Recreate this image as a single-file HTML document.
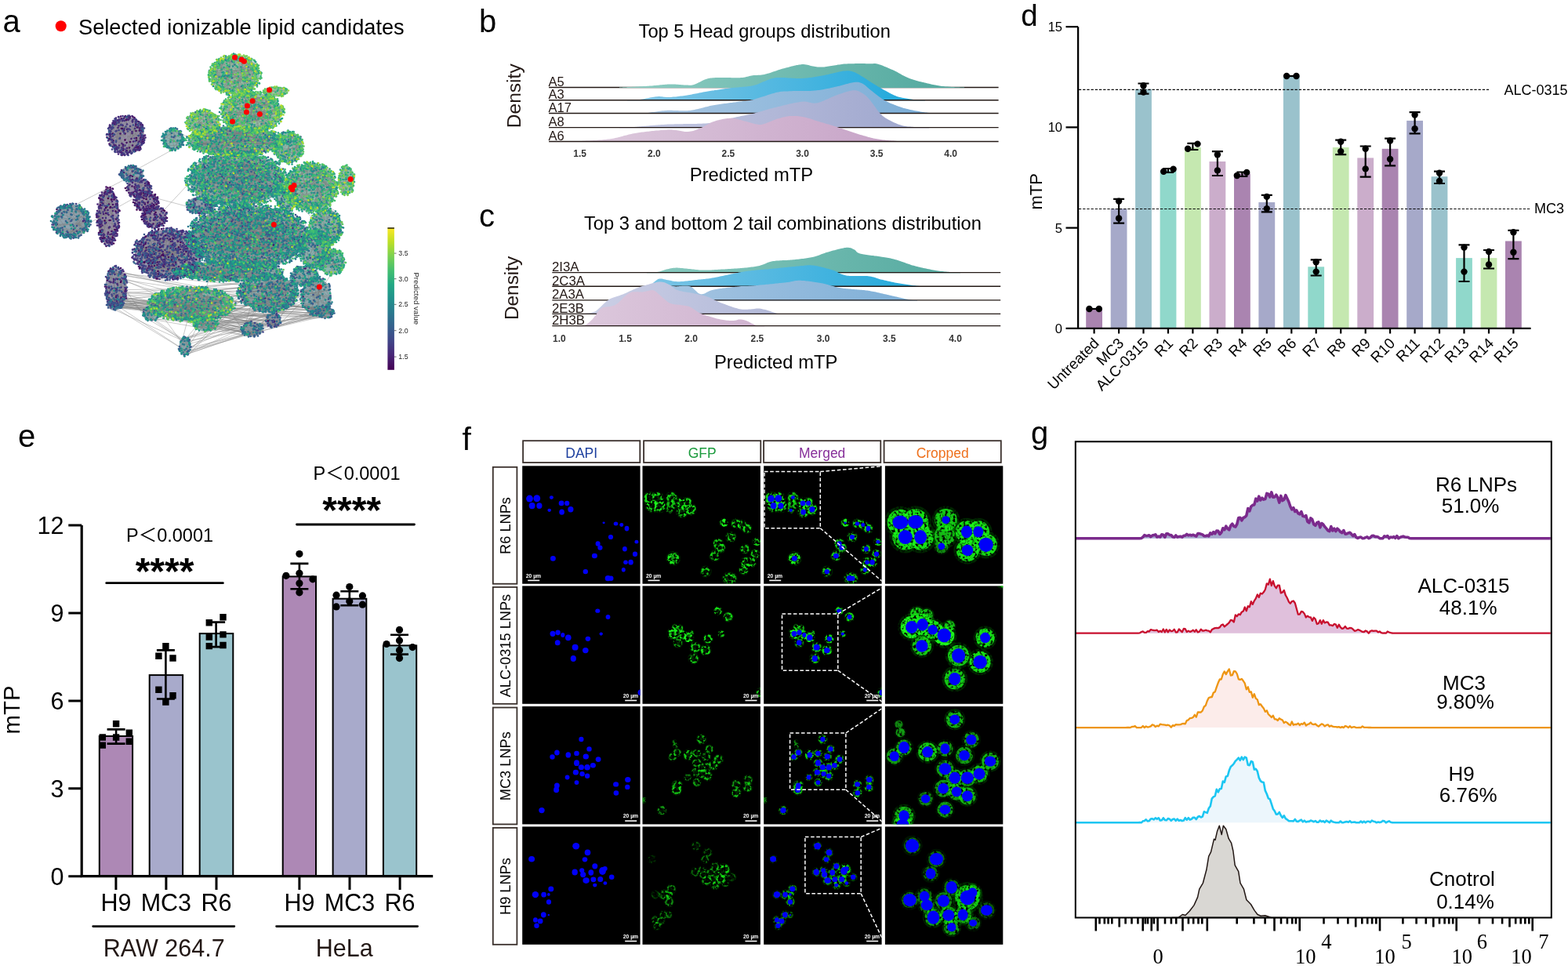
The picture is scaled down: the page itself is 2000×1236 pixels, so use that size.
<!DOCTYPE html>
<html><head><meta charset="utf-8"><title>Figure</title>
<style>html,body{margin:0;padding:0;background:#fff;width:2000px;height:1236px;overflow:hidden}svg{display:block}</style>
</head><body><svg width="2000" height="1236" viewBox="0 0 2000 1236"><defs><linearGradient id="vir" x1="0" y1="1" x2="0" y2="0"><stop offset="0" stop-color="rgb(68,1,84)"/><stop offset="0.1" stop-color="rgb(72,36,117)"/><stop offset="0.2" stop-color="rgb(65,68,135)"/><stop offset="0.3" stop-color="rgb(53,95,141)"/><stop offset="0.4" stop-color="rgb(42,120,142)"/><stop offset="0.5" stop-color="rgb(33,145,140)"/><stop offset="0.6" stop-color="rgb(34,168,132)"/><stop offset="0.7" stop-color="rgb(68,191,112)"/><stop offset="0.8" stop-color="rgb(122,209,81)"/><stop offset="0.9" stop-color="rgb(189,223,38)"/><stop offset="1" stop-color="rgb(253,231,37)"/></linearGradient></defs><defs><linearGradient id="gb0" gradientUnits="userSpaceOnUse" x1="760" y1="0" x2="1200" y2="0"><stop offset="0" stop-color="#93d0c5"/><stop offset="1" stop-color="#55aaa0"/></linearGradient><linearGradient id="gb1" gradientUnits="userSpaceOnUse" x1="760" y1="0" x2="1200" y2="0"><stop offset="0" stop-color="#93cbe8"/><stop offset="1" stop-color="#16a6da"/></linearGradient><linearGradient id="gb2" gradientUnits="userSpaceOnUse" x1="760" y1="0" x2="1200" y2="0"><stop offset="0" stop-color="#b2cbe4"/><stop offset="1" stop-color="#78acd6"/></linearGradient><linearGradient id="gb3" gradientUnits="userSpaceOnUse" x1="760" y1="0" x2="1200" y2="0"><stop offset="0" stop-color="#c8cce4"/><stop offset="1" stop-color="#9ca4cc"/></linearGradient><linearGradient id="gb4" gradientUnits="userSpaceOnUse" x1="760" y1="0" x2="1200" y2="0"><stop offset="0" stop-color="#dcc8dc"/><stop offset="1" stop-color="#c49ec4"/></linearGradient><linearGradient id="gc0" gradientUnits="userSpaceOnUse" x1="740" y1="0" x2="1220" y2="0"><stop offset="0" stop-color="#93d0c5"/><stop offset="1" stop-color="#55aaa0"/></linearGradient><linearGradient id="gc1" gradientUnits="userSpaceOnUse" x1="740" y1="0" x2="1220" y2="0"><stop offset="0" stop-color="#93cbe8"/><stop offset="1" stop-color="#16a6da"/></linearGradient><linearGradient id="gc2" gradientUnits="userSpaceOnUse" x1="740" y1="0" x2="1220" y2="0"><stop offset="0" stop-color="#b2cbe4"/><stop offset="1" stop-color="#78acd6"/></linearGradient><linearGradient id="gc3" gradientUnits="userSpaceOnUse" x1="740" y1="0" x2="1220" y2="0"><stop offset="0" stop-color="#ccd0e6"/><stop offset="1" stop-color="#9ca4cc"/></linearGradient><linearGradient id="gc4" gradientUnits="userSpaceOnUse" x1="740" y1="0" x2="1220" y2="0"><stop offset="0" stop-color="#dcc8dc"/><stop offset="1" stop-color="#c49ec4"/></linearGradient></defs><defs><filter id="spk" x="-10" y="-10" width="170" height="170" filterUnits="userSpaceOnUse"><feTurbulence type="fractalNoise" baseFrequency="0.32" numOctaves="2" seed="4" result="n"/><feColorMatrix in="n" type="matrix" values="0 0 0 0 0 0 0 0 0 0 0 0 0 0 0 0 0 0 5 -1.9" result="m"/><feComposite in="SourceGraphic" in2="m" operator="in"/></filter><filter id="spk2" x="-10" y="-10" width="170" height="170" filterUnits="userSpaceOnUse"><feTurbulence type="fractalNoise" baseFrequency="0.62" numOctaves="2" seed="9" result="n"/><feColorMatrix in="n" type="matrix" values="0 0 0 0 0 0 0 0 0 0 0 0 0 0 0 0 0 0 4 -1.1" result="m"/><feComposite in="SourceGraphic" in2="m" operator="in"/></filter><clipPath id="pc"><rect x="0" y="0" width="150.4" height="150.4"/></clipPath><g id="g0"><g filter="url(#spk)"><circle cx="9.3" cy="41.8" r="7.5" fill="#22ff22" fill-opacity="0.9"/><circle cx="9.3" cy="41.8" r="9.4" fill="#00c800" fill-opacity="0.2"/><circle cx="18.6" cy="41.5" r="7.5" fill="#22ff22" fill-opacity="0.9"/><circle cx="18.6" cy="41.5" r="9.4" fill="#00c800" fill-opacity="0.2"/><circle cx="12.4" cy="50.8" r="7.5" fill="#22ff22" fill-opacity="0.9"/><circle cx="12.4" cy="50.8" r="9.4" fill="#00c800" fill-opacity="0.2"/><circle cx="21.7" cy="50.8" r="7.5" fill="#22ff22" fill-opacity="0.9"/><circle cx="21.7" cy="50.8" r="9.4" fill="#00c800" fill-opacity="0.2"/><circle cx="37.2" cy="40.3" r="6.5" fill="#22ff22" fill-opacity="0.8"/><circle cx="37.2" cy="40.3" r="8.1" fill="#00c800" fill-opacity="0.2"/><circle cx="36.5" cy="50" r="6" fill="#22ff22" fill-opacity="0.7"/><circle cx="36.5" cy="50" r="7.5" fill="#00c800" fill-opacity="0.2"/><circle cx="34.5" cy="56.5" r="4" fill="#22ff22" fill-opacity="0.5"/><circle cx="34.5" cy="56.5" r="5" fill="#00c800" fill-opacity="0.1"/><circle cx="49.9" cy="47.6" r="6.5" fill="#22ff22" fill-opacity="0.9"/><circle cx="49.9" cy="47.6" r="8.1" fill="#00c800" fill-opacity="0.2"/><circle cx="57" cy="47.6" r="6.5" fill="#22ff22" fill-opacity="0.9"/><circle cx="57" cy="47.6" r="8.1" fill="#00c800" fill-opacity="0.2"/><circle cx="61.7" cy="55.5" r="6.5" fill="#22ff22" fill-opacity="0.9"/><circle cx="61.7" cy="55.5" r="8.1" fill="#00c800" fill-opacity="0.2"/><circle cx="50.4" cy="58.9" r="6.5" fill="#22ff22" fill-opacity="0.9"/><circle cx="50.4" cy="58.9" r="8.1" fill="#00c800" fill-opacity="0.2"/><circle cx="103.9" cy="72.5" r="5" fill="#22ff22" fill-opacity="1"/><circle cx="103.9" cy="72.5" r="6.2" fill="#00c800" fill-opacity="0.2"/><circle cx="119.3" cy="73.6" r="5.5" fill="#22ff22" fill-opacity="0.8"/><circle cx="119.3" cy="73.6" r="6.9" fill="#00c800" fill-opacity="0.2"/><circle cx="126.6" cy="75.2" r="5.5" fill="#22ff22" fill-opacity="0.8"/><circle cx="126.6" cy="75.2" r="6.9" fill="#00c800" fill-opacity="0.2"/><circle cx="133.3" cy="79.8" r="5.5" fill="#22ff22" fill-opacity="0.8"/><circle cx="133.3" cy="79.8" r="6.9" fill="#00c800" fill-opacity="0.2"/><circle cx="112.8" cy="90.7" r="6" fill="#22ff22" fill-opacity="0.8"/><circle cx="112.8" cy="90.7" r="7.5" fill="#00c800" fill-opacity="0.2"/><circle cx="145.7" cy="96.9" r="5" fill="#22ff22" fill-opacity="0.8"/><circle cx="145.7" cy="96.9" r="6.2" fill="#00c800" fill-opacity="0.2"/><circle cx="96.4" cy="99.2" r="6" fill="#22ff22" fill-opacity="0.8"/><circle cx="96.4" cy="99.2" r="7.5" fill="#00c800" fill-opacity="0.2"/><circle cx="99.2" cy="104.3" r="6" fill="#22ff22" fill-opacity="0.8"/><circle cx="99.2" cy="104.3" r="7.5" fill="#00c800" fill-opacity="0.2"/><circle cx="130.7" cy="105.9" r="5.5" fill="#22ff22" fill-opacity="0.8"/><circle cx="130.7" cy="105.9" r="6.9" fill="#00c800" fill-opacity="0.2"/><circle cx="143.8" cy="112.4" r="5.5" fill="#22ff22" fill-opacity="0.8"/><circle cx="143.8" cy="112.4" r="6.9" fill="#00c800" fill-opacity="0.2"/><circle cx="92.2" cy="114.7" r="6" fill="#22ff22" fill-opacity="0.8"/><circle cx="92.2" cy="114.7" r="7.5" fill="#00c800" fill-opacity="0.2"/><circle cx="39.2" cy="118.1" r="7.5" fill="#22ff22" fill-opacity="1"/><circle cx="39.2" cy="118.1" r="9.4" fill="#00c800" fill-opacity="0.2"/><circle cx="131.8" cy="122.9" r="6" fill="#22ff22" fill-opacity="0.8"/><circle cx="131.8" cy="122.9" r="7.5" fill="#00c800" fill-opacity="0.2"/><circle cx="138.4" cy="122.9" r="6" fill="#22ff22" fill-opacity="0.8"/><circle cx="138.4" cy="122.9" r="7.5" fill="#00c800" fill-opacity="0.2"/><circle cx="129.1" cy="132.5" r="5.5" fill="#22ff22" fill-opacity="0.8"/><circle cx="129.1" cy="132.5" r="6.9" fill="#00c800" fill-opacity="0.2"/><circle cx="80.6" cy="134.8" r="6" fill="#22ff22" fill-opacity="0.8"/><circle cx="80.6" cy="134.8" r="7.5" fill="#00c800" fill-opacity="0.2"/><circle cx="109.3" cy="143.4" r="6.5" fill="#22ff22" fill-opacity="0.7"/><circle cx="109.3" cy="143.4" r="8.1" fill="#00c800" fill-opacity="0.2"/><circle cx="113.1" cy="143.4" r="6.5" fill="#22ff22" fill-opacity="0.7"/><circle cx="113.1" cy="143.4" r="8.1" fill="#00c800" fill-opacity="0.2"/></g></g><g id="b0"><ellipse cx="9.3" cy="41.8" rx="4.4" ry="4.5" fill="#0000f8"/><ellipse cx="18.6" cy="41.5" rx="4.4" ry="4.5" fill="#0000f8"/><ellipse cx="12.4" cy="50.8" rx="4" ry="4.2" fill="#0000f8"/><ellipse cx="21.7" cy="50.8" rx="3.6" ry="3.9" fill="#0000f8"/><ellipse cx="37.2" cy="40.3" rx="2.5" ry="2.4" fill="#0000f8"/><ellipse cx="34.5" cy="56.5" rx="2.3" ry="2.1" fill="#0000f8"/><ellipse cx="49.9" cy="47.6" rx="3.4" ry="3.3" fill="#0000f8"/><ellipse cx="57" cy="47.6" rx="3.1" ry="3.1" fill="#0000f8"/><ellipse cx="61.7" cy="55.5" rx="3.6" ry="3.7" fill="#0000f8"/><ellipse cx="50.4" cy="58.9" rx="3.3" ry="3.6" fill="#0000f8"/><ellipse cx="103.9" cy="72.5" rx="1.6" ry="1.4" fill="#0000f8"/><ellipse cx="119.3" cy="73.6" rx="2.8" ry="2.5" fill="#0000f8"/><ellipse cx="126.6" cy="75.2" rx="2.5" ry="2.4" fill="#0000f8"/><ellipse cx="133.3" cy="79.8" rx="2.9" ry="3.4" fill="#0000f8"/><ellipse cx="112.8" cy="90.7" rx="3.1" ry="3.1" fill="#0000f8"/><ellipse cx="145.7" cy="96.9" rx="2.5" ry="2.4" fill="#0000f8"/><ellipse cx="96.4" cy="99.2" rx="3" ry="3.3" fill="#0000f8"/><ellipse cx="99.2" cy="104.3" rx="3.1" ry="3.2" fill="#0000f8"/><ellipse cx="130.7" cy="105.9" rx="2.9" ry="3.2" fill="#0000f8"/><ellipse cx="143.8" cy="112.4" rx="3.1" ry="3.2" fill="#0000f8"/><ellipse cx="92.2" cy="114.7" rx="3.5" ry="3.2" fill="#0000f8"/><ellipse cx="39.2" cy="118.1" rx="3.4" ry="3.3" fill="#0000f8"/><ellipse cx="131.8" cy="122.9" rx="2.8" ry="2.8" fill="#0000f8"/><ellipse cx="138.4" cy="122.9" rx="3.2" ry="3.4" fill="#0000f8"/><ellipse cx="129.1" cy="132.5" rx="2.5" ry="2.8" fill="#0000f8"/><ellipse cx="80.6" cy="134.8" rx="3.2" ry="3.2" fill="#0000f8"/><ellipse cx="109.3" cy="143.4" rx="3.8" ry="3.6" fill="#0000f8"/><ellipse cx="113.1" cy="143.4" rx="3.2" ry="3.3" fill="#0000f8"/></g><g id="h0"><ellipse cx="9.3" cy="41.8" rx="3.7" ry="3.8" fill="#000" fill-opacity="0.8"/><ellipse cx="18.6" cy="41.5" rx="3.7" ry="3.8" fill="#000" fill-opacity="0.8"/><ellipse cx="12.4" cy="50.8" rx="3.4" ry="3.5" fill="#000" fill-opacity="0.8"/><ellipse cx="21.7" cy="50.8" rx="3.1" ry="3.3" fill="#000" fill-opacity="0.8"/><ellipse cx="37.2" cy="40.3" rx="2.1" ry="2" fill="#000" fill-opacity="0.8"/><ellipse cx="34.5" cy="56.5" rx="2" ry="1.8" fill="#000" fill-opacity="0.8"/><ellipse cx="49.9" cy="47.6" rx="2.9" ry="2.8" fill="#000" fill-opacity="0.8"/><ellipse cx="57" cy="47.6" rx="2.7" ry="2.7" fill="#000" fill-opacity="0.8"/><ellipse cx="61.7" cy="55.5" rx="3.1" ry="3.2" fill="#000" fill-opacity="0.8"/><ellipse cx="50.4" cy="58.9" rx="2.8" ry="3.1" fill="#000" fill-opacity="0.8"/><ellipse cx="103.9" cy="72.5" rx="1.3" ry="1.2" fill="#000" fill-opacity="0.35"/><ellipse cx="119.3" cy="73.6" rx="2.4" ry="2.2" fill="#000" fill-opacity="0.8"/><ellipse cx="126.6" cy="75.2" rx="2.2" ry="2" fill="#000" fill-opacity="0.8"/><ellipse cx="133.3" cy="79.8" rx="2.5" ry="2.9" fill="#000" fill-opacity="0.8"/><ellipse cx="112.8" cy="90.7" rx="2.7" ry="2.7" fill="#000" fill-opacity="0.8"/><ellipse cx="145.7" cy="96.9" rx="2.1" ry="2.1" fill="#000" fill-opacity="0.8"/><ellipse cx="96.4" cy="99.2" rx="2.5" ry="2.8" fill="#000" fill-opacity="0.8"/><ellipse cx="99.2" cy="104.3" rx="2.7" ry="2.7" fill="#000" fill-opacity="0.8"/><ellipse cx="130.7" cy="105.9" rx="2.4" ry="2.7" fill="#000" fill-opacity="0.8"/><ellipse cx="143.8" cy="112.4" rx="2.6" ry="2.7" fill="#000" fill-opacity="0.8"/><ellipse cx="92.2" cy="114.7" rx="3" ry="2.7" fill="#000" fill-opacity="0.8"/><ellipse cx="39.2" cy="118.1" rx="2.9" ry="2.8" fill="#000" fill-opacity="0.35"/><ellipse cx="131.8" cy="122.9" rx="2.4" ry="2.4" fill="#000" fill-opacity="0.8"/><ellipse cx="138.4" cy="122.9" rx="2.7" ry="2.9" fill="#000" fill-opacity="0.8"/><ellipse cx="129.1" cy="132.5" rx="2.1" ry="2.4" fill="#000" fill-opacity="0.8"/><ellipse cx="80.6" cy="134.8" rx="2.7" ry="2.7" fill="#000" fill-opacity="0.8"/><ellipse cx="109.3" cy="143.4" rx="3.2" ry="3.1" fill="#000" fill-opacity="0.8"/><ellipse cx="113.1" cy="143.4" rx="2.7" ry="2.8" fill="#000" fill-opacity="0.8"/></g><g id="cg0"><g filter="url(#spk2)"><circle cx="9.3" cy="41.8" r="7.9" fill="#22ff22" fill-opacity="0.9"/><circle cx="9.3" cy="41.8" r="9.8" fill="#00c800" fill-opacity="0.2"/><circle cx="18.6" cy="41.5" r="7.9" fill="#22ff22" fill-opacity="0.9"/><circle cx="18.6" cy="41.5" r="9.8" fill="#00c800" fill-opacity="0.2"/><circle cx="12.4" cy="50.8" r="7.9" fill="#22ff22" fill-opacity="0.9"/><circle cx="12.4" cy="50.8" r="9.8" fill="#00c800" fill-opacity="0.2"/><circle cx="21.7" cy="50.8" r="7.9" fill="#22ff22" fill-opacity="0.9"/><circle cx="21.7" cy="50.8" r="9.8" fill="#00c800" fill-opacity="0.2"/><circle cx="37.2" cy="40.3" r="6.8" fill="#22ff22" fill-opacity="0.8"/><circle cx="37.2" cy="40.3" r="8.5" fill="#00c800" fill-opacity="0.2"/><circle cx="36.5" cy="50" r="6.3" fill="#22ff22" fill-opacity="0.7"/><circle cx="36.5" cy="50" r="7.9" fill="#00c800" fill-opacity="0.2"/><circle cx="34.5" cy="56.5" r="4.2" fill="#22ff22" fill-opacity="0.5"/><circle cx="34.5" cy="56.5" r="5.2" fill="#00c800" fill-opacity="0.1"/><circle cx="49.9" cy="47.6" r="6.8" fill="#22ff22" fill-opacity="0.9"/><circle cx="49.9" cy="47.6" r="8.5" fill="#00c800" fill-opacity="0.2"/><circle cx="57" cy="47.6" r="6.8" fill="#22ff22" fill-opacity="0.9"/><circle cx="57" cy="47.6" r="8.5" fill="#00c800" fill-opacity="0.2"/><circle cx="61.7" cy="55.5" r="6.8" fill="#22ff22" fill-opacity="0.9"/><circle cx="61.7" cy="55.5" r="8.5" fill="#00c800" fill-opacity="0.2"/><circle cx="50.4" cy="58.9" r="6.8" fill="#22ff22" fill-opacity="0.9"/><circle cx="50.4" cy="58.9" r="8.5" fill="#00c800" fill-opacity="0.2"/><circle cx="103.9" cy="72.5" r="5.2" fill="#22ff22" fill-opacity="1"/><circle cx="103.9" cy="72.5" r="6.6" fill="#00c800" fill-opacity="0.2"/><circle cx="119.3" cy="73.6" r="5.8" fill="#22ff22" fill-opacity="0.8"/><circle cx="119.3" cy="73.6" r="7.2" fill="#00c800" fill-opacity="0.2"/><circle cx="126.6" cy="75.2" r="5.8" fill="#22ff22" fill-opacity="0.8"/><circle cx="126.6" cy="75.2" r="7.2" fill="#00c800" fill-opacity="0.2"/><circle cx="133.3" cy="79.8" r="5.8" fill="#22ff22" fill-opacity="0.8"/><circle cx="133.3" cy="79.8" r="7.2" fill="#00c800" fill-opacity="0.2"/><circle cx="112.8" cy="90.7" r="6.3" fill="#22ff22" fill-opacity="0.8"/><circle cx="112.8" cy="90.7" r="7.9" fill="#00c800" fill-opacity="0.2"/><circle cx="145.7" cy="96.9" r="5.2" fill="#22ff22" fill-opacity="0.8"/><circle cx="145.7" cy="96.9" r="6.6" fill="#00c800" fill-opacity="0.2"/><circle cx="96.4" cy="99.2" r="6.3" fill="#22ff22" fill-opacity="0.8"/><circle cx="96.4" cy="99.2" r="7.9" fill="#00c800" fill-opacity="0.2"/><circle cx="99.2" cy="104.3" r="6.3" fill="#22ff22" fill-opacity="0.8"/><circle cx="99.2" cy="104.3" r="7.9" fill="#00c800" fill-opacity="0.2"/><circle cx="130.7" cy="105.9" r="5.8" fill="#22ff22" fill-opacity="0.8"/><circle cx="130.7" cy="105.9" r="7.2" fill="#00c800" fill-opacity="0.2"/><circle cx="143.8" cy="112.4" r="5.8" fill="#22ff22" fill-opacity="0.8"/><circle cx="143.8" cy="112.4" r="7.2" fill="#00c800" fill-opacity="0.2"/><circle cx="92.2" cy="114.7" r="6.3" fill="#22ff22" fill-opacity="0.8"/><circle cx="92.2" cy="114.7" r="7.9" fill="#00c800" fill-opacity="0.2"/><circle cx="39.2" cy="118.1" r="7.9" fill="#22ff22" fill-opacity="1"/><circle cx="39.2" cy="118.1" r="9.8" fill="#00c800" fill-opacity="0.2"/><circle cx="131.8" cy="122.9" r="6.3" fill="#22ff22" fill-opacity="0.8"/><circle cx="131.8" cy="122.9" r="7.9" fill="#00c800" fill-opacity="0.2"/><circle cx="138.4" cy="122.9" r="6.3" fill="#22ff22" fill-opacity="0.8"/><circle cx="138.4" cy="122.9" r="7.9" fill="#00c800" fill-opacity="0.2"/><circle cx="129.1" cy="132.5" r="5.8" fill="#22ff22" fill-opacity="0.8"/><circle cx="129.1" cy="132.5" r="7.2" fill="#00c800" fill-opacity="0.2"/><circle cx="80.6" cy="134.8" r="6.3" fill="#22ff22" fill-opacity="0.8"/><circle cx="80.6" cy="134.8" r="7.9" fill="#00c800" fill-opacity="0.2"/><circle cx="109.3" cy="143.4" r="6.8" fill="#22ff22" fill-opacity="0.7"/><circle cx="109.3" cy="143.4" r="8.5" fill="#00c800" fill-opacity="0.2"/><circle cx="113.1" cy="143.4" r="6.8" fill="#22ff22" fill-opacity="0.7"/><circle cx="113.1" cy="143.4" r="8.5" fill="#00c800" fill-opacity="0.2"/></g></g><g id="cb0"><ellipse cx="9.3" cy="41.8" rx="4.7" ry="4.2" fill="#0000f8"/><ellipse cx="18.6" cy="41.5" rx="4.7" ry="4.1" fill="#0000f8"/><ellipse cx="12.4" cy="50.8" rx="4.3" ry="4.3" fill="#0000f8"/><ellipse cx="21.7" cy="50.8" rx="3.8" ry="4.3" fill="#0000f8"/><ellipse cx="37.2" cy="40.3" rx="2.4" ry="2.4" fill="#0000f8"/><ellipse cx="34.5" cy="56.5" rx="2.1" ry="2.1" fill="#0000f8"/><ellipse cx="49.9" cy="47.6" rx="3.4" ry="3.8" fill="#0000f8"/><ellipse cx="57" cy="47.6" rx="3.1" ry="3.4" fill="#0000f8"/><ellipse cx="61.7" cy="55.5" rx="4.4" ry="4.4" fill="#0000f8"/><ellipse cx="50.4" cy="58.9" rx="3.5" ry="3.5" fill="#0000f8"/><ellipse cx="103.9" cy="72.5" rx="1.6" ry="1.6" fill="#0000f8"/><ellipse cx="119.3" cy="73.6" rx="2.7" ry="2.9" fill="#0000f8"/><ellipse cx="126.6" cy="75.2" rx="2.7" ry="2.8" fill="#0000f8"/><ellipse cx="133.3" cy="79.8" rx="3.1" ry="3.6" fill="#0000f8"/><ellipse cx="112.8" cy="90.7" rx="3.2" ry="3.4" fill="#0000f8"/><ellipse cx="145.7" cy="96.9" rx="2.5" ry="2.6" fill="#0000f8"/><ellipse cx="96.4" cy="99.2" rx="3.2" ry="3.5" fill="#0000f8"/><ellipse cx="99.2" cy="104.3" rx="3.3" ry="3.2" fill="#0000f8"/><ellipse cx="130.7" cy="105.9" rx="3.1" ry="3" fill="#0000f8"/><ellipse cx="143.8" cy="112.4" rx="2.9" ry="3" fill="#0000f8"/><ellipse cx="92.2" cy="114.7" rx="3.6" ry="3.7" fill="#0000f8"/><ellipse cx="39.2" cy="118.1" rx="3.5" ry="3.4" fill="#0000f8"/><ellipse cx="131.8" cy="122.9" rx="3.4" ry="3.2" fill="#0000f8"/><ellipse cx="138.4" cy="122.9" rx="3.4" ry="3.3" fill="#0000f8"/><ellipse cx="129.1" cy="132.5" rx="2.9" ry="3" fill="#0000f8"/><ellipse cx="80.6" cy="134.8" rx="3.4" ry="3.4" fill="#0000f8"/><ellipse cx="109.3" cy="143.4" rx="3.5" ry="4" fill="#0000f8"/><ellipse cx="113.1" cy="143.4" rx="3.2" ry="3.5" fill="#0000f8"/></g><g id="g1"><g filter="url(#spk)"><circle cx="96.1" cy="31.8" r="5" fill="#22ff22" fill-opacity="0.9"/><circle cx="96.1" cy="31.8" r="6.2" fill="#00c800" fill-opacity="0.2"/><circle cx="109.3" cy="39.5" r="5.6" fill="#22ff22" fill-opacity="0.9"/><circle cx="109.3" cy="39.5" r="7" fill="#00c800" fill-opacity="0.2"/><circle cx="38.8" cy="60.9" r="6.5" fill="#22ff22" fill-opacity="1"/><circle cx="38.8" cy="60.9" r="8.1" fill="#00c800" fill-opacity="0.2"/><circle cx="45.4" cy="59.4" r="6" fill="#22ff22" fill-opacity="1"/><circle cx="45.4" cy="59.4" r="7.5" fill="#00c800" fill-opacity="0.2"/><circle cx="51.6" cy="62.5" r="5.5" fill="#22ff22" fill-opacity="0.9"/><circle cx="51.6" cy="62.5" r="6.9" fill="#00c800" fill-opacity="0.2"/><circle cx="58.6" cy="65.9" r="6" fill="#22ff22" fill-opacity="1"/><circle cx="58.6" cy="65.9" r="7.5" fill="#00c800" fill-opacity="0.2"/><circle cx="100.5" cy="61.2" r="4" fill="#22ff22" fill-opacity="0.8"/><circle cx="100.5" cy="61.2" r="5" fill="#00c800" fill-opacity="0.2"/><circle cx="83.7" cy="67.4" r="5.5" fill="#22ff22" fill-opacity="0.9"/><circle cx="83.7" cy="67.4" r="6.9" fill="#00c800" fill-opacity="0.2"/><circle cx="45" cy="72.4" r="5.5" fill="#22ff22" fill-opacity="0.8"/><circle cx="45" cy="72.4" r="6.9" fill="#00c800" fill-opacity="0.2"/><circle cx="67.4" cy="78.3" r="6.2" fill="#22ff22" fill-opacity="0.8"/><circle cx="67.4" cy="78.3" r="7.8" fill="#00c800" fill-opacity="0.2"/><circle cx="80.6" cy="82.2" r="6.2" fill="#22ff22" fill-opacity="0.9"/><circle cx="80.6" cy="82.2" r="7.8" fill="#00c800" fill-opacity="0.2"/><circle cx="65.1" cy="92.6" r="6" fill="#22ff22" fill-opacity="0.8"/><circle cx="65.1" cy="92.6" r="7.5" fill="#00c800" fill-opacity="0.2"/><circle cx="151.5" cy="136" r="6" fill="#22ff22" fill-opacity="0.8"/><circle cx="151.5" cy="136" r="7.5" fill="#00c800" fill-opacity="0.2"/><circle cx="42" cy="53" r="4" fill="#22ff22" fill-opacity="0.8"/><circle cx="42" cy="53" r="5" fill="#00c800" fill-opacity="0.2"/><circle cx="48" cy="53.5" r="3.5" fill="#22ff22" fill-opacity="0.7"/><circle cx="48" cy="53.5" r="4.4" fill="#00c800" fill-opacity="0.2"/><circle cx="62" cy="60" r="3" fill="#22ff22" fill-opacity="0.7"/><circle cx="62" cy="60" r="3.8" fill="#00c800" fill-opacity="0.2"/></g></g><g id="b1"><ellipse cx="96.1" cy="31.8" rx="3" ry="2.6" fill="#0000f8"/><ellipse cx="109.3" cy="39.5" rx="2.9" ry="3" fill="#0000f8"/><ellipse cx="38.8" cy="60.9" rx="3.5" ry="3.6" fill="#0000f8"/><ellipse cx="45.4" cy="59.4" rx="3.2" ry="3.4" fill="#0000f8"/><ellipse cx="51.6" cy="62.5" rx="2.6" ry="3" fill="#0000f8"/><ellipse cx="58.6" cy="65.9" rx="3.8" ry="3.9" fill="#0000f8"/><ellipse cx="100.5" cy="61.2" rx="2.2" ry="2.1" fill="#0000f8"/><ellipse cx="83.7" cy="67.4" rx="3.3" ry="3.1" fill="#0000f8"/><ellipse cx="45" cy="72.4" rx="3.4" ry="3.5" fill="#0000f8"/><ellipse cx="67.4" cy="78.3" rx="4" ry="3.9" fill="#0000f8"/><ellipse cx="80.6" cy="82.2" rx="3.8" ry="3.7" fill="#0000f8"/><ellipse cx="65.1" cy="92.6" rx="3.6" ry="4" fill="#0000f8"/><ellipse cx="151.5" cy="136" rx="4.2" ry="4" fill="#0000f8"/></g><g id="h1"><ellipse cx="96.1" cy="31.8" rx="2.5" ry="2.2" fill="#000" fill-opacity="0.8"/><ellipse cx="109.3" cy="39.5" rx="2.5" ry="2.6" fill="#000" fill-opacity="0.8"/><ellipse cx="38.8" cy="60.9" rx="3" ry="3" fill="#000" fill-opacity="0.35"/><ellipse cx="45.4" cy="59.4" rx="2.7" ry="2.9" fill="#000" fill-opacity="0.35"/><ellipse cx="51.6" cy="62.5" rx="2.2" ry="2.5" fill="#000" fill-opacity="0.8"/><ellipse cx="58.6" cy="65.9" rx="3.2" ry="3.3" fill="#000" fill-opacity="0.35"/><ellipse cx="100.5" cy="61.2" rx="1.8" ry="1.8" fill="#000" fill-opacity="0.8"/><ellipse cx="83.7" cy="67.4" rx="2.8" ry="2.6" fill="#000" fill-opacity="0.8"/><ellipse cx="45" cy="72.4" rx="2.9" ry="3" fill="#000" fill-opacity="0.8"/><ellipse cx="67.4" cy="78.3" rx="3.4" ry="3.3" fill="#000" fill-opacity="0.8"/><ellipse cx="80.6" cy="82.2" rx="3.3" ry="3.1" fill="#000" fill-opacity="0.8"/><ellipse cx="65.1" cy="92.6" rx="3.1" ry="3.4" fill="#000" fill-opacity="0.8"/><ellipse cx="151.5" cy="136" rx="3.6" ry="3.4" fill="#000" fill-opacity="0.8"/></g><g id="cg1"><g filter="url(#spk2)"><circle cx="96.1" cy="31.8" r="5.2" fill="#22ff22" fill-opacity="0.9"/><circle cx="96.1" cy="31.8" r="6.6" fill="#00c800" fill-opacity="0.2"/><circle cx="109.3" cy="39.5" r="5.9" fill="#22ff22" fill-opacity="0.9"/><circle cx="109.3" cy="39.5" r="7.3" fill="#00c800" fill-opacity="0.2"/><circle cx="38.8" cy="60.9" r="6.8" fill="#22ff22" fill-opacity="1"/><circle cx="38.8" cy="60.9" r="8.5" fill="#00c800" fill-opacity="0.2"/><circle cx="45.4" cy="59.4" r="6.3" fill="#22ff22" fill-opacity="1"/><circle cx="45.4" cy="59.4" r="7.9" fill="#00c800" fill-opacity="0.2"/><circle cx="51.6" cy="62.5" r="5.8" fill="#22ff22" fill-opacity="0.9"/><circle cx="51.6" cy="62.5" r="7.2" fill="#00c800" fill-opacity="0.2"/><circle cx="58.6" cy="65.9" r="6.3" fill="#22ff22" fill-opacity="1"/><circle cx="58.6" cy="65.9" r="7.9" fill="#00c800" fill-opacity="0.2"/><circle cx="100.5" cy="61.2" r="4.2" fill="#22ff22" fill-opacity="0.8"/><circle cx="100.5" cy="61.2" r="5.2" fill="#00c800" fill-opacity="0.2"/><circle cx="83.7" cy="67.4" r="5.8" fill="#22ff22" fill-opacity="0.9"/><circle cx="83.7" cy="67.4" r="7.2" fill="#00c800" fill-opacity="0.2"/><circle cx="45" cy="72.4" r="5.8" fill="#22ff22" fill-opacity="0.8"/><circle cx="45" cy="72.4" r="7.2" fill="#00c800" fill-opacity="0.2"/><circle cx="67.4" cy="78.3" r="6.5" fill="#22ff22" fill-opacity="0.8"/><circle cx="67.4" cy="78.3" r="8.1" fill="#00c800" fill-opacity="0.2"/><circle cx="80.6" cy="82.2" r="6.5" fill="#22ff22" fill-opacity="0.9"/><circle cx="80.6" cy="82.2" r="8.1" fill="#00c800" fill-opacity="0.2"/><circle cx="65.1" cy="92.6" r="6.3" fill="#22ff22" fill-opacity="0.8"/><circle cx="65.1" cy="92.6" r="7.9" fill="#00c800" fill-opacity="0.2"/><circle cx="151.5" cy="136" r="6.3" fill="#22ff22" fill-opacity="0.8"/><circle cx="151.5" cy="136" r="7.9" fill="#00c800" fill-opacity="0.2"/><circle cx="42" cy="53" r="4.2" fill="#22ff22" fill-opacity="0.8"/><circle cx="42" cy="53" r="5.2" fill="#00c800" fill-opacity="0.2"/><circle cx="48" cy="53.5" r="3.7" fill="#22ff22" fill-opacity="0.7"/><circle cx="48" cy="53.5" r="4.6" fill="#00c800" fill-opacity="0.2"/><circle cx="62" cy="60" r="3.2" fill="#22ff22" fill-opacity="0.7"/><circle cx="62" cy="60" r="3.9" fill="#00c800" fill-opacity="0.2"/></g></g><g id="cb1"><ellipse cx="96.1" cy="31.8" rx="2.9" ry="2.9" fill="#0000f8"/><ellipse cx="109.3" cy="39.5" rx="2.7" ry="2.8" fill="#0000f8"/><ellipse cx="38.8" cy="60.9" rx="3.7" ry="3.8" fill="#0000f8"/><ellipse cx="45.4" cy="59.4" rx="3.5" ry="3.7" fill="#0000f8"/><ellipse cx="51.6" cy="62.5" rx="3.1" ry="3" fill="#0000f8"/><ellipse cx="58.6" cy="65.9" rx="4.2" ry="4.3" fill="#0000f8"/><ellipse cx="100.5" cy="61.2" rx="2.1" ry="2.2" fill="#0000f8"/><ellipse cx="83.7" cy="67.4" rx="3.1" ry="3.2" fill="#0000f8"/><ellipse cx="45" cy="72.4" rx="3.7" ry="3.7" fill="#0000f8"/><ellipse cx="67.4" cy="78.3" rx="4.1" ry="4.5" fill="#0000f8"/><ellipse cx="80.6" cy="82.2" rx="4.2" ry="4.1" fill="#0000f8"/><ellipse cx="65.1" cy="92.6" rx="3.6" ry="3.9" fill="#0000f8"/><ellipse cx="151.5" cy="136" rx="3.9" ry="4.2" fill="#0000f8"/></g><g id="g2"><g filter="url(#spk)"><circle cx="75.2" cy="42" r="5.5" fill="#22ff22" fill-opacity="0.7"/><circle cx="75.2" cy="42" r="6.9" fill="#00c800" fill-opacity="0.2"/><circle cx="85.3" cy="54.4" r="5" fill="#22ff22" fill-opacity="0.6"/><circle cx="85.3" cy="54.4" r="6.2" fill="#00c800" fill-opacity="0.1"/><circle cx="44.2" cy="59.1" r="5" fill="#22ff22" fill-opacity="0.6"/><circle cx="44.2" cy="59.1" r="6.2" fill="#00c800" fill-opacity="0.1"/><circle cx="38.3" cy="64.5" r="5" fill="#22ff22" fill-opacity="0.6"/><circle cx="38.3" cy="64.5" r="6.2" fill="#00c800" fill-opacity="0.1"/><circle cx="58.6" cy="61.9" r="6" fill="#22ff22" fill-opacity="0.8"/><circle cx="58.6" cy="61.9" r="7.5" fill="#00c800" fill-opacity="0.2"/><circle cx="69.3" cy="59.9" r="5" fill="#22ff22" fill-opacity="0.6"/><circle cx="69.3" cy="59.9" r="6.2" fill="#00c800" fill-opacity="0.1"/><circle cx="81.1" cy="64" r="5.5" fill="#22ff22" fill-opacity="0.6"/><circle cx="81.1" cy="64" r="6.9" fill="#00c800" fill-opacity="0.1"/><circle cx="96.9" cy="67.6" r="5.5" fill="#22ff22" fill-opacity="0.7"/><circle cx="96.9" cy="67.6" r="6.9" fill="#00c800" fill-opacity="0.2"/><circle cx="69.3" cy="72.2" r="5.5" fill="#22ff22" fill-opacity="0.6"/><circle cx="69.3" cy="72.2" r="6.9" fill="#00c800" fill-opacity="0.1"/><circle cx="75.2" cy="77.7" r="5.5" fill="#22ff22" fill-opacity="0.6"/><circle cx="75.2" cy="77.7" r="6.9" fill="#00c800" fill-opacity="0.1"/><circle cx="82.9" cy="77.7" r="5.5" fill="#22ff22" fill-opacity="0.6"/><circle cx="82.9" cy="77.7" r="6.9" fill="#00c800" fill-opacity="0.1"/><circle cx="90.2" cy="75.3" r="5.5" fill="#22ff22" fill-opacity="0.7"/><circle cx="90.2" cy="75.3" r="6.9" fill="#00c800" fill-opacity="0.2"/><circle cx="68.2" cy="84.2" r="5.5" fill="#22ff22" fill-opacity="0.6"/><circle cx="68.2" cy="84.2" r="6.9" fill="#00c800" fill-opacity="0.1"/><circle cx="76.4" cy="86.2" r="5.5" fill="#22ff22" fill-opacity="0.6"/><circle cx="76.4" cy="86.2" r="6.9" fill="#00c800" fill-opacity="0.1"/><circle cx="82.9" cy="88.8" r="5.5" fill="#22ff22" fill-opacity="0.7"/><circle cx="82.9" cy="88.8" r="6.9" fill="#00c800" fill-opacity="0.2"/><circle cx="57.4" cy="90.5" r="4.5" fill="#22ff22" fill-opacity="0.5"/><circle cx="57.4" cy="90.5" r="5.6" fill="#00c800" fill-opacity="0.1"/><circle cx="69.3" cy="97.1" r="5" fill="#22ff22" fill-opacity="0.6"/><circle cx="69.3" cy="97.1" r="6.2" fill="#00c800" fill-opacity="0.1"/><circle cx="44.2" cy="100.9" r="6" fill="#22ff22" fill-opacity="0.7"/><circle cx="44.2" cy="100.9" r="7.5" fill="#00c800" fill-opacity="0.2"/><circle cx="43.4" cy="106.4" r="6" fill="#22ff22" fill-opacity="0.7"/><circle cx="43.4" cy="106.4" r="7.5" fill="#00c800" fill-opacity="0.2"/><circle cx="119.4" cy="99.4" r="5.5" fill="#22ff22" fill-opacity="0.6"/><circle cx="119.4" cy="99.4" r="6.9" fill="#00c800" fill-opacity="0.1"/><circle cx="134.6" cy="93.5" r="5.5" fill="#22ff22" fill-opacity="0.6"/><circle cx="134.6" cy="93.5" r="6.9" fill="#00c800" fill-opacity="0.1"/><circle cx="134.1" cy="102.9" r="5.5" fill="#22ff22" fill-opacity="0.7"/><circle cx="134.1" cy="102.9" r="6.9" fill="#00c800" fill-opacity="0.2"/><circle cx="119.7" cy="110.5" r="5.5" fill="#22ff22" fill-opacity="0.7"/><circle cx="119.7" cy="110.5" r="6.9" fill="#00c800" fill-opacity="0.2"/><circle cx="24.8" cy="132.6" r="5.5" fill="#22ff22" fill-opacity="0.6"/><circle cx="24.8" cy="132.6" r="6.9" fill="#00c800" fill-opacity="0.1"/><circle cx="0.8" cy="119.6" r="4" fill="#22ff22" fill-opacity="0.5"/><circle cx="0.8" cy="119.6" r="5" fill="#00c800" fill-opacity="0.1"/><circle cx="42" cy="50" r="3" fill="#22ff22" fill-opacity="0.6"/><circle cx="42" cy="50" r="3.8" fill="#00c800" fill-opacity="0.1"/><circle cx="41" cy="45" r="2.5" fill="#22ff22" fill-opacity="0.5"/><circle cx="41" cy="45" r="3.1" fill="#00c800" fill-opacity="0.1"/></g></g><g id="b2"><ellipse cx="75.2" cy="42" rx="3.1" ry="3.3" fill="#0000f8"/><ellipse cx="85.3" cy="54.4" rx="3.2" ry="3.2" fill="#0000f8"/><ellipse cx="44.2" cy="59.1" rx="3.3" ry="3.5" fill="#0000f8"/><ellipse cx="38.3" cy="64.5" rx="3.2" ry="3.3" fill="#0000f8"/><ellipse cx="58.6" cy="61.9" rx="3.3" ry="3.6" fill="#0000f8"/><ellipse cx="69.3" cy="59.9" rx="3.3" ry="3.2" fill="#0000f8"/><ellipse cx="81.1" cy="64" rx="3.7" ry="3.6" fill="#0000f8"/><ellipse cx="96.9" cy="67.6" rx="3.4" ry="3.4" fill="#0000f8"/><ellipse cx="69.3" cy="72.2" rx="3.5" ry="3.9" fill="#0000f8"/><ellipse cx="75.2" cy="77.7" rx="3.6" ry="3.4" fill="#0000f8"/><ellipse cx="82.9" cy="77.7" rx="3.8" ry="3.8" fill="#0000f8"/><ellipse cx="90.2" cy="75.3" rx="3.5" ry="3.2" fill="#0000f8"/><ellipse cx="68.2" cy="84.2" rx="3.6" ry="3.4" fill="#0000f8"/><ellipse cx="76.4" cy="86.2" rx="3.2" ry="3.1" fill="#0000f8"/><ellipse cx="82.9" cy="88.8" rx="3.2" ry="3.2" fill="#0000f8"/><ellipse cx="57.4" cy="90.5" rx="2.9" ry="2.9" fill="#0000f8"/><ellipse cx="69.3" cy="97.1" rx="2.9" ry="2.9" fill="#0000f8"/><ellipse cx="44.2" cy="100.9" rx="3.4" ry="3.5" fill="#0000f8"/><ellipse cx="43.4" cy="106.4" rx="3.5" ry="3.8" fill="#0000f8"/><ellipse cx="119.4" cy="99.4" rx="3.5" ry="3.2" fill="#0000f8"/><ellipse cx="134.6" cy="93.5" rx="3.7" ry="3.5" fill="#0000f8"/><ellipse cx="134.1" cy="102.9" rx="3.2" ry="3.2" fill="#0000f8"/><ellipse cx="119.7" cy="110.5" rx="3.3" ry="3.2" fill="#0000f8"/><ellipse cx="24.8" cy="132.6" rx="3.7" ry="3.6" fill="#0000f8"/></g><g id="h2"><ellipse cx="75.2" cy="42" rx="2.6" ry="2.8" fill="#000" fill-opacity="0.8"/><ellipse cx="85.3" cy="54.4" rx="2.7" ry="2.8" fill="#000" fill-opacity="0.8"/><ellipse cx="44.2" cy="59.1" rx="2.8" ry="3" fill="#000" fill-opacity="0.8"/><ellipse cx="38.3" cy="64.5" rx="2.7" ry="2.8" fill="#000" fill-opacity="0.8"/><ellipse cx="58.6" cy="61.9" rx="2.8" ry="3" fill="#000" fill-opacity="0.8"/><ellipse cx="69.3" cy="59.9" rx="2.8" ry="2.7" fill="#000" fill-opacity="0.8"/><ellipse cx="81.1" cy="64" rx="3.1" ry="3.1" fill="#000" fill-opacity="0.8"/><ellipse cx="96.9" cy="67.6" rx="2.9" ry="2.9" fill="#000" fill-opacity="0.8"/><ellipse cx="69.3" cy="72.2" rx="3" ry="3.3" fill="#000" fill-opacity="0.8"/><ellipse cx="75.2" cy="77.7" rx="3.1" ry="2.9" fill="#000" fill-opacity="0.8"/><ellipse cx="82.9" cy="77.7" rx="3.2" ry="3.3" fill="#000" fill-opacity="0.8"/><ellipse cx="90.2" cy="75.3" rx="3" ry="2.7" fill="#000" fill-opacity="0.8"/><ellipse cx="68.2" cy="84.2" rx="3" ry="2.9" fill="#000" fill-opacity="0.8"/><ellipse cx="76.4" cy="86.2" rx="2.7" ry="2.6" fill="#000" fill-opacity="0.8"/><ellipse cx="82.9" cy="88.8" rx="2.7" ry="2.8" fill="#000" fill-opacity="0.8"/><ellipse cx="57.4" cy="90.5" rx="2.4" ry="2.5" fill="#000" fill-opacity="0.8"/><ellipse cx="69.3" cy="97.1" rx="2.4" ry="2.5" fill="#000" fill-opacity="0.8"/><ellipse cx="44.2" cy="100.9" rx="2.9" ry="3" fill="#000" fill-opacity="0.8"/><ellipse cx="43.4" cy="106.4" rx="3" ry="3.2" fill="#000" fill-opacity="0.8"/><ellipse cx="119.4" cy="99.4" rx="3" ry="2.7" fill="#000" fill-opacity="0.8"/><ellipse cx="134.6" cy="93.5" rx="3.1" ry="3" fill="#000" fill-opacity="0.8"/><ellipse cx="134.1" cy="102.9" rx="2.7" ry="2.7" fill="#000" fill-opacity="0.8"/><ellipse cx="119.7" cy="110.5" rx="2.8" ry="2.7" fill="#000" fill-opacity="0.8"/><ellipse cx="24.8" cy="132.6" rx="3.2" ry="3.1" fill="#000" fill-opacity="0.8"/></g><g id="cg2"><g filter="url(#spk2)"><circle cx="75.2" cy="42" r="5.2" fill="#22ff22" fill-opacity="0.7"/><circle cx="75.2" cy="42" r="6.5" fill="#00c800" fill-opacity="0.2"/><circle cx="85.3" cy="54.4" r="4.8" fill="#22ff22" fill-opacity="0.6"/><circle cx="85.3" cy="54.4" r="5.9" fill="#00c800" fill-opacity="0.1"/><circle cx="44.2" cy="59.1" r="4.8" fill="#22ff22" fill-opacity="0.6"/><circle cx="44.2" cy="59.1" r="5.9" fill="#00c800" fill-opacity="0.1"/><circle cx="38.3" cy="64.5" r="4.8" fill="#22ff22" fill-opacity="0.6"/><circle cx="38.3" cy="64.5" r="5.9" fill="#00c800" fill-opacity="0.1"/><circle cx="58.6" cy="61.9" r="5.7" fill="#22ff22" fill-opacity="0.8"/><circle cx="58.6" cy="61.9" r="7.1" fill="#00c800" fill-opacity="0.2"/><circle cx="69.3" cy="59.9" r="4.8" fill="#22ff22" fill-opacity="0.6"/><circle cx="69.3" cy="59.9" r="5.9" fill="#00c800" fill-opacity="0.1"/><circle cx="81.1" cy="64" r="5.2" fill="#22ff22" fill-opacity="0.6"/><circle cx="81.1" cy="64" r="6.5" fill="#00c800" fill-opacity="0.1"/><circle cx="96.9" cy="67.6" r="5.2" fill="#22ff22" fill-opacity="0.7"/><circle cx="96.9" cy="67.6" r="6.5" fill="#00c800" fill-opacity="0.2"/><circle cx="69.3" cy="72.2" r="5.2" fill="#22ff22" fill-opacity="0.6"/><circle cx="69.3" cy="72.2" r="6.5" fill="#00c800" fill-opacity="0.1"/><circle cx="75.2" cy="77.7" r="5.2" fill="#22ff22" fill-opacity="0.6"/><circle cx="75.2" cy="77.7" r="6.5" fill="#00c800" fill-opacity="0.1"/><circle cx="82.9" cy="77.7" r="5.2" fill="#22ff22" fill-opacity="0.6"/><circle cx="82.9" cy="77.7" r="6.5" fill="#00c800" fill-opacity="0.1"/><circle cx="90.2" cy="75.3" r="5.2" fill="#22ff22" fill-opacity="0.7"/><circle cx="90.2" cy="75.3" r="6.5" fill="#00c800" fill-opacity="0.2"/><circle cx="68.2" cy="84.2" r="5.2" fill="#22ff22" fill-opacity="0.6"/><circle cx="68.2" cy="84.2" r="6.5" fill="#00c800" fill-opacity="0.1"/><circle cx="76.4" cy="86.2" r="5.2" fill="#22ff22" fill-opacity="0.6"/><circle cx="76.4" cy="86.2" r="6.5" fill="#00c800" fill-opacity="0.1"/><circle cx="82.9" cy="88.8" r="5.2" fill="#22ff22" fill-opacity="0.7"/><circle cx="82.9" cy="88.8" r="6.5" fill="#00c800" fill-opacity="0.2"/><circle cx="57.4" cy="90.5" r="4.3" fill="#22ff22" fill-opacity="0.5"/><circle cx="57.4" cy="90.5" r="5.3" fill="#00c800" fill-opacity="0.1"/><circle cx="69.3" cy="97.1" r="4.8" fill="#22ff22" fill-opacity="0.6"/><circle cx="69.3" cy="97.1" r="5.9" fill="#00c800" fill-opacity="0.1"/><circle cx="44.2" cy="100.9" r="5.7" fill="#22ff22" fill-opacity="0.7"/><circle cx="44.2" cy="100.9" r="7.1" fill="#00c800" fill-opacity="0.2"/><circle cx="43.4" cy="106.4" r="5.7" fill="#22ff22" fill-opacity="0.7"/><circle cx="43.4" cy="106.4" r="7.1" fill="#00c800" fill-opacity="0.2"/><circle cx="119.4" cy="99.4" r="5.2" fill="#22ff22" fill-opacity="0.6"/><circle cx="119.4" cy="99.4" r="6.5" fill="#00c800" fill-opacity="0.1"/><circle cx="134.6" cy="93.5" r="5.2" fill="#22ff22" fill-opacity="0.6"/><circle cx="134.6" cy="93.5" r="6.5" fill="#00c800" fill-opacity="0.1"/><circle cx="134.1" cy="102.9" r="5.2" fill="#22ff22" fill-opacity="0.7"/><circle cx="134.1" cy="102.9" r="6.5" fill="#00c800" fill-opacity="0.2"/><circle cx="119.7" cy="110.5" r="5.2" fill="#22ff22" fill-opacity="0.7"/><circle cx="119.7" cy="110.5" r="6.5" fill="#00c800" fill-opacity="0.2"/><circle cx="24.8" cy="132.6" r="5.2" fill="#22ff22" fill-opacity="0.6"/><circle cx="24.8" cy="132.6" r="6.5" fill="#00c800" fill-opacity="0.1"/><circle cx="0.8" cy="119.6" r="3.8" fill="#22ff22" fill-opacity="0.5"/><circle cx="0.8" cy="119.6" r="4.8" fill="#00c800" fill-opacity="0.1"/><circle cx="42" cy="50" r="2.8" fill="#22ff22" fill-opacity="0.6"/><circle cx="42" cy="50" r="3.6" fill="#00c800" fill-opacity="0.1"/><circle cx="41" cy="45" r="2.4" fill="#22ff22" fill-opacity="0.5"/><circle cx="41" cy="45" r="3" fill="#00c800" fill-opacity="0.1"/></g></g><g id="cb2"><ellipse cx="75.2" cy="42" rx="3.1" ry="3" fill="#0000f8"/><ellipse cx="85.3" cy="54.4" rx="3.2" ry="3.1" fill="#0000f8"/><ellipse cx="44.2" cy="59.1" rx="3.3" ry="3.6" fill="#0000f8"/><ellipse cx="38.3" cy="64.5" rx="2.9" ry="3.1" fill="#0000f8"/><ellipse cx="58.6" cy="61.9" rx="3.3" ry="3.4" fill="#0000f8"/><ellipse cx="69.3" cy="59.9" rx="2.9" ry="3.3" fill="#0000f8"/><ellipse cx="81.1" cy="64" rx="3.3" ry="3.1" fill="#0000f8"/><ellipse cx="96.9" cy="67.6" rx="3.5" ry="3.2" fill="#0000f8"/><ellipse cx="69.3" cy="72.2" rx="3.7" ry="3.6" fill="#0000f8"/><ellipse cx="75.2" cy="77.7" rx="3.4" ry="3.6" fill="#0000f8"/><ellipse cx="82.9" cy="77.7" rx="3.9" ry="3.7" fill="#0000f8"/><ellipse cx="90.2" cy="75.3" rx="3.6" ry="3.5" fill="#0000f8"/><ellipse cx="68.2" cy="84.2" rx="3.3" ry="3.2" fill="#0000f8"/><ellipse cx="76.4" cy="86.2" rx="3.1" ry="3.1" fill="#0000f8"/><ellipse cx="82.9" cy="88.8" rx="3.3" ry="3.3" fill="#0000f8"/><ellipse cx="57.4" cy="90.5" rx="2.8" ry="2.7" fill="#0000f8"/><ellipse cx="69.3" cy="97.1" rx="3.3" ry="2.9" fill="#0000f8"/><ellipse cx="44.2" cy="100.9" rx="3.2" ry="3.4" fill="#0000f8"/><ellipse cx="43.4" cy="106.4" rx="3.8" ry="3.5" fill="#0000f8"/><ellipse cx="119.4" cy="99.4" rx="3.5" ry="3.6" fill="#0000f8"/><ellipse cx="134.6" cy="93.5" rx="3.6" ry="3.7" fill="#0000f8"/><ellipse cx="134.1" cy="102.9" rx="3.3" ry="3.3" fill="#0000f8"/><ellipse cx="119.7" cy="110.5" rx="3.7" ry="3.3" fill="#0000f8"/><ellipse cx="24.8" cy="132.6" rx="4.2" ry="4.2" fill="#0000f8"/></g><g id="g3"><g filter="url(#spk)"><circle cx="11.9" cy="41.4" r="4.8" fill="#22ff22" fill-opacity="0.2"/><circle cx="11.9" cy="41.4" r="6" fill="#00c800" fill-opacity="0.1"/><circle cx="68.5" cy="24.8" r="5.3" fill="#22ff22" fill-opacity="0.4"/><circle cx="68.5" cy="24.8" r="6.6" fill="#00c800" fill-opacity="0.1"/><circle cx="83.3" cy="33" r="5.2" fill="#22ff22" fill-opacity="0.4"/><circle cx="83.3" cy="33" r="6.5" fill="#00c800" fill-opacity="0.1"/><circle cx="79.8" cy="41.9" r="4.8" fill="#22ff22" fill-opacity="0.4"/><circle cx="79.8" cy="41.9" r="6" fill="#00c800" fill-opacity="0.1"/><circle cx="92.6" cy="50.4" r="5" fill="#22ff22" fill-opacity="0.4"/><circle cx="92.6" cy="50.4" r="6.2" fill="#00c800" fill-opacity="0.1"/><circle cx="67" cy="58.1" r="5.2" fill="#22ff22" fill-opacity="0.4"/><circle cx="67" cy="58.1" r="6.5" fill="#00c800" fill-opacity="0.1"/><circle cx="76" cy="55.8" r="5" fill="#22ff22" fill-opacity="0.4"/><circle cx="76" cy="55.8" r="6.2" fill="#00c800" fill-opacity="0.1"/><circle cx="77.5" cy="61.2" r="5" fill="#22ff22" fill-opacity="0.4"/><circle cx="77.5" cy="61.2" r="6.2" fill="#00c800" fill-opacity="0.1"/><circle cx="87.6" cy="58.6" r="5.5" fill="#22ff22" fill-opacity="0.5"/><circle cx="87.6" cy="58.6" r="6.9" fill="#00c800" fill-opacity="0.1"/><circle cx="102.3" cy="56.6" r="8" fill="#22ff22" fill-opacity="0.8"/><circle cx="102.3" cy="56.6" r="10" fill="#00c800" fill-opacity="0.2"/><circle cx="105.4" cy="53.5" r="5" fill="#22ff22" fill-opacity="0.6"/><circle cx="105.4" cy="53.5" r="6.2" fill="#00c800" fill-opacity="0.2"/><circle cx="114" cy="64.3" r="5" fill="#22ff22" fill-opacity="0.3"/><circle cx="114" cy="64.3" r="6.2" fill="#00c800" fill-opacity="0.1"/><circle cx="81.4" cy="68.7" r="5.5" fill="#22ff22" fill-opacity="0.6"/><circle cx="81.4" cy="68.7" r="6.9" fill="#00c800" fill-opacity="0.2"/><circle cx="90.7" cy="67.4" r="5.5" fill="#22ff22" fill-opacity="0.6"/><circle cx="90.7" cy="67.4" r="6.9" fill="#00c800" fill-opacity="0.2"/><circle cx="99.5" cy="67.1" r="5.5" fill="#22ff22" fill-opacity="0.6"/><circle cx="99.5" cy="67.1" r="6.9" fill="#00c800" fill-opacity="0.2"/><circle cx="92.6" cy="74.7" r="5" fill="#22ff22" fill-opacity="0.6"/><circle cx="92.6" cy="74.7" r="6.2" fill="#00c800" fill-opacity="0.2"/><circle cx="105.7" cy="72.1" r="4.5" fill="#22ff22" fill-opacity="0.4"/><circle cx="105.7" cy="72.1" r="5.6" fill="#00c800" fill-opacity="0.1"/><circle cx="16.7" cy="86.8" r="5" fill="#22ff22" fill-opacity="0.3"/><circle cx="16.7" cy="86.8" r="6.2" fill="#00c800" fill-opacity="0.1"/><circle cx="27.4" cy="86.8" r="5.5" fill="#22ff22" fill-opacity="0.6"/><circle cx="27.4" cy="86.8" r="6.9" fill="#00c800" fill-opacity="0.2"/><circle cx="33.6" cy="86.5" r="5" fill="#22ff22" fill-opacity="0.6"/><circle cx="33.6" cy="86.5" r="6.2" fill="#00c800" fill-opacity="0.2"/><circle cx="36.6" cy="79.5" r="5.5" fill="#22ff22" fill-opacity="0.5"/><circle cx="36.6" cy="79.5" r="6.9" fill="#00c800" fill-opacity="0.1"/><circle cx="33.8" cy="96.1" r="5.5" fill="#22ff22" fill-opacity="0.5"/><circle cx="33.8" cy="96.1" r="6.9" fill="#00c800" fill-opacity="0.1"/><circle cx="27.1" cy="112.4" r="5" fill="#22ff22" fill-opacity="0.4"/><circle cx="27.1" cy="112.4" r="6.2" fill="#00c800" fill-opacity="0.1"/><circle cx="33.6" cy="112.7" r="4" fill="#22ff22" fill-opacity="0.4"/><circle cx="33.6" cy="112.7" r="5" fill="#00c800" fill-opacity="0.1"/><circle cx="16.7" cy="119.1" r="5" fill="#22ff22" fill-opacity="0.4"/><circle cx="16.7" cy="119.1" r="6.2" fill="#00c800" fill-opacity="0.1"/><circle cx="22.9" cy="120.5" r="5" fill="#22ff22" fill-opacity="0.4"/><circle cx="22.9" cy="120.5" r="6.2" fill="#00c800" fill-opacity="0.1"/><circle cx="18.3" cy="126.4" r="5" fill="#22ff22" fill-opacity="0.4"/><circle cx="18.3" cy="126.4" r="6.2" fill="#00c800" fill-opacity="0.1"/></g></g><g id="b3"><ellipse cx="11.9" cy="41.4" rx="4" ry="3.8" fill="#0000f8"/><ellipse cx="68.5" cy="24.8" rx="4.5" ry="4.2" fill="#0000f8"/><ellipse cx="83.3" cy="33" rx="3.8" ry="3.8" fill="#0000f8"/><ellipse cx="79.8" cy="41.9" rx="3.3" ry="3.1" fill="#0000f8"/><ellipse cx="92.6" cy="50.4" rx="3.5" ry="3.6" fill="#0000f8"/><ellipse cx="67" cy="58.1" rx="3.7" ry="4" fill="#0000f8"/><ellipse cx="76" cy="55.8" rx="3.1" ry="3" fill="#0000f8"/><ellipse cx="77.5" cy="61.2" rx="3.6" ry="3.6" fill="#0000f8"/><ellipse cx="87.6" cy="58.6" rx="3.4" ry="3.7" fill="#0000f8"/><ellipse cx="102.3" cy="56.6" rx="4.4" ry="4.9" fill="#0000f8"/><ellipse cx="105.4" cy="53.5" rx="3.1" ry="2.9" fill="#0000f8"/><ellipse cx="114" cy="64.3" rx="3.3" ry="3.2" fill="#0000f8"/><ellipse cx="81.4" cy="68.7" rx="4.2" ry="3.8" fill="#0000f8"/><ellipse cx="90.7" cy="67.4" rx="3.5" ry="3.4" fill="#0000f8"/><ellipse cx="99.5" cy="67.1" rx="3.5" ry="3.5" fill="#0000f8"/><ellipse cx="92.6" cy="74.7" rx="2.6" ry="2.3" fill="#0000f8"/><ellipse cx="105.7" cy="72.1" rx="2.4" ry="2.2" fill="#0000f8"/><ellipse cx="16.7" cy="86.8" rx="4.2" ry="4.1" fill="#0000f8"/><ellipse cx="27.4" cy="86.8" rx="3.3" ry="3.4" fill="#0000f8"/><ellipse cx="33.6" cy="86.5" rx="1.9" ry="1.9" fill="#0000f8"/><ellipse cx="36.6" cy="79.5" rx="3.5" ry="3.4" fill="#0000f8"/><ellipse cx="33.8" cy="96.1" rx="3.1" ry="3.3" fill="#0000f8"/><ellipse cx="27.1" cy="112.4" rx="3.4" ry="3.6" fill="#0000f8"/><ellipse cx="33.6" cy="112.7" rx="1.3" ry="1.2" fill="#0000f8"/><ellipse cx="16.7" cy="119.1" rx="2.9" ry="3.2" fill="#0000f8"/><ellipse cx="22.9" cy="120.5" rx="3.4" ry="3.4" fill="#0000f8"/><ellipse cx="18.3" cy="126.4" rx="3.2" ry="3.2" fill="#0000f8"/></g><g id="h3"><ellipse cx="11.9" cy="41.4" rx="3.4" ry="3.2" fill="#000" fill-opacity="0.8"/><ellipse cx="68.5" cy="24.8" rx="3.8" ry="3.6" fill="#000" fill-opacity="0.8"/><ellipse cx="83.3" cy="33" rx="3.3" ry="3.2" fill="#000" fill-opacity="0.8"/><ellipse cx="79.8" cy="41.9" rx="2.8" ry="2.6" fill="#000" fill-opacity="0.8"/><ellipse cx="92.6" cy="50.4" rx="3" ry="3" fill="#000" fill-opacity="0.8"/><ellipse cx="67" cy="58.1" rx="3.1" ry="3.4" fill="#000" fill-opacity="0.8"/><ellipse cx="76" cy="55.8" rx="2.6" ry="2.5" fill="#000" fill-opacity="0.8"/><ellipse cx="77.5" cy="61.2" rx="3" ry="3" fill="#000" fill-opacity="0.8"/><ellipse cx="87.6" cy="58.6" rx="2.9" ry="3.2" fill="#000" fill-opacity="0.8"/><ellipse cx="102.3" cy="56.6" rx="3.8" ry="4.2" fill="#000" fill-opacity="0.8"/><ellipse cx="105.4" cy="53.5" rx="2.7" ry="2.4" fill="#000" fill-opacity="0.8"/><ellipse cx="114" cy="64.3" rx="2.8" ry="2.7" fill="#000" fill-opacity="0.8"/><ellipse cx="81.4" cy="68.7" rx="3.6" ry="3.2" fill="#000" fill-opacity="0.8"/><ellipse cx="90.7" cy="67.4" rx="2.9" ry="2.9" fill="#000" fill-opacity="0.8"/><ellipse cx="99.5" cy="67.1" rx="3" ry="2.9" fill="#000" fill-opacity="0.8"/><ellipse cx="92.6" cy="74.7" rx="2.2" ry="2" fill="#000" fill-opacity="0.8"/><ellipse cx="105.7" cy="72.1" rx="2" ry="1.9" fill="#000" fill-opacity="0.8"/><ellipse cx="16.7" cy="86.8" rx="3.6" ry="3.5" fill="#000" fill-opacity="0.8"/><ellipse cx="27.4" cy="86.8" rx="2.8" ry="2.9" fill="#000" fill-opacity="0.8"/><ellipse cx="33.6" cy="86.5" rx="1.6" ry="1.6" fill="#000" fill-opacity="0.8"/><ellipse cx="36.6" cy="79.5" rx="3" ry="2.9" fill="#000" fill-opacity="0.8"/><ellipse cx="33.8" cy="96.1" rx="2.7" ry="2.8" fill="#000" fill-opacity="0.8"/><ellipse cx="27.1" cy="112.4" rx="2.9" ry="3.1" fill="#000" fill-opacity="0.8"/><ellipse cx="33.6" cy="112.7" rx="1.1" ry="1" fill="#000" fill-opacity="0.8"/><ellipse cx="16.7" cy="119.1" rx="2.4" ry="2.8" fill="#000" fill-opacity="0.8"/><ellipse cx="22.9" cy="120.5" rx="2.9" ry="2.9" fill="#000" fill-opacity="0.8"/><ellipse cx="18.3" cy="126.4" rx="2.7" ry="2.7" fill="#000" fill-opacity="0.8"/></g><g id="cg3"><g filter="url(#spk2)"><circle cx="11.9" cy="41.4" r="4.6" fill="#22ff22" fill-opacity="0.2"/><circle cx="11.9" cy="41.4" r="5.7" fill="#00c800" fill-opacity="0.1"/><circle cx="68.5" cy="24.8" r="5" fill="#22ff22" fill-opacity="0.4"/><circle cx="68.5" cy="24.8" r="6.3" fill="#00c800" fill-opacity="0.1"/><circle cx="83.3" cy="33" r="4.9" fill="#22ff22" fill-opacity="0.4"/><circle cx="83.3" cy="33" r="6.2" fill="#00c800" fill-opacity="0.1"/><circle cx="79.8" cy="41.9" r="4.6" fill="#22ff22" fill-opacity="0.4"/><circle cx="79.8" cy="41.9" r="5.7" fill="#00c800" fill-opacity="0.1"/><circle cx="92.6" cy="50.4" r="4.8" fill="#22ff22" fill-opacity="0.4"/><circle cx="92.6" cy="50.4" r="5.9" fill="#00c800" fill-opacity="0.1"/><circle cx="67" cy="58.1" r="4.9" fill="#22ff22" fill-opacity="0.4"/><circle cx="67" cy="58.1" r="6.2" fill="#00c800" fill-opacity="0.1"/><circle cx="76" cy="55.8" r="4.8" fill="#22ff22" fill-opacity="0.4"/><circle cx="76" cy="55.8" r="5.9" fill="#00c800" fill-opacity="0.1"/><circle cx="77.5" cy="61.2" r="4.8" fill="#22ff22" fill-opacity="0.4"/><circle cx="77.5" cy="61.2" r="5.9" fill="#00c800" fill-opacity="0.1"/><circle cx="87.6" cy="58.6" r="5.2" fill="#22ff22" fill-opacity="0.5"/><circle cx="87.6" cy="58.6" r="6.5" fill="#00c800" fill-opacity="0.1"/><circle cx="102.3" cy="56.6" r="7.6" fill="#22ff22" fill-opacity="0.8"/><circle cx="102.3" cy="56.6" r="9.5" fill="#00c800" fill-opacity="0.2"/><circle cx="105.4" cy="53.5" r="4.8" fill="#22ff22" fill-opacity="0.6"/><circle cx="105.4" cy="53.5" r="5.9" fill="#00c800" fill-opacity="0.2"/><circle cx="114" cy="64.3" r="4.8" fill="#22ff22" fill-opacity="0.3"/><circle cx="114" cy="64.3" r="5.9" fill="#00c800" fill-opacity="0.1"/><circle cx="81.4" cy="68.7" r="5.2" fill="#22ff22" fill-opacity="0.6"/><circle cx="81.4" cy="68.7" r="6.5" fill="#00c800" fill-opacity="0.2"/><circle cx="90.7" cy="67.4" r="5.2" fill="#22ff22" fill-opacity="0.6"/><circle cx="90.7" cy="67.4" r="6.5" fill="#00c800" fill-opacity="0.2"/><circle cx="99.5" cy="67.1" r="5.2" fill="#22ff22" fill-opacity="0.6"/><circle cx="99.5" cy="67.1" r="6.5" fill="#00c800" fill-opacity="0.2"/><circle cx="92.6" cy="74.7" r="4.8" fill="#22ff22" fill-opacity="0.6"/><circle cx="92.6" cy="74.7" r="5.9" fill="#00c800" fill-opacity="0.2"/><circle cx="105.7" cy="72.1" r="4.3" fill="#22ff22" fill-opacity="0.4"/><circle cx="105.7" cy="72.1" r="5.3" fill="#00c800" fill-opacity="0.1"/><circle cx="16.7" cy="86.8" r="4.8" fill="#22ff22" fill-opacity="0.3"/><circle cx="16.7" cy="86.8" r="5.9" fill="#00c800" fill-opacity="0.1"/><circle cx="27.4" cy="86.8" r="5.2" fill="#22ff22" fill-opacity="0.6"/><circle cx="27.4" cy="86.8" r="6.5" fill="#00c800" fill-opacity="0.2"/><circle cx="33.6" cy="86.5" r="4.8" fill="#22ff22" fill-opacity="0.6"/><circle cx="33.6" cy="86.5" r="5.9" fill="#00c800" fill-opacity="0.2"/><circle cx="36.6" cy="79.5" r="5.2" fill="#22ff22" fill-opacity="0.5"/><circle cx="36.6" cy="79.5" r="6.5" fill="#00c800" fill-opacity="0.1"/><circle cx="33.8" cy="96.1" r="5.2" fill="#22ff22" fill-opacity="0.5"/><circle cx="33.8" cy="96.1" r="6.5" fill="#00c800" fill-opacity="0.1"/><circle cx="27.1" cy="112.4" r="4.8" fill="#22ff22" fill-opacity="0.4"/><circle cx="27.1" cy="112.4" r="5.9" fill="#00c800" fill-opacity="0.1"/><circle cx="33.6" cy="112.7" r="3.8" fill="#22ff22" fill-opacity="0.4"/><circle cx="33.6" cy="112.7" r="4.8" fill="#00c800" fill-opacity="0.1"/><circle cx="16.7" cy="119.1" r="4.8" fill="#22ff22" fill-opacity="0.4"/><circle cx="16.7" cy="119.1" r="5.9" fill="#00c800" fill-opacity="0.1"/><circle cx="22.9" cy="120.5" r="4.8" fill="#22ff22" fill-opacity="0.4"/><circle cx="22.9" cy="120.5" r="5.9" fill="#00c800" fill-opacity="0.1"/><circle cx="18.3" cy="126.4" r="4.8" fill="#22ff22" fill-opacity="0.4"/><circle cx="18.3" cy="126.4" r="5.9" fill="#00c800" fill-opacity="0.1"/></g></g><g id="cb3"><ellipse cx="11.9" cy="41.4" rx="3.9" ry="4.2" fill="#0000f8"/><ellipse cx="68.5" cy="24.8" rx="4.1" ry="4.1" fill="#0000f8"/><ellipse cx="83.3" cy="33" rx="4.1" ry="3.7" fill="#0000f8"/><ellipse cx="79.8" cy="41.9" rx="3" ry="3.3" fill="#0000f8"/><ellipse cx="92.6" cy="50.4" rx="3.4" ry="3.8" fill="#0000f8"/><ellipse cx="67" cy="58.1" rx="4" ry="3.9" fill="#0000f8"/><ellipse cx="76" cy="55.8" rx="3" ry="3.2" fill="#0000f8"/><ellipse cx="77.5" cy="61.2" rx="3.6" ry="3.2" fill="#0000f8"/><ellipse cx="87.6" cy="58.6" rx="3.7" ry="3.7" fill="#0000f8"/><ellipse cx="102.3" cy="56.6" rx="4.6" ry="4.5" fill="#0000f8"/><ellipse cx="105.4" cy="53.5" rx="2.8" ry="3" fill="#0000f8"/><ellipse cx="114" cy="64.3" rx="3.6" ry="3.2" fill="#0000f8"/><ellipse cx="81.4" cy="68.7" rx="3.7" ry="4.1" fill="#0000f8"/><ellipse cx="90.7" cy="67.4" rx="3.6" ry="3.5" fill="#0000f8"/><ellipse cx="99.5" cy="67.1" rx="3.1" ry="3.5" fill="#0000f8"/><ellipse cx="92.6" cy="74.7" rx="2.7" ry="2.7" fill="#0000f8"/><ellipse cx="105.7" cy="72.1" rx="2.4" ry="2.1" fill="#0000f8"/><ellipse cx="16.7" cy="86.8" rx="4.4" ry="4" fill="#0000f8"/><ellipse cx="27.4" cy="86.8" rx="3.5" ry="3.6" fill="#0000f8"/><ellipse cx="33.6" cy="86.5" rx="2" ry="1.8" fill="#0000f8"/><ellipse cx="36.6" cy="79.5" rx="3.3" ry="3.6" fill="#0000f8"/><ellipse cx="33.8" cy="96.1" rx="3.2" ry="3.5" fill="#0000f8"/><ellipse cx="27.1" cy="112.4" rx="3.4" ry="3.2" fill="#0000f8"/><ellipse cx="33.6" cy="112.7" rx="1.2" ry="1.1" fill="#0000f8"/><ellipse cx="16.7" cy="119.1" rx="2.9" ry="3" fill="#0000f8"/><ellipse cx="22.9" cy="120.5" rx="3.2" ry="3.2" fill="#0000f8"/><ellipse cx="18.3" cy="126.4" rx="3.1" ry="3.2" fill="#0000f8"/></g></defs><text x="3.5" y="41" text-anchor="start" fill="#000" style="font-family:'Liberation Sans','Noto Sans CJK SC',sans-serif;font-size:40px" >a</text><text x="611" y="41" text-anchor="start" fill="#000" style="font-family:'Liberation Sans','Noto Sans CJK SC',sans-serif;font-size:40px" >b</text><text x="611" y="288.5" text-anchor="start" fill="#000" style="font-family:'Liberation Sans','Noto Sans CJK SC',sans-serif;font-size:40px" >c</text><text x="1302.2" y="33" text-anchor="start" fill="#000" style="font-family:'Liberation Sans','Noto Sans CJK SC',sans-serif;font-size:38.5px" >d</text><text x="23" y="570" text-anchor="start" fill="#000" style="font-family:'Liberation Sans','Noto Sans CJK SC',sans-serif;font-size:40px" >e</text><text x="589.5" y="574.3" text-anchor="start" fill="#000" style="font-family:'Liberation Sans','Noto Sans CJK SC',sans-serif;font-size:41px" >f</text><text x="1315" y="566" text-anchor="start" fill="#000" style="font-family:'Liberation Sans','Noto Sans CJK SC',sans-serif;font-size:40px" >g</text><g fill-opacity="0.68"><ellipse cx="299.7" cy="95.6" rx="31.3" ry="24.8" fill="rgb(97,160,125)"/><ellipse cx="352" cy="117" rx="15.6" ry="6.4" fill="rgb(112,166,117)"/><ellipse cx="321" cy="143" rx="38.6" ry="24.8" fill="rgb(97,160,125)"/><ellipse cx="259" cy="156" rx="21.2" ry="15.6" fill="rgb(101,162,123)"/><ellipse cx="221" cy="178" rx="13.8" ry="13.8" fill="rgb(83,139,137)"/><ellipse cx="300" cy="180" rx="59.8" ry="18.4" fill="rgb(84,151,133)"/><ellipse cx="368" cy="188" rx="18.4" ry="20.2" fill="rgb(87,153,131)"/><ellipse cx="302" cy="229" rx="60.7" ry="34" fill="rgb(83,142,136)"/><ellipse cx="397" cy="239" rx="32.2" ry="30.4" fill="rgb(87,153,131)"/><ellipse cx="442" cy="230" rx="10.1" ry="18.4" fill="rgb(97,160,125)"/><ellipse cx="416" cy="290" rx="20.2" ry="23" fill="rgb(84,145,135)"/><ellipse cx="423" cy="334" rx="16.6" ry="16.6" fill="rgb(84,148,134)"/><ellipse cx="317" cy="302" rx="74.5" ry="39.6" fill="rgb(85,136,137)"/><ellipse cx="214" cy="324" rx="42.3" ry="31.3" fill="rgb(100,98,132)"/><ellipse cx="168" cy="222" rx="14.7" ry="10.1" fill="rgb(93,114,137)"/><ellipse cx="177" cy="240" rx="15.6" ry="12" fill="rgb(101,93,130)"/><ellipse cx="187" cy="258" rx="15.6" ry="12.9" fill="rgb(103,85,125)"/><ellipse cx="197" cy="277" rx="15.6" ry="13.8" fill="rgb(102,88,127)"/><ellipse cx="161" cy="172.7" rx="23" ry="23.9" fill="rgb(101,93,130)"/><ellipse cx="90.5" cy="282" rx="23.5" ry="21.2" fill="rgb(91,121,138)"/><ellipse cx="138" cy="276" rx="13.8" ry="35.9" fill="rgb(102,88,127)"/><ellipse cx="148" cy="367" rx="13.8" ry="25.8" fill="rgb(99,101,134)"/><ellipse cx="244" cy="388" rx="52.4" ry="21.2" fill="rgb(84,148,134)"/><ellipse cx="342" cy="373.5" rx="36.8" ry="23" fill="rgb(86,133,137)"/><ellipse cx="403.5" cy="378.5" rx="19.3" ry="23.9" fill="rgb(87,129,138)"/><ellipse cx="235.8" cy="441.6" rx="7.4" ry="12" fill="rgb(87,129,138)"/><ellipse cx="322" cy="420" rx="13.8" ry="9.2" fill="rgb(89,124,138)"/><ellipse cx="348.6" cy="408.4" rx="9.2" ry="9.2" fill="rgb(93,114,137)"/><ellipse cx="415" cy="398.4" rx="11" ry="7.4" fill="rgb(91,121,138)"/><ellipse cx="262.3" cy="413.4" rx="15.6" ry="9.2" fill="rgb(84,145,135)"/><ellipse cx="192.7" cy="400" rx="11" ry="9.2" fill="rgb(86,133,137)"/><ellipse cx="146" cy="388.5" rx="9.2" ry="7.4" fill="rgb(93,114,137)"/><ellipse cx="292" cy="346" rx="66.2" ry="12.9" fill="rgb(83,139,137)"/><ellipse cx="402" cy="318" rx="20.2" ry="23.9" fill="rgb(83,139,137)"/><ellipse cx="256" cy="262" rx="18.4" ry="11" fill="rgb(91,121,138)"/><ellipse cx="366" cy="252" rx="12.9" ry="18.4" fill="rgb(84,145,135)"/><ellipse cx="388" cy="352" rx="16.6" ry="12.9" fill="rgb(86,133,137)"/></g><path d="M275 96l-6 -4M330 84l-25 -12M302 100l-34 -4M267 94l56 -6M272 91l5 -8M305 72l14 42M285 115l41 -31M280 77l6 -1M286 78l-14 32M306 69l-11 2M307 122l-28 -38M326 106l-13 -35M266 95l3 -5M270 88l31 -12M322 100l-54 -4M271 90l7 -7M279 81l41 24M306 121l14 -34M285 112l-18 -11M314 76l-6 44M306 121l-3 -27M283 99l33 12M316 90l10 -6M324 77l2 7M327 99l-48 -15M313 76l10 37M333 100l-56 5M299 103l12 10M272 93l39 20M305 120l-36 -34M293 99l-6 -3M328 85l-41 19M286 71l-10 43M290 97l25 -20M311 116l-17 -44M282 74l-10 36M280 112l21 -6M289 121l40 -37M297 117l2 -14M322 98l3 -12M295 92l16 11M285 72l18 0M318 82l7 8M321 81l-2 -6M313 72l-19 4M312 115l-7 3M316 116l-5 1M275 82l36 21M277 105l36 10M309 91l-33 11M267 103l65 -10M274 86l13 19M298 70l-12 27M311 118l-27 -39M280 115l38 -5M273 84l7 16M283 80l38 -5M313 76l18 30M286 76l21 -3M282 73l0 44M287 116l7 -44M318 82l-38 19M301 71l11 37M278 84l42 24M274 94l12 -18M277 82l14 21M291 77l-5 1M311 112l0 1M333 93l-48 -21M310 90l-42 0M323 83l-7 10M313 75l-41 19M290 120l0 -47M324 105l-33 -29M323 89l-53 12M290 73l-16 15M284 99l39 -16M319 75l-23 3M298 70l25 43M284 79l33 38M282 118l43 -30M281 114l-7 -20M322 98l-22 24M268 96l9 -13M319 75l-24 20M285 79l-6 3M276 102l52 -14M277 76l-6 28M319 103l-32 2M276 113l11 -9M326 109l-38 4M329 90l-48 24M268 90l15 -10M300 110l19 -35M296 75l-11 39M311 112l-3 4M322 87l-53 0M319 75l-1 1M285 97l14 21M330 92l-34 15M320 77l-40 38M319 114l-39 -2M306 69l11 48M291 108l2 -36M292 85l8 -11M287 100l14 6M311 121l-30 -44M318 81l-7 35M305 72l-31 8M315 93l-15 17M349 112l9 0M346 111l18 2M360 120l-22 -7M340 117l3 4M363 120l-8 2M352 120l11 0M365 115l-24 2M336 117l0 0M362 113l-26 5M355 115l2 -3M364 113l-3 -1M350 121l-14 -4M338 163l-17 -46M326 124l-5 39M285 141l12 10M302 166l-5 -12M342 122l-47 19M288 155l1 -2M346 123l-54 9M344 150l-44 -24M315 161l-2 -40M302 162l56 -26M296 143l13 -22M307 120l9 18M356 142l-48 20M298 157l24 -36M280 143l28 13M333 125l11 20M308 136l37 2M333 163l-49 -20M282 133l29 -14M295 150l53 -21M300 120l52 19M355 148l-3 -4M318 126l34 13M318 164l34 -21M318 123l4 -2M333 169l-17 -48M349 130l-4 -8M335 125l-4 10M318 128l44 11M325 156l-2 -35M288 155l73 -17M311 141l-18 -17M305 121l41 6M318 164l-6 -24M303 162l34 -31M327 164l-43 -11M358 155l-59 -33M287 129l-5 9M308 156l-16 -6M322 152l-13 -23M294 124l52 20M301 160l31 -15M288 145l71 7M307 163l11 -42M289 133l11 -7M346 159l-29 -42M289 157l63 -12M323 141l20 21M332 117l-41 32M308 156l9 -32M316 121l25 30M317 117l8 21M289 133l22 -11M361 137l-60 21M342 130l-33 -9M322 118l10 -1M289 137l23 12M360 138l-63 -9M343 164l-4 -40M349 142l-64 2M324 139l15 -15M313 121l28 6M343 122l-34 17M312 149l-19 -22M360 142l-48 15M292 150l53 -22M295 129l-1 32M339 124l-4 37M341 150l-46 -21M317 135l24 10M330 145l-10 -18M355 129l-45 -5M358 146l-57 -25M321 117l-13 5M348 162l-41 -42M301 160l-4 -5M322 169l-22 -35M295 159l59 -10M341 122l-9 40M358 155l-5 -5M329 165l-4 -2M354 149l-65 1M348 162l-1 -5M321 148l-2 -25M336 166l-33 -6M287 140l19 13M311 122l41 5M344 162l-38 -36M351 159l-60 -26M354 142l-25 9M334 150l-52 -4M318 158l4 -40M309 121l21 30M318 153l11 -35M286 139l69 16M322 169l3 0M360 135l-28 12M321 136l17 -12M329 118l-39 41M287 136l15 -13M344 131l-32 26M312 157l7 -6M298 129l51 33M324 135l8 12M308 122l16 -1M331 166l-23 -4M334 150l-25 8M355 144l-21 -12M300 134l5 17M316 121l7 -3M323 141l31 1M359 134l-5 15M302 134l-13 16M292 160l53 -33M323 120l-29 4M329 164l15 -14M342 122l-34 14M341 122l0 29M331 167l-14 -43M299 146l-2 2M353 140l-12 -19M291 150l39 -22M346 123l-3 14M324 135l-8 16M334 124l-46 14M353 148l-15 15M335 124l-30 44M351 161l3 -30M352 143l9 -3M292 153l1 -29M346 132l-62 13M286 139l58 21M290 158l8 -26M323 141l-17 20M316 165l31 -10M287 130l61 34M318 159l25 -34M265 146l5 -1M249 146l23 16M243 149l27 22M277 149l-32 -3M258 166l1 7M264 169l-25 -11M261 166l-15 3M274 166l3 -5M251 144l29 16M243 149l6 18M258 142l15 4M248 160l10 5M246 151l23 -7M245 149l-9 7M272 146l-20 16M270 144l-11 26M246 145l18 -3M244 165l26 -10M278 156l-38 -7M260 139l12 26M242 167l29 -22M258 143l2 12M254 142l5 29M259 169l-7 -23M265 146l7 15M278 156l-19 15M256 140l-17 24M274 167l-26 3M251 166l20 4M252 159l21 5M274 167l-6 -2M266 160l-5 -19M239 158l3 0M270 155l-30 10M254 163l27 -10M249 160l-5 5M273 164l2 -15M249 158l5 2M264 168l10 -1M274 166l-8 -20M257 172l-6 -28M268 146l-22 -1M264 155l4 10M268 165l-23 -16M259 170l17 -22M249 160l19 -19M237 157l39 -1M234 177l-4 10M232 177l-16 -10M211 184l15 -4M212 168l-5 11M208 173l24 12M213 166l-1 5M221 175l11 -3M207 179l12 -9M221 167l-11 9M222 180l-1 -13M221 164l5 24M216 188l2 -25M218 179l16 6M230 179l-13 13M223 192l-7 -4M217 165l8 2M230 187l-13 5M229 168l-12 -3M218 179l-9 2M223 192l-6 -27M209 186l20 -1M232 175l-14 -11M227 173l-10 8M234 178l-3 3M327 195l-79 -9M313 183l30 -9M253 180l-5 6M258 169l48 29M353 183l-78 -19M351 184l-80 -10M271 163l33 27M336 166l-71 29M284 163l35 19M250 181l19 -5M328 192l-21 -4M311 186l-60 -2M328 198l-7 0M305 165l-23 29M248 191l66 -19M284 171l43 4M294 163l15 12M332 167l-14 23M249 182l74 13M340 187l-64 0M252 187l59 12M255 178l57 -9M253 181l75 11M364 181l-117 8M324 178l30 11M351 184l-63 -20M249 185l56 -5M347 167l-92 7M346 176l-80 11M285 161l69 20M253 180l13 -15M306 200l-65 -13M267 184l42 -9M282 188l49 6M362 183l-42 -20M317 198l-67 -17M348 175l-7 2M280 172l46 -6M362 183l-88 -16M257 170l65 1M352 181l-13 14M308 173l-53 11M266 189l-21 -19M347 171l-40 8M351 185l-57 -18M338 177l-3 13M253 181l29 -16M267 168l85 11M341 167l-18 6M357 178l-119 7M338 177l-10 -13M311 174l-22 -8M357 180l-88 15M275 164l70 9M270 166l27 3M325 190l-3 2M332 194l-84 -25M253 181l65 13M282 174l14 25M279 196l55 -5M317 179l-8 5M260 190l-5 -1M364 181l-121 -1M328 167l-76 17M293 183l17 -20M264 176l88 3M282 165l18 30M318 162l-7 37M333 195l-10 -11M280 162l47 36M350 190l-40 -24M272 193l33 3M285 170l38 16M275 164l76 8M263 194l-8 -21M295 162l0 12M348 179l-10 14M354 175l3 3M272 177l51 7M342 180l1 -10M344 169l-86 0M262 175l-16 15M288 171l10 14M314 178l-54 12M331 186l-59 -21M255 190l83 3M355 169l-106 13M262 188l-16 -13M257 175l36 -4M326 166l2 3M279 162l-24 9M353 183l-103 -1M312 196l16 -28M312 161l-30 10M266 195l23 -20M304 198l-67 -19M340 167l-86 10M304 200l-58 -23M270 184l-2 2M238 185l122 -8M316 197l-14 -2M324 168l6 25M342 188l-17 -19M300 195l8 -31M347 167l11 13M263 194l65 -26M266 187l-6 -17M244 172l41 -6M252 167l99 17M283 172l-28 18M318 187l-72 -17M320 163l-72 13M294 197l18 -4M334 185l-50 -13M249 190l101 0M312 162l-2 35M270 166l57 4M272 196l53 -32M299 162l-37 17M358 180l-13 -7M277 164l56 14M333 169l-37 14M335 182l-4 -8M309 175l14 4M253 179l21 -5M299 173l42 4M328 164l-12 34M358 180l-52 20M284 172l47 2M271 175l-5 -10M299 188l62 -5M328 168l-63 19M346 184l-76 -1M334 194l-79 -24M357 178l-78 -13M278 176l80 4M356 189l-84 4M341 169l-25 -4M310 164l-30 29M301 176l56 11M271 180l-8 14M294 199l-28 -11M260 190l78 3M285 174l68 13M318 198l-42 -20M262 167l41 19M357 180l-30 15M239 182l118 1M328 198l32 -21M256 174l22 24M251 169l68 13M284 163l34 -1M304 173l-17 21M302 198l3 -33M350 177l-1 13M342 188l-24 -1M240 184l77 -17M368 198l-4 -3M360 192l4 8M386 186l-19 11M370 197l10 -5M367 167l5 4M371 171l-7 34M382 184l-26 21M387 193l-5 -5M382 196l-6 -1M349 192l8 -20M384 189l-24 1M387 183l-1 13M368 208l11 -24M378 178l-24 7M368 168l0 29M385 178l-17 6M352 177l18 30M373 207l1 -23M386 181l-31 19M367 175l-16 19M354 199l3 -9M372 172l-5 26M382 180l-2 -8M382 198l-8 -28M379 172l-20 12M361 169l-6 31M376 200l-8 -29M376 180l5 23M383 174l1 25M350 196l18 1M358 202l0 4M367 197l-2 -4M382 196l-13 -2M367 167l20 26M358 204l0 -3M367 204l19 -23M381 198l-9 6M373 207l3 -13M355 174l3 -2M386 186l-26 6M370 170l-3 32M370 207l-12 -3M354 199l18 -27M351 178l13 -3M370 170l2 0M375 173l-16 21M367 167l19 29M371 172l-17 23M388 187l-22 -3M355 174l9 8M376 172l8 17M376 194l4 -12M386 190l-12 7M331 234l-35 -32M299 251l41 -49M300 196l59 26M251 237l44 -29M285 208l-19 43M241 216l63 -16M286 197l71 12M279 200l53 49M353 240l-14 -7M315 197l21 61M259 241l105 -21M291 236l-42 -4M284 246l-30 -41M303 240l11 -41M324 199l-25 63M347 248l-55 -51M273 229l58 25M340 251l-77 -17M251 245l22 -27M351 245l-66 13M344 226l-61 4M289 234l2 -20M265 219l-23 22M258 223l102 7M285 198l58 42M306 237l-41 -18M281 237l17 -30M285 241l-1 17M279 208l73 6M335 212l-30 19M303 219l29 40M319 251l-11 -27M314 196l-11 48M357 226l-78 -17M292 251l66 -30M302 195l-37 23M323 202l-42 35M261 208l33 28M259 254l-9 -46M317 234l-70 -24M340 247l-63 -46M317 235l-66 13M317 255l24 -39M326 239l-3 -2M281 226l-15 21M284 223l12 -16M290 216l19 17M259 202l82 27M285 219l38 -15M302 206l64 18M279 239l72 10M292 201l2 37M279 209l62 3M278 238l6 1M283 245l-21 -1M341 219l-34 -8M340 202l-62 32M331 201l-55 42M314 195l-25 -1M316 256l-17 -15M275 223l35 25M345 208l-55 54M290 212l18 -10M348 212l-55 -1M321 197l-74 15M289 221l-11 -3M272 196l-6 18M324 256l27 -11M340 241l5 3M364 233l-106 -10M316 264l1 -23M259 213l27 52M315 255l-6 5M260 206l-5 5M289 242l-8 16M271 212l-22 11M340 234l-45 22M334 246l25 -5M341 211l-47 11M296 254l58 -21M269 231l61 21M311 244l-49 0M331 261l12 -46M314 211l32 -7M362 225l-95 -20M331 246l-75 -7M240 239l59 22M250 223l18 14M310 206l34 41M238 231l40 -21M279 214l-2 1M335 202l-43 -5M283 240l-39 -13M290 214l76 9M346 239l-64 -36M313 203l-36 17M236 231l104 -26M257 241l3 -36M299 204l22 8M263 253l68 -52M300 252l40 -5M320 212l-47 41M301 238l-8 -31M349 225l-70 15M351 248l9 -16M351 238l-77 13M321 240l-7 -10M317 204l-34 -7M308 230l-23 11M246 218l-2 9M315 260l45 -25M237 228l57 -9M315 205l-4 50M260 225l94 -8M365 224l-57 8M254 232l68 -30M306 240l-59 -31M268 219l-4 15M338 206l2 40M285 218l-4 -22M322 253l-57 6M316 259l-24 -14M322 226l8 -10M340 258l-9 -23M342 204l-62 35M259 213l9 45M275 244l-31 -17M273 241l61 5M264 250l82 -22M281 237l-21 9M312 249l-16 -38M244 245l35 -18M341 216l-5 15M364 241l-42 -43M324 225l3 -18M327 257l-75 -43M291 228l-33 5M263 199l58 49M257 241l73 -3M315 257l-30 -39M335 202l-50 17M334 210l-26 28M281 221l47 -6M356 248l-56 -49M337 225l-55 8M297 256l-15 -29M283 223l-38 -8M341 219l-35 -25M302 195l49 43M310 248l1 -44M311 254l-4 -33M313 247l-22 -8M352 237l11 -7M357 243l-73 -35M308 225l37 -6M330 251l-37 -16M346 209l-31 55M326 239l14 4M293 211l20 31M288 208l-39 15M269 238l62 -36M303 219l-4 -7M335 227l10 -19M325 257l-84 -41M322 201l9 0M285 199l-7 35M273 205l60 7M334 215l25 13M247 242l27 -12M266 199l43 63M326 220l9 29M249 208l43 -11M288 204l66 18M340 246l-1 6M358 236l-36 8M311 204l-18 23M311 229l48 6M327 209l-12 3M352 207l-1 16M285 208l-2 12M307 205l50 35M305 255l-24 -33M314 245l19 -38M243 227l107 -1M335 247l-36 15M324 250l6 1M281 197l-23 36M343 214l-98 18M270 221l77 11M328 244l-10 20M245 232l16 -18M351 234l-49 15M247 213l85 10M279 249l-36 -19M241 242l60 8M362 226l-16 23M293 257l26 -8M349 208l-99 13M260 206l-1 43M345 244l-44 21M309 247l-4 -16M332 209l-64 17M366 226l-94 34M302 258l48 -42M292 244l46 -18M324 211l-28 52M250 221l107 28M327 257l-3 -44M297 227l-36 5M273 218l31 -18M332 206l-48 15M327 207l24 33M322 252l9 2M298 212l32 -16M299 226l19 -1M333 248l-46 -47M260 256l12 -28M363 219l-11 -12M301 236l24 -15M359 234l-5 -19M302 258l29 -21M304 246l30 -22M291 236l37 -31M263 199l68 55M360 233l-6 0M337 254l12 -22M286 217l-6 16M269 238l8 -8M294 238l32 -18M287 258l2 -58M325 214l-47 -14M334 239l-45 -45M292 244l64 -7M350 216l-56 7M356 242l-73 -45M335 202l-35 -3M317 235l13 21M342 249l7 3M341 250l-97 -23M291 214l-26 9M252 245l47 -41M325 238l-40 20M240 225l88 19M322 196l22 47M339 257l-50 -10M284 233l36 -21M279 258l15 4M268 224l1 -11M271 212l58 14M331 254l-20 -60M361 228l-17 2M238 231l50 3M328 215l13 12M361 243l-109 -29M351 249l-62 -28M249 232l60 1M313 261l40 -53M298 254l-23 -10M344 229l-79 4M251 248l4 -8M307 207l-9 6M267 259l79 -17M344 204l-23 44M332 251l32 -12M311 257l38 -50M261 232l-3 19M364 239l-68 -43M314 253l-34 -20M302 261l1 -17M327 209l-67 -7M300 196l-53 13M325 221l-40 -12M283 217l73 18M278 250l65 -36M254 205l0 23M321 258l-16 -63M275 263l-5 -42M265 223l52 6M281 213l61 32M343 240l-49 4M326 220l-44 34M308 225l-40 1M297 195l-30 31M332 213l-1 -12M289 223l25 36M264 199l43 38M284 208l-40 8M350 248l-90 -41M251 237l93 6M328 201l12 38M321 232l11 -13M305 206l27 14M313 226l48 -1M275 225l40 35M261 235l44 -29M305 248l-35 -27M336 217l-5 16M239 232l45 -20M338 239l-21 -36M360 239l6 -9M338 253l-79 -4M292 255l-25 -24M320 212l-35 -7M349 242l-48 23M333 215l-38 16M295 213l46 0M298 216l3 34M257 213l26 1M324 262l-3 -49M276 255l-6 -42M275 244l19 -48M283 245l12 20M286 263l-15 -51M341 229l-15 10M347 209l-37 -11M278 259l43 -47M364 216l-36 37M299 197l43 46M270 258l19 -3M356 214l-83 -6M337 240l7 7M316 232l11 23M330 210l-21 18M313 261l-45 -54M364 236l24 2M418 265l-25 -52M417 214l-10 47M428 251l-36 -45M373 257l18 13M383 224l32 36M386 269l43 -33M396 264l-25 -27M390 264l-11 -45M402 239l-3 -28M427 232l-6 16M405 250l-9 15M390 264l-21 -10M386 215l30 45M422 248l0 -21M401 224l12 23M402 239l-40 0M405 210l-1 52M395 209l-6 -1M426 239l-43 16M388 267l33 -52M398 224l2 -12M399 206l1 22M385 213l-14 21M415 219l-12 45M378 257l22 6M378 258l44 -6M377 215l52 26M372 219l-6 31M395 266l5 2M363 243l22 22M369 247l27 -40M369 247l23 -39M399 223l-6 -12M417 249l-4 -2M413 212l-5 49M417 264l-2 -4M421 261l-18 2M416 212l-28 7M407 265l-33 -29M422 248l-8 -5M388 267l-9 -48M392 214l-2 46M400 263l16 -51M430 236l-63 5M415 260l-30 7M422 245l-9 -34M430 232l-33 -21M391 239l-23 1M381 213l41 25M372 229l1 -4M369 233l6 -16M431 245l-63 -12M394 232l-9 12M385 234l14 -11M373 255l39 -33M382 264l10 -28M388 207l38 29M425 239l-54 -2M406 214l-1 57M421 217l-9 -3M367 236l3 0M410 218l-22 32M391 239l33 -17M422 248l-22 20M400 268l-11 -8M404 262l-6 -47M415 213l-16 17M412 228l15 28M389 208l40 27M376 254l34 9M421 223l-20 1M394 209l36 26M408 220l-3 28M397 269l22 -21M384 225l39 -7M369 240l28 -29M425 249l-20 -38M382 210l13 48M396 236l24 25M422 239l-30 -31M429 236l-66 -3M403 211l25 24M427 232l-57 -2M405 208l-25 52M406 258l15 5M370 240l19 -25M395 226l1 -10M370 230l34 -7M420 242l-49 1M407 261l15 -9M419 219l-47 22M420 219l-12 38M395 226l25 35M374 230l4 30M413 222l-33 15M388 237l25 -25M420 232l-27 -24M370 218l-5 15M373 251l41 -8M430 244l-20 -22M383 260l-2 2M367 255l27 2M410 218l-20 47M422 257l2 -22M396 232l1 14M382 225l42 10M416 212l-28 -5M366 240l31 -29M393 266l-22 -21M410 218l-46 11M415 260l-15 7M426 239l-21 11M407 214l-43 15M368 240l32 23M383 258l21 -21M430 247l-22 10M393 216l-15 4M384 217l-17 14M392 208l-1 44M371 232l55 7M391 233l-23 9M406 226l22 23M396 268l4 -2M424 234l-17 36M370 254l34 -25M415 263l-26 -3M421 223l-33 -16M376 254l49 -14M414 257l-14 6M367 231l29 5M368 240l9 -17M390 231l-12 27M380 258l-3 -27M412 210l-24 57M425 240l-10 -20M394 256l36 -24M368 253l30 -38M401 237l-31 -14M445 228l-7 -16M450 225l-2 9M442 240l2 7M444 245l-9 0M447 217l3 8M439 248l-6 -12M440 244l11 -16M448 231l1 -2M446 214l-14 19M448 231l-16 2M449 244l-10 -29M434 230l5 16M432 233l14 2M438 246l5 -32M440 244l-6 -14M445 245l2 -25M450 242l-15 -25M442 210l-9 12M449 241l2 -18M440 229l9 12M448 234l-11 1M432 232l5 -9M438 229l0 17M417 299l8 -7M420 309l-14 -13M413 298l16 6M409 288l-2 -4M415 300l17 7M404 310l18 -12M432 301l-6 -26M426 277l-9 -8M400 284l33 19M413 265l1 44M415 299l2 6M400 304l23 8M422 266l4 23M410 268l20 5M398 299l5 -12M429 305l2 -26M422 291l-4 -2M416 292l7 14M421 267l12 8M402 283l20 -14M427 308l-3 -35M430 303l4 -20M399 279l24 -3M419 309l-11 -39M424 283l-19 14M397 284l5 -1M400 275l16 -7M431 273l-37 14M425 305l9 -6M399 279l22 -7M432 285l-30 21M411 280l-7 28M400 284l2 11M428 269l-6 -3M434 282l-23 29M432 301l-16 4M412 314l21 -11M413 265l6 5M402 306l21 -20M401 293l-1 5M427 308l-26 -7M420 274l-15 33M400 296l13 -25M397 285l23 -5M428 307l-21 -9M424 308l-15 -2M403 304l19 -6M436 290l-19 25M410 276l24 23M412 272l-9 3M436 283l-15 22M417 292l-1 8M437 286l-39 13M410 291l28 -1M436 297l-29 6M417 292l-1 19M415 269l4 15M420 309l-24 -17M404 281l14 15M402 280l16 31M399 278l31 21M435 294l-6 -21M407 278l8 35M396 295l-1 -12M418 289l-2 16M431 278l1 23M415 322l14 18M419 336l18 2M435 320l-5 2M417 336l20 -8M415 328l1 -1M420 323l11 -3M439 338l-3 6M438 331l-3 14M411 328l-2 16M407 342l24 -22M424 321l4 27M433 338l-22 4M416 327l19 -7M439 331l-32 -1M436 343l-20 -16M432 347l-12 -24M424 339l-9 -13M424 339l-10 -8M414 320l-9 14M434 327l7 8M412 324l-4 20M439 338l-3 -5M415 326l21 17M433 348l-13 -26M438 331l-22 17M424 321l-12 4M416 327l14 -5M419 326l11 18M422 341l7 9M436 345l-3 2M433 338l4 -3M433 344l-4 -12M426 319l-3 30M410 337l18 2M436 333l-26 9M253 305l25 8M266 328l95 7M281 333l-11 -48M266 334l115 -55M302 329l60 -37M318 282l-35 6M256 320l107 -20M253 296l81 -6M296 278l80 9M361 281l19 4M374 280l-71 17M333 323l-83 -27M341 315l-88 3M269 307l55 16M383 288l-101 5M321 318l-15 -2M266 285l64 -24M255 319l77 -47M379 316l-67 -14M378 295l-109 -20M275 314l101 -2M323 288l63 3M247 281l104 22M250 326l63 -66M372 277l-49 11M344 311l-4 -38M279 314l59 -6M281 297l65 -13M370 311l-23 -25M347 316l-23 -24M369 273l-20 67M363 298l9 -26M296 300l-43 14M364 317l-21 -51M317 289l-31 49M283 275l38 5M277 279l107 33M331 343l-20 -4M331 335l66 -36M375 295l-69 32M294 328l54 -60M315 324l-18 -9M251 325l35 -1M267 269l21 60M253 313l115 13M323 264l-31 61M350 316l-15 -40M253 304l94 -6M367 271l-54 37M331 335l-45 -69M325 272l-53 53M315 324l62 -9M368 318l-99 -32M383 301l-132 23M397 299l-135 19M315 298l-6 22M260 281l55 7M282 323l-10 -51M313 279l-66 26M389 306l-11 6M284 290l29 26M272 281l80 40M386 282l-44 13M366 335l-53 -21M290 335l-28 -48M366 330l-24 -32M337 340l-42 -7M365 290l-33 52M343 297l-69 12M352 321l-24 4M257 288l54 -1M341 316l-21 -9M306 268l-54 56M288 312l50 6M383 320l-45 -12M337 276l45 24M306 321l29 -23M260 324l63 -48M250 279l91 59M269 306l23 10M311 269l-27 0M308 337l-19 -10M349 267l-40 22M292 325l6 2M302 274l-51 51M318 313l-28 29M255 294l-3 1M314 342l71 -51M350 337l-40 -51M382 327l-125 -36M289 315l18 -10M266 291l-20 21M252 324l16 4M332 318l-42 24M352 317l24 -22M304 296l5 -32M284 328l8 0M366 330l24 -31M365 295l4 -23M335 328l-12 -39M275 315l16 -13M275 295l33 15M318 268l-59 57M286 277l95 14M275 300l69 -17M298 297l3 -9M317 297l-47 -9M242 301l100 -29M356 333l-38 -70M389 283l3 36M266 296l-13 22M294 286l98 9M328 305l9 -35M372 316l-15 -30M324 301l-3 43M262 302l-9 19M313 279l54 26M268 307l39 32M382 316l-79 -38M256 318l106 -30M384 310l-62 9M296 298l-33 -17M325 313l51 6M251 289l15 30M382 316l-127 -36M343 298l31 -15M304 273l-57 45M353 322l-36 -60M371 295l-23 28M297 302l-50 16M267 335l55 1M331 286l-37 30M278 299l10 13M340 277l58 25M376 295l-16 39M351 275l32 3M297 290l29 16M264 316l-8 -37M350 274l-47 -7M279 280l45 43M309 291l57 16M314 328l-29 -65M315 306l36 -14M278 323l106 -39M376 322l-91 -22M392 307l-133 5M334 266l-19 49M246 312l115 -19M351 297l15 18M247 308l33 21M388 313l-77 26M286 267l1 7M271 267l4 28M291 342l51 -34M251 305l124 -19M371 290l-11 1M352 332l-39 -14M265 320l12 -34M380 311l-108 21M315 275l13 22M312 269l-38 26M339 262l-20 16M322 287l-32 -22M269 317l63 -42M279 329l-28 -40M261 313l17 -13M314 328l68 -25M278 299l-31 6M342 341l-82 -23M272 336l103 -37M314 312l-11 -50M246 316l54 1M367 269l-38 6M266 328l83 7M369 272l-8 24M263 321l99 1M304 292l22 -8M396 301l-102 -15M354 286l-34 -7M302 302l14 19M279 321l74 -55M346 293l-80 26M258 296l97 27M280 278l21 10M383 306l-88 -38M314 291l-63 4M269 330l32 -34M316 313l9 -36M370 297l-111 -22M307 263l-46 39M257 307l14 1M360 318l9 -13M333 305l8 -4M383 288l-8 34M257 329l41 -54M344 311l-54 -46M360 325l14 0M275 315l114 -4M388 314l-86 -7M292 319l-30 -49M299 261l48 10M305 268l77 9M281 312l-5 -27M293 325l-4 -31M313 335l52 -39M300 319l1 8M252 311l22 -30M283 271l49 41M350 298l-75 36M312 301l14 -15M277 318l44 -44M264 333l47 6M301 335l36 -55M397 304l-90 1M336 305l45 -20M355 273l-3 51M324 343l13 -50M262 318l26 -52M354 269l-108 37M395 300l-78 42M332 272l-56 2M299 325l43 11M354 269l35 22M241 296l127 3M345 278l-23 9M359 323l-62 -8M330 307l18 29M340 263l28 15M246 317l11 -23M360 296l-68 -33M257 307l128 -18M304 272l55 -5M302 319l50 5M342 283l-49 35M268 282l23 45M274 271l39 64M289 292l5 -6M275 334l-22 -39M307 293l-30 30M351 280l24 15M308 261l3 26M390 292l-126 -14M295 296l-21 24M322 267l-9 75M299 325l80 -19M349 340l-45 -68M370 310l13 -4M383 320l-87 -20M373 287l-41 -25M288 341l-38 -37M341 294l-7 14M251 289l110 12M361 281l-9 50M290 319l-18 -48M314 291l71 5M250 285l129 43M295 271l70 57M360 286l-43 21M387 307l-127 -8M352 315l-40 19M251 308l39 -8M362 266l-80 2M349 317l-36 25M329 269l-11 45M343 273l-69 32M338 339l16 -63M375 302l-134 -7M269 272l40 8M292 274l65 49M262 283l60 25M349 317l-20 -32M323 276l-72 37M345 286l-62 -3M327 320l20 -29M391 318l-94 -46M349 317l-96 1M356 323l-87 -27M344 300l-14 -31M259 300l71 -30M301 327l-60 -27M334 290l-29 -20M361 307l20 7M300 292l11 38M310 282l19 48M348 288l-64 32M335 288l-75 19M319 290l-16 4M262 270l8 9M355 273l-93 29M379 321l0 -34M295 271l82 53M259 300l46 -30M277 270l112 48M374 273l-111 21M302 280l39 14M361 302l-45 -14M257 277l117 53M342 332l-55 -53M323 279l-26 53M243 300l100 16M311 263l6 78M377 324l-79 -27M365 311l-83 15M354 286l7 38M305 343l21 -64M316 284l-61 -4M374 319l-2 -3M281 326l83 11M285 332l46 10M314 291l6 -11M330 264l-35 73M317 300l12 -20M268 333l-13 -15M256 319l104 -10M382 310l-88 -24M370 327l7 3M299 272l-26 8M331 333l-87 -36M379 280l-120 45M247 305l-2 11M294 316l-35 -16M275 301l23 14M386 291l-133 4M337 293l-27 9M298 262l-11 71M364 337l-67 -47M383 278l-61 58M252 311l41 -14M285 269l57 17M358 319l-6 -25M341 276l-24 -14M239 301l113 14M351 268l16 37M300 319l75 -30M285 280l40 24M290 265l39 74M282 265l59 51M354 276l-31 13M352 309l29 -31M372 315l7 -33M343 273l-40 8M338 279l10 -9M321 319l40 -26M296 321l-30 5M261 332l115 -27M366 335l-26 -72M261 315l35 -15M283 275l3 38M370 327l9 -47M283 321l58 -49M388 284l-12 24M303 260l48 32M250 293l57 -5M340 334l-96 -27M384 317l-64 -36M340 322l-2 -4M265 320l12 15M307 331l78 -40M297 337l-2 -50M243 296l73 17M263 321l7 -40M300 320l89 -5M353 306l15 14M297 309l-36 -20M325 302l-35 -25M304 277l-41 4M387 297l-84 45M293 271l-40 19M302 319l46 -25M368 278l-107 13M293 318l-25 -46M378 279l-96 9M267 271l2 15M313 308l-6 -4M385 302l-134 23M293 288l44 45M341 264l9 45M250 292l50 20M294 316l73 -46M352 315l-68 6M356 269l-70 4M357 294l-67 -30M336 275l7 64M263 321l92 -29M390 318l-91 -6M389 322l-81 -8M347 280l-20 52M258 329l86 4M379 328l-51 -41M365 326l-40 -3M308 327l11 -11M392 295l-25 10M326 274l-61 30M361 334l-35 4M330 325l-45 -61M366 325l31 -21M360 288l-16 -21M344 294l-94 -15M251 311l104 12M292 304l18 22M382 277l-108 43M326 274l30 52M338 300l-74 21M315 275l40 -3M349 284l-64 48M372 296l-89 20M356 291l-78 32M350 298l-98 13M339 278l4 59M333 276l-89 31M316 336l65 -18M397 298l-116 35M331 284l9 7M304 293l-51 18M253 288l75 51M272 336l35 -43M312 334l1 -55M387 321l4 -29M282 289l39 3M355 273l40 39M255 319l7 -17M306 264l-31 62M348 333l-103 -32M282 267l70 27M281 332l80 3M353 290l-104 4M360 268l-22 52M292 277l5 9M243 288l81 46M308 274l-20 44M369 271l13 27M378 280l-60 -14M352 331l-58 -3M302 274l-24 32M266 328l-5 -13M286 273l90 49M297 302l-20 21M325 328l-12 -3M257 286l94 20M272 327l36 -25M374 325l-10 -50M351 302l-55 34M244 297l91 27M303 297l-44 26M280 274l20 56M324 309l-71 -18M358 324l-13 -56M316 330l-58 -49M313 276l-23 59M381 291l-71 11M358 268l-63 16M345 268l3 3M350 336l36 -54M355 273l-5 43M261 289l131 14M334 308l-14 12M264 321l87 -55M291 294l31 14M328 314l-21 24M310 282l26 23M286 313l55 -50M308 314l83 -16M249 340l4 -16M211 329l-30 14M223 310l19 38M176 337l37 -15M191 351l37 -25M178 323l22 8M245 344l-44 2M221 313l14 39M196 302l32 21M192 340l-7 3M193 301l-1 39M195 300l52 23M213 318l38 20M235 317l-51 9M251 339l-70 4M201 313l15 37M184 310l3 22M216 335l-15 -7M235 317l4 3M232 308l-52 10M211 319l-12 -4M183 323l44 -26M224 338l18 -35M188 325l3 -19M213 294l-2 34M238 340l-1 -10M211 338l22 -6M227 356l-47 -39M201 296l-9 44M191 351l53 -27M181 314l20 16M207 332l16 11M177 325l21 -20M222 333l26 -11M230 345l-34 -14M225 318l-22 24M219 315l37 10M252 312l-2 -5M201 328l21 -9M231 343l8 -30M233 325l13 17M216 297l36 15M208 352l28 -33M219 291l-19 47M243 345l-15 0M188 346l8 -12M228 316l29 20M190 339l21 -4M207 320l21 -1M185 323l57 7M181 316l56 -14M234 310l-53 9M229 332l-32 -3M184 343l39 0M245 344l-68 -25M244 299l-50 46M232 335l-49 8M177 325l11 0M188 324l45 8M199 319l-7 8M213 294l35 16M203 308l-22 31M232 295l-17 54M210 336l-14 -5M199 319l48 4M252 323l-4 -13M211 329l-20 23M250 326l-58 1M230 305l3 -10M246 330l-27 -33M173 320l67 4M228 323l-3 13M236 345l-38 -13M235 348l-44 -23M200 306l46 25M219 293l19 13M212 335l10 -42M221 343l-10 -16M238 353l-46 -1M238 353l-56 -50M205 305l30 23M181 334l24 7M180 331l-1 -24M185 323l11 21M176 324l32 14M215 349l3 -53M238 353l-60 -30M222 333l23 -19M203 356l-15 -31M219 315l2 13M224 347l11 1M230 295l-50 23M175 314l15 24M193 300l23 42M238 347l-54 -37M223 304l5 14M180 311l3 -7M237 298l-16 30M178 323l73 -13M217 298l-22 2M232 332l-48 -20M239 331l0 20M189 333l12 -37M257 314l-18 6M175 317l49 30M245 312l0 -6M219 331l-20 -12M228 345l-45 -6M190 298l66 27M240 305l-26 -14M189 299l13 35M251 315l-26 -21M189 330l12 23M208 352l-5 -33M250 303l-5 38M232 303l2 35M171 317l36 -3M231 305l15 13M240 327l-67 -7M220 329l3 -25M239 346l-11 5M184 335l39 -25M198 317l-1 35M236 349l-47 -48M226 303l-31 -7M188 329l63 -14M221 329l-40 -13M243 340l-52 3M190 339l16 -10M203 308l-12 10M201 353l-11 -34M216 296l1 59M170 319l27 -19M239 352l-12 4M197 313l34 29M217 295l-36 37M222 293l-10 41M246 347l-23 -1M181 334l65 -3M180 318l51 9M194 328l42 17M224 356l23 -14M194 341l-5 -40M237 302l-18 50M237 318l-45 -22M225 352l21 -34M210 351l26 -8M210 337l-40 -10M196 302l-1 51M196 350l4 -19M195 304l55 3M219 314l-3 25M191 351l43 -13M257 314l-35 -21M189 306l-16 3M256 325l-76 -5M214 331l-34 -16M247 345l-30 -40M198 334l24 -31M199 319l-13 -18M191 351l55 -4M240 324l-65 -7M232 347l-37 -3M203 356l37 -5M219 297l-10 43M202 299l10 47M244 304l-63 5M195 344l8 4M204 338l4 -44M184 299l22 37M217 353l7 -36M243 340l-11 -17M197 302l26 12M175 317l53 1M187 332l16 24M197 352l4 -24M224 347l23 -4M237 343l-64 -22M181 328l40 15M182 344l23 -4M239 329l-64 -14M256 319l-26 -7M189 299l-14 16M221 330l-30 0M250 338l-51 11M183 310l34 45M172 331l57 16M241 314l-24 25M177 309l-1 9M170 327l24 20M236 348l7 -44M214 316l23 -14M236 341l-40 -39M238 300l-53 43M258 327l-66 13M206 326l26 -3M212 296l-13 28M241 348l-49 -5M156 220l6 3M164 231l12 -16M169 230l-14 -6M166 214l7 15M179 225l-18 2M181 226l-2 -10M170 211l-6 20M158 228l-2 -2M166 212l-12 7M178 227l-22 -8M159 229l14 -9M156 226l7 -12M176 215l-3 -3M173 213l-19 10M161 231l21 -6M158 226l12 -15M165 225l-2 -11M180 220l-19 -6M173 215l1 6M166 226l0 -2M162 223l17 -7M172 247l12 2M186 237l-18 -6M177 253l6 -13M177 237l-1 6M186 229l-14 6M175 245l11 -16M182 241l5 -5M193 237l-4 0M191 243l-28 -5M191 244l-13 5M183 243l-11 1M168 231l21 11M189 242l0 0M184 249l-6 -20M190 241l-7 0M175 251l11 -6M175 248l-3 -4M183 240l-10 -10M173 231l0 0M172 244l4 3M185 234l-2 6M192 244l-14 6M160 240l28 -5M168 231l-6 3M176 240l4 3M178 229l-1 22M191 254l4 -3M195 250l-9 -6M199 266l3 -9M191 261l1 7M184 259l-6 1M186 272l-1 -13M185 247l7 21M175 250l-1 4M198 248l-11 22M188 246l-7 15M182 257l3 -11M191 270l-18 -15M196 262l-16 -17M188 247l-7 10M187 251l4 19M198 267l-6 1M196 251l1 5M189 269l-2 3M200 261l-27 -6M197 255l-5 -8M192 250l2 0M172 262l19 8M176 253l14 11M195 251l-21 1M185 269l1 -5M172 262l19 -1M192 262l-4 -14M179 268l15 -23M213 278l-18 -16M210 284l-21 5M210 278l-4 -1M191 281l16 0M194 290l-6 -24M200 274l8 6M196 266l-7 1M202 288l-18 -11M213 271l-5 17M191 279l3 -14M212 278l-28 -5M199 288l-2 -15M199 288l6 -13M199 288l-1 -14M191 287l19 -7M182 275l4 1M205 286l6 -6M200 289l6 -20M184 281l26 1M208 266l-21 6M194 265l-10 4M186 276l5 11M183 280l23 -15M200 276l9 1M201 281l-13 7M199 271l-4 -8M197 278l-17 -1M204 286l-22 -14M209 282l-2 -2M200 290l10 -6M155 194l-2 -40M140 178l0 -16M151 160l6 29M181 179l-42 -12M186 176l-47 -13M153 177l-7 -5M161 149l-14 37M146 193l33 -34M147 190l-6 -30M154 195l26 -10M162 195l21 -18M147 192l-9 -28M180 161l-23 28M163 153l16 26M179 168l-36 -11M175 155l-15 31M148 179l8 -27M163 195l11 -39M156 152l24 21M162 197l8 -44M156 159l24 23M147 186l9 -32M157 185l-19 -21M163 149l-10 43M138 172l28 20M148 181l6 -10M156 164l-5 25M144 188l-2 -17M152 156l25 24M166 166l-7 5M181 162l-27 29M140 185l8 -33M141 178l-1 -17M170 191l9 -23M172 180l-11 13M179 178l-25 15M178 187l-32 1M168 148l11 19M167 196l13 -39M148 167l30 -1M143 163l22 -15M141 174l16 -6M161 150l4 44M175 162l-29 30M147 156l6 36M151 149l29 10M161 193l6 -16M157 195l5 -43M145 184l12 11M141 162l37 28M147 188l4 -34M138 172l15 -18M158 196l-11 -44M156 196l16 -4M184 179l-37 -26M172 152l2 34M178 166l3 19M151 153l8 17M174 179l6 -3M173 160l-8 28M163 147l-19 16M174 191l3 -18M140 173l6 15M167 177l6 -20M143 179l21 -28M174 176l-27 -22M144 163l31 -1M157 166l-14 13M144 163l16 -15M159 171l-18 7M78 291l-7 -4M89 299l21 -27M77 263l31 32M99 280l-4 21M79 272l-8 13M97 271l15 -1M96 299l-11 0M80 263l34 19M83 263l21 7M85 303l27 -33M101 296l0 -30M112 294l-43 -3M78 263l28 7M112 292l-41 -19M89 302l-22 -26M93 304l19 -18M79 272l-12 18M113 278l-24 23M113 289l-17 9M104 269l-30 2M83 263l25 32M75 295l-1 1M115 287l-41 -16M110 288l-28 15M89 279l-18 1M82 271l6 -7M95 299l-14 -36M76 270l2 -7M92 260l-12 4M101 296l-34 -6M73 276l-5 10M87 302l12 -4M97 300l13 -9M105 267l7 27M115 287l-3 -9M71 273l23 31M101 296l-17 -14M88 263l20 32M109 269l3 14M103 264l-21 1M100 303l7 -11M90 262l-15 8M109 287l-19 12M109 287l-41 -1M76 268l37 12M76 293l30 -23M107 279l-22 24M111 274l-43 16M90 265l0 0M73 297l29 -34M103 292l-22 8M80 266l-4 2M113 283l-46 6M85 299l29 -22M83 263l23 9M106 273l-22 29M82 303l32 -26M111 278l-13 -11M106 270l-8 6M111 295l-36 0M90 262l-11 15M113 272l-2 10M116 282l-5 4M132 300l-7 -25M126 266l4 27M127 253l23 9M143 251l6 4M138 240l-11 40M128 296l2 -1M133 262l18 22M150 279l-21 -24M150 270l-24 -17M131 259l-5 40M151 291l-1 -34M142 250l1 45M134 284l4 13M135 272l10 -18M130 246l-3 18M148 264l-22 33M125 283l22 3M131 288l12 7M129 266l18 35M123 276l2 -1M137 247l-4 57M126 276l11 -29M125 272l12 -29M151 275l-12 35M132 308l6 -68M135 307l10 -9M124 277l26 -17M144 279l-7 -35M123 284l25 -5M136 263l-5 -2M126 297l21 4M123 284l20 -33M126 276l17 36M131 278l15 27M123 274l24 14M149 256l-9 -10M128 255l2 -7M129 289l11 25M133 299l8 7M128 261l4 12M141 305l-2 7M150 271l-23 -18M138 253l1 -8M142 310l-2 -11M128 285l2 18M143 251l-14 34M136 248l10 49M129 289l11 25M130 262l1 -1M144 300l-8 6M130 309l11 -68M143 312l-15 -62M132 250l0 2M141 239l3 37M142 276l-19 -2M145 247l4 8M141 264l-15 -12M147 297l-23 -23M132 306l-8 -33M133 311l-5 -56M160 353l-20 -8M144 388l12 -7M152 391l-7 -33M146 347l8 13M156 384l-13 5M156 381l4 -25M159 381l-3 0M139 374l0 9M142 385l16 -11M147 392l5 -10M162 366l-8 -8M156 372l0 14M155 355l0 32M146 391l6 -44M154 358l0 -16M138 351l21 16M161 353l-1 22M144 391l-1 -23M134 363l14 14M160 351l-13 36M148 345l5 40M142 360l19 7M159 350l-25 15M150 386l-9 -16M159 377l-18 -7M146 347l13 14M154 381l-6 8M143 349l5 28M148 345l4 2M136 376l8 -34M140 350l6 18M140 359l15 30M151 350l4 5M153 392l-13 -19M134 375l28 -17M140 345l19 36M154 389l-7 -2M155 388l-19 -9M148 368l-3 26M144 347l16 28M151 350l-13 -1M155 388l5 -37M136 378l21 11M159 355l2 22M148 340l7 48M236 396l50 -16M298 394l-48 -6M203 394l47 -10M285 391l-72 -18M261 394l-55 -10M227 390l48 15M252 378l43 2M275 386l-21 -20M260 400l-27 -30M214 406l16 4M220 374l14 17M205 377l43 18M284 372l-53 23M199 375l72 5M268 402l21 -9M253 403l-31 5M208 401l85 -3M237 380l9 17M226 405l63 -29M198 386l65 -13M278 399l-16 -1M266 369l-5 25M271 380l-73 13M287 385l-19 0M287 385l-19 14M249 405l-21 -38M245 410l-48 -12M222 373l-15 25M200 387l6 10M198 401l29 -22M209 381l-3 -3M272 380l20 8M237 369l-31 15M249 405l-13 -17M222 408l26 1M286 385l-6 -6M244 399l29 -7M286 382l-64 26M210 383l-19 8M248 407l-11 -27M283 398l-11 -23M263 366l-17 19M210 399l38 3M248 381l-50 20M243 366l36 25M254 395l32 -15M217 371l22 6M293 382l-44 -7M275 390l-31 21M209 405l76 -30M259 366l-69 25M230 410l61 -32M264 367l-35 38M230 410l-36 -16M238 366l-29 39M263 366l-53 33M210 382l74 18M272 405l-66 -7M235 407l-35 -13M258 367l-38 0M246 393l14 -24M292 387l-35 -2M225 408l9 -18M239 368l-26 33M231 403l59 -6M284 400l-84 -6M233 367l-32 21M207 372l2 21M268 402l-68 -19M260 387l-70 -5M278 399l-84 -21M268 379l-43 -6M295 383l-93 1M269 404l-67 -20M291 398l-15 -3M230 410l70 -23M210 374l-1 12M199 401l7 -22M210 374l73 16M241 408l-30 -32M269 387l-78 -6M220 405l-18 -30M221 407l4 -21M227 405l-15 -2M227 400l-18 -23M236 380l35 15M206 376l83 9M247 411l-48 -35M246 405l-6 -9M259 396l8 10M257 396l-57 -2M274 375l20 17M194 381l8 5M279 404l-87 -6M280 402l-42 2M257 396l13 -9M245 409l-5 -30M234 376l9 31M248 402l-32 -24M207 371l54 23M277 370l-24 5M236 406l51 -30M259 371l21 8M213 378l23 11M212 376l46 -9M253 389l31 5M233 370l4 3M214 407l36 -23M213 394l26 -17M210 374l-15 17M217 397l50 0M217 391l-20 5M230 410l-14 -40M238 392l57 -9M221 408l-23 -18M217 387l26 22M266 408l29 -13M232 407l14 -23M278 405l9 -4M253 409l-10 -2M291 399l-25 9M252 392l12 2M207 398l64 -16M294 389l-70 -10M266 391l13 10M284 400l-16 7M296 384l-103 10M224 379l18 -2M244 404l-50 -25M296 388l-74 16M208 399l40 8M274 396l-61 -19M296 384l-85 8M190 394l65 6M248 402l7 -2M288 388l-64 -17M279 378l0 -7M277 394l-69 -4M286 385l-86 9M208 390l54 -22M246 408l-38 -5M239 407l8 -3M254 372l8 0M238 392l-28 8M258 409l-46 -8M256 390l2 -23M198 392l77 -11M213 394l6 13M248 396l-32 -24M273 392l7 -19M282 388l-84 -2M273 373l-49 25M274 387l-20 -14M255 406l-18 -37M243 368l10 38M239 371l45 25M265 405l-43 -1M235 368l46 17M351 365l-23 3M332 354l3 44M379 370l-6 0M310 383l53 6M354 395l26 -21M376 376l-20 4M336 368l-1 5M326 353l15 4M331 393l33 -35M377 375l-11 2M320 369l9 -3M345 385l1 7M375 361l-29 -7M360 352l-34 29M367 374l-13 -14M374 362l-36 -5M310 370l-6 3M362 391l14 -11M343 378l22 -13M330 356l12 26M340 374l-2 -21M363 386l-6 -32M311 378l24 -4M367 364l-31 15M311 371l56 15M374 371l2 2M342 355l-13 30M312 366l4 17M365 365l-17 11M323 393l-13 -23M342 382l17 -27M380 371l-13 14M311 371l31 -8M338 369l-7 12M373 380l-47 -27M323 394l20 -33M376 374l-26 -23M365 389l-41 -14M346 388l-6 -14M373 364l-66 2M324 394l44 -25M332 382l11 -28M315 355l1 5M354 354l-11 -3M365 368l-3 21M351 367l14 1M380 371l-15 -3M348 366l-19 5M348 396l14 -39M371 372l-45 9M326 361l-20 3M361 383l-36 13M313 384l30 -6M349 398l13 -3M311 371l18 1M335 393l20 3M308 373l6 11M332 353l42 20M374 388l-20 0M363 383l-44 5M358 361l11 2M330 356l-15 -1M347 354l-11 31M351 363l20 25M332 382l-7 -29M314 358l34 -5M310 380l7 -6M359 374l-51 -9M353 386l-40 1M371 389l-36 -34M368 384l-12 -32M352 355l-10 40M371 372l-31 -17M353 367l-19 -1M375 384l-35 -30M313 389l-4 -14M339 398l-28 -36M372 383l-11 -21M374 388l-64 -14M356 369l-35 -3M377 368l-68 5M351 396l-31 -27M356 352l8 31M340 367l24 -10M351 376l5 -6M371 370l-62 -5M334 366l1 23M359 355l16 6M375 361l-9 2M327 378l52 -8M362 357l-28 9M375 387l3 -18M379 369l1 2M330 392l7 -14M324 385l54 -16M335 389l8 -36M318 362l43 -1M310 383l18 -20M312 364l67 5M338 352l24 36M312 374l40 -23M348 363l-2 20M357 391l-28 -6M327 390l49 -10M352 354l12 1M343 351l-39 29M378 384l-2 -7M322 392l51 -30M362 382l-14 15M330 382l16 4M362 382l-19 16M344 398l-6 -13M350 379l-18 -12M348 366l-17 19M314 379l60 5M366 393l-42 -6M362 354l-52 26M368 382l-59 -17M340 354l15 28M352 383l11 -25M408 397l-8 -38M399 376l0 24M424 385l-17 6M419 389l-33 -18M421 377l-22 -1M397 386l7 13M407 369l-7 28M386 380l7 16M419 389l1 2M387 391l6 0M411 403l-16 -38M419 381l-32 10M396 384l-8 -3M418 393l4 -14M400 359l24 26M397 358l22 28M412 356l-7 -1M397 358l-2 13M398 387l-11 4M420 370l-27 5M395 371l25 9M387 387l27 -24M399 398l18 -3M395 401l11 -42M402 385l19 3M385 375l1 15M387 391l30 4M402 357l17 35M400 354l12 36M406 359l0 34M409 358l13 23M412 363l1 -7M412 363l-25 10M404 399l5 -43M396 355l23 34M399 397l7 -4M235 429l-1 21M231 445l10 3M241 437l0 11M229 444l7 8M236 431l4 20M236 447l5 -10M240 447l-2 -2M241 435l3 8M242 443l-10 7M236 430l-7 18M241 437l0 0M316 426l16 -5M331 413l-11 16M313 425l2 2M316 423l-6 0M312 413l12 17M324 430l5 -8M315 414l9 1M308 420l5 4M331 413l-16 -1M311 420l-1 2M334 415l-5 13M316 423l7 1M324 430l3 -13M324 418l-1 6M310 423l17 3M324 428l-11 -4M342 415l8 -5M353 410l-11 5M346 416l3 -7M351 414l5 -11M342 404l0 6M344 415l-3 -2M353 410l-3 1M353 410l-1 7M357 408l-16 5M347 409l1 -9M420 398l-8 -6M408 404l15 0M426 399l-18 4M406 394l20 5M418 405l-13 -6M421 394l5 3M421 398l-3 -5M418 405l-13 -6M404 396l19 5M267 420l-14 -7M252 412l23 4M263 421l12 -5M247 413l28 0M270 407l-20 13M252 419l-1 -2M277 410l-25 -3M274 420l-4 -11M258 406l1 5M261 423l-8 -17M267 404l-12 1M267 404l0 4M269 421l-8 2M263 415l13 -1M247 415l0 0M250 416l17 2M274 420l3 -11M249 410l11 -5M200 394l-16 6M203 399l-11 -6M202 400l-3 -8M203 397l-18 4M192 393l-3 16M183 402l6 -3M201 400l-9 -5M201 400l-18 2M198 408l-12 -12M191 398l-5 7M203 397l-19 3M184 400l12 -9M201 405l2 -6M146 383l6 0M150 393l4 -6M146 383l3 -1M145 387l-7 5M145 387l2 9M152 383l-3 8M152 383l0 0M286 348l-24 8M339 355l1 -2M330 335l-96 12M331 345l-34 3M240 338l43 17M243 346l75 -1M306 334l35 20M225 343l19 12M323 346l-38 3M339 340l-17 11M282 357l-21 -4M310 358l22 -7M237 346l102 9M260 354l82 -6M261 353l8 -18M299 340l-51 13M288 354l-48 -1M286 333l71 16M271 350l40 -17M265 335l-28 2M292 334l-1 5M326 335l-98 11M288 354l4 -17M222 347l119 -3M342 354l-20 -5M271 350l25 -14M274 352l-47 -2M225 351l70 4M284 358l-33 -22M343 350l-45 -4M244 353l98 1M301 359l-2 -6M297 334l-61 8M337 339l-31 8M331 345l-63 9M311 336l-78 10M280 345l-53 5M269 336l28 17M268 336l74 14M246 342l84 10M351 340l-52 2M225 345l133 1M298 336l-33 -1M228 348l37 -3M321 338l-60 15M295 348l-47 2M292 337l-67 6M328 355l-81 -1M287 339l-4 6M298 350l-59 -5M331 338l-97 9M344 349l-75 10M260 353l47 1M303 358l18 -20M247 354l109 -14M301 359l-35 -5M357 344l-53 -6M293 346l8 12M274 359l-41 -14M310 358l-20 0M255 337l50 -1M316 355l-12 -19M306 351l25 -2M329 342l-2 1M325 352l-35 3M325 358l-19 -7M334 339l-70 20M268 350l30 0M352 339l-68 19M265 351l30 4M298 338l-12 10M232 352l54 -4M254 336l41 19M357 344l-22 13M277 354l60 -18M330 334l-24 0M293 351l19 -1M268 350l24 -13M350 339l-5 4M233 341l84 2M263 339l-8 4M323 334l-5 11M262 356l25 -7M228 348l120 2M305 335l-65 9M353 345l-101 8M290 358l56 -18M287 339l41 16M323 355l-17 -8M268 354l59 1M232 339l113 -1M285 349l8 -15M286 348l-51 -9M301 358l-58 -12M225 351l59 7M305 336l-72 14M273 355l-40 -5M231 340l43 12M271 356l-18 -15M251 344l72 8M342 350l-97 -9M357 351l-59 -1M308 333l-10 22M290 340l56 3M247 354l80 -19M228 346l122 -5M260 356l42 1M315 355l0 -11M328 355l-102 -10M238 348l69 -4M341 341l-106 6M285 348l-49 -2M261 357l98 -8M357 351l-5 -12M301 344l50 -6M323 346l-37 -12M315 355l-87 -12M276 355l-6 -13M309 346l-27 9M347 338l-108 16M248 350l68 5M402 296l8 3M407 296l13 35M407 295l-8 43M402 302l11 14M393 337l-8 -29M422 323l-10 -1M387 326l10 -29M408 308l10 19M399 338l21 -16M413 313l-5 26M394 317l19 5M386 302l14 -10M418 327l-32 -24M389 300l0 17M402 329l15 1M392 336l13 -39M402 296l-2 1M415 302l-22 29M416 320l-14 -5M402 302l1 36M390 300l-2 35M417 320l-24 -23M418 327l-21 -13M416 309l-25 -10M417 326l0 -6M385 308l22 -12M418 310l-8 27M413 316l-27 -13M394 301l5 3M407 300l-22 18M416 330l3 -14M411 296l2 7M421 331l-4 -5M384 305l34 26M418 327l-18 -33M421 314l-32 22M385 316l-2 11M387 303l26 29M390 334l-7 -16M398 336l21 -33M393 331l-2 -32M404 338l-20 -5M416 310l-21 -16M386 304l1 8M409 337l-9 -45M406 330l2 9M402 341l11 -38M410 328l-18 0M411 296l4 11M393 337l29 -26M415 304l-23 33M408 302l12 29M399 331l5 7M395 325l-14 -8M385 308l1 -4M413 313l-14 25M417 314l-7 -14M409 337l6 -30M391 340l31 -11M393 339l19 0M408 338l-1 -29M383 317l31 -20M395 294l13 48M395 300l-15 18M410 301l-15 24M254 272l13 -7M262 262l-2 7M257 265l-6 6M243 257l24 -3M242 264l10 -11M270 259l0 -5M241 256l34 5M248 266l22 -4M251 264l19 1M262 271l-14 -17M243 270l-4 -9M257 254l6 9M246 271l-3 -7M246 269l-1 -7M243 264l27 -5M274 263l-28 6M246 263l0 6M266 266l-4 -14M256 255l16 7M271 263l-4 4M262 271l-7 -5M250 254l-8 15M266 255l-10 0M255 252l13 4M270 257l-10 1M245 270l9 -7M241 265l30 -5M255 271l13 -14M356 260l7 12M377 254l-9 -17M356 260l8 -11M361 262l-2 3M360 237l12 31M377 251l-24 5M358 260l2 -16M357 262l15 7M375 239l-12 1M370 257l-7 -8M374 250l-10 21M377 253l-7 -15M366 263l11 -22M365 232l-8 26M373 267l-11 -7M362 258l-3 -2M368 236l-4 9M373 241l-5 -5M358 242l-3 3M370 234l4 8M376 239l-3 -3M368 252l-4 -11M377 241l-4 26M375 264l-11 -14M354 255l23 -15M354 249l15 -5M357 258l22 -2M370 257l-12 1M378 250l-3 14M371 267l-14 -9M368 240l-1 12M363 246l11 4M366 263l14 -10M375 350l30 3M379 344l24 4M370 355l8 -8M375 350l12 -4M402 345l-3 1M383 341l-13 14M396 340l6 18M387 363l-1 0M394 339l3 15M389 340l-3 9M378 347l18 -7M399 356l-17 -2M386 363l1 0M379 361l27 -10M390 358l-14 -11M399 341l-5 6M403 348l-10 -9M390 358l-7 5M387 346l-1 9M392 360l-17 -10M379 348l15 9M384 362l19 -4M384 345l3 1M374 355l12 8M399 343l-4 4M393 345l1 16M374 353l25 -10M352 415l-197 -28M419 362l-143 52M356 405l39 -40M308 377l-165 8M139 348l287 51M233 439l109 -37M402 385l-153 33M232 450l118 -40M152 391l160 22M142 391l3 -16M419 391l-67 26M152 383l174 -25M183 395l-29 -2M269 407l-116 -14M325 416l96 -18M147 391l209 14M407 394l-112 -10M323 424l-56 -6M342 410l-203 -25M408 394l-60 5M326 383l16 27M420 370l-198 38M146 347l0 48M160 356l198 56M297 391l-62 63M407 402l-167 33M149 382l195 27M421 365l-89 1M346 398l-74 -23M239 449l177 -57M139 386l172 33M317 429l-176 -44M134 363l108 76M330 416l-182 -61M236 396l78 19M282 386l-128 1M276 414l-24 -31M145 387l94 62M155 392l-16 -27M238 445l-39 -53M267 404l-25 35M274 419l-84 -26M249 415l173 -15M234 450l18 -34M342 402l26 -33M327 417l12 -8M408 404l-56 11M353 403l-201 -20M378 375l-60 50M319 411l-106 -33M378 365l-21 41M240 451l118 -39M198 408l126 22M145 387l209 27M262 372l125 -1M312 367l-176 3M229 442l81 -22M201 405l220 -7M160 372l246 22M153 346l79 22M184 400l58 41M404 403l-215 -1M265 412l59 15M355 404l-38 25M157 375l147 -4M143 377l114 32M422 400l-280 -8M150 382l40 11M146 395l86 39M136 366l13 25M399 387l-166 45M398 369l-131 34M145 387l270 5M269 405l75 -3M334 418l-148 -22M423 401l-271 -18M281 405l90 -41M238 452l95 -33M247 413l105 -50M161 381l179 29M426 397l-286 -52M422 400l-265 -13M143 348l277 50M202 394l-64 -4M191 385l-55 -10M137 387l7 -45M187 406l49 29M312 424l-61 -7M249 410l59 10M424 397l-93 -4M324 427l-169 -37M308 419l118 -22M411 391l-218 17M159 381l252 23M345 350l79 48M423 404l-281 -21M236 431l183 -69M148 370l-1 21M275 413l82 -5M202 400l127 28M327 417l-113 -37M142 392l283 3M216 370l146 -16M418 405l-71 4M355 415l54 -14M142 391l192 -29M154 392l164 20M155 387l116 26M267 404l56 20M357 408l-117 23M161 371l23 32M140 383l202 22M346 354l-95 62M286 399l127 3M346 416l-203 -40M310 423l-150 -48M139 354l286 43M310 423l26 -41M392 362l-234 16M271 408l60 17M284 400l137 5M146 383l169 43M424 398l-72 19M161 358l101 47M247 416l61 4M352 415l-20 1M404 396l-46 15M232 447l144 -62M325 420l-129 -20M254 407l88 -5M233 432l16 -62M277 409l80 -1M145 348l240 23M253 413l-24 29M310 422l-33 -52M202 394l206 -17M348 392l-108 39M152 391l227 -14M358 412l54 -54M236 447l-97 -59M196 400l197 -18M413 396l-63 -9M340 350l-81 61M141 384l271 -28M320 390l-10 33M319 361l-161 13M423 401l-179 42M138 390l233 -1M221 384l-24 14M244 443l113 -76M387 383l-148 68M315 412l36 -57M186 406l215 -53M260 409l91 5M312 378l-72 75M425 397l-191 53M312 427l97 -69M393 396l-100 -13M396 355l-126 54M187 406l137 12M220 191l-58 32M185 245l-72 40M379 369l41 11M294 198l-74 -32M368 384l-18 -65M332 262l-86 7M163 214l1 26M359 254l24 64M364 370l-22 40M423 349l-31 46M260 269l-75 -20M260 420l-60 -26M253 221l-55 59M391 238l-89 4M415 400l-14 -80M363 246l66 59M250 411l23 -77M91 264l68 -35M265 420l77 -18M198 380l77 34" stroke="#7a7a7a" stroke-width="0.5" stroke-opacity="0.8" fill="none"/><path transform="scale(.5)" d="M698 625h0M622 533h0M752 559h0M751 610h0M617 561h0M492 582h0M465 588h0M461 618h0M365 630h0M365 608h0M505 647h0M510 646h0M494 685h0M495 643h0M441 686h0M462 686h0M403 692h0M407 639h0M368 670h0M434 610h0M487 693h0M432 644h0M403 656h0M404 586h0M475 694h0M454 709h0M447 711h0M500 652h0M346 651h0M380 678h0M473 686h0M369 668h0M422 601h0M429 687h0M441 598h0M450 710h0M409 656h0M442 609h0M437 593h0M385 665h0M396 699h0M408 631h0M363 689h0M382 670h0M420 674h0M423 671h0M433 596h0M476 613h0M479 701h0M438 663h0M362 686h0M372 603h0M456 631h0M441 675h0M387 594h0M417 679h0M500 662h0M443 588h0M475 642h0M452 657h0M447 607h0M470 702h0M420 673h0M493 603h0M398 637h0M404 699h0M413 651h0M495 644h0M482 643h0M480 617h0M392 662h0M375 689h0M458 603h0M371 622h0M476 662h0M344 624h0M357 682h0M418 652h0M457 662h0M389 601h0M399 711h0M511 652h0M402 669h0M384 652h0M389 671h0M368 499h0M371 474h0M379 487h0M378 465h0M342 498h0M382 487h0M320 480h0M379 473h0M328 483h0M383 477h0M325 477h0M352 495h0M335 492h0M356 485h0M379 469h0M382 473h0M349 499h0M351 522h0M373 508h0M399 521h0M358 535h0M350 526h0M395 497h0M349 535h0M369 518h0M363 504h0M388 500h0M355 530h0M376 496h0M366 492h0M376 497h0M373 489h0M385 540h0M357 536h0M393 524h0M397 532h0M387 526h0M353 529h0M370 493h0M393 537h0M365 516h0M377 517h0M344 518h0M395 510h0M353 504h0M392 507h0M372 544h0M367 536h0M385 526h0M411 532h0M415 532h0M376 532h0M411 532h0M366 549h0M374 538h0M379 576h0M396 554h0M401 533h0M379 572h0M397 542h0M369 563h0M376 572h0M361 552h0M417 536h0M418 565h0M426 556h0M375 537h0M406 574h0M370 547h0M367 545h0M401 580h0M422 560h0M362 560h0M424 544h0M394 583h0M420 538h0M403 576h0M402 553h0M320 296h0M310 303h0M348 358h0M353 310h0M364 356h0M359 341h0M352 375h0M356 312h0M312 328h0M319 341h0M295 376h0M294 376h0M348 352h0M356 373h0M347 317h0M356 333h0M310 328h0M303 309h0M356 383h0M294 380h0M319 357h0M288 341h0M316 332h0M322 306h0M273 350h0M362 349h0M354 346h0M289 359h0M346 385h0M359 351h0M323 384h0M281 355h0M350 325h0M365 363h0M343 384h0M338 308h0M350 381h0M329 297h0M282 349h0M278 354h0M311 396h0M314 383h0M145 534h0M226 562h0M145 572h0M250 553h0M305 538h0M298 585h0M256 592h0M248 546h0M272 611h0M293 586h0M267 563h0M290 496h0M300 531h0M284 509h0M257 499h0M280 618h0M283 621h0M288 607h0M281 478h0M259 615h0M303 575h0M270 530h0M302 569h0M263 608h0M248 564h0M253 506h0M276 506h0M281 483h0M267 495h0M290 596h0M287 605h0M256 523h0M252 562h0M262 519h0M290 621h0M247 554h0M288 501h0M258 516h0M259 607h0M281 562h0M284 619h0M254 506h0M282 528h0M272 616h0M267 607h0M291 509h0M275 479h0M256 589h0M295 539h0M274 715h0M282 685h0M278 765h0M281 690h0M273 756h0M277 692h0M308 720h0M273 709h0M322 735h0M310 770h0M620 747h0M773 757h0M684 819h0M536 522h0M544 522h0" stroke="rgb(68,1,84)" stroke-width="5.4" stroke-linecap="round" fill="none"/><path transform="scale(.5)" d="M521 425h0M514 552h0M511 555h0M577 585h0M649 605h0M730 589h0M770 604h0M491 602h0M637 566h0M727 540h0M609 557h0M759 573h0M513 638h0M466 591h0M430 656h0M514 628h0M438 655h0M471 668h0M363 669h0M479 692h0M456 697h0M386 672h0M368 623h0M507 682h0M383 649h0M416 589h0M502 617h0M392 642h0M458 600h0M490 618h0M394 665h0M449 598h0M387 679h0M356 685h0M373 695h0M373 632h0M424 707h0M471 703h0M514 653h0M451 703h0M479 606h0M448 669h0M378 649h0M363 684h0M361 635h0M356 616h0M382 685h0M408 623h0M402 711h0M494 614h0M507 680h0M416 704h0M411 630h0M362 618h0M474 634h0M400 611h0M365 651h0M386 600h0M395 611h0M475 628h0M373 667h0M453 712h0M400 591h0M480 696h0M495 633h0M492 676h0M503 621h0M440 587h0M408 702h0M398 697h0M410 682h0M366 626h0M453 640h0M490 675h0M401 590h0M415 627h0M510 645h0M478 702h0M409 609h0M354 639h0M416 648h0M505 647h0M337 657h0M355 668h0M454 616h0M378 672h0M440 649h0M405 584h0M431 675h0M401 676h0M453 593h0M414 701h0M415 642h0M460 636h0M491 694h0M375 657h0M439 585h0M500 606h0M359 666h0M426 643h0M490 681h0M395 696h0M441 589h0M356 624h0M393 622h0M343 635h0M503 681h0M351 627h0M412 584h0M480 653h0M368 606h0M343 662h0M391 689h0M500 633h0M394 648h0M394 678h0M419 662h0M470 694h0M495 683h0M349 613h0M338 450h0M333 448h0M343 477h0M337 475h0M329 492h0M365 486h0M367 490h0M373 498h0M348 489h0M335 460h0M379 470h0M349 455h0M381 485h0M334 497h0M367 458h0M380 467h0M340 491h0M338 458h0M323 486h0M351 524h0M344 524h0M340 516h0M400 508h0M370 534h0M393 533h0M396 507h0M395 499h0M369 538h0M360 495h0M400 509h0M401 513h0M383 499h0M370 521h0M396 496h0M386 497h0M386 525h0M366 528h0M367 506h0M394 533h0M341 510h0M376 491h0M356 517h0M392 522h0M402 503h0M385 524h0M346 511h0M360 491h0M394 533h0M359 535h0M356 496h0M381 540h0M388 490h0M382 578h0M392 561h0M388 580h0M412 559h0M396 547h0M386 574h0M379 579h0M392 531h0M369 544h0M381 579h0M368 543h0M391 571h0M367 557h0M378 533h0M425 542h0M363 545h0M414 561h0M375 566h0M386 577h0M414 560h0M414 571h0M420 557h0M417 576h0M382 532h0M399 578h0M377 576h0M399 529h0M394 546h0M409 572h0M422 564h0M367 565h0M390 525h0M387 575h0M374 558h0M387 527h0M387 529h0M273 342h0M295 305h0M357 333h0M358 333h0M349 374h0M307 341h0M317 395h0M361 364h0M294 311h0M364 324h0M311 394h0M366 354h0M356 327h0M323 364h0M344 386h0M339 298h0M344 383h0M294 311h0M363 332h0M343 300h0M292 317h0M332 362h0M314 379h0M309 318h0M326 394h0M295 371h0M366 361h0M324 330h0M314 369h0M280 342h0M368 358h0M354 379h0M307 389h0M329 303h0M292 373h0M358 376h0M330 377h0M355 361h0M347 334h0M313 308h0M279 367h0M363 361h0M332 298h0M332 386h0M338 371h0M278 326h0M349 375h0M347 376h0M348 372h0M308 297h0M144 593h0M137 586h0M257 572h0M276 604h0M299 597h0M278 581h0M278 521h0M303 581h0M270 568h0M258 600h0M258 509h0M286 499h0M252 529h0M273 527h0M271 483h0M303 536h0M291 502h0M252 594h0M257 578h0M254 527h0M288 550h0M299 520h0M285 509h0M304 578h0M285 590h0M276 605h0M269 489h0M260 617h0M285 611h0M267 492h0M281 530h0M258 570h0M276 593h0M270 544h0M253 561h0M259 592h0M297 580h0M271 614h0M254 572h0M274 619h0M279 562h0M294 593h0M271 628h0M299 512h0M265 500h0M246 548h0M279 491h0M257 606h0M267 622h0M285 597h0M292 503h0M296 559h0M260 591h0M295 594h0M288 482h0M291 577h0M249 551h0M278 491h0M287 481h0M294 613h0M288 522h0M282 487h0M271 477h0M297 602h0M318 700h0M311 771h0M277 710h0M321 706h0M322 761h0M309 717h0M292 782h0M309 759h0M308 684h0M315 756h0M281 779h0M305 694h0M296 758h0M268 731h0M318 708h0M278 734h0M320 739h0M319 743h0M449 811h0M619 765h0M646 786h0M700 820h0M537 711h0M580 706h0M494 530h0M509 545h0M779 685h0" stroke="rgb(70,18,100)" stroke-width="5.4" stroke-linecap="round" fill="none"/><path transform="scale(.5)" d="M673 368h0M522 427h0M709 449h0M521 401h0M616 391h0M762 615h0M765 625h0M765 612h0M703 609h0M485 592h0M501 569h0M595 630h0M525 587h0M536 586h0M580 654h0M493 568h0M707 652h0M765 555h0M747 582h0M436 627h0M404 599h0M358 615h0M489 617h0M422 656h0M381 652h0M400 659h0M477 605h0M440 607h0M500 676h0M495 694h0M357 643h0M380 651h0M448 674h0M393 666h0M380 596h0M380 641h0M350 621h0M393 626h0M477 619h0M397 707h0M489 687h0M377 601h0M510 650h0M444 601h0M358 643h0M437 628h0M364 630h0M396 607h0M348 663h0M473 664h0M385 601h0M394 703h0M400 707h0M486 640h0M484 675h0M503 630h0M440 676h0M467 620h0M379 599h0M409 654h0M379 683h0M415 675h0M488 615h0M466 627h0M444 678h0M463 606h0M441 713h0M510 660h0M517 641h0M403 614h0M391 604h0M448 634h0M482 692h0M477 603h0M362 636h0M495 603h0M449 637h0M460 610h0M417 691h0M481 693h0M518 642h0M484 697h0M407 668h0M417 607h0M427 650h0M440 596h0M453 699h0M377 649h0M415 595h0M388 656h0M472 611h0M507 643h0M425 600h0M473 596h0M464 593h0M412 703h0M503 623h0M414 703h0M468 706h0M343 663h0M443 704h0M427 608h0M439 709h0M440 624h0M390 689h0M394 594h0M465 671h0M430 698h0M393 604h0M354 680h0M446 691h0M485 678h0M375 647h0M402 659h0M421 670h0M416 705h0M435 633h0M346 641h0M459 603h0M397 602h0M379 703h0M427 714h0M370 605h0M377 684h0M464 590h0M486 609h0M424 706h0M393 599h0M477 681h0M365 649h0M410 599h0M399 634h0M372 618h0M417 583h0M360 667h0M450 697h0M514 650h0M492 690h0M429 686h0M433 596h0M402 705h0M346 651h0M465 694h0M484 662h0M456 680h0M435 706h0M421 654h0M351 671h0M481 653h0M478 593h0M363 678h0M482 696h0M477 705h0M408 700h0M370 641h0M493 636h0M360 623h0M454 594h0M339 637h0M451 589h0M450 606h0M362 631h0M365 618h0M470 648h0M381 661h0M478 633h0M427 582h0M397 645h0M508 631h0M396 609h0M417 617h0M488 659h0M435 590h0M375 612h0M437 581h0M500 614h0M373 638h0M443 713h0M389 690h0M442 586h0M392 668h0M387 650h0M507 639h0M514 628h0M389 688h0M436 616h0M338 426h0M316 440h0M338 437h0M377 472h0M366 483h0M338 466h0M353 502h0M325 478h0M344 481h0M359 486h0M376 469h0M359 501h0M349 456h0M336 462h0M334 460h0M382 494h0M367 499h0M349 478h0M381 488h0M344 488h0M376 463h0M386 475h0M343 502h0M377 471h0M356 458h0M353 473h0M348 501h0M328 484h0M357 499h0M332 497h0M349 496h0M357 498h0M367 460h0M339 495h0M355 477h0M331 471h0M349 491h0M346 473h0M357 485h0M370 468h0M347 485h0M331 497h0M393 513h0M389 500h0M367 532h0M379 527h0M355 529h0M389 536h0M349 512h0M404 514h0M374 544h0M373 502h0M369 494h0M353 507h0M347 504h0M363 513h0M398 532h0M367 499h0M373 532h0M405 518h0M378 539h0M391 502h0M349 507h0M397 504h0M352 500h0M354 524h0M388 501h0M379 543h0M373 527h0M351 502h0M349 500h0M362 515h0M388 519h0M379 492h0M353 517h0M369 489h0M403 518h0M402 506h0M411 531h0M387 575h0M367 557h0M421 549h0M412 539h0M368 553h0M401 529h0M424 555h0M399 548h0M414 559h0M369 558h0M405 526h0M368 564h0M361 554h0M403 530h0M379 531h0M391 526h0M367 538h0M394 561h0M399 579h0M418 565h0M372 553h0M395 583h0M411 551h0M409 572h0M373 568h0M380 543h0M420 559h0M380 570h0M381 534h0M392 529h0M363 550h0M383 545h0M410 550h0M394 548h0M338 311h0M280 319h0M363 328h0M295 311h0M337 336h0M294 382h0M297 308h0M337 296h0M325 394h0M288 347h0M362 366h0M291 315h0M330 388h0M288 375h0M324 304h0M316 393h0M340 361h0M362 357h0M363 318h0M292 310h0M365 351h0M291 369h0M330 388h0M358 317h0M318 298h0M311 391h0M282 335h0M364 336h0M285 329h0M312 390h0M331 302h0M280 321h0M363 327h0M310 388h0M305 386h0M302 307h0M367 347h0M285 326h0M281 346h0M345 376h0M326 298h0M368 355h0M312 308h0M305 307h0M304 371h0M324 378h0M323 386h0M358 357h0M319 297h0M367 363h0M364 320h0M299 388h0M297 379h0M361 335h0M280 370h0M302 298h0M289 312h0M297 314h0M316 302h0M346 321h0M367 364h0M335 354h0M325 392h0M287 317h0M286 356h0M296 301h0M355 379h0M371 351h0M314 373h0M303 321h0M286 363h0M313 320h0M302 393h0M327 306h0M311 366h0M358 353h0M365 346h0M337 340h0M301 306h0M287 374h0M359 319h0M370 345h0M307 387h0M285 325h0M301 326h0M360 346h0M287 314h0M343 303h0M347 382h0M292 376h0M223 590h0M212 564h0M164 606h0M181 525h0M154 535h0M223 548h0M295 503h0M267 537h0M296 520h0M287 613h0M277 548h0M256 608h0M248 538h0M259 587h0M291 595h0M299 557h0M286 488h0M260 590h0M282 483h0M298 511h0M263 520h0M253 504h0M281 598h0M286 514h0M256 499h0M256 610h0M275 536h0M304 536h0M295 596h0M263 511h0M285 500h0M281 491h0M275 597h0M274 545h0M297 543h0M295 589h0M267 534h0M257 607h0M273 496h0M249 521h0M291 595h0M296 523h0M260 491h0M279 487h0M253 575h0M300 589h0M294 573h0M300 530h0M286 618h0M266 599h0M260 508h0M260 497h0M288 538h0M249 568h0M248 575h0M253 599h0M261 575h0M273 613h0M264 603h0M247 554h0M292 597h0M268 570h0M264 546h0M292 528h0M289 493h0M291 499h0M301 541h0M258 531h0M289 600h0M256 511h0M261 614h0M299 587h0M293 506h0M286 622h0M299 532h0M284 490h0M297 523h0M256 510h0M280 579h0M295 588h0M277 626h0M247 552h0M262 556h0M321 756h0M321 744h0M289 721h0M290 712h0M311 745h0M274 747h0M318 711h0M296 741h0M271 742h0M318 703h0M308 778h0M311 778h0M299 724h0M285 774h0M290 717h0M278 748h0M283 720h0M297 754h0M287 687h0M315 692h0M285 770h0M293 679h0M274 745h0M272 732h0M319 701h0M300 712h0M290 777h0M271 742h0M290 695h0M282 691h0M298 768h0M272 749h0M289 686h0M301 780h0M473 757h0M676 705h0M676 761h0M684 790h0M724 777h0M749 747h0M699 792h0M799 794h0M283 781h0M773 628h0M499 510h0M527 514h0M524 523h0M487 521h0M539 529h0M776 684h0" stroke="rgb(72,36,117)" stroke-width="5.4" stroke-linecap="round" fill="none"/><path transform="scale(.5)" d="M433 329h0M601 390h0M587 366h0M513 353h0M709 455h0M618 493h0M582 483h0M694 421h0M525 483h0M578 469h0M680 493h0M713 416h0M600 512h0M587 527h0M583 503h0M566 451h0M662 466h0M618 577h0M599 539h0M687 610h0M613 536h0M665 610h0M561 665h0M506 626h0M641 667h0M571 682h0M778 566h0M663 640h0M684 596h0M781 600h0M788 614h0M547 559h0M665 637h0M627 607h0M579 582h0M611 523h0M615 554h0M538 572h0M617 599h0M683 571h0M653 662h0M624 540h0M591 565h0M637 687h0M592 595h0M521 578h0M528 556h0M507 575h0M596 525h0M565 628h0M771 582h0M668 655h0M515 592h0M625 619h0M764 625h0M617 673h0M499 588h0M671 608h0M558 560h0M637 583h0M549 559h0M707 588h0M516 577h0M761 618h0M472 689h0M358 660h0M483 606h0M423 671h0M445 602h0M462 643h0M420 705h0M445 606h0M398 698h0M418 603h0M364 688h0M423 660h0M439 667h0M357 646h0M498 646h0M468 641h0M390 608h0M446 686h0M361 640h0M437 658h0M363 696h0M490 624h0M483 680h0M373 667h0M466 650h0M467 637h0M494 692h0M430 602h0M505 626h0M477 659h0M475 590h0M443 621h0M449 673h0M393 607h0M432 678h0M442 639h0M367 687h0M395 591h0M432 670h0M411 638h0M423 590h0M419 612h0M396 669h0M453 711h0M395 700h0M385 592h0M433 586h0M347 653h0M487 648h0M415 663h0M497 625h0M351 652h0M455 601h0M460 625h0M415 608h0M481 702h0M379 630h0M379 663h0M362 611h0M412 662h0M376 691h0M374 664h0M376 654h0M400 683h0M462 653h0M367 677h0M419 671h0M406 705h0M462 630h0M494 688h0M374 648h0M482 669h0M454 605h0M344 661h0M486 656h0M446 705h0M473 635h0M442 601h0M446 628h0M498 607h0M412 599h0M384 681h0M381 667h0M356 646h0M454 634h0M428 595h0M368 621h0M440 615h0M472 606h0M444 586h0M507 674h0M460 589h0M438 705h0M457 636h0M512 645h0M353 648h0M338 645h0M455 639h0M431 595h0M473 604h0M440 706h0M480 614h0M502 620h0M470 684h0M469 605h0M510 665h0M380 594h0M385 631h0M399 590h0M393 709h0M393 657h0M359 672h0M442 626h0M469 632h0M421 707h0M343 637h0M442 687h0M448 711h0M355 653h0M420 669h0M478 623h0M494 690h0M508 642h0M405 674h0M502 647h0M417 668h0M485 671h0M389 591h0M415 665h0M399 591h0M421 638h0M404 669h0M467 588h0M453 614h0M490 629h0M340 659h0M400 682h0M505 651h0M471 629h0M402 607h0M482 681h0M424 583h0M384 654h0M352 622h0M497 681h0M472 637h0M485 681h0M479 662h0M455 590h0M489 692h0M372 652h0M342 650h0M382 707h0M403 620h0M449 662h0M378 697h0M394 705h0M407 712h0M373 646h0M416 610h0M404 640h0M466 651h0M388 588h0M397 671h0M486 640h0M431 612h0M370 656h0M470 696h0M419 681h0M480 647h0M355 651h0M350 629h0M463 598h0M462 590h0M464 665h0M363 668h0M478 635h0M455 689h0M368 687h0M449 636h0M398 700h0M495 645h0M472 695h0M360 634h0M463 650h0M455 688h0M428 628h0M511 655h0M440 616h0M407 612h0M461 685h0M494 658h0M480 651h0M443 657h0M497 680h0M426 583h0M350 627h0M421 665h0M471 688h0M446 625h0M437 599h0M475 663h0M352 674h0M309 438h0M310 434h0M330 450h0M345 441h0M341 427h0M321 429h0M312 445h0M360 439h0M361 455h0M351 486h0M356 499h0M345 470h0M348 486h0M359 503h0M363 461h0M327 480h0M374 473h0M376 479h0M336 492h0M332 462h0M346 461h0M380 481h0M360 462h0M357 504h0M355 500h0M357 465h0M350 496h0M329 473h0M332 500h0M352 494h0M332 499h0M362 465h0M357 492h0M373 474h0M380 491h0M354 505h0M374 499h0M386 535h0M367 536h0M401 514h0M375 494h0M383 540h0M378 540h0M348 520h0M399 528h0M393 537h0M396 517h0M344 523h0M368 518h0M356 532h0M376 491h0M378 514h0M381 502h0M354 500h0M400 508h0M377 524h0M356 520h0M378 540h0M398 506h0M364 531h0M375 492h0M397 534h0M347 510h0M345 510h0M373 567h0M384 555h0M367 545h0M383 572h0M362 554h0M370 569h0M406 578h0M420 569h0M388 529h0M378 534h0M399 556h0M378 578h0M371 571h0M397 559h0M398 577h0M408 547h0M408 568h0M388 574h0M407 568h0M416 560h0M376 577h0M369 570h0M383 563h0M426 564h0M366 560h0M422 559h0M403 527h0M364 544h0M313 296h0M289 308h0M359 380h0M312 308h0M278 333h0M347 307h0M318 396h0M360 363h0M350 309h0M329 329h0M281 320h0M360 324h0M360 328h0M318 308h0M304 388h0M362 368h0M353 321h0M293 387h0M299 382h0M324 317h0M321 387h0M295 373h0M277 357h0M303 299h0M303 313h0M276 343h0M324 390h0M284 342h0M315 336h0M282 356h0M324 388h0M310 377h0M361 370h0M360 314h0M282 370h0M319 371h0M303 377h0M335 392h0M343 353h0M365 366h0M310 394h0M295 303h0M351 318h0M332 322h0M346 314h0M339 305h0M281 348h0M294 306h0M291 310h0M329 302h0M295 307h0M332 384h0M340 382h0M276 359h0M349 382h0M349 372h0M357 381h0M325 329h0M360 323h0M297 334h0M352 383h0M282 335h0M306 385h0M292 343h0M301 387h0M348 306h0M299 375h0M326 390h0M343 385h0M344 328h0M281 324h0M317 328h0M280 323h0M356 374h0M348 310h0M293 385h0M305 305h0M319 395h0M343 379h0M338 309h0M296 317h0M366 365h0M279 326h0M300 378h0M346 310h0M353 363h0M353 325h0M304 308h0M179 520h0M225 571h0M136 573h0M160 595h0M218 567h0M173 593h0M157 553h0M174 603h0M164 525h0M215 562h0M152 537h0M263 541h0M293 575h0M248 547h0M303 576h0M271 494h0M284 619h0M254 539h0M270 556h0M285 624h0M253 576h0M253 540h0M277 608h0M255 580h0M255 564h0M297 504h0M252 563h0M252 552h0M268 495h0M284 553h0M251 565h0M289 505h0M279 580h0M299 601h0M257 569h0M260 565h0M256 530h0M273 618h0M281 612h0M278 619h0M277 487h0M259 599h0M262 587h0M253 532h0M255 498h0M294 602h0M295 592h0M300 522h0M289 559h0M279 625h0M259 569h0M254 560h0M280 608h0M300 564h0M251 543h0M259 612h0M271 526h0M300 515h0M264 600h0M300 525h0M278 614h0M251 568h0M287 530h0M255 607h0M274 493h0M264 597h0M252 527h0M274 489h0M304 568h0M292 609h0M292 595h0M294 576h0M300 583h0M299 581h0M260 524h0M291 610h0M256 544h0M255 499h0M311 691h0M308 762h0M319 712h0M300 727h0M288 777h0M293 700h0M279 718h0M281 719h0M319 734h0M286 736h0M310 776h0M274 765h0M280 745h0M278 760h0M314 711h0M313 688h0M302 682h0M281 700h0M271 736h0M302 685h0M283 686h0M318 756h0M300 753h0M317 757h0M282 768h0M298 738h0M311 777h0M300 773h0M319 709h0M316 722h0M296 736h0M309 696h0M306 713h0M305 784h0M318 762h0M304 686h0M309 733h0M316 748h0M323 741h0M556 742h0M725 738h0M632 768h0M715 709h0M623 743h0M660 780h0M619 730h0M718 709h0M680 748h0M667 780h0M751 767h0M651 707h0M696 792h0M665 731h0M702 705h0M787 786h0M839 771h0M768 744h0M808 709h0M470 905h0M650 833h0M616 841h0M700 833h0M679 820h0M684 831h0M705 803h0M699 822h0M710 829h0M690 834h0M851 794h0M286 770h0M299 763h0M308 780h0M587 712h0M696 686h0M537 672h0M663 692h0M576 707h0M596 668h0M720 696h0M538 673h0M791 658h0M509 543h0M524 541h0M479 522h0M539 518h0M505 543h0M538 522h0M478 535h0M758 496h0M715 520h0M735 540h0M788 693h0M752 710h0M788 725h0" stroke="rgb(68,52,126)" stroke-width="5.4" stroke-linecap="round" fill="none"/><path transform="scale(.5)" d="M452 376h0M443 350h0M538 359h0M674 385h0M505 374h0M544 331h0M641 492h0M653 453h0M575 444h0M600 414h0M634 413h0M586 466h0M707 474h0M581 431h0M522 459h0M668 484h0M702 446h0M655 418h0M707 483h0M620 513h0M579 422h0M485 457h0M567 474h0M655 448h0M655 402h0M649 418h0M798 459h0M839 567h0M800 592h0M582 604h0M524 553h0M596 680h0M576 531h0M780 584h0M512 601h0M635 682h0M562 651h0M703 618h0M625 554h0M682 531h0M685 593h0M529 640h0M549 610h0M491 598h0M791 600h0M631 648h0M745 629h0M525 642h0M532 670h0M641 548h0M587 660h0M613 678h0M554 610h0M656 555h0M677 585h0M606 552h0M561 541h0M683 616h0M731 650h0M578 667h0M683 528h0M509 550h0M532 640h0M659 555h0M610 614h0M730 568h0M697 552h0M727 591h0M636 536h0M705 579h0M539 537h0M550 613h0M568 544h0M594 561h0M478 627h0M733 555h0M497 571h0M627 630h0M671 648h0M561 575h0M651 658h0M536 545h0M699 548h0M645 593h0M658 571h0M554 572h0M662 687h0M706 543h0M658 560h0M634 532h0M596 550h0M741 617h0M628 629h0M517 632h0M764 606h0M510 637h0M564 534h0M722 595h0M783 607h0M417 625h0M366 681h0M495 636h0M490 619h0M366 620h0M391 604h0M485 660h0M396 611h0M427 631h0M405 680h0M479 610h0M433 699h0M455 646h0M496 612h0M361 664h0M489 649h0M459 694h0M353 617h0M361 675h0M365 613h0M346 620h0M413 640h0M351 659h0M396 697h0M396 671h0M393 663h0M470 624h0M352 635h0M447 660h0M493 610h0M402 592h0M471 662h0M504 619h0M439 658h0M350 634h0M416 630h0M354 651h0M364 629h0M489 678h0M383 643h0M451 584h0M354 645h0M432 604h0M464 669h0M442 655h0M347 642h0M508 653h0M439 677h0M457 664h0M459 613h0M493 666h0M365 686h0M495 619h0M362 677h0M413 708h0M478 703h0M362 638h0M406 695h0M440 585h0M445 700h0M392 706h0M370 651h0M403 603h0M359 630h0M451 638h0M440 652h0M371 685h0M394 667h0M395 691h0M461 664h0M345 659h0M420 591h0M355 650h0M433 678h0M492 684h0M339 654h0M407 617h0M381 686h0M427 583h0M347 673h0M396 635h0M427 679h0M404 598h0M508 632h0M390 631h0M361 628h0M382 705h0M448 625h0M377 612h0M477 601h0M455 702h0M372 679h0M391 698h0M352 665h0M468 677h0M487 643h0M447 694h0M401 654h0M491 663h0M487 633h0M401 706h0M495 691h0M474 684h0M480 641h0M480 625h0M465 645h0M461 603h0M485 685h0M490 664h0M379 660h0M466 664h0M442 659h0M426 713h0M469 591h0M338 637h0M405 652h0M383 702h0M389 649h0M454 642h0M512 637h0M505 624h0M420 702h0M481 628h0M423 698h0M445 587h0M490 612h0M411 600h0M387 666h0M362 692h0M405 684h0M370 646h0M465 630h0M365 606h0M502 630h0M410 628h0M397 699h0M385 687h0M481 680h0M443 631h0M386 673h0M515 652h0M446 620h0M475 699h0M447 609h0M464 616h0M357 642h0M411 658h0M469 608h0M389 595h0M452 645h0M513 671h0M461 687h0M351 628h0M346 617h0M502 641h0M478 662h0M500 686h0M412 676h0M448 695h0M405 637h0M407 647h0M438 595h0M425 589h0M338 644h0M461 670h0M470 633h0M467 673h0M501 676h0M437 583h0M426 642h0M451 691h0M478 615h0M494 610h0M421 651h0M400 611h0M393 633h0M453 713h0M496 668h0M440 659h0M378 599h0M450 683h0M389 682h0M343 625h0M494 681h0M422 675h0M383 654h0M367 679h0M427 601h0M362 655h0M384 655h0M344 426h0M324 447h0M340 422h0M361 448h0M325 428h0M310 451h0M337 461h0M304 445h0M311 445h0M348 430h0M312 437h0M357 442h0M331 457h0M346 459h0M362 453h0M331 452h0M326 478h0M363 488h0M346 462h0M350 460h0M325 468h0M352 460h0M373 465h0M361 504h0M350 482h0M385 489h0M350 501h0M374 473h0M381 486h0M367 479h0M354 474h0M372 459h0M380 474h0M386 481h0M335 463h0M380 482h0M350 474h0M371 498h0M350 530h0M385 493h0M362 523h0M354 522h0M383 522h0M385 494h0M394 511h0M352 506h0M383 508h0M355 508h0M389 503h0M375 540h0M383 537h0M417 555h0M401 531h0M402 570h0M408 556h0M393 557h0M401 562h0M375 544h0M400 579h0M411 555h0M416 543h0M371 557h0M375 573h0M382 574h0M401 573h0M415 532h0M351 369h0M293 303h0M294 374h0M362 349h0M368 357h0M326 335h0M346 304h0M296 362h0M306 352h0M340 385h0M275 343h0M332 331h0M368 327h0M285 357h0M313 304h0M294 385h0M303 332h0M281 338h0M311 318h0M295 335h0M296 307h0M284 329h0M363 346h0M359 356h0M319 381h0M276 328h0M345 360h0M308 319h0M272 344h0M282 351h0M287 324h0M347 312h0M364 327h0M286 358h0M289 364h0M330 295h0M327 396h0M317 340h0M312 381h0M289 363h0M309 383h0M354 315h0M322 298h0M356 312h0M360 355h0M286 381h0M315 391h0M285 327h0M309 395h0M305 354h0M292 380h0M335 389h0M289 326h0M321 323h0M360 370h0M327 295h0M337 390h0M305 309h0M294 388h0M363 323h0M188 585h0M228 554h0M215 590h0M207 529h0M221 563h0M214 585h0M174 526h0M191 597h0M133 573h0M168 523h0M203 524h0M219 564h0M213 540h0M194 520h0M211 584h0M220 576h0M220 586h0M180 599h0M196 590h0M203 531h0M189 595h0M133 551h0M152 530h0M188 607h0M267 525h0M301 542h0M247 568h0M275 543h0M286 501h0M292 593h0M272 611h0M269 624h0M256 561h0M289 592h0M285 552h0M300 578h0M275 626h0M255 569h0M288 597h0M262 522h0M303 561h0M297 513h0M262 502h0M252 598h0M268 568h0M282 609h0M302 550h0M287 552h0M293 570h0M288 557h0M290 614h0M247 544h0M287 490h0M286 498h0M284 738h0M290 788h0M296 678h0M269 753h0M318 725h0M321 754h0M285 751h0M295 773h0M278 695h0M288 772h0M296 689h0M318 763h0M320 703h0M285 772h0M309 690h0M296 681h0M276 712h0M314 765h0M307 698h0M278 771h0M307 770h0M306 771h0M312 768h0M294 714h0M286 755h0M287 695h0M270 706h0M316 773h0M274 770h0M308 692h0M309 774h0M321 749h0M268 749h0M320 750h0M280 777h0M283 779h0M296 711h0M309 769h0M321 707h0M324 721h0M312 772h0M311 709h0M321 713h0M286 695h0M305 741h0M323 717h0M303 777h0M315 751h0M516 815h0M421 771h0M412 756h0M403 806h0M390 773h0M446 777h0M705 794h0M659 742h0M626 755h0M657 731h0M756 766h0M653 717h0M754 754h0M708 717h0M660 790h0M624 741h0M675 788h0M747 717h0M726 783h0M612 747h0M646 783h0M626 737h0M668 725h0M729 787h0M708 709h0M613 742h0M721 751h0M691 784h0M712 753h0M752 747h0M732 768h0M741 728h0M707 718h0M624 754h0M783 724h0M806 800h0M774 767h0M834 786h0M773 783h0M778 784h0M824 711h0M773 739h0M473 861h0M471 862h0M459 889h0M641 820h0M671 847h0M649 857h0M658 843h0M650 824h0M621 841h0M708 810h0M706 800h0M681 809h0M694 818h0M707 805h0M683 826h0M711 808h0M708 829h0M716 824h0M706 805h0M696 822h0M692 832h0M703 831h0M819 805h0M833 783h0M810 799h0M847 802h0M844 800h0M815 807h0M404 788h0M366 796h0M387 817h0M309 785h0M290 761h0M283 765h0M283 785h0M291 774h0M591 702h0M664 708h0M533 666h0M456 692h0M476 697h0M522 694h0M530 682h0M535 666h0M540 710h0M656 707h0M773 641h0M821 600h0M762 637h0M800 610h0M765 654h0M495 508h0M497 519h0M536 538h0M513 539h0M485 541h0M508 527h0M496 527h0M484 529h0M485 529h0M543 513h0M534 514h0M537 533h0M499 507h0M534 529h0M725 492h0M757 515h0M749 706h0M767 687h0M765 727h0M805 690h0M785 697h0" stroke="rgb(65,68,135)" stroke-width="5.4" stroke-linecap="round" fill="none"/><path transform="scale(.5)" d="M659 303h0M493 345h0M702 370h0M621 327h0M713 368h0M505 350h0M542 328h0M587 334h0M579 342h0M714 356h0M735 361h0M767 349h0M750 345h0M532 442h0M567 447h0M594 454h0M664 409h0M715 462h0M581 455h0M702 480h0M615 434h0M710 468h0M649 429h0M650 441h0M631 506h0M517 497h0M584 394h0M632 413h0M623 455h0M562 489h0M691 488h0M610 436h0M664 426h0M645 453h0M571 496h0M600 434h0M564 470h0M531 398h0M660 493h0M617 434h0M606 470h0M562 444h0M599 398h0M591 471h0M537 401h0M535 518h0M619 467h0M679 468h0M652 504h0M701 485h0M582 471h0M578 494h0M569 424h0M714 453h0M607 424h0M488 449h0M530 461h0M718 456h0M634 471h0M499 455h0M641 459h0M591 417h0M619 496h0M660 485h0M635 468h0M588 392h0M689 474h0M863 467h0M833 519h0M833 624h0M798 557h0M597 641h0M551 600h0M540 558h0M622 657h0M631 577h0M581 544h0M544 668h0M666 544h0M593 622h0M702 640h0M573 538h0M521 635h0M590 592h0M730 580h0M525 624h0M639 541h0M641 604h0M677 599h0M480 596h0M477 602h0M622 597h0M721 572h0M481 626h0M705 638h0M633 666h0M795 612h0M675 658h0M626 553h0M747 574h0M702 628h0M749 608h0M490 567h0M503 633h0M495 616h0M635 583h0M777 586h0M681 596h0M703 628h0M672 682h0M714 572h0M699 575h0M758 605h0M625 551h0M594 657h0M768 567h0M520 598h0M719 660h0M771 591h0M594 617h0M491 632h0M636 628h0M552 583h0M550 607h0M651 679h0M610 633h0M681 683h0M687 640h0M666 685h0M651 646h0M679 618h0M526 642h0M653 640h0M644 672h0M649 617h0M663 543h0M727 663h0M641 564h0M756 650h0M557 592h0M734 633h0M660 687h0M538 546h0M751 607h0M590 542h0M694 614h0M538 579h0M578 653h0M768 619h0M783 580h0M702 595h0M572 555h0M631 610h0M733 649h0M647 575h0M696 559h0M653 526h0M605 559h0M686 677h0M531 591h0M685 625h0M685 600h0M792 617h0M583 638h0M668 554h0M605 669h0M608 587h0M716 642h0M721 652h0M586 651h0M607 556h0M709 627h0M595 680h0M758 622h0M784 587h0M732 670h0M734 656h0M547 606h0M674 544h0M597 544h0M582 585h0M676 533h0M602 551h0M617 569h0M592 642h0M689 533h0M538 612h0M689 589h0M755 609h0M754 548h0M499 591h0M527 589h0M681 549h0M632 567h0M551 653h0M688 600h0M492 591h0M757 560h0M636 554h0M758 552h0M576 623h0M508 577h0M711 667h0M606 684h0M748 598h0M761 613h0M646 673h0M439 690h0M460 706h0M442 635h0M486 690h0M360 685h0M472 697h0M447 711h0M435 697h0M516 647h0M508 636h0M445 709h0M359 636h0M421 658h0M375 648h0M429 671h0M408 675h0M517 654h0M382 650h0M424 692h0M455 686h0M478 627h0M435 708h0M451 607h0M457 598h0M479 602h0M375 696h0M487 599h0M475 594h0M389 636h0M363 668h0M445 663h0M396 702h0M362 658h0M363 632h0M410 681h0M453 635h0M421 608h0M495 604h0M444 638h0M497 661h0M493 661h0M435 628h0M386 595h0M487 684h0M379 636h0M445 625h0M477 615h0M387 695h0M371 645h0M392 699h0M472 685h0M360 670h0M382 643h0M382 628h0M487 692h0M429 662h0M380 675h0M359 650h0M445 666h0M434 706h0M442 669h0M514 643h0M393 657h0M370 658h0M453 603h0M368 598h0M447 705h0M349 630h0M382 636h0M500 640h0M389 663h0M462 693h0M416 593h0M466 692h0M430 672h0M504 616h0M413 672h0M433 714h0M425 669h0M385 703h0M358 615h0M432 684h0M482 596h0M396 658h0M435 592h0M433 582h0M433 591h0M408 699h0M509 646h0M462 610h0M378 621h0M487 679h0M397 649h0M420 706h0M472 680h0M382 613h0M488 609h0M413 690h0M438 658h0M468 675h0M438 630h0M412 699h0M463 669h0M346 638h0M443 586h0M360 661h0M362 610h0M446 659h0M484 644h0M389 647h0M479 640h0M429 649h0M476 661h0M379 667h0M446 589h0M385 697h0M498 617h0M434 710h0M474 638h0M441 595h0M378 602h0M457 695h0M365 645h0M494 681h0M469 705h0M424 591h0M341 668h0M441 652h0M370 694h0M406 703h0M367 694h0M402 592h0M352 432h0M352 463h0M340 424h0M351 434h0M322 431h0M342 427h0M352 442h0M366 449h0M311 453h0M359 447h0M325 427h0M355 456h0M344 424h0M334 422h0M328 462h0M359 433h0M346 439h0M324 434h0M306 444h0M310 448h0M327 459h0M351 440h0M355 432h0M364 437h0M340 460h0M351 462h0M369 490h0M385 475h0M343 495h0M379 483h0M351 480h0M334 501h0M372 490h0M381 494h0M363 515h0M348 506h0M393 536h0M388 581h0M407 534h0M381 540h0M425 545h0M413 575h0M420 563h0M374 559h0M279 333h0M293 376h0M351 319h0M361 329h0M299 313h0M353 346h0M340 319h0M313 332h0M358 336h0M296 359h0M353 367h0M361 342h0M197 525h0M189 603h0M181 564h0M231 573h0M155 593h0M159 581h0M207 600h0M212 544h0M177 599h0M173 536h0M138 581h0M153 588h0M227 578h0M223 539h0M189 597h0M172 604h0M162 599h0M158 544h0M166 527h0M156 597h0M145 540h0M182 605h0M147 541h0M138 581h0M153 583h0M185 573h0M148 591h0M169 605h0M214 594h0M143 557h0M219 544h0M170 599h0M187 607h0M169 603h0M155 525h0M196 576h0M201 603h0M190 602h0M181 547h0M150 537h0M275 486h0M290 564h0M296 527h0M286 502h0M264 616h0M278 501h0M300 514h0M298 530h0M279 628h0M259 515h0M265 611h0M264 504h0M299 555h0M268 726h0M314 778h0M278 731h0M314 750h0M273 751h0M300 776h0M301 757h0M284 731h0M297 746h0M272 762h0M306 786h0M273 758h0M324 733h0M296 782h0M275 699h0M272 741h0M301 683h0M294 721h0M288 683h0M278 708h0M293 784h0M289 774h0M293 784h0M321 716h0M317 753h0M275 750h0M270 745h0M292 772h0M299 742h0M291 694h0M283 693h0M306 734h0M291 749h0M280 689h0M318 761h0M311 781h0M291 694h0M292 742h0M309 769h0M307 699h0M557 804h0M461 735h0M487 732h0M427 803h0M531 809h0M481 793h0M563 768h0M705 707h0M678 786h0M731 782h0M661 790h0M638 779h0M741 744h0M646 787h0M753 736h0M625 769h0M668 723h0M722 724h0M698 785h0M729 753h0M626 773h0M750 774h0M625 729h0M615 757h0M615 753h0M696 725h0M688 697h0M752 755h0M754 749h0M755 727h0M703 726h0M682 753h0M685 763h0M646 710h0M689 737h0M661 716h0M642 736h0M647 773h0M734 772h0M716 779h0M744 749h0M745 728h0M621 723h0M712 789h0M616 768h0M722 781h0M695 761h0M801 766h0M812 757h0M791 722h0M843 755h0M798 775h0M799 752h0M840 726h0M842 781h0M840 759h0M772 742h0M795 801h0M790 729h0M838 763h0M804 804h0M833 779h0M478 898h0M481 870h0M467 865h0M487 885h0M483 866h0M480 869h0M470 859h0M480 895h0M625 826h0M663 851h0M632 824h0M666 830h0M636 853h0M715 811h0M701 810h0M698 817h0M688 828h0M702 827h0M841 810h0M838 810h0M824 784h0M845 803h0M815 788h0M813 799h0M835 783h0M830 783h0M373 791h0M369 805h0M367 790h0M404 788h0M391 784h0M405 800h0M378 783h0M375 812h0M281 767h0M276 785h0M279 776h0M285 773h0M293 765h0M310 784h0M272 778h0M295 782h0M275 775h0M282 769h0M494 671h0M569 711h0M645 688h0M605 716h0M585 672h0M663 676h0M711 680h0M699 683h0M704 681h0M502 688h0M700 679h0M544 678h0M542 668h0M634 711h0M568 706h0M482 673h0M484 673h0M466 690h0M473 694h0M664 673h0M464 704h0M701 699h0M625 697h0M507 714h0M590 710h0M571 697h0M512 696h0M526 711h0M625 694h0M628 706h0M644 697h0M494 686h0M580 664h0M649 715h0M814 667h0M816 684h0M774 605h0M819 656h0M834 622h0M815 666h0M838 666h0M797 625h0M821 602h0M823 677h0M810 626h0M804 627h0M504 506h0M486 540h0M551 523h0M529 506h0M536 512h0M478 522h0M494 515h0M478 516h0M497 523h0M485 528h0M718 472h0M713 515h0M754 701h0M790 683h0M749 716h0M806 697h0M780 718h0M758 680h0M790 695h0" stroke="rgb(59,82,138)" stroke-width="5.4" stroke-linecap="round" fill="none"/><path transform="scale(.5)" d="M590 178h0M591 287h0M457 343h0M461 342h0M452 329h0M466 353h0M466 362h0M453 375h0M457 340h0M439 333h0M425 370h0M461 358h0M437 379h0M415 347h0M458 371h0M461 344h0M429 375h0M635 397h0M548 334h0M615 373h0M570 329h0M606 392h0M511 387h0M637 377h0M647 389h0M651 338h0M560 324h0M684 359h0M597 346h0M696 352h0M504 374h0M580 387h0M592 349h0M559 384h0M723 337h0M604 458h0M548 460h0M574 517h0M593 385h0M593 512h0M662 500h0M582 388h0M558 429h0M646 405h0M664 439h0M520 419h0M561 390h0M568 466h0M728 483h0M559 410h0M671 412h0M489 465h0M578 482h0M550 525h0M635 389h0M624 446h0M694 407h0M614 526h0M614 524h0M608 485h0M677 503h0M623 495h0M629 490h0M661 512h0M634 397h0M712 419h0M498 462h0M597 505h0M733 459h0M519 421h0M531 435h0M631 435h0M668 502h0M617 413h0M580 432h0M643 495h0M705 450h0M576 437h0M516 465h0M584 487h0M670 464h0M635 412h0M604 391h0M596 433h0M566 476h0M522 402h0M649 421h0M622 409h0M609 421h0M704 443h0M590 402h0M589 530h0M535 472h0M705 434h0M671 449h0M641 438h0M669 423h0M542 434h0M646 422h0M694 499h0M701 428h0M578 399h0M684 401h0M588 444h0M669 499h0M664 401h0M582 477h0M571 455h0M513 463h0M704 474h0M630 453h0M641 474h0M507 487h0M503 478h0M589 462h0M652 484h0M523 406h0M758 519h0M820 432h0M791 515h0M791 462h0M843 448h0M748 431h0M836 531h0M843 615h0M804 613h0M852 591h0M817 610h0M798 579h0M843 605h0M872 567h0M859 648h0M819 676h0M834 700h0M815 685h0M622 615h0M599 623h0M564 585h0M598 683h0M780 613h0M562 595h0M488 628h0M548 669h0M648 604h0M748 613h0M602 525h0M713 543h0M491 578h0M763 555h0M514 593h0M696 666h0M498 644h0M488 600h0M574 576h0M721 569h0M729 591h0M493 567h0M595 668h0M727 613h0M600 568h0M599 667h0M498 563h0M615 664h0M727 550h0M552 571h0M547 636h0M672 611h0M558 674h0M745 592h0M521 578h0M748 585h0M776 626h0M620 605h0M569 540h0M510 653h0M535 538h0M606 600h0M599 685h0M649 643h0M620 551h0M632 625h0M689 666h0M672 649h0M572 606h0M508 577h0M527 540h0M574 666h0M610 556h0M550 667h0M556 599h0M756 562h0M514 582h0M517 647h0M756 563h0M625 558h0M675 560h0M610 642h0M778 635h0M481 614h0M518 603h0M506 566h0M722 614h0M630 532h0M495 575h0M689 624h0M686 546h0M669 679h0M651 676h0M766 619h0M752 630h0M596 543h0M566 618h0M709 574h0M629 657h0M567 639h0M618 581h0M543 604h0M521 557h0M607 545h0M603 599h0M675 582h0M585 547h0M535 570h0M519 613h0M533 655h0M753 630h0M693 536h0M608 534h0M694 634h0M615 548h0M615 538h0M480 609h0M576 650h0M610 563h0M716 572h0M723 623h0M750 604h0M588 656h0M694 583h0M633 660h0M487 630h0M607 595h0M511 586h0M645 534h0M585 542h0M572 677h0M629 612h0M591 671h0M569 664h0M731 631h0M648 661h0M777 598h0M687 658h0M550 650h0M765 557h0M736 635h0M696 540h0M643 542h0M766 613h0M625 684h0M655 555h0M709 545h0M771 617h0M745 607h0M738 563h0M479 597h0M626 576h0M586 607h0M699 656h0M681 582h0M675 558h0M569 526h0M574 538h0M616 669h0M530 641h0M564 647h0M663 572h0M634 690h0M778 582h0M652 675h0M527 666h0M642 681h0M681 597h0M731 622h0M768 634h0M628 553h0M594 653h0M620 653h0M652 557h0M598 523h0M701 560h0M495 572h0M517 613h0M610 535h0M614 577h0M683 590h0M625 652h0M636 671h0M572 627h0M740 657h0M710 584h0M687 595h0M777 630h0M582 677h0M780 599h0M752 605h0M535 539h0M525 579h0M649 602h0M673 646h0M748 564h0M634 572h0M637 585h0M557 572h0M670 553h0M530 568h0M482 590h0M719 618h0M736 651h0M491 565h0M630 550h0M743 544h0M741 546h0M571 545h0M672 551h0M689 663h0M723 615h0M648 685h0M497 607h0M793 596h0M709 546h0M712 646h0M474 659h0M393 641h0M454 604h0M498 673h0M374 668h0M356 647h0M395 622h0M384 671h0M501 632h0M391 707h0M369 688h0M392 604h0M393 694h0M402 625h0M496 671h0M427 710h0M432 594h0M390 624h0M514 626h0M461 691h0M464 655h0M380 689h0M444 586h0M427 692h0M368 610h0M487 654h0M494 636h0M448 693h0M396 665h0M380 665h0M415 705h0M398 645h0M353 649h0M442 589h0M428 703h0M456 653h0M503 679h0M505 684h0M433 645h0M366 617h0M454 598h0M395 605h0M422 715h0M502 640h0M380 638h0M413 619h0M426 635h0M372 656h0M393 673h0M357 676h0M482 599h0M355 627h0M399 631h0M461 710h0M426 693h0M436 668h0M400 662h0M439 637h0M383 705h0M514 649h0M479 704h0M381 702h0M396 586h0M509 671h0M346 431h0M307 447h0M308 440h0M319 458h0M345 425h0M355 459h0M323 454h0M348 442h0M356 443h0M318 457h0M315 452h0M308 445h0M362 450h0M332 425h0M340 436h0M347 424h0M325 454h0M315 448h0M336 428h0M364 481h0M400 552h0M278 337h0M365 334h0M274 352h0M365 332h0M290 376h0M364 329h0M343 387h0M290 343h0M288 319h0M323 299h0M282 372h0M183 548h0M174 599h0M160 587h0M177 529h0M178 607h0M192 605h0M149 529h0M177 602h0M204 534h0M187 520h0M162 526h0M145 546h0M142 572h0M147 542h0M186 600h0M168 606h0M221 559h0M171 590h0M168 564h0M180 523h0M210 586h0M195 533h0M145 545h0M193 539h0M164 541h0M170 542h0M183 561h0M179 530h0M209 540h0M221 557h0M215 582h0M224 551h0M144 588h0M150 540h0M217 570h0M219 573h0M147 582h0M196 552h0M138 569h0M181 609h0M209 533h0M222 562h0M172 522h0M140 586h0M225 566h0M166 531h0M143 570h0M223 587h0M193 606h0M214 588h0M171 530h0M140 551h0M203 602h0M185 519h0M181 529h0M214 558h0M203 591h0M260 590h0M275 488h0M273 603h0M288 691h0M282 740h0M272 758h0M287 778h0M310 743h0M287 693h0M277 695h0M303 699h0M274 753h0M320 705h0M285 690h0M291 735h0M275 710h0M271 726h0M297 777h0M307 784h0M314 774h0M286 699h0M423 752h0M513 808h0M536 763h0M549 792h0M396 779h0M535 770h0M421 784h0M467 735h0M514 793h0M462 805h0M550 811h0M398 764h0M500 773h0M428 812h0M472 778h0M403 783h0M409 767h0M509 744h0M491 767h0M554 800h0M486 814h0M712 707h0M633 712h0M745 746h0M746 740h0M748 771h0M712 741h0M687 786h0M721 784h0M744 715h0M661 724h0M694 793h0M684 726h0M697 792h0M703 783h0M667 765h0M641 736h0M629 715h0M640 743h0M622 723h0M737 777h0M662 763h0M748 742h0M690 706h0M699 774h0M654 764h0M716 751h0M652 706h0M690 705h0M708 791h0M752 748h0M688 764h0M647 714h0M727 773h0M729 740h0M704 754h0M712 712h0M711 735h0M695 792h0M710 755h0M654 731h0M640 709h0M609 742h0M709 736h0M736 763h0M737 739h0M736 767h0M726 729h0M636 741h0M717 707h0M707 731h0M609 745h0M730 778h0M692 707h0M660 782h0M660 763h0M672 763h0M686 789h0M695 731h0M724 782h0M688 724h0M769 740h0M810 710h0M799 796h0M771 759h0M793 795h0M841 785h0M777 762h0M818 712h0M845 775h0M823 779h0M841 732h0M814 738h0M795 774h0M766 763h0M805 794h0M773 783h0M797 737h0M773 738h0M812 795h0M808 759h0M804 713h0M786 750h0M841 729h0M483 869h0M459 895h0M479 905h0M485 886h0M458 884h0M639 858h0M655 852h0M650 840h0M629 825h0M625 847h0M619 847h0M658 857h0M628 831h0M654 843h0M625 850h0M656 828h0M618 844h0M619 851h0M662 840h0M619 843h0M649 855h0M671 838h0M649 859h0M647 831h0M629 824h0M697 800h0M693 836h0M710 804h0M691 832h0M684 808h0M705 834h0M684 823h0M696 797h0M689 831h0M821 782h0M847 797h0M853 799h0M812 789h0M821 809h0M826 792h0M826 785h0M846 808h0M843 809h0M365 805h0M368 798h0M400 800h0M294 791h0M305 767h0M291 790h0M311 780h0M299 782h0M310 773h0M275 779h0M619 691h0M492 671h0M573 705h0M715 702h0M516 675h0M621 684h0M688 677h0M607 666h0M645 682h0M649 670h0M530 670h0M671 708h0M645 703h0M666 704h0M709 679h0M689 675h0M681 674h0M537 709h0M626 671h0M596 698h0M682 708h0M580 710h0M645 668h0M704 677h0M600 667h0M676 690h0M522 706h0M681 671h0M628 712h0M580 675h0M636 670h0M601 705h0M516 708h0M536 673h0M680 682h0M556 687h0M479 681h0M596 700h0M586 703h0M598 673h0M484 709h0M574 674h0M504 672h0M590 690h0M563 685h0M452 689h0M836 630h0M829 604h0M789 599h0M782 680h0M824 643h0M803 603h0M780 678h0M786 677h0M803 587h0M765 633h0M815 662h0M787 602h0M813 590h0M817 604h0M783 657h0M763 635h0M822 601h0M770 645h0M833 627h0M840 649h0M765 651h0M835 654h0M830 614h0M817 682h0M786 673h0M808 675h0M828 654h0M549 526h0M500 540h0M528 515h0M525 526h0M531 516h0M482 511h0M541 531h0M505 538h0M523 505h0M532 543h0M502 528h0M491 540h0M534 535h0M503 503h0M524 517h0M529 521h0M523 510h0M516 543h0M528 517h0M520 545h0M523 546h0M515 520h0M477 529h0M537 520h0M539 524h0M530 523h0M520 534h0M722 500h0M722 495h0M727 490h0M717 529h0M732 489h0M747 705h0M753 694h0M774 725h0M788 679h0M795 726h0M784 697h0M809 709h0M745 704h0M789 715h0M762 686h0M780 716h0" stroke="rgb(53,95,141)" stroke-width="5.4" stroke-linecap="round" fill="none"/><path transform="scale(.5)" d="M592 156h0M592 199h0M628 150h0M576 273h0M576 291h0M623 243h0M463 369h0M467 355h0M437 327h0M437 327h0M438 340h0M438 349h0M419 363h0M467 369h0M459 374h0M446 347h0M436 327h0M419 352h0M420 345h0M661 376h0M657 385h0M613 385h0M577 331h0M477 349h0M543 351h0M606 330h0M625 344h0M615 358h0M634 358h0M515 370h0M711 377h0M700 353h0M710 361h0M642 380h0M631 328h0M683 377h0M546 388h0M698 339h0M534 371h0M667 372h0M693 367h0M625 360h0M527 378h0M666 390h0M647 356h0M611 361h0M624 387h0M493 355h0M629 344h0M501 369h0M497 348h0M682 349h0M561 390h0M749 361h0M728 411h0M766 353h0M753 409h0M735 403h0M707 427h0M700 477h0M610 506h0M617 432h0M618 434h0M542 435h0M548 443h0M630 520h0M685 428h0M593 403h0M719 487h0M562 505h0M652 389h0M600 504h0M500 456h0M524 467h0M666 431h0M581 431h0M617 463h0M666 441h0M663 517h0M634 443h0M704 455h0M590 404h0M654 390h0M642 502h0M602 471h0M657 430h0M683 459h0M609 425h0M613 422h0M610 481h0M481 485h0M668 473h0M614 414h0M542 434h0M603 477h0M705 473h0M490 477h0M693 484h0M557 468h0M648 519h0M693 456h0M697 482h0M654 454h0M561 452h0M524 480h0M538 489h0M586 454h0M683 423h0M687 447h0M570 396h0M488 433h0M502 427h0M610 472h0M597 451h0M517 447h0M655 404h0M646 433h0M547 494h0M709 435h0M618 424h0M546 419h0M596 472h0M642 426h0M653 474h0M700 478h0M720 460h0M643 496h0M587 491h0M516 487h0M607 399h0M621 398h0M500 423h0M544 449h0M702 469h0M526 467h0M503 432h0M573 520h0M561 443h0M554 431h0M670 499h0M638 449h0M526 506h0M601 514h0M587 473h0M676 500h0M694 462h0M537 414h0M681 477h0M597 453h0M634 394h0M662 404h0M514 427h0M703 412h0M580 525h0M600 394h0M570 400h0M672 412h0M612 473h0M529 422h0M598 524h0M512 474h0M580 494h0M722 431h0M615 482h0M672 479h0M542 516h0M640 422h0M699 414h0M642 515h0M574 399h0M595 390h0M511 480h0M663 523h0M590 473h0M699 468h0M595 507h0M578 495h0M536 448h0M660 501h0M684 490h0M496 479h0M645 408h0M627 462h0M532 406h0M491 428h0M605 455h0M584 405h0M562 516h0M555 477h0M629 461h0M816 456h0M814 530h0M767 431h0M725 472h0M831 445h0M736 444h0M833 450h0M832 601h0M815 574h0M860 601h0M867 591h0M854 550h0M834 584h0M862 597h0M859 546h0M847 572h0M863 592h0M840 561h0M825 623h0M860 598h0M831 575h0M841 549h0M861 600h0M856 551h0M865 566h0M808 561h0M820 537h0M868 580h0M832 625h0M813 666h0M848 664h0M837 655h0M831 641h0M866 693h0M853 638h0M567 567h0M600 561h0M580 528h0M527 655h0M570 538h0M671 558h0M765 626h0M598 590h0M561 658h0M580 585h0M500 628h0M634 685h0M673 623h0M726 536h0M766 617h0M699 592h0M723 584h0M709 536h0M594 674h0M599 607h0M543 539h0M705 533h0M604 658h0M539 570h0M645 686h0M713 661h0M506 610h0M616 522h0M734 552h0M654 665h0M663 630h0M675 555h0M660 540h0M713 535h0M777 643h0M552 599h0M632 575h0M676 600h0M632 677h0M523 618h0M742 663h0M714 646h0M673 555h0M693 597h0M578 546h0M507 619h0M691 533h0M485 600h0M709 624h0M682 603h0M654 681h0M576 543h0M615 524h0M732 645h0M663 659h0M543 566h0M558 660h0M696 594h0M557 657h0M735 647h0M677 582h0M714 604h0M545 668h0M695 633h0M529 562h0M752 625h0M522 570h0M656 628h0M540 540h0M678 571h0M565 587h0M522 550h0M516 658h0M631 524h0M508 646h0M761 605h0M693 617h0M499 592h0M786 616h0M718 632h0M590 535h0M683 613h0M642 676h0M736 574h0M632 682h0M559 529h0M612 547h0M536 563h0M522 603h0M492 577h0M539 604h0M710 669h0M630 683h0M584 654h0M708 627h0M513 647h0M726 552h0M666 611h0M593 686h0M620 647h0M670 633h0M747 610h0M753 622h0M735 646h0M777 621h0M686 677h0M730 587h0M596 653h0M501 561h0M494 636h0M681 644h0M685 631h0M526 628h0M567 642h0M596 675h0M486 576h0M638 632h0M612 602h0M763 654h0M670 553h0M698 634h0M664 533h0M669 617h0M783 590h0M525 637h0M674 619h0M642 583h0M784 610h0M744 666h0M647 541h0M567 589h0M649 584h0M682 676h0M639 560h0M737 593h0M696 600h0M569 643h0M637 596h0M552 625h0M615 668h0M766 560h0M584 630h0M722 586h0M601 633h0M561 612h0M630 559h0M564 560h0M763 624h0M653 641h0M633 552h0M748 650h0M697 620h0M625 528h0M735 638h0M564 602h0M693 594h0M497 619h0M703 678h0M499 627h0M589 675h0M494 589h0M546 646h0M594 572h0M745 575h0M532 645h0M582 530h0M681 543h0M579 647h0M555 634h0M548 541h0M615 599h0M489 640h0M672 573h0M732 660h0M532 581h0M764 621h0M767 612h0M642 531h0M728 633h0M509 608h0M569 528h0M788 605h0M644 637h0M615 527h0M687 530h0M647 646h0M551 603h0M679 592h0M615 670h0M646 605h0M497 590h0M537 583h0M491 624h0M638 621h0M612 544h0M626 586h0M637 572h0M722 572h0M600 638h0M598 531h0M503 574h0M789 625h0M789 624h0M572 565h0M775 642h0M572 564h0M706 603h0M646 641h0M562 625h0M598 649h0M602 591h0M702 574h0M615 586h0M502 632h0M585 594h0M587 679h0M691 611h0M705 536h0M775 614h0M665 575h0M570 573h0M528 632h0M515 618h0M500 557h0M521 630h0M758 557h0M543 665h0M518 655h0M597 547h0M718 646h0M579 596h0M721 668h0M747 594h0M702 583h0M676 636h0M523 644h0M560 604h0M487 625h0M619 674h0M600 668h0M730 538h0M739 667h0M476 601h0M514 602h0M789 619h0M650 656h0M575 558h0M635 607h0M693 624h0M658 684h0M617 625h0M712 540h0M495 580h0M424 586h0M417 590h0M384 592h0M457 592h0M355 647h0M349 615h0M513 649h0M464 649h0M343 671h0M473 614h0M437 705h0M471 697h0M366 690h0M450 658h0M434 628h0M434 664h0M405 635h0M463 702h0M483 692h0M496 620h0M503 609h0M477 655h0M389 638h0M455 598h0M424 700h0M431 699h0M471 690h0M476 658h0M449 676h0M368 651h0M400 635h0M352 649h0M315 435h0M315 456h0M312 441h0M327 461h0M320 426h0M307 447h0M322 463h0M331 424h0M345 426h0M327 452h0M356 454h0M317 460h0M311 452h0M370 459h0M382 559h0M179 598h0M134 567h0M219 580h0M213 584h0M232 566h0M138 564h0M222 551h0M156 529h0M175 526h0M164 530h0M182 548h0M146 531h0M165 526h0M198 559h0M182 598h0M141 558h0M216 542h0M207 538h0M197 534h0M222 573h0M147 583h0M188 577h0M200 607h0M197 534h0M221 552h0M222 552h0M169 604h0M208 531h0M223 548h0M143 568h0M149 587h0M180 604h0M155 582h0M205 583h0M163 540h0M142 546h0M213 591h0M161 603h0M229 565h0M158 555h0M163 524h0M199 596h0M132 552h0M211 545h0M178 605h0M153 527h0M226 566h0M170 541h0M226 560h0M215 590h0M223 540h0M144 569h0M171 568h0M154 600h0M196 533h0M275 524h0M257 597h0M290 692h0M304 764h0M316 754h0M275 703h0M300 762h0M303 782h0M279 763h0M289 682h0M312 762h0M317 722h0M283 770h0M288 782h0M401 780h0M473 800h0M480 740h0M528 788h0M514 732h0M519 742h0M512 742h0M400 780h0M504 785h0M592 785h0M420 777h0M529 734h0M402 754h0M517 732h0M503 784h0M531 769h0M441 768h0M477 731h0M502 809h0M429 760h0M496 792h0M544 760h0M502 746h0M408 781h0M452 756h0M426 754h0M495 813h0M515 769h0M548 773h0M410 802h0M601 773h0M497 790h0M537 805h0M472 760h0M484 765h0M493 762h0M473 788h0M609 735h0M652 711h0M610 762h0M669 710h0M713 770h0M671 769h0M615 727h0M756 737h0M648 751h0M716 711h0M696 706h0M614 724h0M758 740h0M605 743h0M692 743h0M748 761h0M663 790h0M752 753h0M618 747h0M668 743h0M697 787h0M634 718h0M730 760h0M748 768h0M632 720h0M690 745h0M723 736h0M759 754h0M660 713h0M742 730h0M608 760h0M741 764h0M686 732h0M694 721h0M694 712h0M621 759h0M638 729h0M736 766h0M674 698h0M664 793h0M706 706h0M636 725h0M706 766h0M680 700h0M741 759h0M696 786h0M708 733h0M705 735h0M673 759h0M678 708h0M613 745h0M656 735h0M663 786h0M707 772h0M649 754h0M743 776h0M702 750h0M623 757h0M726 766h0M676 771h0M743 766h0M743 721h0M702 726h0M678 744h0M676 772h0M694 733h0M668 731h0M724 715h0M664 764h0M720 779h0M720 709h0M738 725h0M695 788h0M638 739h0M707 777h0M759 739h0M674 795h0M814 738h0M808 798h0M798 803h0M786 793h0M790 768h0M786 783h0M772 779h0M777 721h0M795 717h0M821 799h0M801 708h0M839 740h0M841 773h0M798 800h0M838 777h0M823 782h0M842 738h0M792 768h0M836 786h0M777 733h0M839 783h0M794 773h0M843 759h0M791 717h0M794 797h0M457 893h0M472 861h0M456 890h0M475 890h0M461 871h0M482 873h0M482 896h0M622 831h0M615 840h0M618 842h0M621 845h0M646 839h0M666 839h0M616 834h0M660 830h0M663 848h0M665 833h0M639 830h0M621 850h0M669 830h0M669 829h0M634 859h0M637 850h0M660 832h0M670 831h0M657 849h0M639 822h0M646 841h0M689 804h0M683 811h0M702 809h0M688 817h0M714 822h0M700 799h0M695 810h0M684 804h0M716 822h0M678 818h0M706 820h0M837 810h0M835 786h0M829 812h0M841 788h0M815 788h0M848 796h0M828 783h0M847 790h0M843 796h0M543 825h0M526 842h0M380 785h0M402 810h0M395 798h0M397 817h0M402 791h0M399 785h0M382 797h0M374 784h0M381 784h0M401 810h0M403 809h0M300 785h0M310 784h0M290 761h0M303 765h0M304 785h0M306 777h0M304 782h0M279 770h0M685 701h0M523 676h0M582 677h0M677 684h0M593 691h0M608 676h0M604 714h0M677 676h0M570 704h0M597 699h0M491 706h0M519 685h0M489 694h0M456 685h0M533 670h0M531 685h0M546 702h0M577 717h0M669 685h0M474 695h0M496 706h0M504 682h0M671 714h0M490 679h0M580 681h0M497 698h0M566 676h0M544 701h0M642 675h0M540 687h0M595 673h0M719 699h0M615 688h0M566 676h0M473 693h0M548 712h0M570 698h0M713 687h0M567 710h0M673 696h0M495 709h0M568 716h0M476 698h0M611 696h0M522 691h0M492 684h0M680 683h0M654 676h0M680 708h0M621 667h0M564 704h0M452 698h0M478 690h0M502 673h0M606 706h0M506 714h0M456 688h0M466 694h0M530 701h0M681 707h0M825 593h0M826 625h0M774 652h0M834 644h0M800 624h0M803 630h0M835 620h0M811 643h0M803 683h0M810 656h0M772 648h0M822 597h0M780 616h0M824 640h0M786 673h0M822 603h0M788 640h0M800 595h0M825 626h0M813 593h0M827 608h0M794 629h0M823 629h0M836 627h0M543 519h0M499 544h0M542 534h0M514 509h0M488 514h0M548 534h0M492 543h0M509 503h0M499 540h0M539 534h0M532 518h0M526 505h0M551 522h0M528 505h0M481 536h0M534 519h0M515 532h0M486 514h0M491 542h0M519 508h0M532 507h0M509 501h0M491 544h0M482 511h0M540 525h0M734 471h0M728 499h0M727 482h0M737 526h0M755 502h0M710 517h0M725 480h0M747 472h0M718 507h0M705 512h0M748 484h0M737 504h0M804 711h0M754 687h0M742 704h0M772 727h0M776 700h0M764 708h0M759 683h0M757 708h0M791 699h0M777 720h0M809 697h0M783 721h0M798 685h0M745 718h0M769 688h0M805 695h0M789 726h0" stroke="rgb(48,108,142)" stroke-width="5.4" stroke-linecap="round" fill="none"/><path transform="scale(.5)" d="M583 147h0M599 165h0M656 217h0M616 220h0M575 153h0M566 213h0M609 149h0M549 191h0M579 316h0M572 278h0M633 270h0M584 311h0M709 282h0M724 286h0M663 271h0M700 321h0M716 292h0M687 273h0M550 297h0M482 307h0M499 286h0M464 349h0M453 358h0M423 359h0M460 334h0M465 344h0M462 335h0M414 358h0M459 340h0M457 335h0M468 370h0M415 347h0M417 367h0M447 327h0M549 394h0M556 379h0M506 363h0M682 354h0M526 328h0M708 351h0M677 344h0M616 327h0M564 330h0M615 354h0M641 383h0M560 325h0M602 351h0M585 326h0M567 326h0M663 350h0M547 333h0M648 393h0M549 329h0M639 366h0M525 384h0M557 368h0M672 340h0M633 333h0M588 395h0M561 386h0M538 336h0M658 359h0M701 344h0M629 338h0M536 368h0M657 372h0M677 387h0M537 342h0M701 355h0M570 321h0M608 380h0M556 352h0M700 336h0M560 363h0M525 349h0M642 386h0M482 352h0M530 373h0M687 357h0M649 324h0M581 395h0M723 407h0M731 394h0M716 412h0M700 393h0M706 369h0M752 406h0M722 339h0M727 365h0M709 371h0M727 401h0M697 384h0M708 398h0M720 397h0M694 463h0M548 407h0M509 469h0M584 491h0M549 405h0M681 454h0M678 430h0M541 419h0M601 527h0M537 401h0M549 412h0M591 512h0M530 465h0M676 453h0M566 462h0M496 481h0M623 507h0M546 424h0M626 521h0M714 480h0M695 501h0M588 510h0M628 391h0M538 426h0M516 457h0M648 523h0M669 495h0M661 432h0M532 426h0M649 476h0M694 430h0M524 406h0M685 442h0M674 492h0M665 504h0M692 479h0M683 485h0M705 417h0M547 414h0M542 405h0M537 414h0M536 455h0M667 463h0M576 467h0M642 425h0M478 473h0M621 445h0M599 424h0M689 438h0M679 427h0M664 436h0M629 399h0M564 403h0M536 453h0M701 508h0M489 452h0M596 517h0M688 492h0M480 434h0M545 456h0M581 494h0M689 490h0M591 516h0M621 528h0M704 499h0M721 490h0M629 477h0M582 391h0M530 445h0M595 447h0M623 511h0M641 421h0M635 529h0M714 480h0M626 409h0M571 455h0M528 464h0M713 457h0M554 503h0M554 396h0M669 454h0M645 449h0M505 468h0M641 480h0M619 524h0M495 432h0M660 434h0M611 420h0M517 434h0M495 440h0M691 405h0M547 466h0M500 417h0M650 512h0M528 482h0M669 510h0M544 393h0M583 510h0M682 501h0M533 515h0M664 458h0M517 405h0M572 433h0M618 513h0M606 480h0M500 497h0M512 509h0M563 466h0M555 398h0M531 477h0M622 488h0M558 431h0M536 481h0M490 438h0M680 444h0M563 438h0M573 415h0M520 449h0M481 457h0M707 417h0M493 489h0M615 477h0M509 436h0M513 510h0M702 423h0M522 464h0M618 434h0M679 420h0M550 446h0M674 424h0M611 388h0M701 497h0M650 476h0M601 530h0M702 457h0M568 447h0M689 511h0M717 491h0M631 497h0M566 475h0M552 406h0M651 432h0M710 469h0M525 466h0M611 389h0M520 476h0M600 515h0M706 471h0M559 479h0M648 489h0M704 428h0M580 426h0M548 395h0M606 498h0M493 489h0M718 471h0M535 471h0M615 437h0M537 418h0M646 474h0M576 409h0M629 421h0M849 478h0M858 470h0M819 521h0M793 538h0M735 474h0M816 510h0M843 496h0M742 475h0M759 529h0M777 428h0M758 483h0M796 447h0M830 450h0M812 525h0M772 514h0M760 446h0M741 438h0M862 494h0M853 444h0M764 528h0M770 510h0M848 470h0M825 428h0M750 454h0M883 457h0M834 598h0M854 592h0M837 571h0M862 563h0M845 552h0M864 569h0M834 630h0M824 591h0M811 592h0M822 628h0M812 545h0M844 620h0M839 609h0M864 597h0M870 589h0M818 577h0M839 536h0M797 556h0M853 549h0M860 545h0M813 605h0M870 597h0M855 580h0M828 610h0M831 601h0M795 598h0M827 543h0M862 588h0M820 581h0M810 594h0M801 600h0M831 533h0M836 531h0M855 612h0M857 558h0M799 608h0M823 533h0M848 615h0M855 616h0M859 610h0M816 559h0M829 544h0M831 654h0M858 699h0M848 679h0M833 673h0M833 696h0M823 643h0M871 687h0M874 666h0M844 665h0M839 634h0M858 680h0M865 676h0M849 664h0M870 666h0M640 614h0M687 535h0M509 632h0M520 584h0M574 658h0M673 668h0M505 617h0M580 530h0M704 669h0M609 583h0M688 650h0M709 631h0M663 624h0M594 627h0M534 583h0M578 673h0M609 591h0M528 618h0M750 572h0M740 603h0M612 627h0M771 581h0M488 594h0M684 575h0M688 622h0M754 609h0M513 572h0M612 632h0M557 612h0M616 562h0M588 639h0M630 557h0M591 601h0M618 530h0M577 671h0M688 678h0M574 658h0M514 603h0M742 629h0M767 575h0M581 581h0M546 555h0M587 605h0M552 574h0M779 630h0M618 541h0M796 603h0M587 636h0M692 585h0M569 643h0M611 670h0M617 671h0M600 677h0M681 647h0M786 603h0M576 624h0M535 656h0M771 564h0M513 658h0M700 672h0M640 595h0M623 526h0M568 656h0M731 615h0M661 529h0M553 592h0M705 613h0M533 621h0M512 642h0M507 621h0M576 621h0M569 538h0M719 667h0M558 635h0M696 617h0M606 613h0M689 576h0M635 597h0M575 619h0M742 580h0M659 555h0M718 565h0M718 555h0M762 562h0M631 522h0M523 566h0M650 608h0M704 625h0M625 592h0M789 579h0M684 683h0M534 671h0M783 636h0M667 581h0M558 629h0M663 549h0M657 678h0M578 536h0M583 656h0M742 630h0M704 664h0M563 528h0M608 589h0M527 663h0M667 645h0M541 578h0M522 665h0M722 625h0M571 671h0M561 533h0M668 603h0M745 576h0M566 632h0M512 636h0M723 547h0M589 666h0M751 574h0M775 577h0M514 614h0M567 662h0M559 545h0M577 658h0M659 560h0M687 674h0M635 654h0M766 557h0M668 521h0M624 535h0M480 578h0M707 534h0M748 611h0M538 634h0M620 524h0M750 633h0M712 673h0M784 595h0M756 647h0M747 651h0M658 594h0M610 522h0M754 661h0M707 537h0M759 564h0M626 571h0M778 635h0M510 560h0M536 628h0M585 525h0M624 534h0M761 622h0M489 570h0M795 596h0M489 633h0M550 560h0M585 660h0M662 648h0M736 555h0M542 626h0M704 589h0M577 677h0M531 542h0M517 600h0M532 638h0M622 519h0M720 582h0M710 671h0M555 599h0M682 630h0M673 561h0M751 644h0M670 576h0M506 582h0M670 589h0M604 596h0M684 595h0M724 546h0M678 661h0M637 572h0M617 603h0M580 570h0M759 652h0M616 619h0M650 646h0M494 594h0M534 655h0M721 562h0M650 645h0M569 564h0M521 604h0M765 603h0M666 572h0M687 589h0M618 682h0M600 604h0M532 645h0M566 577h0M499 612h0M566 633h0M625 543h0M525 567h0M680 546h0M525 555h0M591 557h0M634 540h0M532 604h0M738 669h0M739 611h0M739 544h0M634 604h0M549 608h0M502 556h0M693 588h0M757 656h0M735 645h0M710 587h0M694 541h0M769 646h0M654 539h0M584 584h0M722 653h0M595 530h0M707 566h0M576 637h0M681 525h0M691 526h0M681 556h0M619 528h0M784 586h0M749 638h0M691 536h0M488 623h0M482 600h0M762 585h0M580 683h0M527 608h0M725 548h0M758 642h0M671 632h0M572 544h0M627 531h0M619 593h0M698 680h0M564 653h0M498 638h0M750 599h0M635 624h0M635 662h0M531 651h0M478 603h0M777 588h0M572 535h0M569 608h0M724 591h0M764 554h0M625 615h0M608 545h0M793 608h0M629 654h0M657 672h0M648 672h0M655 684h0M633 524h0M648 575h0M605 547h0M519 550h0M734 540h0M663 554h0M595 633h0M752 636h0M503 654h0M503 578h0M599 612h0M574 550h0M692 542h0M709 660h0M795 598h0M673 612h0M670 657h0M751 615h0M628 624h0M690 549h0M624 533h0M684 526h0M492 612h0M697 550h0M673 584h0M343 642h0M449 662h0M393 689h0M398 683h0M464 605h0M450 596h0M510 666h0M472 683h0M347 636h0M399 595h0M347 627h0M359 637h0M385 645h0M322 443h0M331 428h0M344 432h0M358 450h0M328 423h0M316 457h0M313 445h0M325 433h0M346 442h0M365 449h0M352 431h0M204 526h0M214 588h0M146 543h0M173 531h0M145 585h0M150 552h0M221 564h0M145 595h0M198 553h0M194 561h0M192 598h0M174 597h0M133 552h0M144 571h0M161 548h0M225 547h0M138 564h0M214 548h0M148 591h0M191 605h0M202 532h0M137 568h0M216 533h0M183 522h0M194 526h0M184 535h0M165 601h0M160 528h0M219 577h0M183 531h0M152 539h0M221 572h0M226 543h0M177 558h0M154 602h0M226 556h0M133 579h0M195 606h0M165 578h0M229 553h0M159 527h0M317 707h0M316 717h0M304 712h0M306 693h0M296 787h0M300 734h0M302 703h0M317 764h0M397 802h0M444 808h0M509 812h0M495 753h0M529 817h0M560 804h0M543 815h0M462 818h0M499 740h0M452 739h0M427 757h0M440 789h0M511 786h0M387 789h0M418 772h0M453 796h0M430 791h0M503 820h0M412 761h0M543 789h0M432 757h0M416 805h0M568 799h0M468 783h0M413 752h0M537 759h0M415 780h0M566 796h0M477 737h0M462 737h0M506 757h0M463 800h0M390 757h0M553 755h0M557 808h0M407 768h0M506 748h0M430 773h0M478 754h0M435 760h0M589 767h0M386 778h0M446 809h0M562 742h0M568 749h0M503 765h0M418 762h0M562 811h0M533 816h0M564 798h0M567 804h0M571 760h0M460 758h0M483 817h0M585 758h0M550 772h0M655 710h0M736 783h0M685 708h0M684 723h0M661 760h0M700 796h0M668 708h0M665 707h0M658 744h0M692 767h0M691 706h0M732 786h0M698 778h0M657 726h0M616 732h0M737 767h0M615 747h0M724 713h0M669 706h0M662 794h0M723 723h0M642 719h0M714 734h0M687 701h0M628 763h0M627 768h0M742 778h0M618 750h0M625 777h0M757 740h0M614 768h0M682 783h0M670 785h0M633 729h0M622 749h0M691 720h0M688 787h0M709 736h0M693 704h0M708 720h0M693 707h0M660 759h0M736 734h0M673 709h0M749 722h0M686 795h0M687 753h0M676 768h0M627 754h0M623 733h0M758 734h0M681 710h0M683 714h0M750 762h0M707 748h0M701 702h0M711 737h0M740 761h0M670 747h0M635 734h0M719 746h0M699 766h0M746 760h0M720 786h0M688 796h0M678 796h0M711 761h0M685 707h0M749 721h0M687 735h0M686 794h0M760 750h0M615 733h0M693 772h0M743 779h0M641 781h0M678 792h0M672 708h0M661 710h0M685 711h0M731 735h0M718 787h0M614 748h0M716 751h0M637 722h0M727 786h0M677 706h0M686 721h0M724 764h0M661 787h0M821 805h0M827 739h0M819 803h0M815 782h0M831 733h0M805 792h0M774 774h0M837 785h0M790 714h0M781 747h0M787 719h0M821 806h0M806 731h0M791 802h0M815 710h0M819 715h0M786 722h0M803 769h0M801 739h0M799 727h0M816 794h0M791 794h0M808 805h0M801 794h0M806 790h0M816 706h0M818 792h0M826 712h0M776 736h0M800 718h0M839 724h0M823 729h0M816 755h0M772 752h0M464 869h0M480 866h0M485 878h0M471 909h0M480 903h0M485 892h0M466 878h0M484 881h0M470 879h0M467 899h0M463 903h0M471 870h0M625 848h0M668 837h0M620 840h0M629 852h0M660 838h0M665 834h0M621 840h0M654 835h0M640 826h0M623 850h0M633 846h0M624 855h0M641 831h0M714 816h0M698 800h0M711 810h0M711 826h0M683 805h0M695 801h0M816 808h0M836 791h0M849 800h0M850 791h0M826 804h0M807 792h0M550 827h0M497 831h0M500 832h0M504 825h0M539 814h0M554 820h0M497 833h0M496 823h0M367 800h0M378 799h0M369 806h0M392 781h0M404 798h0M377 804h0M385 814h0M372 791h0M406 795h0M397 784h0M373 815h0M509 707h0M526 709h0M538 670h0M472 693h0M612 692h0M632 684h0M661 705h0M456 696h0M499 670h0M538 716h0M584 706h0M650 714h0M478 701h0M574 675h0M624 700h0M578 673h0M592 685h0M560 676h0M572 696h0M527 706h0M540 683h0M630 675h0M450 702h0M500 676h0M583 696h0M692 687h0M721 693h0M654 670h0M668 678h0M692 705h0M520 709h0M602 717h0M660 669h0M588 668h0M493 681h0M488 680h0M573 667h0M523 713h0M503 681h0M457 690h0M706 691h0M664 710h0M631 711h0M511 686h0M669 696h0M585 674h0M471 699h0M647 686h0M521 701h0M617 716h0M633 690h0M545 711h0M467 686h0M693 681h0M631 675h0M661 697h0M464 677h0M501 686h0M619 695h0M480 676h0M603 717h0M522 675h0M646 691h0M592 672h0M542 713h0M528 718h0M611 671h0M466 682h0M491 712h0M530 671h0M440 692h0M554 700h0M691 691h0M813 661h0M807 635h0M770 637h0M838 631h0M816 678h0M793 619h0M821 598h0M832 620h0M801 584h0M771 616h0M785 638h0M803 639h0M808 588h0M834 608h0M790 650h0M829 679h0M832 612h0M766 635h0M831 654h0M775 649h0M798 621h0M783 613h0M761 640h0M766 629h0M796 682h0M779 667h0M798 654h0M772 608h0M843 646h0M814 597h0M843 658h0M804 669h0M844 654h0M770 616h0M832 637h0M765 652h0M785 592h0M831 620h0M835 640h0M828 604h0M816 671h0M803 659h0M775 669h0M798 592h0M832 640h0M844 614h0M476 519h0M539 526h0M487 527h0M540 512h0M495 533h0M481 525h0M532 534h0M542 516h0M493 525h0M499 536h0M493 511h0M535 511h0M532 532h0M510 535h0M485 538h0M539 508h0M509 531h0M483 522h0M520 516h0M536 514h0M544 524h0M527 542h0M729 531h0M734 531h0M744 468h0M754 482h0M730 499h0M733 526h0M711 484h0M720 475h0M740 538h0M747 486h0M724 516h0M719 511h0M714 481h0M711 520h0M800 694h0M806 690h0M810 705h0M803 713h0M742 697h0M755 693h0M743 698h0M764 705h0M772 721h0M766 709h0M768 725h0M751 692h0M811 708h0M762 681h0M784 712h0M798 682h0M751 700h0" stroke="rgb(42,120,142)" stroke-width="5.4" stroke-linecap="round" fill="none"/><path transform="scale(.5)" d="M558 162h0M584 193h0M610 145h0M621 152h0M534 180h0M645 212h0M594 158h0M600 149h0M593 244h0M653 216h0M620 238h0M631 207h0M633 153h0M594 169h0M585 170h0M546 163h0M572 194h0M623 207h0M631 179h0M642 230h0M644 243h0M595 278h0M708 269h0M578 300h0M608 276h0M654 285h0M676 332h0M699 303h0M644 305h0M594 301h0M643 317h0M663 289h0M598 244h0M679 240h0M682 332h0M692 287h0M633 305h0M708 268h0M630 289h0M648 278h0M669 262h0M618 248h0M691 262h0M560 286h0M690 243h0M666 275h0M658 327h0M496 304h0M537 293h0M510 282h0M555 298h0M502 338h0M534 337h0M528 311h0M429 373h0M439 384h0M442 328h0M442 378h0M442 327h0M464 365h0M425 336h0M419 357h0M422 336h0M455 379h0M463 362h0M426 376h0M419 366h0M467 353h0M437 332h0M468 355h0M434 329h0M418 344h0M434 384h0M420 366h0M419 373h0M424 343h0M419 347h0M428 375h0M424 366h0M448 327h0M605 361h0M536 372h0M699 354h0M536 353h0M540 366h0M625 371h0M530 368h0M496 377h0M520 339h0M507 352h0M654 326h0M643 396h0M563 353h0M714 366h0M690 345h0M565 334h0M536 337h0M493 372h0M702 368h0M508 373h0M579 328h0M695 344h0M722 366h0M620 374h0M570 332h0M543 360h0M652 340h0M508 355h0M525 353h0M593 322h0M503 374h0M542 389h0M666 391h0M496 351h0M577 363h0M626 366h0M597 376h0M552 361h0M629 376h0M510 340h0M722 359h0M719 360h0M583 370h0M629 398h0M631 386h0M587 329h0M504 372h0M697 380h0M705 367h0M514 342h0M637 396h0M513 373h0M520 341h0M550 350h0M554 327h0M678 389h0M553 375h0M707 367h0M589 380h0M516 338h0M493 349h0M621 372h0M568 341h0M549 329h0M496 380h0M702 383h0M743 361h0M745 414h0M701 374h0M753 348h0M759 383h0M739 411h0M737 337h0M773 381h0M764 391h0M745 409h0M737 344h0M710 396h0M732 364h0M749 336h0M769 380h0M720 342h0M755 354h0M707 356h0M705 388h0M706 389h0M662 471h0M706 478h0M643 424h0M557 439h0M709 465h0M681 410h0M506 492h0M584 512h0M536 457h0M489 423h0M498 451h0M613 516h0M626 477h0M719 455h0M508 447h0M502 491h0M558 516h0M526 429h0M687 428h0M563 521h0M677 438h0M686 428h0M614 443h0M616 527h0M541 488h0M496 439h0M648 403h0M693 416h0M529 503h0M565 513h0M675 500h0M628 493h0M633 438h0M503 490h0M628 480h0M542 500h0M664 402h0M702 478h0M610 477h0M680 493h0M633 456h0M681 479h0M653 479h0M724 449h0M598 455h0M646 390h0M529 501h0M526 430h0M654 515h0M652 400h0M556 500h0M682 438h0M585 414h0M724 481h0M683 423h0M553 455h0M710 432h0M606 520h0M618 432h0M694 497h0M685 436h0M619 508h0M716 436h0M615 421h0M559 489h0M717 486h0M706 484h0M664 488h0M592 452h0M672 399h0M509 464h0M661 515h0M481 431h0M643 459h0M717 483h0M694 419h0M557 429h0M732 453h0M692 417h0M517 459h0M591 501h0M669 448h0M598 427h0M683 514h0M489 463h0M645 429h0M604 398h0M568 516h0M480 474h0M490 442h0M576 478h0M691 416h0M553 521h0M515 479h0M642 395h0M498 465h0M615 491h0M569 435h0M651 510h0M720 443h0M729 441h0M643 513h0M645 403h0M677 401h0M520 455h0M526 475h0M687 481h0M667 497h0M487 454h0M477 463h0M577 465h0M515 453h0M507 494h0M492 497h0M474 466h0M597 522h0M637 526h0M518 498h0M664 501h0M654 394h0M572 428h0M710 470h0M489 486h0M526 404h0M644 391h0M567 447h0M668 432h0M548 392h0M659 505h0M641 424h0M564 496h0M636 450h0M627 453h0M487 483h0M568 478h0M606 438h0M599 406h0M599 502h0M620 401h0M587 513h0M616 460h0M529 501h0M601 511h0M507 426h0M565 434h0M661 471h0M543 400h0M625 425h0M592 498h0M699 477h0M600 521h0M700 481h0M540 485h0M658 451h0M595 413h0M616 492h0M594 425h0M495 471h0M584 518h0M631 521h0M661 518h0M707 429h0M559 454h0M685 408h0M532 416h0M551 446h0M589 526h0M555 417h0M545 466h0M727 440h0M600 515h0M517 446h0M565 498h0M651 514h0M706 486h0M607 441h0M722 442h0M563 421h0M709 437h0M640 508h0M693 426h0M618 477h0M698 443h0M610 418h0M599 522h0M562 394h0M727 438h0M499 481h0M639 432h0M590 476h0M627 497h0M577 442h0M677 515h0M623 514h0M631 527h0M644 403h0M630 513h0M569 417h0M665 475h0M685 492h0M721 464h0M720 465h0M772 487h0M832 424h0M857 497h0M766 473h0M795 518h0M822 427h0M771 478h0M808 445h0M765 511h0M776 414h0M788 510h0M766 517h0M790 515h0M790 485h0M785 417h0M842 526h0M826 482h0M801 492h0M798 426h0M810 492h0M857 467h0M792 510h0M783 431h0M780 528h0M762 524h0M841 431h0M834 478h0M824 451h0M820 515h0M783 466h0M769 434h0M733 470h0M738 448h0M756 452h0M797 438h0M747 446h0M775 437h0M754 445h0M844 491h0M807 434h0M781 417h0M798 416h0M820 489h0M859 478h0M786 532h0M820 478h0M761 533h0M809 466h0M736 485h0M746 498h0M809 499h0M838 438h0M784 445h0M725 484h0M801 436h0M833 513h0M753 436h0M853 499h0M744 511h0M879 493h0M852 604h0M818 614h0M864 598h0M794 556h0M859 602h0M803 611h0M814 587h0M837 604h0M843 532h0M817 602h0M809 607h0M811 540h0M832 613h0M842 607h0M867 586h0M857 608h0M793 599h0M807 553h0M863 597h0M860 546h0M841 595h0M876 581h0M851 610h0M823 623h0M849 545h0M852 555h0M865 555h0M861 607h0M865 581h0M831 609h0M850 584h0M805 574h0M821 560h0M866 578h0M831 626h0M839 619h0M814 537h0M866 550h0M797 609h0M828 609h0M835 578h0M843 532h0M874 593h0M799 603h0M818 624h0M865 574h0M857 557h0M821 539h0M837 589h0M853 607h0M853 687h0M864 667h0M858 663h0M856 696h0M828 662h0M866 684h0M872 675h0M834 696h0M829 652h0M853 669h0M823 645h0M826 642h0M873 669h0M845 697h0M837 653h0M844 681h0M851 635h0M865 697h0M812 676h0M737 641h0M659 537h0M671 584h0M662 644h0M696 651h0M576 657h0M549 639h0M636 553h0M721 618h0M581 549h0M583 539h0M668 616h0M514 606h0M604 670h0M705 664h0M681 536h0M729 667h0M525 635h0M615 627h0M681 667h0M600 664h0M611 555h0M637 569h0M545 562h0M489 620h0M565 546h0M650 656h0M725 599h0M634 638h0M715 555h0M757 623h0M519 562h0M509 656h0M505 640h0M765 616h0M595 684h0M645 575h0M648 535h0M575 661h0M593 638h0M679 527h0M760 572h0M654 582h0M591 574h0M483 614h0M573 560h0M495 578h0M653 558h0M699 638h0M584 650h0M613 624h0M751 615h0M751 575h0M691 553h0M554 670h0M629 552h0M773 564h0M541 534h0M636 587h0M706 594h0M772 623h0M652 649h0M742 606h0M491 633h0M549 634h0M590 592h0M506 589h0M599 524h0M610 659h0M579 630h0M550 586h0M602 612h0M743 636h0M704 676h0M625 671h0M500 652h0M652 563h0M739 611h0M743 653h0M644 672h0M550 539h0M649 610h0M591 648h0M723 603h0M698 668h0M492 609h0M522 626h0M613 610h0M758 644h0M562 663h0M681 554h0M629 591h0M529 608h0M531 662h0M562 658h0M690 541h0M762 566h0M576 532h0M586 669h0M702 621h0M678 645h0M704 661h0M638 525h0M620 548h0M687 603h0M725 576h0M735 546h0M690 579h0M731 567h0M579 637h0M618 524h0M541 555h0M694 595h0M620 679h0M716 648h0M559 551h0M647 542h0M694 663h0M499 576h0M605 662h0M726 562h0M777 612h0M697 675h0M487 603h0M652 572h0M636 679h0M712 590h0M789 605h0M689 622h0M702 624h0M614 625h0M660 684h0M530 659h0M544 537h0M587 658h0M685 665h0M631 673h0M701 617h0M532 592h0M621 614h0M733 539h0M730 555h0M514 603h0M631 642h0M772 636h0M721 602h0M639 665h0M505 623h0M525 660h0M762 636h0M534 662h0M634 683h0M487 608h0M615 649h0M627 583h0M599 598h0M527 643h0M609 685h0M696 549h0M499 607h0M672 539h0M703 535h0M662 669h0M557 645h0M678 678h0M673 666h0M606 593h0M723 609h0M722 630h0M585 632h0M549 630h0M625 661h0M738 638h0M741 653h0M744 546h0M692 648h0M491 576h0M491 577h0M732 639h0M560 548h0M633 529h0M613 663h0M704 584h0M613 596h0M509 627h0M685 571h0M573 590h0M703 649h0M683 585h0M783 637h0M567 606h0M615 575h0M690 578h0M689 588h0M507 636h0M666 538h0M637 579h0M752 617h0M481 603h0M564 527h0M717 642h0M545 654h0M750 578h0M521 616h0M764 631h0M662 618h0M746 553h0M569 564h0M547 658h0M710 656h0M601 669h0M565 550h0M587 543h0M748 647h0M621 592h0M767 592h0M547 639h0M573 683h0M734 629h0M698 659h0M655 678h0M733 610h0M795 596h0M756 630h0M544 597h0M682 552h0M728 648h0M700 544h0M503 616h0M771 577h0M558 534h0M558 643h0M635 600h0M732 569h0M747 549h0M515 561h0M685 531h0M669 531h0M536 561h0M555 677h0M743 600h0M699 567h0M545 617h0M596 579h0M739 669h0M721 636h0M637 680h0M555 552h0M630 561h0M695 582h0M753 649h0M724 532h0M756 627h0M777 633h0M701 612h0M638 594h0M560 634h0M597 571h0M538 645h0M763 632h0M661 613h0M501 631h0M719 665h0M594 665h0M526 643h0M580 633h0M652 613h0M686 632h0M600 634h0M488 593h0M543 615h0M707 673h0M783 634h0M503 643h0M689 620h0M703 532h0M564 646h0M611 626h0M539 667h0M758 611h0M684 683h0M648 625h0M511 580h0M554 557h0M634 577h0M789 580h0M501 585h0M533 669h0M545 672h0M490 632h0M697 677h0M736 638h0M675 537h0M754 558h0M679 555h0M749 556h0M668 647h0M517 624h0M581 621h0M685 544h0M517 614h0M624 539h0M612 540h0M556 605h0M482 608h0M721 592h0M668 686h0M507 637h0M714 604h0M561 665h0M640 635h0M703 587h0M598 624h0M655 594h0M774 637h0M610 686h0M668 541h0M511 645h0M568 669h0M643 534h0M730 585h0M559 669h0M515 587h0M576 598h0M470 656h0M513 649h0M433 590h0M352 436h0M324 458h0M318 458h0M329 463h0M365 435h0M232 563h0M215 547h0M168 597h0M211 540h0M130 564h0M199 593h0M150 553h0M189 598h0M166 606h0M203 523h0M214 535h0M228 576h0M142 559h0M179 602h0M157 597h0M198 595h0M224 558h0M223 556h0M180 575h0M137 583h0M174 526h0M160 549h0M202 523h0M137 586h0M147 596h0M145 552h0M194 541h0M151 591h0M145 556h0M223 589h0M206 534h0M152 585h0M209 537h0M171 604h0M201 550h0M183 539h0M203 592h0M163 606h0M202 532h0M161 532h0M171 568h0M451 814h0M441 739h0M557 783h0M592 764h0M532 782h0M477 767h0M551 738h0M433 753h0M421 766h0M475 761h0M472 812h0M418 753h0M585 797h0M425 800h0M473 738h0M399 749h0M480 792h0M534 748h0M447 804h0M450 816h0M394 792h0M440 810h0M388 755h0M484 796h0M567 747h0M431 778h0M572 770h0M456 748h0M380 787h0M582 798h0M463 816h0M451 758h0M384 764h0M403 754h0M553 749h0M479 740h0M408 797h0M469 814h0M491 815h0M563 752h0M450 772h0M488 778h0M475 815h0M410 746h0M592 770h0M411 748h0M403 760h0M509 799h0M425 746h0M498 750h0M474 772h0M513 811h0M528 740h0M427 811h0M564 772h0M513 745h0M428 810h0M442 735h0M475 784h0M395 759h0M488 787h0M413 759h0M402 800h0M557 810h0M571 752h0M451 747h0M567 801h0M548 741h0M385 767h0M418 801h0M475 763h0M510 800h0M444 773h0M521 769h0M475 810h0M407 807h0M430 809h0M524 733h0M705 765h0M666 705h0M671 796h0M681 707h0M665 708h0M682 728h0M714 723h0M714 762h0M616 746h0M622 751h0M706 789h0M676 714h0M642 708h0M681 750h0M679 715h0M754 756h0M684 700h0M732 779h0M628 769h0M757 767h0M741 715h0M702 758h0M695 707h0M674 744h0M734 769h0M716 721h0M651 791h0M646 781h0M692 797h0M750 752h0M646 769h0M701 731h0M746 726h0M682 699h0M705 702h0M733 726h0M680 789h0M643 728h0M610 757h0M616 773h0M649 791h0M724 708h0M752 731h0M628 778h0M701 793h0M654 767h0M727 779h0M714 781h0M634 748h0M733 781h0M713 704h0M729 714h0M756 751h0M697 751h0M644 712h0M709 781h0M710 764h0M724 778h0M632 766h0M637 735h0M744 755h0M665 781h0M684 790h0M695 793h0M622 763h0M616 754h0M620 724h0M729 711h0M709 791h0M757 730h0M761 748h0M641 776h0M803 784h0M823 750h0M774 742h0M800 709h0M815 803h0M796 793h0M771 742h0M816 761h0M773 781h0M789 771h0M847 771h0M829 726h0M839 783h0M792 711h0M776 767h0M808 781h0M779 734h0M798 793h0M824 726h0M786 729h0M809 712h0M799 805h0M812 719h0M811 711h0M814 732h0M809 715h0M477 869h0M471 893h0M468 860h0M472 904h0M483 878h0M480 862h0M477 904h0M471 863h0M631 854h0M646 848h0M626 851h0M664 841h0M653 848h0M847 801h0M838 782h0M840 797h0M847 795h0M555 828h0M522 814h0M535 808h0M520 841h0M532 839h0M501 831h0M501 829h0M523 817h0M556 826h0M521 818h0M504 814h0M523 845h0M519 810h0M373 810h0M385 792h0M385 790h0M387 804h0M370 803h0M377 818h0M400 798h0M385 816h0M309 774h0M286 783h0M284 766h0M300 764h0M569 666h0M522 713h0M482 686h0M467 708h0M496 701h0M475 683h0M517 676h0M461 702h0M505 690h0M665 678h0M602 709h0M681 697h0M560 690h0M679 681h0M593 712h0M613 693h0M645 704h0M450 685h0M708 703h0M447 700h0M599 685h0M677 700h0M465 702h0M630 693h0M548 708h0M627 672h0M611 703h0M514 673h0M524 707h0M549 679h0M467 699h0M655 696h0M488 697h0M591 681h0M480 706h0M521 712h0M681 682h0M661 670h0M653 688h0M538 669h0M645 711h0M484 703h0M463 680h0M488 709h0M515 672h0M635 691h0M694 704h0M443 696h0M523 692h0M628 702h0M565 715h0M530 687h0M503 704h0M469 688h0M548 704h0M486 692h0M547 687h0M486 703h0M603 691h0M655 694h0M504 707h0M529 668h0M587 667h0M591 696h0M536 699h0M596 711h0M596 677h0M718 700h0M689 699h0M530 690h0M608 673h0M674 672h0M604 674h0M612 669h0M582 678h0M654 686h0M579 713h0M611 693h0M699 678h0M777 612h0M784 608h0M819 674h0M774 660h0M777 622h0M806 681h0M823 599h0M768 665h0M813 654h0M791 602h0M837 669h0M785 661h0M845 623h0M809 610h0M840 661h0M773 628h0M840 646h0M790 650h0M767 654h0M820 590h0M760 637h0M776 632h0M806 587h0M823 650h0M837 636h0M783 674h0M798 662h0M809 685h0M813 673h0M805 676h0M783 592h0M771 611h0M773 604h0M773 625h0M798 676h0M764 649h0M837 653h0M526 533h0M487 515h0M534 538h0M532 510h0M516 542h0M547 523h0M529 543h0M491 537h0M519 505h0M541 515h0M504 508h0M476 522h0M512 510h0M529 529h0M501 529h0M533 508h0M749 526h0M727 484h0M708 518h0M707 506h0M715 483h0M742 533h0M707 509h0M724 503h0M738 488h0M721 479h0M749 526h0M710 490h0M723 534h0M741 513h0M754 487h0M713 477h0M759 512h0M718 529h0M717 518h0M722 524h0M753 508h0M754 494h0M732 543h0M721 515h0M740 476h0M750 527h0M721 530h0M765 708h0M757 696h0M773 689h0M805 716h0M794 709h0M809 699h0M805 695h0M770 689h0M767 681h0M745 700h0M780 711h0M759 722h0M763 710h0M794 715h0M803 700h0M774 693h0M773 698h0M750 687h0M748 709h0M763 687h0" stroke="rgb(38,132,141)" stroke-width="5.4" stroke-linecap="round" fill="none"/><path transform="scale(.5)" d="M544 220h0M652 212h0M597 222h0M593 230h0M535 183h0M612 234h0M626 225h0M649 155h0M545 183h0M559 197h0M597 141h0M652 158h0M657 170h0M604 143h0M594 234h0M585 243h0M566 196h0M642 150h0M580 194h0M570 223h0M558 167h0M575 200h0M635 162h0M611 240h0M569 195h0M582 242h0M535 202h0M633 171h0M656 165h0M583 154h0M615 171h0M541 208h0M567 185h0M560 202h0M578 155h0M596 137h0M562 221h0M556 168h0M661 187h0M545 210h0M555 228h0M578 238h0M560 164h0M586 228h0M607 144h0M604 152h0M576 143h0M715 306h0M622 281h0M681 300h0M657 337h0M642 319h0M632 329h0M699 248h0M631 310h0M651 241h0M570 295h0M639 255h0M631 238h0M579 273h0M689 295h0M638 246h0M681 243h0M643 335h0M571 261h0M704 290h0M709 258h0M670 250h0M602 320h0M677 242h0M685 254h0M598 292h0M698 261h0M634 273h0M683 328h0M568 285h0M710 265h0M580 293h0M669 274h0M624 301h0M601 313h0M632 242h0M578 314h0M703 272h0M630 234h0M590 321h0M662 335h0M623 325h0M690 323h0M637 303h0M667 316h0M555 296h0M510 318h0M510 320h0M526 305h0M534 295h0M505 287h0M479 302h0M500 323h0M542 312h0M491 307h0M553 334h0M416 341h0M435 362h0M432 377h0M469 359h0M459 359h0M412 358h0M466 351h0M417 345h0M453 360h0M427 333h0M469 355h0M472 358h0M459 370h0M465 354h0M432 376h0M413 349h0M458 366h0M423 342h0M461 375h0M447 384h0M505 347h0M558 391h0M679 352h0M547 348h0M722 346h0M559 344h0M550 356h0M691 352h0M724 363h0M632 330h0M610 396h0M615 326h0M555 350h0M650 328h0M532 385h0M597 395h0M593 399h0M705 358h0M494 377h0M667 355h0M626 366h0M644 376h0M503 367h0M667 388h0M554 334h0M569 341h0M682 337h0M498 358h0M686 347h0M574 391h0M550 395h0M680 374h0M674 352h0M690 373h0M506 360h0M511 355h0M540 332h0M576 343h0M627 350h0M724 366h0M500 366h0M582 326h0M492 339h0M548 362h0M704 346h0M536 374h0M587 396h0M661 389h0M670 363h0M685 344h0M547 340h0M609 400h0M570 336h0M572 355h0M639 386h0M572 327h0M701 347h0M563 382h0M500 375h0M522 387h0M687 371h0M610 393h0M608 370h0M504 348h0M568 334h0M513 338h0M509 358h0M577 358h0M636 389h0M656 339h0M701 342h0M689 347h0M498 371h0M542 348h0M677 329h0M632 372h0M569 370h0M677 347h0M641 389h0M539 368h0M592 390h0M532 373h0M714 347h0M594 322h0M596 370h0M605 375h0M727 347h0M729 358h0M754 405h0M727 338h0M719 389h0M741 340h0M739 414h0M759 365h0M716 404h0M758 364h0M705 381h0M703 355h0M709 389h0M758 407h0M719 385h0M719 339h0M740 364h0M735 333h0M705 387h0M743 347h0M714 363h0M714 343h0M721 398h0M723 398h0M715 409h0M734 337h0M741 343h0M730 386h0M759 344h0M770 359h0M557 455h0M637 416h0M732 447h0M610 429h0M594 466h0M619 419h0M495 435h0M634 405h0M519 512h0M597 499h0M523 493h0M637 501h0M495 465h0M484 460h0M532 495h0M493 440h0M598 407h0M521 485h0M679 476h0M701 433h0M511 413h0M530 446h0M554 460h0M570 516h0M626 407h0M587 525h0M484 447h0M514 482h0M602 519h0M686 430h0M558 437h0M622 392h0M539 510h0M500 445h0M731 446h0M497 415h0M557 499h0M494 484h0M598 441h0M510 406h0M583 403h0M546 416h0M646 419h0M687 416h0M702 490h0M607 508h0M617 397h0M596 460h0M566 499h0M618 399h0M573 416h0M707 467h0M648 488h0M614 486h0M668 523h0M651 435h0M491 484h0M621 459h0M662 505h0M623 466h0M623 509h0M591 396h0M524 493h0M674 479h0M565 480h0M657 505h0M516 461h0M583 500h0M681 421h0M717 459h0M676 506h0M588 516h0M521 433h0M716 436h0M637 478h0M645 405h0M617 450h0M615 517h0M487 434h0M700 489h0M671 511h0M541 502h0M507 456h0M523 415h0M568 442h0M683 418h0M496 468h0M566 428h0M628 473h0M619 472h0M631 424h0M660 450h0M539 501h0M552 487h0M529 504h0M536 427h0M520 512h0M586 514h0M658 499h0M629 390h0M698 464h0M624 396h0M528 473h0M514 485h0M708 475h0M552 525h0M668 478h0M713 419h0M518 423h0M602 498h0M530 446h0M710 480h0M713 498h0M625 521h0M667 477h0M684 447h0M629 506h0M566 460h0M568 416h0M570 438h0M526 398h0M575 520h0M610 511h0M583 480h0M621 504h0M591 411h0M596 526h0M600 477h0M672 462h0M497 446h0M651 469h0M607 530h0M584 390h0M612 481h0M511 459h0M734 457h0M622 389h0M544 473h0M633 497h0M668 492h0M529 499h0M654 419h0M561 502h0M589 488h0M577 388h0M541 456h0M706 492h0M557 437h0M604 471h0M572 528h0M707 417h0M706 426h0M564 514h0M515 501h0M604 413h0M654 440h0M556 467h0M703 498h0M598 517h0M685 480h0M554 518h0M553 440h0M573 495h0M629 388h0M547 511h0M519 426h0M566 395h0M547 458h0M524 497h0M671 474h0M536 516h0M526 403h0M630 439h0M687 453h0M620 435h0M708 473h0M644 492h0M547 491h0M714 491h0M687 421h0M498 421h0M543 407h0M559 512h0M668 394h0M534 452h0M585 422h0M621 444h0M687 459h0M543 461h0M725 458h0M503 426h0M568 519h0M536 438h0M608 403h0M644 474h0M674 443h0M680 487h0M625 517h0M498 436h0M730 447h0M613 454h0M591 463h0M610 454h0M681 432h0M522 503h0M531 429h0M486 454h0M682 473h0M550 448h0M545 482h0M531 438h0M494 450h0M636 471h0M571 527h0M665 498h0M512 443h0M534 487h0M578 473h0M552 510h0M594 430h0M504 473h0M539 443h0M723 452h0M521 405h0M545 492h0M493 487h0M692 495h0M596 516h0M584 437h0M600 442h0M489 466h0M594 445h0M585 471h0M601 417h0M568 524h0M493 434h0M605 519h0M515 427h0M530 517h0M496 445h0M527 398h0M480 450h0M748 459h0M796 508h0M821 479h0M738 511h0M790 444h0M738 457h0M804 430h0M800 474h0M785 533h0M788 417h0M818 475h0M792 536h0M795 543h0M727 495h0M789 516h0M850 439h0M748 450h0M813 441h0M749 437h0M844 514h0M819 435h0M862 492h0M798 503h0M822 485h0M735 496h0M786 533h0M803 417h0M815 432h0M841 497h0M731 499h0M750 525h0M851 471h0M776 473h0M765 523h0M795 436h0M824 444h0M809 520h0M840 499h0M789 464h0M845 484h0M783 538h0M764 520h0M805 517h0M854 487h0M730 479h0M845 487h0M822 461h0M769 426h0M757 457h0M737 495h0M833 509h0M794 428h0M754 509h0M798 484h0M751 464h0M745 451h0M735 463h0M833 519h0M798 449h0M755 504h0M848 459h0M753 523h0M771 422h0M771 539h0M852 499h0M808 524h0M739 442h0M799 537h0M802 447h0M754 429h0M769 451h0M834 529h0M734 472h0M757 446h0M822 461h0M753 430h0M752 431h0M792 475h0M845 449h0M827 535h0M739 492h0M823 497h0M761 475h0M740 507h0M767 460h0M886 429h0M890 491h0M874 495h0M871 442h0M875 431h0M805 582h0M868 564h0M851 544h0M861 606h0M859 555h0M838 585h0M830 614h0M847 611h0M857 550h0M849 621h0M795 569h0M867 574h0M839 624h0M831 583h0M840 572h0M873 580h0M865 569h0M839 617h0M792 590h0M860 570h0M801 546h0M856 539h0M843 539h0M827 546h0M840 541h0M844 545h0M872 594h0M809 621h0M791 570h0M869 587h0M801 586h0M801 566h0M830 573h0M852 607h0M824 544h0M866 607h0M842 543h0M835 593h0M866 639h0M863 683h0M870 678h0M865 641h0M821 688h0M816 655h0M822 657h0M831 656h0M864 693h0M817 651h0M860 688h0M873 651h0M810 668h0M872 686h0M851 682h0M822 684h0M868 647h0M856 678h0M823 647h0M877 680h0M855 670h0M839 672h0M825 669h0M824 655h0M866 695h0M824 658h0M870 685h0M780 589h0M740 655h0M679 681h0M538 544h0M612 552h0M527 556h0M538 549h0M522 583h0M759 618h0M699 674h0M666 685h0M504 655h0M710 563h0M646 645h0M536 549h0M737 659h0M638 545h0M769 568h0M511 636h0M483 591h0M721 629h0M584 554h0M756 590h0M710 593h0M604 591h0M585 576h0M700 633h0M700 596h0M666 557h0M563 624h0M712 653h0M516 592h0M607 625h0M622 679h0M545 670h0M582 678h0M625 547h0M664 535h0M702 603h0M690 653h0M679 567h0M521 616h0M674 587h0M736 620h0M650 558h0M589 573h0M736 541h0M673 526h0M515 651h0M686 572h0M642 648h0M545 666h0M590 569h0M486 575h0M568 641h0M697 568h0M721 592h0M729 656h0M593 672h0M753 573h0M584 609h0M695 569h0M579 600h0M502 651h0M548 639h0M676 679h0M658 551h0M656 578h0M733 542h0M620 552h0M709 556h0M543 561h0M702 606h0M513 557h0M649 667h0M671 528h0M703 588h0M753 659h0M696 647h0M694 560h0M504 632h0M635 663h0M697 542h0M667 562h0M675 547h0M570 581h0M769 612h0M755 580h0M753 637h0M738 546h0M608 675h0M607 562h0M507 643h0M790 614h0M665 673h0M543 650h0M721 611h0M635 616h0M712 613h0M656 610h0M588 554h0M767 584h0M488 615h0M621 572h0M566 598h0M506 635h0M647 577h0M679 651h0M697 535h0M664 549h0M678 524h0M730 645h0M568 577h0M497 590h0M623 607h0M625 593h0M681 577h0M650 599h0M701 628h0M606 534h0M765 616h0M626 635h0M543 665h0M587 680h0M720 558h0M697 536h0M550 627h0M599 585h0M583 637h0M478 611h0M548 585h0M505 648h0M522 617h0M584 668h0M518 570h0M575 548h0M490 609h0M748 644h0M645 521h0M597 617h0M507 577h0M724 672h0M729 652h0M717 608h0M741 552h0M589 679h0M595 670h0M704 551h0M721 658h0M661 627h0M619 595h0M565 566h0M484 601h0M614 675h0M706 580h0M675 583h0M743 621h0M723 580h0M713 555h0M718 557h0M655 553h0M507 591h0M737 597h0M549 666h0M516 594h0M625 605h0M755 579h0M732 598h0M522 655h0M756 640h0M544 542h0M702 531h0M683 546h0M615 609h0M759 609h0M751 590h0M725 647h0M716 588h0M542 616h0M647 576h0M603 575h0M517 644h0M776 567h0M592 606h0M695 671h0M507 591h0M581 656h0M695 573h0M540 563h0M748 556h0M618 639h0M681 682h0M639 562h0M602 654h0M599 611h0M568 538h0M532 571h0M615 528h0M589 674h0M768 623h0M682 525h0M763 606h0M624 677h0M513 575h0M647 629h0M503 611h0M597 678h0M518 553h0M612 550h0M693 579h0M568 589h0M609 687h0M741 657h0M685 618h0M721 536h0M781 592h0M666 602h0M696 543h0M628 656h0M499 624h0M637 543h0M498 608h0M593 544h0M652 548h0M509 644h0M676 617h0M555 646h0M502 622h0M571 605h0M513 640h0M641 540h0M634 614h0M623 573h0M714 537h0M671 671h0M661 571h0M783 598h0M753 558h0M748 553h0M562 633h0M633 685h0M703 598h0M613 577h0M575 557h0M719 644h0M545 544h0M735 580h0M500 583h0M636 554h0M656 650h0M556 545h0M651 618h0M775 603h0M692 624h0M510 620h0M694 554h0M784 617h0M516 642h0M519 636h0M633 653h0M691 555h0M530 569h0M750 604h0M762 571h0M558 565h0M671 545h0M659 568h0M593 588h0M625 682h0M683 652h0M680 619h0M775 600h0M605 520h0M539 604h0M531 587h0M702 568h0M657 659h0M501 648h0M756 560h0M599 540h0M569 559h0M711 596h0M502 625h0M563 578h0M664 685h0M696 660h0M693 579h0M524 618h0M756 560h0M708 558h0M667 538h0M485 627h0M587 639h0M569 659h0M649 569h0M635 572h0M708 661h0M561 647h0M648 602h0M745 648h0M570 665h0M361 667h0M339 422h0M341 446h0M201 529h0M193 600h0M218 573h0M222 551h0M180 606h0M164 522h0M134 554h0M134 552h0M222 559h0M135 580h0M188 597h0M134 580h0M226 560h0M221 543h0M179 527h0M202 592h0M146 562h0M182 583h0M155 532h0M143 575h0M160 600h0M156 527h0M221 582h0M219 538h0M225 585h0M218 570h0M291 742h0M455 797h0M388 758h0M422 752h0M564 775h0M419 784h0M545 803h0M492 792h0M544 810h0M493 794h0M592 768h0M429 809h0M467 752h0M466 759h0M460 809h0M510 744h0M566 743h0M392 765h0M435 790h0M443 748h0M535 811h0M549 741h0M532 815h0M507 813h0M435 797h0M411 797h0M408 802h0M586 766h0M467 780h0M513 780h0M519 764h0M405 772h0M383 781h0M541 763h0M460 820h0M575 776h0M545 750h0M532 777h0M516 819h0M522 809h0M412 794h0M418 770h0M480 812h0M417 787h0M446 746h0M428 750h0M434 774h0M589 781h0M538 808h0M549 786h0M388 756h0M489 811h0M521 755h0M562 770h0M503 755h0M462 793h0M542 760h0M497 815h0M404 796h0M590 759h0M465 767h0M466 731h0M461 792h0M411 762h0M558 794h0M476 743h0M398 785h0M460 745h0M532 745h0M445 747h0M463 737h0M441 758h0M420 783h0M515 790h0M484 754h0M553 748h0M496 770h0M425 805h0M427 750h0M538 809h0M587 763h0M444 746h0M517 793h0M394 796h0M426 741h0M400 798h0M417 812h0M498 809h0M526 733h0M472 737h0M510 762h0M454 759h0M456 749h0M437 768h0M593 785h0M463 779h0M444 764h0M448 745h0M405 796h0M701 759h0M644 713h0M632 746h0M624 730h0M704 709h0M729 783h0M727 767h0M703 706h0M757 743h0M622 741h0M746 750h0M653 766h0M689 702h0M677 738h0M627 724h0M722 765h0M752 726h0M723 763h0M703 737h0M698 777h0M669 795h0M624 756h0M713 709h0M698 796h0M694 777h0M636 725h0M748 724h0M680 726h0M674 715h0M756 749h0M694 787h0M688 785h0M750 742h0M731 774h0M608 756h0M648 785h0M677 778h0M627 769h0M650 763h0M659 789h0M651 721h0M678 703h0M690 700h0M628 777h0M732 711h0M641 755h0M710 712h0M652 706h0M683 709h0M674 756h0M608 746h0M760 741h0M706 707h0M692 748h0M673 736h0M708 759h0M667 782h0M640 738h0M616 729h0M638 776h0M673 783h0M732 738h0M706 789h0M672 790h0M608 738h0M662 714h0M702 752h0M721 704h0M730 735h0M654 756h0M620 740h0M669 700h0M723 707h0M759 742h0M752 760h0M607 749h0M712 725h0M719 785h0M841 776h0M836 788h0M769 759h0M834 790h0M795 797h0M843 762h0M825 722h0M830 765h0M769 753h0M779 785h0M775 762h0M837 773h0M809 710h0M791 742h0M807 708h0M797 795h0M774 746h0M841 759h0M811 786h0M477 865h0M470 908h0M483 876h0M459 896h0M648 836h0M663 826h0M636 824h0M712 806h0M851 794h0M829 800h0M517 812h0M507 826h0M537 843h0M530 824h0M494 830h0M538 813h0M502 834h0M547 819h0M508 815h0M541 816h0M510 809h0M503 831h0M550 826h0M381 785h0M377 800h0M396 817h0M406 799h0M404 800h0M401 800h0M401 791h0M392 800h0M399 813h0M375 788h0M405 788h0M684 707h0M509 714h0M618 670h0M616 670h0M678 705h0M670 714h0M501 672h0M623 686h0M656 710h0M536 669h0M580 675h0M515 692h0M612 690h0M535 672h0M502 673h0M492 682h0M593 698h0M686 677h0M472 676h0M597 706h0M634 671h0M450 699h0M479 707h0M579 707h0M603 710h0M602 716h0M594 697h0M442 688h0M684 699h0M506 710h0M604 675h0M647 693h0M572 715h0M636 715h0M568 711h0M451 690h0M656 678h0M655 710h0M678 697h0M656 671h0M488 710h0M602 687h0M695 701h0M562 713h0M519 688h0M596 714h0M646 709h0M549 696h0M504 698h0M469 707h0M568 707h0M602 718h0M569 693h0M645 701h0M654 715h0M587 716h0M585 678h0M622 715h0M720 699h0M569 695h0M476 696h0M650 716h0M665 678h0M711 700h0M610 673h0M652 670h0M476 705h0M634 671h0M643 683h0M713 703h0M691 703h0M452 696h0M608 718h0M543 690h0M483 679h0M696 709h0M538 671h0M600 715h0M644 676h0M683 688h0M607 719h0M528 686h0M629 709h0M667 681h0M642 710h0M514 702h0M694 680h0M666 681h0M825 632h0M831 596h0M823 665h0M815 599h0M766 639h0M793 676h0M768 635h0M841 626h0M793 602h0M778 617h0M830 663h0M823 591h0M767 635h0M807 593h0M804 598h0M787 592h0M809 585h0M762 650h0M799 677h0M822 662h0M787 604h0M818 674h0M772 606h0M817 617h0M799 607h0M809 636h0M841 609h0M841 647h0M829 609h0M797 686h0M787 677h0M775 659h0M775 673h0M843 617h0M778 608h0M823 592h0M837 661h0M808 623h0M833 658h0M761 624h0M822 648h0M770 632h0M822 597h0M839 610h0M792 615h0M778 600h0M492 537h0M515 546h0M477 521h0M543 512h0M514 545h0M542 526h0M493 521h0M509 537h0M732 497h0M735 480h0M733 526h0M727 543h0M760 507h0M736 473h0M732 468h0M717 480h0M721 483h0M725 529h0M718 484h0M719 487h0M730 465h0M726 509h0M744 495h0M719 493h0M736 465h0M732 497h0M738 478h0M755 514h0M762 681h0M811 702h0M767 683h0M767 690h0M789 722h0M808 700h0M752 687h0M775 681h0M751 690h0M768 693h0M778 704h0M793 692h0M797 686h0M769 691h0M779 726h0M781 678h0M741 709h0M754 723h0M792 680h0M746 710h0" stroke="rgb(33,145,140)" stroke-width="5.4" stroke-linecap="round" fill="none"/><path transform="scale(.5)" d="M550 190h0M604 145h0M654 210h0M546 194h0M614 147h0M584 149h0M602 151h0M566 154h0M551 222h0M568 157h0M658 181h0M600 139h0M632 186h0M614 153h0M576 232h0M534 201h0M553 152h0M611 236h0M655 176h0M618 145h0M575 192h0M654 189h0M567 161h0M569 206h0M625 152h0M652 158h0M566 198h0M632 216h0M554 210h0M635 235h0M646 179h0M637 190h0M642 225h0M551 226h0M617 182h0M561 232h0M727 239h0M723 284h0M678 314h0M691 311h0M666 237h0M637 317h0M721 285h0M690 254h0M644 337h0M582 313h0M680 321h0M722 274h0M595 264h0M612 256h0M689 300h0M712 287h0M712 285h0M698 246h0M706 292h0M620 262h0M600 252h0M691 263h0M718 303h0M713 293h0M674 263h0M600 269h0M582 323h0M606 319h0M606 276h0M721 277h0M688 243h0M598 269h0M610 327h0M567 299h0M611 241h0M708 253h0M702 309h0M633 248h0M585 320h0M617 313h0M706 290h0M643 240h0M596 264h0M665 272h0M659 336h0M687 289h0M591 258h0M649 319h0M595 300h0M616 330h0M701 270h0M687 269h0M701 269h0M622 247h0M641 297h0M676 323h0M661 271h0M639 239h0M627 257h0M572 257h0M646 242h0M703 278h0M570 282h0M618 254h0M583 316h0M585 287h0M604 309h0M659 333h0M617 296h0M589 299h0M531 331h0M519 341h0M476 316h0M549 326h0M484 322h0M500 333h0M516 284h0M497 319h0M521 343h0M529 323h0M553 312h0M549 320h0M552 303h0M508 285h0M551 296h0M496 340h0M485 316h0M490 298h0M530 293h0M507 320h0M547 318h0M491 326h0M525 298h0M529 315h0M497 319h0M512 292h0M434 336h0M447 382h0M444 330h0M447 381h0M464 357h0M424 371h0M460 361h0M467 354h0M468 353h0M440 381h0M448 334h0M575 388h0M615 378h0M617 351h0M639 327h0M569 386h0M654 390h0M588 398h0M579 394h0M654 350h0M535 393h0M705 363h0M531 377h0M550 344h0M620 341h0M564 387h0M667 334h0M571 384h0M676 353h0M558 337h0M534 356h0M480 367h0M530 328h0M540 389h0M617 329h0M690 371h0M649 329h0M719 376h0M682 332h0M634 352h0M482 357h0M651 376h0M645 377h0M697 349h0M499 380h0M572 388h0M604 346h0M618 393h0M513 334h0M604 396h0M696 349h0M564 343h0M566 372h0M492 374h0M707 375h0M699 352h0M647 337h0M727 361h0M491 370h0M643 331h0M684 360h0M655 328h0M664 360h0M527 388h0M621 325h0M506 343h0M676 329h0M554 383h0M630 358h0M610 330h0M676 333h0M542 379h0M652 393h0M576 327h0M621 393h0M641 380h0M621 386h0M670 378h0M576 340h0M604 376h0M569 345h0M495 382h0M593 378h0M596 323h0M539 352h0M486 366h0M545 392h0M713 359h0M580 394h0M586 395h0M673 380h0M547 363h0M539 391h0M632 396h0M632 397h0M537 355h0M625 374h0M645 390h0M562 350h0M594 359h0M666 350h0M513 340h0M542 326h0M697 366h0M593 339h0M605 373h0M606 331h0M692 337h0M480 366h0M593 397h0M590 323h0M657 344h0M662 349h0M599 357h0M618 331h0M611 392h0M663 394h0M496 382h0M608 390h0M658 340h0M548 329h0M723 369h0M693 382h0M540 332h0M664 379h0M766 354h0M744 370h0M764 376h0M749 394h0M741 352h0M722 405h0M702 377h0M766 369h0M716 396h0M725 412h0M740 382h0M702 387h0M753 361h0M706 395h0M720 412h0M735 349h0M745 419h0M729 339h0M727 387h0M754 360h0M740 372h0M766 398h0M718 353h0M710 400h0M727 407h0M746 411h0M730 359h0M744 344h0M736 356h0M768 394h0M745 398h0M701 388h0M764 351h0M723 399h0M726 356h0M756 401h0M615 384h0M674 416h0M574 449h0M679 517h0M591 389h0M627 389h0M609 418h0M543 392h0M520 410h0M583 385h0M671 446h0M545 410h0M568 481h0M712 473h0M645 504h0M557 391h0M558 498h0M496 461h0M640 513h0M674 517h0M624 461h0M488 454h0M540 439h0M492 470h0M509 412h0M699 501h0M600 392h0M579 522h0M533 436h0M541 425h0M504 505h0M640 454h0M711 474h0M503 428h0M564 523h0M707 444h0M518 494h0M483 471h0M619 477h0M629 410h0M661 476h0M513 474h0M720 450h0M570 415h0M643 388h0M645 403h0M531 502h0M675 413h0M675 479h0M709 493h0M635 457h0M697 503h0M607 421h0M576 470h0M683 454h0M696 490h0M692 498h0M574 411h0M548 444h0M696 492h0M529 447h0M600 467h0M524 487h0M618 412h0M589 439h0M674 449h0M619 413h0M501 446h0M482 457h0M638 498h0M549 461h0M542 503h0M604 521h0M535 438h0M645 452h0M676 513h0M683 501h0M554 526h0M502 440h0M485 447h0M687 441h0M663 440h0M558 453h0M600 439h0M631 527h0M522 406h0M604 474h0M643 480h0M693 408h0M689 494h0M641 405h0M626 495h0M530 434h0M548 400h0M505 424h0M515 447h0M685 498h0M662 522h0M663 403h0M643 490h0M633 510h0M476 456h0M712 471h0M494 455h0M613 425h0M543 504h0M639 529h0M555 414h0M512 476h0M621 463h0M484 464h0M591 527h0M704 503h0M634 470h0M570 409h0M565 518h0M577 498h0M641 463h0M555 426h0M664 413h0M655 402h0M580 404h0M627 519h0M603 488h0M506 442h0M627 511h0M510 474h0M647 476h0M700 452h0M548 502h0M723 457h0M559 417h0M705 478h0M593 435h0M664 446h0M641 423h0M551 399h0M520 436h0M700 460h0M573 426h0M521 400h0M706 463h0M552 518h0M658 467h0M604 485h0M664 413h0M705 431h0M472 461h0M701 476h0M478 469h0M571 426h0M699 496h0M663 478h0M687 486h0M537 412h0M666 414h0M487 426h0M584 394h0M663 509h0M708 415h0M690 451h0M575 402h0M678 467h0M576 416h0M553 432h0M696 423h0M509 460h0M487 460h0M717 489h0M637 485h0M561 466h0M506 462h0M661 492h0M707 480h0M517 478h0M518 508h0M712 444h0M575 487h0M702 468h0M628 389h0M579 515h0M525 417h0M605 434h0M530 509h0M674 509h0M522 471h0M651 503h0M494 498h0M712 484h0M635 504h0M493 422h0M502 426h0M554 399h0M570 410h0M648 503h0M538 412h0M590 427h0M519 454h0M589 446h0M606 499h0M518 483h0M721 471h0M783 463h0M797 422h0M781 520h0M736 478h0M759 529h0M780 517h0M823 519h0M783 504h0M744 438h0M805 423h0M773 431h0M830 526h0M743 485h0M823 421h0M725 478h0M859 465h0M815 510h0M782 482h0M803 473h0M771 516h0M833 510h0M765 520h0M821 517h0M738 498h0M735 458h0M740 473h0M733 482h0M806 500h0M811 476h0M761 517h0M799 456h0M756 452h0M855 453h0M774 431h0M760 424h0M771 449h0M827 445h0M835 507h0M786 426h0M779 529h0M778 416h0M800 424h0M760 517h0M806 459h0M757 476h0M741 436h0M750 477h0M860 480h0M751 508h0M748 473h0M795 492h0M776 534h0M822 426h0M810 417h0M796 522h0M795 526h0M826 423h0M770 533h0M778 476h0M831 501h0M776 475h0M781 431h0M738 508h0M771 526h0M853 490h0M807 458h0M752 426h0M755 527h0M829 426h0M757 454h0M795 444h0M787 531h0M827 423h0M736 467h0M756 515h0M857 483h0M793 462h0M839 438h0M795 430h0M837 496h0M809 541h0M857 481h0M798 518h0M755 515h0M770 421h0M788 543h0M782 476h0M835 498h0M860 486h0M838 477h0M791 533h0M737 442h0M762 513h0M813 507h0M752 471h0M892 429h0M889 431h0M900 485h0M895 462h0M874 448h0M875 458h0M882 490h0M868 433h0M892 483h0M872 427h0M818 567h0M842 534h0M818 614h0M801 551h0M793 564h0M833 564h0M839 543h0M806 605h0M816 540h0M819 619h0M832 622h0M851 558h0M829 625h0M842 533h0M863 556h0M834 538h0M813 557h0M817 612h0M851 615h0M820 596h0M807 608h0M833 610h0M827 531h0M848 620h0M816 548h0M848 616h0M801 603h0M845 549h0M864 601h0M801 600h0M841 618h0M812 614h0M836 607h0M847 593h0M864 664h0M836 642h0M860 656h0M856 640h0M867 690h0M832 658h0M825 667h0M815 656h0M869 694h0M867 685h0M819 675h0M851 649h0M823 642h0M813 660h0M841 694h0M855 697h0M829 641h0M878 662h0M824 685h0M817 688h0M502 612h0M656 573h0M761 629h0M707 535h0M530 580h0M599 621h0M766 640h0M593 544h0M730 627h0M647 551h0M512 638h0M626 558h0M695 577h0M588 607h0M621 563h0M773 580h0M638 679h0M552 633h0M591 607h0M551 671h0M739 604h0M544 649h0M595 531h0M658 594h0M585 649h0M641 639h0M692 568h0M744 632h0M740 595h0M622 660h0M593 545h0M759 564h0M637 532h0M512 554h0M714 589h0M554 603h0M603 605h0M695 577h0M576 681h0M549 611h0M763 640h0M602 625h0M755 609h0M704 653h0M732 587h0M591 541h0M682 632h0M741 601h0M654 665h0M504 622h0M667 544h0M493 609h0M503 590h0M555 601h0M524 608h0M676 573h0M725 645h0M660 597h0M643 561h0M495 561h0M648 543h0M750 614h0M593 603h0M519 648h0M543 616h0M534 616h0M516 663h0M578 587h0M622 539h0M790 593h0M623 678h0M551 561h0M688 566h0M685 673h0M642 656h0M523 636h0M685 565h0M505 642h0M576 530h0M709 552h0M596 595h0M583 685h0M527 649h0M764 643h0M617 676h0M780 568h0M640 526h0M758 560h0M627 557h0M616 654h0M654 578h0M635 546h0M565 646h0M618 643h0M718 575h0M753 643h0M514 590h0M616 675h0M636 527h0M619 530h0M651 555h0M540 636h0M560 605h0M652 613h0M664 544h0M625 536h0M539 614h0M599 576h0M574 604h0M614 614h0M565 619h0M725 658h0M738 543h0M652 567h0M526 561h0M669 538h0M488 570h0M590 604h0M750 586h0M548 549h0M702 532h0M506 580h0M555 550h0M480 628h0M567 573h0M701 551h0M760 556h0M539 661h0M577 532h0M718 561h0M561 642h0M501 570h0M547 590h0M602 672h0M549 562h0M608 553h0M638 529h0M674 551h0M528 616h0M490 567h0M697 670h0M636 627h0M716 548h0M765 601h0M718 580h0M756 624h0M574 534h0M709 535h0M525 604h0M518 600h0M745 638h0M633 673h0M622 670h0M501 594h0M493 642h0M723 644h0M486 597h0M648 601h0M735 547h0M776 564h0M605 638h0M673 540h0M570 606h0M626 629h0M619 670h0M734 648h0M702 550h0M547 660h0M591 621h0M626 616h0M627 658h0M576 573h0M659 557h0M498 561h0M613 670h0M734 561h0M605 637h0M688 559h0M575 672h0M620 681h0M514 636h0M596 635h0M709 647h0M683 683h0M493 597h0M534 577h0M785 582h0M571 649h0M640 641h0M621 582h0M710 545h0M663 645h0M493 587h0M746 568h0M619 544h0M751 579h0M703 629h0M558 581h0M761 582h0M542 597h0M597 686h0M770 581h0M501 649h0M619 667h0M716 536h0M511 636h0M515 572h0M757 558h0M641 521h0M644 603h0M565 577h0M503 640h0M617 619h0M495 633h0M649 584h0M598 550h0M729 625h0M713 538h0M712 616h0M505 619h0M679 534h0M781 637h0M518 651h0M663 568h0M529 642h0M604 559h0M783 590h0M582 592h0M552 635h0M671 589h0M735 588h0M718 557h0M603 614h0M594 630h0M697 549h0M590 539h0M669 539h0M765 596h0M721 586h0M227 571h0M177 525h0M142 586h0M191 582h0M204 531h0M170 531h0M587 768h0M463 772h0M381 763h0M490 815h0M425 780h0M387 761h0M557 748h0M490 819h0M380 774h0M493 808h0M472 810h0M551 791h0M532 790h0M574 747h0M418 796h0M447 811h0M389 782h0M397 761h0M402 774h0M553 741h0M570 800h0M568 799h0M590 777h0M579 785h0M501 733h0M425 791h0M593 761h0M405 807h0M506 740h0M449 746h0M496 792h0M537 816h0M486 809h0M475 803h0M556 798h0M457 733h0M491 787h0M436 769h0M569 764h0M426 745h0M401 784h0M563 791h0M495 804h0M573 802h0M405 762h0M475 757h0M508 746h0M538 775h0M533 764h0M476 808h0M444 807h0M422 802h0M432 739h0M585 773h0M414 745h0M447 771h0M545 745h0M494 810h0M521 735h0M396 749h0M414 753h0M505 756h0M431 743h0M459 736h0M413 748h0M583 754h0M560 751h0M427 788h0M400 775h0M497 739h0M510 817h0M525 737h0M439 773h0M576 803h0M576 793h0M542 765h0M548 752h0M497 802h0M453 810h0M395 803h0M400 789h0M454 752h0M477 814h0M578 752h0M427 790h0M505 778h0M424 752h0M461 789h0M380 764h0M514 741h0M517 734h0M521 800h0M489 774h0M443 734h0M483 800h0M466 740h0M456 814h0M410 754h0M651 762h0M608 737h0M707 742h0M710 781h0M726 774h0M714 792h0M672 766h0M611 728h0M670 755h0M673 757h0M625 732h0M692 776h0M738 759h0M605 749h0M702 789h0M664 781h0M633 775h0M663 769h0M659 784h0M635 744h0M652 734h0M701 734h0M758 737h0M664 734h0M723 708h0M740 769h0M647 776h0M734 727h0M743 748h0M628 712h0M732 714h0M735 781h0M642 718h0M746 724h0M750 722h0M752 737h0M740 753h0M618 751h0M680 709h0M623 773h0M652 780h0M634 738h0M666 702h0M692 747h0M680 707h0M678 713h0M657 770h0M654 782h0M614 732h0M661 712h0M774 782h0M802 706h0M800 707h0M833 778h0M769 750h0M788 783h0M804 804h0M788 724h0M787 749h0M776 751h0M814 804h0M797 712h0M769 774h0M806 718h0M463 900h0M483 874h0M463 889h0M464 894h0M466 863h0M478 884h0M461 873h0M622 837h0M616 838h0M549 839h0M508 843h0M550 827h0M535 841h0M551 829h0M500 840h0M507 815h0M548 838h0M503 819h0M552 829h0M518 822h0M538 810h0M506 812h0M549 826h0M530 841h0M503 827h0M547 813h0M531 833h0M506 820h0M545 811h0M539 832h0M500 838h0M531 808h0M494 825h0M372 813h0M377 815h0M385 816h0M383 786h0M393 797h0M367 799h0M365 804h0M640 668h0M716 694h0M623 718h0M632 711h0M583 712h0M573 697h0M595 694h0M551 709h0M715 692h0M713 702h0M625 696h0M467 695h0M580 715h0M642 676h0M570 719h0M588 695h0M648 693h0M489 683h0M444 694h0M452 695h0M598 679h0M476 698h0M672 701h0M610 716h0M536 708h0M462 695h0M586 692h0M648 703h0M516 695h0M651 717h0M487 693h0M522 703h0M603 718h0M652 705h0M583 683h0M678 710h0M703 676h0M633 691h0M665 702h0M572 670h0M583 676h0M521 706h0M649 704h0M589 685h0M621 673h0M602 715h0M611 693h0M656 682h0M595 695h0M533 707h0M655 688h0M489 698h0M699 685h0M492 687h0M653 676h0M490 704h0M562 706h0M600 715h0M487 706h0M718 687h0M466 689h0M661 670h0M505 670h0M541 699h0M630 687h0M497 705h0M581 694h0M662 697h0M704 684h0M544 666h0M603 714h0M455 699h0M524 696h0M505 711h0M592 668h0M528 707h0M705 692h0M841 631h0M825 597h0M832 608h0M806 656h0M773 642h0M805 592h0M832 617h0M801 652h0M805 615h0M777 633h0M833 660h0M790 652h0M816 672h0M825 606h0M829 641h0M840 617h0M766 615h0M841 645h0M818 675h0M808 602h0M826 595h0M816 684h0M838 662h0M766 632h0M808 591h0M792 591h0M790 675h0M795 593h0M836 605h0M834 660h0M842 662h0M808 685h0M781 599h0M810 660h0M818 590h0M780 627h0M811 594h0M515 530h0M501 542h0M720 480h0M709 488h0M707 499h0M753 497h0M708 523h0M722 481h0M721 532h0M743 502h0M756 501h0M745 538h0M757 521h0M735 490h0M730 490h0M705 499h0M749 527h0M738 504h0M706 503h0M729 534h0M709 514h0M717 490h0M748 500h0M713 533h0M758 727h0M758 688h0M777 680h0M776 728h0M787 699h0M794 722h0M776 681h0M787 679h0M769 717h0M799 713h0M786 690h0M773 710h0M758 696h0M792 714h0" stroke="rgb(34,156,136)" stroke-width="5.4" stroke-linecap="round" fill="none"/><path transform="scale(.5)" d="M627 228h0M561 200h0M558 164h0M558 168h0M633 148h0M566 177h0M640 213h0M626 200h0M583 154h0M661 212h0M650 215h0M652 167h0M534 204h0M599 212h0M554 165h0M653 175h0M624 229h0M651 172h0M613 241h0M597 159h0M567 221h0M590 195h0M638 216h0M653 191h0M559 218h0M568 192h0M557 229h0M536 187h0M619 218h0M606 171h0M568 216h0M664 201h0M585 195h0M563 231h0M660 185h0M611 148h0M578 232h0M616 233h0M628 207h0M553 166h0M567 209h0M548 188h0M570 229h0M551 228h0M570 184h0M645 173h0M629 151h0M593 239h0M638 206h0M548 175h0M665 184h0M570 224h0M648 186h0M580 167h0M544 206h0M559 167h0M538 185h0M589 232h0M548 160h0M571 229h0M608 195h0M629 237h0M590 190h0M571 186h0M546 164h0M556 173h0M582 153h0M648 170h0M667 186h0M653 217h0M632 149h0M574 200h0M637 221h0M590 178h0M591 184h0M560 230h0M571 172h0M571 153h0M607 210h0M653 169h0M725 238h0M730 227h0M708 232h0M701 253h0M625 243h0M651 303h0M586 265h0M676 326h0M686 325h0M668 291h0M700 251h0M708 257h0M690 254h0M600 257h0M710 275h0M712 315h0M679 332h0M671 248h0M659 266h0M686 243h0M652 267h0M683 322h0M622 324h0M670 308h0M638 234h0M659 333h0M690 275h0M649 268h0M621 336h0M677 322h0M630 322h0M665 335h0M637 316h0M684 250h0M648 270h0M592 249h0M583 310h0M623 315h0M646 235h0M645 256h0M708 280h0M596 257h0M650 276h0M602 266h0M618 242h0M590 321h0M658 287h0M665 288h0M642 271h0M603 330h0M648 242h0M628 293h0M687 245h0M568 290h0M708 284h0M720 302h0M588 322h0M700 273h0M624 308h0M686 247h0M639 244h0M695 249h0M631 336h0M607 322h0M602 242h0M625 322h0M575 311h0M618 234h0M715 273h0M704 264h0M633 331h0M604 267h0M607 306h0M691 326h0M676 248h0M586 305h0M713 295h0M642 326h0M637 274h0M620 332h0M564 275h0M702 254h0M584 300h0M614 241h0M611 335h0M722 280h0M710 281h0M594 310h0M618 277h0M629 243h0M596 320h0M695 309h0M622 277h0M716 310h0M670 326h0M678 247h0M570 262h0M692 320h0M564 291h0M598 244h0M603 325h0M589 303h0M651 269h0M581 266h0M604 333h0M614 325h0M473 312h0M519 322h0M546 338h0M558 323h0M544 329h0M489 314h0M521 326h0M491 290h0M498 298h0M539 298h0M487 294h0M498 317h0M528 336h0M540 309h0M507 343h0M539 342h0M523 279h0M487 315h0M486 297h0M519 280h0M512 287h0M541 290h0M505 324h0M558 305h0M510 341h0M434 331h0M440 329h0M471 355h0M418 357h0M422 374h0M418 360h0M468 351h0M442 333h0M422 365h0M432 333h0M504 334h0M565 376h0M580 399h0M591 327h0M613 353h0M613 399h0M644 336h0M571 349h0M651 333h0M707 366h0M553 355h0M663 334h0M656 385h0M575 356h0M611 361h0M488 344h0M645 384h0M548 378h0M503 374h0M506 345h0M483 353h0M636 374h0M562 360h0M588 395h0M483 365h0M516 353h0M616 368h0M545 386h0M641 325h0M629 326h0M657 376h0M563 349h0M566 345h0M573 386h0M592 398h0M580 321h0M710 360h0M666 337h0M539 361h0M577 328h0M624 391h0M516 334h0M580 389h0M531 390h0M510 348h0M663 372h0M619 394h0M552 369h0M629 330h0M483 375h0M723 365h0M579 378h0M531 330h0M595 388h0M564 353h0M534 337h0M557 329h0M501 374h0M502 348h0M662 351h0M515 363h0M588 330h0M519 376h0M672 331h0M705 361h0M594 338h0M704 346h0M476 370h0M538 368h0M711 380h0M509 368h0M555 396h0M643 342h0M717 345h0M494 347h0M500 346h0M587 356h0M559 384h0M506 376h0M710 339h0M516 339h0M603 390h0M591 398h0M697 372h0M559 323h0M710 376h0M620 332h0M695 358h0M609 359h0M496 373h0M530 374h0M666 394h0M504 346h0M489 371h0M492 341h0M706 382h0M664 388h0M564 336h0M486 346h0M500 352h0M582 351h0M701 386h0M746 336h0M760 351h0M750 380h0M749 359h0M759 394h0M760 346h0M757 357h0M737 397h0M710 348h0M768 398h0M732 367h0M766 381h0M749 361h0M711 347h0M742 342h0M740 336h0M730 410h0M765 372h0M714 346h0M709 345h0M770 362h0M732 385h0M752 344h0M705 378h0M736 368h0M750 390h0M764 395h0M737 419h0M712 411h0M742 357h0M770 361h0M716 375h0M751 390h0M766 353h0M703 356h0M629 412h0M507 446h0M670 404h0M643 395h0M722 447h0M587 455h0M623 498h0M716 432h0M483 482h0M501 473h0M661 494h0M662 468h0M706 484h0M517 409h0M685 506h0M541 475h0M518 480h0M564 406h0M704 468h0M635 522h0M639 525h0M570 397h0M564 507h0M725 460h0M556 514h0M631 463h0M623 511h0M664 518h0M601 484h0M728 465h0M557 519h0M632 513h0M669 430h0M613 398h0M578 484h0M595 458h0M553 461h0M658 514h0M648 511h0M501 483h0M671 511h0M721 477h0M564 466h0M703 466h0M634 482h0M650 463h0M501 436h0M602 500h0M663 491h0M719 471h0M519 471h0M507 507h0M611 446h0M600 415h0M683 437h0M656 428h0M699 450h0M534 452h0M711 428h0M680 403h0M734 449h0M535 519h0M659 437h0M661 402h0M537 428h0M527 470h0M659 483h0M515 474h0M721 451h0M620 442h0M583 501h0M582 455h0M578 447h0M609 530h0M553 505h0M600 434h0M649 406h0M553 407h0M656 442h0M708 455h0M677 427h0M562 474h0M670 418h0M635 433h0M619 456h0M577 434h0M570 482h0M540 447h0M631 519h0M643 508h0M506 451h0M701 422h0M679 434h0M579 423h0M550 489h0M605 520h0M683 479h0M494 417h0M607 496h0M687 408h0M555 399h0M612 386h0M593 502h0M624 398h0M541 518h0M586 522h0M547 435h0M542 426h0M508 448h0M632 463h0M517 482h0M585 393h0M621 387h0M519 442h0M489 467h0M638 430h0M665 497h0M621 396h0M579 518h0M517 507h0M558 479h0M626 447h0M633 521h0M559 514h0M599 394h0M571 445h0M480 436h0M596 425h0M617 432h0M520 413h0M712 485h0M721 485h0M655 509h0M655 454h0M599 498h0M537 415h0M539 426h0M533 468h0M548 518h0M584 406h0M593 393h0M473 455h0M610 463h0M510 452h0M517 436h0M634 458h0M555 421h0M519 451h0M587 426h0M495 438h0M614 475h0M524 489h0M684 417h0M533 433h0M533 462h0M642 450h0M700 439h0M551 517h0M722 456h0M574 527h0M694 460h0M687 460h0M487 454h0M697 475h0M588 476h0M508 410h0M730 462h0M705 413h0M568 509h0M669 445h0M600 392h0M694 417h0M567 493h0M490 430h0M492 436h0M493 426h0M507 445h0M787 533h0M799 526h0M800 527h0M744 482h0M797 478h0M736 456h0M788 485h0M736 507h0M737 497h0M783 528h0M744 497h0M817 524h0M794 480h0M860 470h0M778 416h0M847 469h0M778 429h0M829 430h0M833 528h0M825 473h0M769 523h0M823 536h0M769 435h0M812 537h0M779 452h0M796 423h0M820 436h0M804 522h0M801 483h0M738 494h0M810 458h0M798 412h0M790 452h0M811 428h0M842 496h0M851 480h0M850 445h0M737 444h0M768 509h0M846 452h0M742 464h0M827 482h0M785 432h0M742 470h0M799 532h0M800 518h0M750 434h0M854 463h0M787 538h0M785 416h0M787 514h0M816 536h0M743 523h0M757 530h0M761 450h0M741 498h0M786 423h0M746 516h0M808 428h0M832 458h0M829 432h0M841 485h0M739 518h0M770 427h0M757 483h0M758 442h0M793 433h0M809 419h0M786 508h0M824 457h0M819 520h0M747 501h0M844 505h0M769 535h0M845 477h0M845 495h0M848 511h0M760 422h0M750 435h0M793 502h0M739 459h0M770 488h0M734 491h0M730 477h0M800 416h0M816 532h0M808 475h0M776 428h0M812 465h0M839 522h0M837 504h0M829 520h0M763 537h0M806 526h0M847 507h0M840 479h0M854 450h0M795 462h0M783 524h0M744 458h0M791 473h0M843 439h0M819 526h0M882 445h0M882 446h0M868 456h0M898 467h0M875 425h0M875 470h0M864 466h0M883 482h0M888 440h0M895 445h0M823 533h0M861 609h0M822 613h0M821 615h0M858 618h0M851 549h0M828 538h0M853 612h0M834 587h0M865 606h0M815 595h0M792 583h0M808 616h0M798 578h0M862 552h0M819 552h0M852 610h0M814 568h0M858 610h0M852 567h0M858 607h0M844 573h0M818 606h0M840 623h0M861 555h0M823 622h0M848 624h0M831 536h0M823 562h0M809 621h0M856 614h0M829 543h0M803 595h0M864 561h0M866 559h0M837 571h0M870 578h0M864 613h0M860 599h0M839 593h0M811 614h0M804 560h0M806 601h0M793 561h0M813 622h0M836 592h0M824 603h0M838 541h0M799 596h0M871 661h0M842 659h0M860 668h0M835 700h0M850 642h0M878 676h0M870 652h0M841 671h0M830 645h0M849 654h0M855 696h0M877 659h0M826 668h0M854 667h0M861 661h0M831 648h0M819 673h0M816 687h0M839 643h0M842 703h0M867 697h0M858 699h0M876 683h0M751 621h0M647 534h0M623 604h0M735 572h0M613 676h0M739 563h0M691 534h0M511 552h0M660 627h0M640 559h0M543 574h0M745 555h0M677 533h0M707 533h0M658 658h0M534 609h0M705 645h0M706 615h0M625 520h0M555 661h0M634 580h0M657 672h0M748 560h0M672 620h0M473 610h0M501 562h0M717 639h0M551 673h0M753 591h0M553 677h0M612 653h0M582 588h0M626 649h0M582 653h0M514 553h0M773 570h0M741 619h0M666 634h0M476 622h0M591 528h0M643 619h0M778 621h0M679 587h0M594 684h0M719 540h0M755 608h0M506 609h0M737 585h0M755 596h0M511 562h0M634 639h0M596 675h0M520 609h0M635 595h0M542 611h0M711 580h0M627 685h0M520 647h0M553 548h0M629 629h0M633 664h0M558 592h0M483 590h0M544 659h0M772 630h0M741 609h0M693 667h0M787 593h0M704 636h0M605 668h0M523 610h0M563 658h0M601 639h0M529 560h0M723 673h0M617 587h0M606 589h0M649 603h0M588 572h0M535 666h0M661 537h0M585 638h0M585 564h0M646 529h0M506 608h0M609 547h0M487 618h0M697 633h0M716 639h0M508 579h0M660 649h0M491 571h0M722 671h0M620 637h0M719 655h0M622 568h0M696 563h0M478 617h0M726 597h0M502 625h0M549 590h0M624 668h0M626 659h0M731 542h0M668 535h0M757 558h0M670 597h0M593 634h0M728 673h0M545 573h0M740 592h0M543 574h0M674 541h0M572 648h0M564 532h0M714 577h0M727 626h0M612 528h0M729 539h0M679 526h0M741 644h0M632 684h0M743 591h0M713 581h0M663 666h0M484 630h0M677 538h0M682 526h0M557 626h0M617 620h0M655 623h0M571 540h0M668 670h0M623 554h0M524 575h0M541 576h0M703 629h0M638 687h0M719 550h0M580 663h0M711 606h0M511 587h0M749 623h0M671 553h0M590 620h0M569 561h0M537 597h0M743 586h0M606 531h0M649 610h0M772 626h0M619 629h0M528 627h0M540 664h0M709 547h0M747 622h0M673 548h0M720 650h0M574 626h0M758 632h0M760 570h0M723 604h0M326 429h0M141 544h0M182 574h0M160 592h0M437 806h0M465 818h0M413 768h0M427 788h0M465 740h0M564 796h0M511 738h0M427 755h0M521 814h0M554 812h0M575 804h0M420 799h0M514 738h0M478 814h0M577 776h0M521 814h0M412 742h0M427 808h0M436 750h0M518 737h0M439 777h0M506 806h0M563 802h0M600 777h0M398 770h0M599 786h0M500 813h0M558 802h0M467 785h0M474 793h0M412 781h0M382 770h0M571 761h0M464 814h0M495 763h0M473 735h0M495 789h0M448 807h0M487 818h0M428 803h0M559 745h0M439 812h0M465 763h0M482 817h0M422 746h0M493 810h0M414 742h0M447 798h0M537 801h0M481 769h0M412 777h0M402 804h0M417 753h0M397 784h0M403 768h0M549 743h0M445 745h0M416 757h0M414 752h0M431 741h0M568 793h0M526 747h0M532 740h0M415 789h0M567 795h0M401 766h0M503 813h0M414 804h0M440 749h0M512 735h0M481 793h0M543 812h0M389 758h0M540 763h0M411 781h0M545 784h0M526 733h0M546 746h0M472 777h0M567 800h0M537 799h0M486 818h0M454 777h0M506 820h0M544 801h0M424 802h0M592 766h0M519 810h0M486 735h0M400 752h0M429 737h0M446 744h0M407 759h0M546 738h0M477 742h0M579 774h0M522 788h0M596 787h0M432 740h0M447 742h0M528 807h0M551 763h0M673 789h0M726 717h0M721 753h0M631 726h0M644 783h0M703 710h0M655 777h0M747 743h0M630 726h0M694 764h0M748 725h0M717 747h0M686 747h0M662 721h0M638 715h0M680 734h0M648 770h0M630 711h0M662 714h0M653 781h0M604 748h0M748 776h0M719 743h0M654 710h0M697 784h0M669 708h0M759 749h0M640 779h0M663 769h0M699 712h0M751 746h0M623 741h0M748 754h0M625 734h0M736 767h0M649 788h0M734 748h0M652 768h0M724 790h0M730 730h0M756 765h0M627 723h0M728 716h0M783 789h0M818 718h0M825 784h0M787 764h0M823 717h0M842 748h0M812 718h0M829 713h0M824 726h0M477 901h0M626 831h0M629 829h0M630 853h0M633 852h0M837 809h0M533 830h0M514 829h0M526 829h0M540 818h0M502 832h0M506 825h0M550 821h0M513 817h0M534 816h0M533 835h0M499 826h0M531 838h0M499 821h0M401 787h0M386 801h0M553 708h0M661 675h0M646 703h0M661 691h0M572 712h0M560 719h0M547 666h0M474 674h0M703 679h0M623 709h0M526 678h0M507 691h0M621 715h0M695 675h0M482 696h0M648 710h0M447 694h0M706 696h0M530 709h0M624 685h0M615 667h0M625 704h0M473 678h0M510 673h0M686 700h0M471 694h0M658 714h0M520 714h0M650 689h0M638 716h0M597 666h0M696 706h0M472 685h0M522 710h0M454 692h0M569 700h0M649 680h0M559 686h0M535 674h0M713 698h0M573 696h0M462 691h0M563 672h0M596 692h0M566 704h0M470 677h0M521 707h0M586 696h0M499 705h0M477 676h0M686 703h0M531 713h0M611 698h0M595 668h0M846 646h0M826 644h0M833 601h0M769 610h0M831 659h0M839 606h0M814 617h0M775 642h0M817 605h0M824 682h0M779 672h0M826 607h0M806 639h0M797 594h0M782 675h0M789 590h0M807 681h0M825 673h0M797 672h0M831 616h0M828 594h0M842 634h0M825 618h0M779 670h0M801 588h0M788 604h0M823 682h0M765 654h0M812 648h0M786 590h0M823 638h0M808 677h0M804 604h0M836 619h0M804 682h0M839 636h0M779 666h0M767 660h0M490 523h0M520 539h0M482 530h0M725 498h0M733 514h0M715 515h0M747 470h0M709 516h0M728 539h0M727 482h0M706 511h0M752 478h0M746 525h0M745 482h0M744 474h0M751 482h0M740 521h0M754 500h0M709 523h0M727 541h0M709 516h0M729 500h0M766 725h0M777 730h0M794 709h0M803 715h0M789 727h0M807 694h0M808 703h0M752 716h0M758 684h0M768 730h0M750 715h0M761 692h0M778 708h0" stroke="rgb(34,168,132)" stroke-width="5.4" stroke-linecap="round" fill="none"/><path transform="scale(.5)" d="M607 245h0M532 192h0M631 197h0M535 207h0M592 149h0M567 159h0M616 177h0M549 225h0M581 146h0M618 158h0M571 152h0M580 229h0M655 202h0M570 189h0M570 158h0M621 225h0M556 153h0M639 229h0M607 186h0M561 222h0M556 173h0M578 241h0M603 168h0M578 162h0M587 234h0M617 232h0M595 147h0M649 154h0M545 187h0M542 188h0M586 148h0M538 176h0M550 183h0M576 147h0M582 155h0M583 213h0M599 238h0M621 179h0M553 213h0M656 188h0M547 165h0M587 151h0M551 225h0M545 168h0M559 150h0M657 212h0M589 144h0M557 226h0M569 155h0M620 206h0M617 241h0M665 197h0M548 209h0M554 158h0M653 168h0M662 213h0M590 142h0M606 147h0M601 220h0M641 215h0M646 215h0M656 167h0M545 164h0M648 210h0M638 227h0M620 197h0M550 221h0M582 215h0M541 167h0M587 144h0M626 230h0M647 181h0M620 223h0M549 163h0M665 194h0M545 197h0M580 155h0M552 204h0M625 152h0M644 201h0M599 206h0M536 193h0M643 210h0M623 197h0M563 223h0M579 184h0M590 192h0M618 151h0M615 149h0M547 204h0M637 150h0M558 224h0M646 176h0M561 154h0M642 177h0M602 143h0M716 224h0M728 226h0M693 223h0M717 233h0M723 239h0M682 234h0M687 226h0M720 244h0M703 235h0M730 230h0M709 229h0M673 234h0M678 300h0M695 257h0M631 249h0M687 314h0M707 262h0M574 272h0M694 252h0M593 296h0M573 273h0M647 331h0M645 302h0M691 256h0M611 251h0M617 333h0M636 256h0M642 235h0M618 259h0M632 334h0M636 294h0M687 262h0M670 322h0M691 254h0M690 255h0M603 292h0M690 283h0M585 247h0M578 274h0M678 295h0M606 316h0M580 305h0M716 292h0M651 277h0M697 263h0M571 312h0M606 248h0M601 274h0M686 246h0M578 258h0M579 268h0M687 287h0M626 300h0M701 275h0M654 337h0M649 251h0M597 265h0M665 337h0M664 241h0M588 259h0M695 260h0M572 301h0M613 241h0M561 276h0M652 297h0M710 310h0M594 247h0M637 309h0M660 303h0M637 299h0M624 299h0M628 234h0M612 240h0M691 318h0M628 294h0M609 279h0M604 327h0M693 315h0M636 233h0M619 243h0M688 301h0M640 338h0M684 252h0M716 291h0M607 259h0M704 316h0M689 254h0M653 332h0M689 321h0M576 253h0M618 242h0M569 264h0M597 314h0M681 317h0M639 254h0M584 297h0M722 276h0M650 236h0M565 277h0M628 258h0M578 305h0M682 286h0M612 264h0M693 289h0M581 304h0M582 322h0M650 258h0M580 296h0M577 315h0M690 324h0M680 300h0M695 246h0M575 259h0M699 268h0M677 326h0M576 288h0M667 249h0M592 256h0M654 325h0M601 298h0M684 285h0M578 261h0M595 268h0M633 303h0M703 321h0M696 310h0M590 317h0M624 308h0M705 321h0M636 246h0M639 261h0M536 330h0M504 287h0M519 346h0M494 300h0M520 309h0M517 294h0M536 292h0M516 331h0M535 282h0M518 339h0M487 329h0M546 328h0M504 334h0M545 293h0M506 297h0M549 330h0M486 298h0M554 321h0M531 325h0M557 326h0M492 338h0M546 293h0M503 283h0M546 328h0M489 328h0M477 301h0M522 283h0M535 300h0M508 325h0M436 357h0M421 368h0M455 346h0M444 330h0M649 355h0M559 390h0M517 342h0M519 391h0M654 395h0M513 353h0M575 342h0M550 331h0M540 389h0M684 341h0M727 365h0M524 335h0M500 364h0M660 386h0M695 386h0M709 350h0M508 350h0M693 334h0M549 396h0M702 370h0M717 359h0M674 348h0M522 381h0M727 353h0M717 360h0M500 370h0M483 373h0M646 369h0M620 351h0M564 356h0M535 331h0M620 398h0M704 378h0M532 329h0M606 376h0M553 367h0M710 360h0M653 390h0M492 355h0M542 384h0M647 395h0M497 338h0M479 364h0M681 368h0M524 350h0M692 339h0M636 395h0M672 350h0M537 350h0M574 381h0M508 382h0M657 391h0M502 361h0M666 358h0M651 341h0M707 382h0M514 372h0M606 396h0M510 345h0M657 396h0M497 376h0M497 364h0M477 352h0M594 345h0M554 365h0M590 324h0M587 342h0M720 354h0M669 378h0M668 369h0M549 338h0M520 345h0M713 375h0M535 349h0M656 335h0M519 377h0M645 369h0M617 347h0M499 380h0M718 374h0M688 382h0M514 384h0M715 360h0M707 346h0M693 367h0M616 365h0M598 387h0M506 381h0M700 362h0M651 327h0M646 373h0M589 350h0M691 372h0M505 375h0M605 352h0M537 388h0M715 357h0M703 337h0M609 345h0M764 361h0M751 393h0M697 369h0M734 334h0M770 357h0M763 397h0M739 387h0M720 380h0M707 359h0M772 363h0M752 388h0M697 373h0M737 394h0M716 412h0M763 389h0M709 402h0M715 345h0M698 384h0M749 367h0M715 353h0M765 381h0M734 395h0M771 384h0M758 356h0M769 395h0M711 367h0M767 386h0M753 368h0M766 371h0M730 413h0M734 394h0M761 391h0M700 392h0M756 355h0M561 500h0M602 396h0M528 480h0M587 488h0M709 488h0M560 487h0M649 501h0M655 488h0M655 408h0M674 411h0M728 478h0M516 468h0M477 461h0M679 494h0M596 486h0M710 492h0M589 431h0M489 489h0M546 506h0M718 469h0M562 391h0M595 414h0M715 472h0M571 438h0M681 500h0M617 404h0M527 399h0M526 516h0M647 451h0M571 510h0M563 430h0M481 479h0M726 436h0M725 454h0M535 410h0M656 444h0M526 406h0M547 505h0M698 417h0M500 441h0M619 513h0M544 520h0M716 442h0M592 508h0M593 415h0M559 415h0M535 405h0M654 415h0M608 492h0M605 499h0M558 440h0M676 497h0M648 426h0M724 438h0M518 477h0M530 499h0M629 394h0M630 514h0M610 412h0M576 399h0M567 474h0M653 515h0M536 422h0M727 432h0M692 419h0M616 406h0M714 417h0M613 419h0M616 411h0M558 480h0M501 434h0M516 442h0M539 476h0M649 422h0M572 487h0M583 427h0M488 468h0M665 498h0M567 491h0M698 485h0M579 439h0M655 404h0M571 526h0M505 427h0M650 490h0M644 403h0M614 518h0M664 418h0M598 482h0M479 474h0M616 523h0M682 423h0M524 440h0M700 432h0M652 505h0M646 477h0M683 424h0M594 412h0M690 438h0M627 438h0M725 441h0M530 437h0M655 409h0M532 502h0M545 441h0M493 420h0M612 531h0M670 459h0M708 449h0M648 399h0M729 470h0M573 433h0M575 491h0M512 420h0M670 431h0M665 492h0M554 402h0M575 404h0M644 403h0M575 400h0M576 472h0M559 406h0M619 515h0M576 441h0M559 399h0M607 524h0M614 411h0M632 505h0M695 410h0M596 432h0M626 526h0M609 496h0M539 516h0M680 482h0M630 511h0M564 454h0M663 454h0M541 408h0M642 506h0M580 493h0M520 462h0M629 492h0M707 456h0M671 453h0M603 516h0M674 517h0M625 477h0M845 512h0M806 448h0M821 489h0M739 446h0M779 447h0M754 462h0M757 428h0M725 486h0M737 458h0M776 439h0M815 523h0M764 498h0M860 494h0M777 423h0M801 537h0M842 478h0M824 506h0M782 521h0M802 448h0M858 501h0M823 437h0M740 481h0M783 416h0M806 540h0M844 477h0M816 420h0M824 437h0M747 451h0M804 479h0M816 528h0M742 489h0M757 483h0M798 475h0M812 459h0M777 427h0M848 474h0M864 471h0M821 488h0M733 450h0M750 505h0M800 518h0M809 496h0M736 504h0M831 440h0M758 502h0M814 454h0M848 445h0M734 453h0M749 523h0M761 524h0M726 486h0M756 510h0M784 471h0M755 519h0M727 466h0M815 449h0M729 495h0M811 517h0M847 474h0M834 444h0M742 467h0M778 520h0M740 486h0M850 487h0M765 450h0M799 446h0M845 436h0M798 517h0M824 534h0M831 493h0M756 433h0M837 461h0M842 521h0M762 426h0M852 442h0M813 428h0M791 527h0M828 446h0M770 468h0M727 467h0M829 438h0M770 429h0M817 522h0M857 470h0M854 472h0M730 487h0M772 424h0M733 506h0M760 506h0M832 425h0M731 496h0M801 526h0M800 533h0M740 516h0M796 531h0M867 448h0M892 470h0M895 469h0M869 460h0M887 466h0M894 433h0M863 465h0M881 441h0M892 492h0M890 456h0M904 445h0M881 489h0M874 493h0M903 453h0M902 457h0M879 458h0M887 447h0M900 450h0M887 494h0M878 493h0M902 474h0M883 453h0M904 464h0M883 422h0M896 470h0M874 435h0M875 447h0M887 491h0M889 469h0M895 478h0M841 622h0M793 592h0M807 594h0M808 608h0M808 589h0M797 599h0M828 531h0M851 616h0M848 603h0M832 533h0M792 586h0M799 567h0M846 623h0M844 582h0M815 540h0M824 628h0M804 548h0M868 598h0M797 593h0M816 585h0M815 547h0M804 589h0M830 597h0M864 556h0M794 570h0M827 581h0M822 615h0M819 667h0M872 649h0M868 694h0M855 643h0M825 650h0M832 654h0M882 670h0M870 688h0M821 684h0M874 656h0M867 688h0M874 676h0M868 693h0M823 650h0M866 694h0M863 645h0M876 681h0M822 650h0M830 698h0M866 688h0M872 650h0M821 664h0M822 672h0M870 689h0M872 666h0M608 551h0M577 649h0M597 684h0M748 545h0M661 639h0M721 648h0M735 597h0M603 587h0M691 567h0M548 640h0M704 643h0M715 620h0M702 671h0M591 619h0M749 618h0M678 649h0M637 596h0M740 618h0M718 642h0M504 590h0M645 597h0M732 591h0M605 687h0M749 636h0M673 597h0M625 637h0M747 631h0M693 605h0M728 561h0M600 534h0M567 579h0M536 639h0M669 605h0M493 625h0M699 637h0M646 547h0M536 613h0M581 668h0M674 599h0M569 632h0M708 533h0M554 636h0M529 564h0M710 607h0M538 593h0M521 584h0M576 571h0M741 623h0M581 554h0M717 635h0M709 572h0M782 627h0M659 547h0M512 637h0M780 604h0M678 664h0M655 532h0M624 602h0M567 558h0M661 684h0M651 640h0M767 616h0M617 556h0M636 525h0M702 553h0M601 640h0M665 552h0M695 538h0M584 581h0M706 616h0M642 594h0M580 620h0M566 656h0M576 677h0M583 674h0M601 630h0M663 524h0M655 677h0M514 592h0M792 617h0M720 575h0M497 568h0M691 572h0M579 610h0M736 631h0M756 591h0M698 586h0M566 601h0M596 534h0M553 540h0M645 558h0M626 631h0M691 567h0M715 643h0M739 663h0M562 583h0M541 552h0M618 668h0M505 648h0M677 635h0M646 581h0M663 644h0M534 587h0M633 591h0M637 556h0M767 642h0M793 602h0M688 594h0M498 630h0M744 555h0M637 564h0M579 538h0M648 585h0M574 613h0M503 591h0M609 687h0M714 569h0M515 563h0M566 548h0M642 672h0M649 658h0M218 542h0M214 593h0M566 780h0M406 807h0M501 755h0M580 803h0M381 783h0M586 797h0M412 747h0M399 783h0M441 765h0M388 768h0M516 802h0M421 747h0M459 810h0M415 751h0M429 748h0M568 766h0M428 743h0M471 751h0M412 796h0M485 803h0M487 808h0M463 732h0M547 803h0M486 779h0M388 765h0M575 776h0M517 797h0M417 797h0M459 735h0M384 767h0M392 754h0M505 750h0M571 749h0M409 767h0M434 777h0M442 803h0M507 789h0M512 795h0M588 784h0M572 799h0M382 788h0M514 813h0M410 807h0M486 817h0M572 763h0M440 735h0M404 749h0M432 773h0M569 783h0M439 781h0M474 747h0M526 806h0M415 752h0M591 791h0M514 737h0M486 732h0M568 743h0M449 740h0M460 762h0M521 774h0M407 788h0M484 809h0M388 790h0M585 790h0M398 751h0M573 750h0M517 782h0M479 770h0M377 771h0M526 739h0M520 737h0M435 742h0M506 782h0M546 815h0M439 735h0M395 768h0M592 768h0M559 752h0M410 806h0M573 771h0M536 804h0M549 752h0M583 794h0M493 792h0M419 763h0M489 798h0M669 752h0M641 736h0M723 773h0M685 755h0M654 725h0M634 766h0M701 782h0M686 701h0M716 779h0M639 780h0M631 763h0M690 770h0M833 795h0M768 767h0M540 814h0M552 828h0M494 831h0M548 839h0M526 843h0M524 810h0M519 818h0M555 818h0M502 813h0M557 825h0M373 788h0M544 717h0M693 682h0M547 718h0M466 692h0M658 685h0M574 683h0M703 686h0M684 697h0M672 691h0M575 678h0M560 708h0M499 694h0M560 703h0M495 709h0M538 716h0M530 674h0M501 707h0M621 670h0M507 683h0M568 717h0M572 668h0M466 699h0M656 673h0M691 685h0M584 667h0M672 712h0M449 692h0M613 708h0M561 672h0M532 691h0M563 702h0M565 711h0M555 687h0M611 697h0M685 684h0M537 714h0M566 690h0M694 676h0M820 630h0M798 591h0M800 593h0M790 589h0M810 585h0M810 599h0M763 654h0M787 657h0M771 660h0M829 609h0M845 637h0M817 649h0M846 651h0M806 673h0M791 595h0M815 675h0M827 664h0M774 653h0M785 671h0M789 588h0M774 598h0M830 638h0M787 633h0M828 628h0M801 668h0M727 504h0M736 501h0M744 494h0M734 490h0M756 524h0M715 527h0M721 495h0M716 486h0M719 476h0M710 519h0M749 479h0M736 472h0M734 532h0M728 498h0M713 523h0M798 685h0M799 693h0M750 713h0" stroke="rgb(51,180,122)" stroke-width="5.4" stroke-linecap="round" fill="none"/><path transform="scale(.5)" d="M612 154h0M656 221h0M540 192h0M597 236h0M657 178h0M543 180h0M644 196h0M543 186h0M542 211h0M547 179h0M622 235h0M570 229h0M580 240h0M568 225h0M640 166h0M626 151h0M645 196h0M557 167h0M660 167h0M571 155h0M561 161h0M656 172h0M623 227h0M640 210h0M624 238h0M648 167h0M600 144h0M585 166h0M643 164h0M554 165h0M621 156h0M586 198h0M646 166h0M574 229h0M558 168h0M588 144h0M596 225h0M533 184h0M636 152h0M627 152h0M533 197h0M540 215h0M601 240h0M620 190h0M629 168h0M625 217h0M558 205h0M647 153h0M536 202h0M610 156h0M556 172h0M640 173h0M545 187h0M661 180h0M641 150h0M539 175h0M584 238h0M619 160h0M667 199h0M628 230h0M543 205h0M532 190h0M594 142h0M616 154h0M657 168h0M555 217h0M634 225h0M624 237h0M596 157h0M596 141h0M654 197h0M552 159h0M533 189h0M546 167h0M591 234h0M537 171h0M545 167h0M575 233h0M642 221h0M602 211h0M602 140h0M613 243h0M571 228h0M641 154h0M548 172h0M557 157h0M598 231h0M687 239h0M682 226h0M710 224h0M717 237h0M718 232h0M701 225h0M689 237h0M732 228h0M672 236h0M725 224h0M713 224h0M712 244h0M724 237h0M718 242h0M677 237h0M658 235h0M613 329h0M631 261h0M649 238h0M681 302h0M694 265h0M720 280h0M616 311h0M661 331h0M635 327h0M650 240h0M701 259h0M592 286h0M706 300h0M647 335h0M611 247h0M576 302h0M707 273h0M688 324h0M688 256h0M593 310h0M677 249h0M637 241h0M590 299h0M603 246h0M685 310h0M676 300h0M595 280h0M637 305h0M689 248h0M629 329h0M601 285h0M639 332h0M586 317h0M586 313h0M569 284h0M570 289h0M584 306h0M653 241h0M618 278h0M710 281h0M635 272h0M654 327h0M659 338h0M632 243h0M570 290h0M665 257h0M595 258h0M698 324h0M647 287h0M574 261h0M691 248h0M707 265h0M707 311h0M664 234h0M682 245h0M725 278h0M721 271h0M711 295h0M705 290h0M597 246h0M671 331h0M590 255h0M565 271h0M569 307h0M703 266h0M602 315h0M686 275h0M686 249h0M691 244h0M638 242h0M604 332h0M690 320h0M634 261h0M718 289h0M607 309h0M618 315h0M644 235h0M696 302h0M619 248h0M648 337h0M644 247h0M623 311h0M608 332h0M633 299h0M576 275h0M631 241h0M707 296h0M623 324h0M595 261h0M688 326h0M707 253h0M666 236h0M710 291h0M631 315h0M649 328h0M726 287h0M586 255h0M622 238h0M643 239h0M596 256h0M620 292h0M582 249h0M584 301h0M680 324h0M687 311h0M650 337h0M713 275h0M587 290h0M703 280h0M487 289h0M519 345h0M480 330h0M491 301h0M492 303h0M487 298h0M530 281h0M558 303h0M522 332h0M506 304h0M497 293h0M507 335h0M478 317h0M538 288h0M483 327h0M478 328h0M481 325h0M479 314h0M553 311h0M541 305h0M496 342h0M531 284h0M537 309h0M530 285h0M543 291h0M555 319h0M506 288h0M539 289h0M563 306h0M526 280h0M444 360h0M455 374h0M441 334h0M418 374h0M434 384h0M506 358h0M684 387h0M501 363h0M510 376h0M712 371h0M502 356h0M633 329h0M533 393h0M562 379h0M524 375h0M717 364h0M645 347h0M495 365h0M614 389h0M688 338h0M588 327h0M570 331h0M621 348h0M535 351h0M709 351h0M646 338h0M633 394h0M710 364h0M616 366h0M533 390h0M685 341h0M644 368h0M644 397h0M619 369h0M523 343h0M568 327h0M548 392h0M678 335h0M681 384h0M648 395h0M504 386h0M506 340h0M475 358h0M487 360h0M496 345h0M642 378h0M700 384h0M483 352h0M716 366h0M643 338h0M707 379h0M700 380h0M524 357h0M618 378h0M472 355h0M492 380h0M574 325h0M520 381h0M535 342h0M664 344h0M694 342h0M535 368h0M710 363h0M711 372h0M680 335h0M499 351h0M634 363h0M497 369h0M694 339h0M495 375h0M648 356h0M650 337h0M577 351h0M735 407h0M744 339h0M733 350h0M705 349h0M711 394h0M707 389h0M768 380h0M736 343h0M739 341h0M697 373h0M754 350h0M765 349h0M721 347h0M773 392h0M771 356h0M713 380h0M748 341h0M714 342h0M715 405h0M709 391h0M751 355h0M723 409h0M714 380h0M771 394h0M736 406h0M756 412h0M772 372h0M728 349h0M755 351h0M749 338h0M720 361h0M739 394h0M700 383h0M770 375h0M715 348h0M672 456h0M512 478h0M647 429h0M478 450h0M645 419h0M587 510h0M579 413h0M604 389h0M584 484h0M520 458h0M582 488h0M554 497h0M536 475h0M677 464h0M664 401h0M487 488h0M705 425h0M701 419h0M653 411h0M501 478h0M581 524h0M501 491h0M666 427h0M640 394h0M508 460h0M697 414h0M682 426h0M722 445h0M675 402h0M519 411h0M620 411h0M592 415h0M706 495h0M586 436h0M639 400h0M625 524h0M581 427h0M644 488h0M598 504h0M511 506h0M679 492h0M519 492h0M477 451h0M596 504h0M586 459h0M661 427h0M579 510h0M565 440h0M561 427h0M629 401h0M679 424h0M700 442h0M618 520h0M710 456h0M666 404h0M510 423h0M676 400h0M713 496h0M497 458h0M718 445h0M658 521h0M605 506h0M669 400h0M716 447h0M624 395h0M675 441h0M665 425h0M672 434h0M607 526h0M509 433h0M658 499h0M535 514h0M538 449h0M617 447h0M720 469h0M647 428h0M477 464h0M716 479h0M679 516h0M595 404h0M592 422h0M542 456h0M560 479h0M485 432h0M703 463h0M580 408h0M594 491h0M514 470h0M698 479h0M690 416h0M590 404h0M789 503h0M822 419h0M740 503h0M840 468h0M797 508h0M850 510h0M763 438h0M841 438h0M797 450h0M827 435h0M818 436h0M837 488h0M746 502h0M803 448h0M770 509h0M761 474h0M809 421h0M832 509h0M845 469h0M821 521h0M776 415h0M779 421h0M792 541h0M848 514h0M744 511h0M851 498h0M730 465h0M791 418h0M754 440h0M852 454h0M827 422h0M825 494h0M741 460h0M838 512h0M759 438h0M738 516h0M756 440h0M844 454h0M744 514h0M790 430h0M757 534h0M736 480h0M780 424h0M855 486h0M860 473h0M788 499h0M787 537h0M776 521h0M816 441h0M739 466h0M799 425h0M848 489h0M815 515h0M745 441h0M813 429h0M752 510h0M821 472h0M792 414h0M834 523h0M799 498h0M785 451h0M821 471h0M832 448h0M820 435h0M736 484h0M857 466h0M783 539h0M805 528h0M796 533h0M814 540h0M851 443h0M751 507h0M790 419h0M854 512h0M776 523h0M745 498h0M755 460h0M857 494h0M738 500h0M798 477h0M792 531h0M772 433h0M813 449h0M739 501h0M820 463h0M837 450h0M834 499h0M822 456h0M728 471h0M738 497h0M777 531h0M739 447h0M845 443h0M853 473h0M828 485h0M810 442h0M841 526h0M743 473h0M784 450h0M844 503h0M835 490h0M898 482h0M873 426h0M900 487h0M865 449h0M887 471h0M884 481h0M895 431h0M895 462h0M876 492h0M864 454h0M885 421h0M870 434h0M888 453h0M872 467h0M899 440h0M879 489h0M824 623h0M837 544h0M797 573h0M843 536h0M862 546h0M837 618h0M808 538h0M800 592h0M836 626h0M868 566h0M790 567h0M799 588h0M828 619h0M869 580h0M805 550h0M804 600h0M798 609h0M795 589h0M837 622h0M800 592h0M852 563h0M847 641h0M867 653h0M866 642h0M869 641h0M873 675h0M843 663h0M852 639h0M871 690h0M862 680h0M874 646h0M855 651h0M869 644h0M831 681h0M845 703h0M827 691h0M829 689h0M825 689h0M855 636h0M855 680h0M819 670h0M846 699h0M815 681h0M527 618h0M541 554h0M671 675h0M775 568h0M645 601h0M595 605h0M617 559h0M767 613h0M762 558h0M747 660h0M564 530h0M661 522h0M533 543h0M674 679h0M720 659h0M654 618h0M644 617h0M594 579h0M621 654h0M661 613h0M647 582h0M628 656h0M761 581h0M625 650h0M553 652h0M567 542h0M614 609h0M541 579h0M525 541h0M697 589h0M674 541h0M731 670h0M487 582h0M612 642h0M754 652h0M530 557h0M702 526h0M736 551h0M559 556h0M564 536h0M753 580h0M682 588h0M776 568h0M784 615h0M697 660h0M665 631h0M774 568h0M691 575h0M478 611h0M532 538h0M664 641h0M604 648h0M729 546h0M634 561h0M737 652h0M660 546h0M580 671h0M718 534h0M778 624h0M783 585h0M642 637h0M570 530h0M613 621h0M494 608h0M650 627h0M570 600h0M606 524h0M685 614h0M683 675h0M551 609h0M791 601h0M610 540h0M644 626h0M666 685h0M580 628h0M539 544h0M733 552h0M734 559h0M676 640h0M667 685h0M408 760h0M573 768h0M524 781h0M511 810h0M393 753h0M574 782h0M460 738h0M507 819h0M548 753h0M498 800h0M523 745h0M508 731h0M587 777h0M406 796h0M449 738h0M395 785h0M448 757h0M549 801h0M531 801h0M407 796h0M527 740h0M583 756h0M591 766h0M432 766h0M427 814h0M554 788h0M501 767h0M438 805h0M392 767h0M558 757h0M579 754h0M515 783h0M419 798h0M438 814h0M442 813h0M399 798h0M545 762h0M461 756h0M536 806h0M593 765h0M392 787h0M395 787h0M416 802h0M581 772h0M537 742h0M499 776h0M572 763h0M452 810h0M500 805h0M494 820h0M493 821h0M419 749h0M580 795h0M493 742h0M592 777h0M406 762h0M454 743h0M594 782h0M531 772h0M508 742h0M420 765h0M575 752h0M574 752h0M509 772h0M418 747h0M547 750h0M496 754h0M439 815h0M492 810h0M509 815h0M405 750h0M455 741h0M396 759h0M401 776h0M452 743h0M446 747h0M467 735h0M492 794h0M531 815h0M562 811h0M440 810h0M524 796h0M470 736h0M584 776h0M753 769h0M665 770h0M741 740h0M702 709h0M719 774h0M732 753h0M671 778h0M645 729h0M695 705h0M651 765h0M706 769h0M669 749h0M606 753h0M641 731h0M694 791h0M694 788h0M624 750h0M498 820h0M539 841h0M505 823h0M504 839h0M533 808h0M467 693h0M478 707h0M625 712h0M620 687h0M593 706h0M678 680h0M542 712h0M584 679h0M715 695h0M674 678h0M508 673h0M609 714h0M481 694h0M578 714h0M501 700h0M500 710h0M842 627h0M835 668h0M786 673h0M834 652h0M800 602h0M808 680h0M811 679h0M795 605h0M843 616h0M768 617h0M827 615h0M810 662h0M776 670h0M794 683h0M785 594h0M847 643h0M777 667h0M781 611h0M476 517h0M733 499h0M724 521h0M747 514h0M705 509h0M753 506h0M710 494h0M744 492h0M744 536h0M735 518h0M790 716h0M804 696h0M755 683h0M782 725h0" stroke="rgb(68,191,112)" stroke-width="5.4" stroke-linecap="round" fill="none"/><path transform="scale(.5)" d="M629 202h0M627 143h0M646 227h0M623 231h0M635 163h0M564 237h0M623 186h0M625 237h0M579 186h0M650 189h0M604 200h0M594 237h0M650 200h0M595 154h0M612 140h0M649 203h0M577 173h0M614 229h0M645 169h0M566 204h0M632 222h0M631 157h0M598 236h0M541 203h0M635 159h0M650 227h0M650 180h0M560 173h0M556 226h0M533 198h0M653 202h0M608 234h0M638 224h0M651 193h0M584 143h0M552 228h0M572 208h0M592 139h0M542 197h0M616 235h0M535 182h0M550 206h0M620 180h0M540 194h0M592 238h0M542 163h0M573 208h0M568 199h0M564 234h0M666 189h0M635 232h0M660 174h0M587 152h0M581 206h0M615 148h0M534 207h0M647 210h0M662 200h0M609 144h0M632 149h0M555 166h0M549 197h0M605 216h0M575 227h0M593 214h0M591 223h0M551 204h0M624 204h0M625 144h0M563 208h0M655 163h0M608 237h0M544 204h0M622 237h0M582 232h0M564 147h0M705 241h0M698 247h0M732 237h0M716 242h0M703 225h0M699 241h0M693 231h0M728 232h0M672 231h0M674 238h0M672 235h0M698 223h0M676 227h0M723 224h0M687 295h0M666 327h0M717 292h0M697 254h0M591 317h0M623 314h0M631 332h0M598 304h0M664 294h0M686 328h0M574 267h0M612 328h0M580 296h0M600 327h0M589 325h0M663 324h0M679 270h0M590 315h0M599 254h0M580 317h0M684 247h0M606 330h0M611 302h0M668 264h0M703 278h0M658 330h0M711 286h0M671 334h0M695 251h0M684 243h0M653 234h0M614 256h0M675 329h0M591 281h0M575 279h0M617 243h0M602 265h0M566 292h0M624 336h0M667 279h0M578 294h0M570 286h0M625 291h0M611 236h0M707 275h0M677 249h0M702 302h0M712 300h0M646 240h0M704 254h0M614 244h0M610 323h0M619 237h0M686 252h0M687 268h0M618 295h0M641 235h0M719 291h0M688 310h0M662 239h0M672 332h0M571 311h0M600 239h0M592 268h0M675 320h0M645 339h0M606 324h0M606 331h0M709 289h0M613 238h0M612 307h0M574 257h0M676 238h0M696 324h0M667 300h0M625 296h0M636 318h0M628 244h0M597 249h0M696 327h0M637 328h0M584 264h0M541 296h0M477 308h0M530 285h0M528 338h0M478 316h0M516 332h0M491 325h0M509 340h0M533 294h0M534 320h0M528 301h0M488 331h0M514 344h0M552 296h0M500 298h0M549 293h0M513 301h0M477 301h0M497 334h0M479 298h0M504 292h0M521 339h0M497 292h0M494 310h0M511 280h0M515 332h0M484 334h0M531 311h0M549 334h0M542 323h0M542 336h0M534 293h0M548 333h0M559 296h0M526 317h0M490 314h0M544 292h0M504 329h0M503 317h0M484 310h0M488 331h0M553 322h0M502 298h0M451 334h0M460 337h0M626 393h0M570 344h0M632 333h0M510 343h0M591 348h0M692 373h0M582 361h0M625 323h0M635 380h0M532 380h0M656 395h0M714 357h0M507 338h0M726 360h0M707 361h0M587 366h0M499 351h0M680 355h0M494 356h0M488 347h0M621 399h0M493 349h0M638 343h0M638 364h0M594 332h0M654 339h0M609 321h0M524 387h0M500 364h0M715 367h0M671 380h0M592 326h0M723 348h0M636 374h0M657 340h0M585 322h0M628 355h0M665 335h0M510 340h0M572 369h0M633 344h0M575 335h0M580 393h0M681 339h0M543 390h0M520 355h0M539 394h0M681 335h0M664 390h0M613 375h0M539 393h0M600 328h0M565 358h0M528 386h0M576 391h0M510 379h0M574 381h0M491 349h0M523 339h0M697 381h0M517 387h0M530 334h0M654 341h0M531 378h0M537 340h0M774 387h0M749 406h0M743 341h0M720 411h0M708 397h0M717 411h0M749 385h0M775 373h0M759 345h0M703 380h0M759 368h0M714 352h0M760 344h0M768 378h0M734 334h0M724 352h0M761 364h0M729 347h0M719 384h0M716 401h0M710 368h0M698 373h0M740 344h0M772 380h0M739 351h0M760 381h0M549 501h0M628 448h0M665 438h0M551 485h0M718 433h0M609 401h0M504 489h0M671 515h0M642 401h0M668 420h0M527 469h0M590 392h0M503 497h0M694 463h0M622 390h0M582 445h0M715 486h0M629 468h0M634 407h0M701 495h0M526 413h0M711 468h0M691 513h0M527 494h0M475 471h0M512 427h0M526 409h0M596 423h0M655 509h0M629 512h0M494 460h0M725 450h0M549 449h0M703 475h0M706 432h0M569 397h0M633 444h0M661 420h0M516 465h0M533 506h0M679 502h0M561 416h0M653 440h0M581 520h0M663 474h0M643 504h0M504 435h0M627 484h0M538 463h0M597 385h0M610 411h0M813 424h0M732 480h0M732 500h0M789 420h0M766 448h0M857 494h0M856 501h0M747 429h0M801 535h0M731 477h0M786 416h0M771 531h0M754 517h0M762 527h0M840 500h0M831 521h0M754 430h0M840 449h0M794 422h0M854 464h0M780 462h0M835 529h0M776 501h0M767 527h0M733 471h0M798 422h0M849 461h0M759 422h0M735 475h0M833 505h0M821 445h0M770 529h0M848 485h0M829 432h0M842 447h0M846 473h0M786 525h0M843 517h0M750 509h0M836 445h0M811 510h0M848 473h0M781 478h0M765 464h0M819 538h0M750 518h0M860 488h0M767 526h0M862 490h0M728 461h0M748 524h0M799 541h0M827 514h0M756 447h0M825 420h0M789 419h0M737 480h0M893 474h0M902 445h0M887 496h0M884 468h0M887 427h0M864 467h0M879 498h0M870 441h0M878 429h0M890 453h0M899 475h0M895 439h0M871 484h0M875 425h0M869 450h0M889 488h0M898 490h0M882 478h0M876 425h0M880 424h0M865 460h0M899 457h0M884 441h0M866 472h0M874 572h0M826 596h0M844 589h0M852 577h0M797 550h0M857 551h0M825 543h0M789 579h0M854 618h0M870 600h0M798 560h0M852 550h0M844 595h0M836 629h0M872 597h0M824 619h0M830 678h0M876 661h0M818 651h0M860 645h0M833 696h0M838 642h0M871 683h0M843 697h0M881 670h0M751 624h0M774 594h0M708 591h0M703 635h0M548 618h0M693 621h0M700 584h0M746 561h0M742 580h0M705 625h0M794 605h0M704 664h0M751 598h0M689 681h0M632 669h0M702 664h0M564 576h0M714 550h0M652 604h0M519 590h0M629 596h0M567 623h0M660 529h0M758 621h0M571 532h0M584 597h0M548 539h0M684 524h0M589 631h0M647 676h0M706 546h0M691 627h0M681 576h0M550 621h0M601 674h0M669 685h0M711 569h0M506 627h0M528 555h0M558 570h0M777 627h0M782 597h0M206 529h0M588 788h0M504 816h0M391 784h0M472 793h0M540 752h0M449 796h0M393 786h0M403 791h0M510 798h0M535 813h0M421 751h0M563 793h0M433 781h0M547 746h0M385 795h0M566 793h0M385 790h0M466 810h0M568 787h0M517 741h0M461 739h0M450 733h0M377 775h0M418 810h0M396 803h0M434 736h0M490 821h0M453 799h0M386 788h0M587 759h0M388 766h0M458 745h0M586 759h0M442 817h0M569 801h0M551 781h0M486 821h0M418 742h0M429 815h0M382 781h0M406 751h0M463 738h0M492 770h0M554 804h0M460 820h0M509 814h0M419 748h0M555 798h0M534 794h0M460 809h0M430 810h0M704 731h0M653 780h0M701 767h0M628 721h0M629 758h0M710 794h0M634 722h0M523 846h0M494 826h0M611 669h0M668 709h0M710 688h0M723 688h0M622 672h0M654 710h0M558 705h0M480 688h0M836 653h0M821 626h0M810 630h0M805 608h0M798 670h0M725 480h0M725 501h0M728 504h0M731 514h0M722 473h0M745 534h0" stroke="rgb(95,200,96)" stroke-width="5.4" stroke-linecap="round" fill="none"/><path transform="scale(.5)" d="M570 144h0M598 149h0M549 162h0M533 196h0M630 143h0M560 201h0M619 193h0M606 189h0M562 155h0M647 225h0M605 227h0M623 159h0M570 235h0M655 185h0M590 148h0M553 152h0M549 221h0M580 147h0M622 242h0M622 141h0M650 198h0M635 201h0M626 145h0M589 143h0M599 190h0M536 187h0M545 173h0M631 186h0M620 202h0M541 208h0M635 146h0M549 175h0M634 159h0M547 186h0M625 191h0M658 206h0M573 209h0M601 243h0M640 224h0M581 176h0M624 161h0M652 169h0M656 204h0M537 179h0M649 175h0M569 152h0M648 173h0M637 224h0M680 234h0M722 245h0M688 243h0M686 242h0M718 246h0M683 228h0M692 236h0M687 242h0M676 230h0M706 221h0M715 225h0M710 244h0M715 234h0M670 323h0M637 252h0M582 299h0M693 246h0M587 247h0M682 254h0M680 281h0M635 323h0M667 337h0M700 299h0M636 246h0M624 280h0M704 287h0M601 241h0M725 280h0M704 306h0M677 251h0M582 253h0M598 241h0M703 253h0M657 238h0M628 335h0M649 311h0M594 308h0M585 306h0M701 322h0M624 234h0M606 240h0M571 287h0M591 258h0M578 257h0M653 328h0M651 333h0M569 292h0M635 264h0M660 255h0M616 324h0M630 245h0M583 259h0M565 280h0M707 281h0M632 277h0M701 319h0M678 325h0M635 258h0M672 246h0M579 267h0M583 296h0M696 310h0M698 284h0M647 282h0M616 244h0M595 244h0M705 274h0M719 270h0M709 280h0M577 310h0M614 321h0M543 290h0M553 296h0M518 287h0M541 289h0M545 323h0M494 291h0M533 292h0M489 291h0M491 292h0M539 289h0M496 334h0M507 344h0M492 288h0M482 307h0M503 283h0M498 292h0M528 336h0M561 317h0M503 288h0M518 320h0M545 297h0M516 287h0M536 331h0M499 343h0M500 308h0M533 320h0M483 318h0M474 314h0M543 323h0M554 310h0M489 292h0M548 332h0M549 396h0M488 345h0M615 329h0M695 334h0M544 328h0M574 385h0M575 345h0M509 380h0M549 326h0M574 364h0M506 362h0M523 335h0M645 358h0M664 327h0M611 395h0M675 360h0M546 351h0M674 369h0M512 348h0M575 388h0M623 337h0M501 338h0M656 335h0M642 345h0M651 363h0M491 340h0M650 379h0M540 331h0M516 348h0M662 390h0M733 417h0M745 345h0M713 343h0M737 416h0M713 365h0M723 393h0M762 406h0M752 344h0M700 390h0M716 345h0M768 398h0M761 354h0M721 412h0M714 362h0M583 457h0M572 395h0M628 460h0M514 506h0M494 423h0M627 397h0M669 494h0M636 495h0M643 506h0M643 413h0M536 517h0M490 430h0M711 442h0M592 402h0M642 482h0M600 428h0M511 423h0M548 487h0M708 429h0M661 392h0M578 513h0M578 508h0M607 488h0M616 428h0M678 434h0M831 433h0M841 434h0M749 457h0M850 498h0M858 471h0M826 439h0M786 510h0M859 494h0M756 504h0M843 523h0M847 494h0M839 463h0M785 428h0M737 516h0M851 454h0M856 469h0M806 534h0M847 448h0M764 421h0M746 515h0M798 426h0M855 471h0M783 501h0M827 524h0M757 429h0M741 462h0M759 440h0M835 428h0M733 459h0M806 421h0M760 520h0M745 510h0M735 509h0M842 516h0M793 463h0M870 474h0M877 451h0M900 461h0M865 478h0M877 496h0M873 434h0M876 447h0M898 489h0M867 482h0M870 490h0M900 470h0M887 498h0M858 585h0M805 567h0M846 625h0M872 567h0M850 624h0M863 565h0M860 598h0M789 574h0M866 601h0M862 558h0M832 627h0M842 610h0M828 549h0M847 566h0M857 577h0M861 640h0M873 688h0M855 694h0M495 584h0M687 574h0M671 577h0M644 610h0M686 532h0M747 566h0M761 582h0M632 549h0M569 663h0M531 638h0M676 662h0M524 628h0M521 799h0M443 816h0M531 737h0M426 800h0M497 817h0M425 807h0M408 780h0M445 752h0M517 739h0M390 771h0M598 777h0M545 814h0M455 735h0M518 797h0M425 772h0M535 815h0M594 784h0M413 795h0M433 795h0M583 759h0M396 772h0M398 802h0M579 770h0M434 765h0M462 779h0M413 796h0M481 821h0M532 808h0M428 810h0M720 790h0M696 759h0M665 761h0M755 757h0M499 837h0M550 832h0M503 695h0M560 671h0M714 698h0M584 717h0M627 698h0M475 674h0M595 697h0M483 701h0M524 674h0M779 669h0M782 599h0M832 635h0M811 662h0M831 617h0M725 532h0M754 480h0M744 534h0M749 476h0M737 475h0M734 504h0M722 519h0M759 498h0M753 502h0" stroke="rgb(122,209,81)" stroke-width="5.4" stroke-linecap="round" fill="none"/><path transform="scale(.5)" d="M612 139h0M537 180h0M540 176h0M548 177h0M621 156h0M631 232h0M584 231h0M549 168h0M609 139h0M631 155h0M630 208h0M664 185h0M559 223h0M590 141h0M617 143h0M617 239h0M607 160h0M579 231h0M562 227h0M629 179h0M590 209h0M618 187h0M542 216h0M611 235h0M572 142h0M624 228h0M554 154h0M557 221h0M736 231h0M686 235h0M701 221h0M689 223h0M721 275h0M704 286h0M690 251h0M604 323h0M691 311h0M586 262h0M633 244h0M708 299h0M591 277h0M573 300h0M683 277h0M579 312h0M717 287h0M650 327h0M720 272h0M662 288h0M595 329h0M717 275h0M590 313h0M583 323h0M692 252h0M653 245h0M619 296h0M602 323h0M655 274h0M723 293h0M703 301h0M673 276h0M616 271h0M633 233h0M590 266h0M565 265h0M476 313h0M489 299h0M520 278h0M549 332h0M501 332h0M480 326h0M497 338h0M551 299h0M538 288h0M522 335h0M549 333h0M523 338h0M523 344h0M546 301h0M542 339h0M497 303h0M489 332h0M509 338h0M489 330h0M635 324h0M625 344h0M598 324h0M619 327h0M664 388h0M623 324h0M486 351h0M549 332h0M584 395h0M645 393h0M532 373h0M520 329h0M543 353h0M657 338h0M483 376h0M526 388h0M555 393h0M566 338h0M593 372h0M498 340h0M569 397h0M669 392h0M510 339h0M738 402h0M753 400h0M699 379h0M729 390h0M765 368h0M716 350h0M773 366h0M663 515h0M533 480h0M642 521h0M604 403h0M475 472h0M571 529h0M730 456h0M520 486h0M507 493h0M610 531h0M656 429h0M587 388h0M670 512h0M794 509h0M824 447h0M825 503h0M753 524h0M728 459h0M726 475h0M793 528h0M840 506h0M783 413h0M812 416h0M833 449h0M784 414h0M857 498h0M876 479h0M866 443h0M864 458h0M882 434h0M891 475h0M844 548h0M825 540h0M807 547h0M831 639h0M845 694h0M839 645h0M842 636h0M656 611h0M642 687h0M651 544h0M677 563h0M744 557h0M631 635h0M494 622h0M512 551h0M585 602h0M540 661h0M393 752h0M588 768h0M560 758h0M558 742h0M422 754h0M555 786h0M567 755h0M453 781h0M489 821h0M481 758h0M386 788h0M438 796h0M448 797h0M496 733h0M581 796h0M571 792h0M394 787h0M466 761h0M625 749h0M651 732h0M611 736h0M537 717h0M798 655h0M739 469h0" stroke="rgb(155,216,60)" stroke-width="5.4" stroke-linecap="round" fill="none"/><path transform="scale(.5)" d="M642 162h0M635 149h0M642 164h0M626 228h0M575 232h0M565 149h0M651 217h0M639 150h0M551 195h0M654 212h0M545 207h0M559 232h0M608 230h0M644 199h0M578 187h0M635 234h0M629 170h0M651 182h0M559 231h0M586 238h0M570 150h0M608 140h0M562 152h0M652 167h0M720 240h0M724 226h0M611 322h0M717 310h0M569 266h0M697 251h0M717 269h0M611 249h0M651 248h0M702 321h0M659 291h0M717 295h0M579 293h0M583 301h0M688 328h0M623 331h0M681 291h0M595 314h0M692 317h0M666 251h0M716 296h0M685 260h0M588 280h0M594 272h0M608 322h0M704 291h0M589 248h0M661 327h0M557 312h0M498 336h0M546 333h0M560 320h0M520 282h0M518 341h0M528 284h0M488 294h0M476 322h0M503 302h0M504 342h0M558 394h0M503 343h0M672 335h0M607 396h0M668 381h0M527 384h0M654 385h0M482 347h0M579 395h0M529 352h0M514 349h0M553 335h0M684 383h0M650 379h0M625 373h0M591 366h0M687 348h0M699 336h0M771 362h0M745 345h0M740 413h0M719 368h0M757 406h0M577 475h0M718 432h0M596 442h0M591 392h0M796 424h0M753 506h0M741 493h0M793 532h0M849 478h0M732 487h0M765 514h0M817 460h0M852 478h0M811 453h0M810 530h0M750 527h0M849 438h0M787 511h0M900 466h0M879 466h0M865 473h0M904 449h0M888 490h0M830 537h0M794 556h0M854 550h0M737 550h0M600 661h0M745 630h0M400 787h0M591 771h0M399 751h0M578 785h0M500 742h0M507 735h0M540 773h0M533 805h0M441 812h0M423 804h0M514 739h0M529 817h0M549 797h0M489 808h0M587 790h0M501 763h0M538 803h0M484 741h0M548 708h0M466 685h0M581 672h0M562 693h0M634 687h0M755 518h0M711 525h0M746 531h0M799 688h0" stroke="rgb(189,223,38)" stroke-width="5.4" stroke-linecap="round" fill="none"/><circle cx="299.5" cy="73.3" r="3.5" fill="#ff0000"/><circle cx="308.1" cy="75.9" r="3.5" fill="#ff0000"/><circle cx="311.4" cy="78.2" r="3.5" fill="#ff0000"/><circle cx="343.6" cy="114.7" r="3.5" fill="#ff0000"/><circle cx="322.1" cy="128.7" r="3.5" fill="#ff0000"/><circle cx="315.4" cy="135" r="3.5" fill="#ff0000"/><circle cx="314.4" cy="143" r="3.5" fill="#ff0000"/><circle cx="331.4" cy="145.6" r="3.5" fill="#ff0000"/><circle cx="296.5" cy="154.9" r="3.5" fill="#ff0000"/><circle cx="371.2" cy="239.2" r="3.5" fill="#ff0000"/><circle cx="375.1" cy="236.5" r="3.5" fill="#ff0000"/><circle cx="372.8" cy="241.8" r="3.5" fill="#ff0000"/><circle cx="447.1" cy="228.5" r="3.5" fill="#ff0000"/><circle cx="349.3" cy="286.6" r="3.5" fill="#ff0000"/><circle cx="407.3" cy="365.9" r="3.5" fill="#ff0000"/><rect x="494.4" y="290.5" width="8.5" height="181.3" fill="url(#vir)"/><line x1="494.4" y1="291" x2="502.9" y2="291" stroke="#000" stroke-width="1.3"/><line x1="502.9" y1="323.1" x2="505.5" y2="323.1" stroke="#000" stroke-width="0.6"/><text x="508.3" y="326.2" text-anchor="start" fill="#222" style="font-family:'Liberation Sans','Noto Sans CJK SC',sans-serif;font-size:8.8px" >3.5</text><line x1="502.9" y1="355.7" x2="505.5" y2="355.7" stroke="#000" stroke-width="0.6"/><text x="508.3" y="358.8" text-anchor="start" fill="#222" style="font-family:'Liberation Sans','Noto Sans CJK SC',sans-serif;font-size:8.8px" >3.0</text><line x1="502.9" y1="388.3" x2="505.5" y2="388.3" stroke="#000" stroke-width="0.6"/><text x="508.3" y="391.4" text-anchor="start" fill="#222" style="font-family:'Liberation Sans','Noto Sans CJK SC',sans-serif;font-size:8.8px" >2.5</text><line x1="502.9" y1="421.7" x2="505.5" y2="421.7" stroke="#000" stroke-width="0.6"/><text x="508.3" y="424.8" text-anchor="start" fill="#222" style="font-family:'Liberation Sans','Noto Sans CJK SC',sans-serif;font-size:8.8px" >2.0</text><line x1="502.9" y1="455.1" x2="505.5" y2="455.1" stroke="#000" stroke-width="0.6"/><text x="508.3" y="458.2" text-anchor="start" fill="#222" style="font-family:'Liberation Sans','Noto Sans CJK SC',sans-serif;font-size:8.8px" >1.5</text><text x="0" y="0" text-anchor="middle" transform="translate(527.6 380.8) rotate(90)" style="font-family:'Liberation Sans','Noto Sans CJK SC',sans-serif;font-size:9.7px" fill="#222">Predicted value</text><circle cx="77.7" cy="33.3" r="7" fill="#ff0000"/><text x="100" y="44.3" text-anchor="start" fill="#000" style="font-family:'Liberation Sans','Noto Sans CJK SC',sans-serif;font-size:27.2px" >Selected ionizable lipid candidates</text><line x1="700.1" y1="111.5" x2="1273.6" y2="111.5" stroke="#231815" stroke-width="1.4"/><path d="M790 112.1L790 111.5L790.9 111.5L792 111.4L793.3 111.4L794.8 111.3L796.5 111.3L798.5 111.2L800.6 111.1L803 111L804.2 110.9L805.4 110.9L806.7 110.8L808.1 110.7L809.6 110.7L811.1 110.6L812.6 110.5L814.2 110.4L815.8 110.3L817.4 110.3L819 110.2L820.7 110.1L822.3 110L823.9 109.9L825.5 109.8L827 109.7L828.5 109.6L830 109.5L831.6 109.4L833.2 109.3L834.8 109.1L836.4 109L837.9 108.8L839.5 108.7L841.1 108.5L842.6 108.3L844.1 108.2L845.6 108.1L847.1 107.9L848.6 107.8L850.1 107.7L851.5 107.6L853 107.5L854.4 107.5L856.1 107.5L857.9 107.5L859.6 107.6L861.4 107.6L863.1 107.7L864.8 107.8L866.4 108L868 108.1L869.6 108.2L871 108.3L872.5 108.4L873.8 108.5L875 108.5L877.2 108.6L878.9 108.7L880.2 108.8L881.5 108.7L883.1 108.5L885 108L886.3 107.6L887.7 107L889.2 106.3L890.7 105.5L892.3 104.7L893.9 103.9L895.6 103.1L897.2 102.3L898.9 101.6L900.5 101L902 100.5L903.6 100.1L905.1 99.8L906.5 99.6L907.9 99.4L909.4 99.3L910.9 99.2L912.4 99.1L914.1 99.1L916 99.1L918 99L919.2 99L920.6 99L922 99L923.5 99L925 99L926.6 99L928.3 99.1L929.9 99.1L931.6 99.1L933.2 99.2L934.9 99.2L936.5 99.2L938.1 99.2L939.6 99.2L941.1 99.2L942.5 99.2L943.8 99.2L945 99.1L947 98.9L948.8 98.7L950.4 98.4L951.9 98.1L953.2 97.7L954.6 97.4L955.9 97L957.2 96.7L958.6 96.4L960 96.2L961.5 96L962.8 95.9L964.2 95.9L965.5 95.9L966.9 95.8L968.3 95.8L969.8 95.7L971.4 95.5L973.1 95.3L975 94.9L976.3 94.6L977.7 94.2L979.1 93.8L980.6 93.4L982.1 92.9L983.7 92.4L985.4 91.8L987 91.3L988.7 90.7L990.3 90.2L992 89.6L993.7 89.1L995.3 88.6L996.9 88.1L998.5 87.6L1000 87.2L1001.6 86.8L1003.2 86.3L1004.9 85.9L1006.5 85.5L1008.1 85L1009.8 84.6L1011.4 84.2L1013 83.8L1014.5 83.5L1016.1 83.1L1017.6 82.9L1019 82.6L1020.4 82.4L1021.7 82.2L1023 82.1L1025 82L1026.7 82.2L1028.4 82.4L1029.9 82.7L1031.3 83.1L1032.7 83.5L1034.1 83.9L1035.5 84.3L1037 84.5L1038.6 84.7L1040 85L1041.4 85.2L1042.8 85.4L1044.3 85.5L1045.9 85.6L1047.8 85.6L1050 85.5L1051.2 85.4L1052.6 85.2L1054 85.1L1055.5 84.8L1057.1 84.6L1058.7 84.3L1060.4 84L1062.1 83.8L1063.8 83.5L1065.5 83.2L1067.2 82.9L1068.8 82.6L1070.5 82.4L1072 82.2L1073.6 82L1075 81.8L1076.7 81.6L1078.4 81.5L1080.1 81.4L1081.7 81.3L1083.3 81.3L1084.9 81.2L1086.4 81.2L1087.9 81.2L1089.4 81.2L1090.8 81.1L1092.2 81.1L1093.6 81.1L1095 81.1L1096.7 81.1L1098.4 81.1L1100 81.1L1101.6 81.1L1103.1 81.1L1104.6 81.2L1106 81.2L1107.4 81.2L1108.7 81.3L1110 81.3L1111.8 81.3L1113.3 81.2L1114.7 81.1L1116.1 81.1L1117.8 81.3L1120 81.8L1121.2 82.2L1122.5 82.6L1123.9 83.1L1125.4 83.6L1127 84.2L1128.6 84.9L1130.2 85.5L1131.9 86.2L1133.5 86.9L1135.2 87.7L1136.8 88.4L1138.4 89.1L1140 89.8L1141.5 90.5L1143 91.3L1144.5 92.1L1146 92.9L1147.5 93.7L1148.9 94.6L1150.4 95.4L1151.9 96.2L1153.5 97L1155 97.8L1156.6 98.6L1158.3 99.3L1160 100L1161.4 100.5L1163 101L1164.5 101.5L1166.1 102L1167.8 102.5L1169.4 103L1171.1 103.4L1172.8 103.9L1174.5 104.3L1176.1 104.7L1177.8 105.1L1179.3 105.5L1180.9 105.8L1182.3 106.2L1183.7 106.5L1185 106.8L1186.9 107.3L1188.6 107.7L1190.2 108L1191.7 108.3L1193.1 108.6L1194.5 108.8L1195.8 109.1L1197.2 109.3L1198.5 109.5L1200 109.7L1201.5 109.9L1203 110.1L1204.5 110.2L1206 110.4L1207.5 110.5L1209 110.6L1210.5 110.7L1212 110.8L1213.5 110.9L1215 111L1216.6 111.1L1218.2 111.2L1220 111.2L1221.7 111.3L1223.4 111.3L1225.1 111.4L1226.6 111.4L1228 111.4L1229.1 111.5L1230 111.5L1230 112.1Z" fill="url(#gb0)"/><path d="M800 128.3L800 127.7L800.9 127.7L801.9 127.7L803.1 127.7L804.5 127.7L806.1 127.7L807.7 127.7L809.4 127.6L811.2 127.5L813.1 127.4L815 127.2L816.3 127L817.7 126.8L819.2 126.5L820.8 126.3L822.4 125.9L824 125.6L825.7 125.3L827.3 125L829 124.6L830.6 124.3L832.2 124L833.8 123.7L835.3 123.5L836.7 123.3L838 123.2L839.8 123.1L841.4 123.1L842.9 123.2L844.2 123.3L845.6 123.5L846.9 123.7L848.2 123.8L849.7 124L851.3 124L853 124L854.3 123.9L855.7 123.9L857.2 123.8L858.7 123.6L860.2 123.5L861.8 123.4L863.4 123.2L865 123L866.6 122.8L868.3 122.6L870 122.4L871.6 122.2L873.3 121.9L875 121.7L876.5 121.5L877.9 121.2L879.4 121L880.9 120.7L882.4 120.4L883.9 120.1L885.5 119.8L887 119.5L888.6 119.2L890.1 118.9L891.7 118.5L893.3 118.2L895 117.9L896.6 117.6L898.3 117.3L900 117L901.4 116.8L902.8 116.5L904.2 116.3L905.7 116.1L907.1 115.8L908.6 115.6L910.1 115.4L911.6 115.1L913.2 114.9L914.7 114.7L916.2 114.4L917.8 114.2L919.3 114L920.8 113.7L922.4 113.5L923.9 113.3L925.5 113.1L927 112.9L928.5 112.7L930 112.5L931.5 112.3L933.1 112.1L934.6 112L936.2 111.8L937.9 111.7L939.5 111.5L941.1 111.4L942.7 111.2L944.3 111.1L945.9 111L947.5 110.8L949.1 110.7L950.6 110.5L952.1 110.4L953.6 110.2L955 110.1L956.3 109.9L957.6 109.7L958.8 109.5L960 109.3L962.1 108.8L963.9 108.3L965.6 107.8L967 107.2L968.4 106.6L969.6 106L970.9 105.4L972.2 104.8L973.5 104.2L975 103.7L976.5 103.2L977.9 102.6L979.2 102.1L980.6 101.5L981.9 101L983.4 100.5L985 100.1L986.8 99.7L988.7 99.3L991 99.1L992.2 99L993.4 99L994.8 99L996.2 99L997.6 99L999.1 99.1L1000.7 99.1L1002.2 99.2L1003.9 99.3L1005.5 99.4L1007.1 99.5L1008.8 99.6L1010.5 99.7L1012.1 99.8L1013.8 99.8L1015.4 99.9L1017 99.9L1018.6 100L1020.1 100L1021.6 100L1023 99.9L1024.6 99.8L1026.2 99.7L1027.8 99.6L1029.4 99.4L1030.9 99.3L1032.4 99.1L1033.9 98.9L1035.4 98.7L1036.9 98.5L1038.3 98.2L1039.8 98L1041.3 97.7L1042.7 97.5L1044.2 97.2L1045.6 97L1047.1 96.7L1048.5 96.5L1050 96.2L1051.6 95.9L1053.2 95.6L1054.8 95.2L1056.5 94.9L1058.1 94.5L1059.8 94.1L1061.5 93.7L1063.1 93.3L1064.7 92.9L1066.3 92.5L1067.9 92.2L1069.4 91.8L1070.9 91.5L1072.3 91.2L1073.6 91L1074.8 90.8L1076 90.6L1078.2 90.4L1080 90.2L1081.5 90.2L1082.9 90.3L1084.1 90.4L1085.3 90.7L1086.6 91L1088 91.4L1089.5 91.9L1091 92.6L1092.6 93.4L1094.1 94.2L1095.6 95.1L1097.1 96L1098.6 96.9L1100 97.7L1101.7 98.7L1103.2 99.7L1104.7 100.7L1106.2 101.8L1108 102.9L1110 104.2L1111.3 105L1112.7 105.9L1114.1 106.8L1115.7 107.7L1117.3 108.7L1118.9 109.7L1120.5 110.7L1122.2 111.6L1123.8 112.6L1125.4 113.5L1127 114.4L1128.5 115.3L1130.1 116.1L1131.7 117L1133.2 117.8L1134.8 118.7L1136.3 119.5L1137.9 120.3L1139.4 121L1141 121.7L1142.5 122.3L1144 122.9L1145.7 123.5L1147.3 123.9L1149 124.3L1150.7 124.7L1152.4 125L1154 125.3L1155.6 125.5L1157.1 125.8L1158.6 126L1160 126.2L1161.9 126.5L1163.6 126.7L1165.2 126.9L1166.7 127.1L1168.1 127.2L1169.6 127.3L1171 127.4L1172.7 127.5L1174.5 127.6L1176.2 127.6L1177.7 127.7L1179 127.7L1180 127.7L1180 128.3Z" fill="url(#gb1)"/><line x1="700.1" y1="127.7" x2="1273.6" y2="127.7" stroke="#231815" stroke-width="1.4"/><path d="M810 145.1L810 144.5L810.8 144.5L811.9 144.5L813.1 144.5L814.4 144.5L815.9 144.4L817.6 144.4L819.3 144.4L821.1 144.3L823 144.2L825 144L826.3 143.9L827.6 143.7L829 143.5L830.4 143.3L831.9 143.1L833.4 142.9L835 142.7L836.6 142.4L838.2 142.2L839.8 141.9L841.5 141.7L843.2 141.5L844.9 141.3L846.6 141.2L848.3 141L850 140.9L851.4 140.8L852.8 140.8L854.2 140.8L855.7 140.8L857.1 140.8L858.6 140.9L860.1 140.9L861.6 141L863.2 141.1L864.7 141.1L866.2 141.2L867.8 141.2L869.3 141.3L870.8 141.3L872.4 141.3L873.9 141.3L875.5 141.2L877 141.2L878.5 141L880 140.9L881.5 140.7L883 140.5L884.5 140.2L886 139.9L887.5 139.6L889 139.3L890.5 139L892 138.6L893.5 138.2L895 137.8L896.5 137.4L898 137L899.5 136.6L901 136.2L902.5 135.9L904 135.5L905.5 135.1L907 134.8L908.5 134.5L910 134.2L911.5 133.9L913 133.7L914.6 133.4L916.2 133.2L917.7 132.9L919.3 132.7L920.9 132.5L922.5 132.3L924.1 132.1L925.6 131.9L927.2 131.7L928.7 131.5L930.2 131.3L931.7 131.1L933.2 130.9L934.6 130.7L936 130.5L937.4 130.4L938.7 130.2L940 130L941.8 129.8L943.5 129.6L945.1 129.4L946.5 129.3L947.9 129.1L949.3 129L950.6 128.9L952 128.7L953.4 128.5L954.8 128.3L956.4 128L958.1 127.6L960 127.2L961.3 126.9L962.7 126.5L964.2 126.1L965.7 125.6L967.3 125.1L968.9 124.6L970.5 124.1L972.2 123.5L973.9 123L975.6 122.4L977.3 121.9L978.9 121.3L980.6 120.8L982.2 120.3L983.8 119.8L985.4 119.3L986.9 118.9L988.3 118.5L989.7 118.1L991 117.8L993 117.4L994.7 117.1L996.3 116.8L997.8 116.7L999.2 116.5L1000.6 116.5L1001.9 116.4L1003.3 116.4L1004.8 116.4L1006.3 116.3L1008.1 116.3L1010 116.2L1011.3 116.1L1012.6 116.1L1013.9 116.1L1015.3 116.1L1016.8 116.1L1018.3 116.1L1019.8 116.1L1021.4 116.1L1022.9 116.1L1024.5 116.1L1026.1 116.1L1027.7 116L1029.3 116L1030.9 116L1032.5 116L1034 115.9L1035.6 115.8L1037.1 115.7L1038.6 115.6L1040 115.5L1041.6 115.3L1043.2 115.1L1044.7 114.9L1046.3 114.7L1047.9 114.4L1049.4 114.2L1050.9 113.9L1052.5 113.6L1054 113.3L1055.5 113L1057 112.7L1058.5 112.4L1059.9 112L1061.4 111.7L1062.8 111.4L1064.2 111.1L1065.6 110.8L1067 110.5L1068.8 110.1L1070.5 109.7L1072.2 109.2L1074 108.8L1075.7 108.3L1077.4 107.8L1079 107.3L1080.6 106.9L1082.2 106.5L1083.7 106.1L1085.1 105.7L1086.5 105.4L1087.8 105.2L1089 105L1091.2 104.8L1093 104.7L1094.5 104.8L1095.9 105L1097.3 105.4L1098.6 105.9L1100 106.5L1101.6 107.4L1103.1 108.5L1104.6 109.8L1106.2 111.2L1107.9 112.8L1110 114.5L1111.3 115.5L1112.7 116.6L1114.1 117.8L1115.7 119L1117.3 120.2L1118.9 121.5L1120.5 122.8L1122.2 124L1123.8 125.1L1125.4 126.2L1127 127.2L1128.5 128.1L1130.1 128.9L1131.6 129.7L1133.2 130.5L1134.7 131.2L1136.3 131.9L1137.8 132.5L1139.4 133.1L1140.9 133.7L1142.5 134.3L1144 134.9L1145.5 135.5L1147 136L1148.5 136.5L1150 137L1151.4 137.4L1152.9 137.9L1154.5 138.3L1156 138.7L1157.6 139.1L1159.3 139.5L1161 139.9L1162.4 140.2L1164 140.5L1165.6 140.9L1167.2 141.2L1168.9 141.5L1170.6 141.8L1172.3 142.1L1174 142.4L1175.7 142.7L1177.3 143L1178.9 143.2L1180.3 143.4L1181.7 143.6L1183 143.8L1185.1 144L1187 144.2L1188.8 144.3L1190.4 144.4L1191.8 144.4L1193.1 144.4L1194.1 144.5L1195 144.5L1195 145.1Z" fill="url(#gb2)"/><line x1="700.1" y1="144.5" x2="1273.6" y2="144.5" stroke="#231815" stroke-width="1.4"/><path d="M790 163.2L790 162.6L790.8 162.6L791.7 162.6L792.7 162.6L793.9 162.6L795.2 162.6L796.8 162.5L798.6 162.5L800.8 162.4L803.2 162.3L806 162.1L807.1 162L808.2 161.9L809.4 161.9L810.6 161.8L811.9 161.7L813.2 161.5L814.5 161.4L815.9 161.3L817.4 161.2L818.9 161.1L820.4 160.9L821.9 160.8L823.5 160.7L825.1 160.5L826.7 160.4L828.3 160.2L830 160.1L831.6 160L833.3 159.8L835 159.7L836.7 159.6L838.3 159.4L840 159.3L841.7 159.2L843.4 159.1L845.1 159L846.7 158.9L848.4 158.8L850 158.7L851.4 158.6L852.9 158.6L854.4 158.5L856 158.5L857.5 158.4L859.1 158.4L860.7 158.3L862.4 158.3L864 158.3L865.7 158.2L867.3 158.2L869 158.2L870.7 158.2L872.3 158.1L874 158.1L875.7 158.1L877.3 158.1L879 158L880.6 158L882.2 158L883.8 158L885.3 157.9L886.9 157.9L888.4 157.9L889.8 157.8L891.3 157.8L892.7 157.8L894 157.7L895.3 157.7L896.6 157.6L897.8 157.5L898.9 157.5L900 157.4L902.5 157.2L904.7 157L906.6 156.7L908.2 156.5L909.6 156.2L911 155.9L912.2 155.6L913.3 155.3L914.5 155L915.7 154.6L916.9 154.3L918.4 154L920 153.6L921.4 153.3L923 153L924.5 152.6L926.1 152.3L927.8 151.9L929.4 151.6L931.1 151.2L932.8 150.8L934.5 150.4L936.1 150.1L937.8 149.7L939.3 149.3L940.9 149L942.3 148.7L943.7 148.4L945 148.1L946.8 147.7L948.4 147.4L949.7 147.2L951 146.9L952.1 146.7L953.3 146.5L954.6 146.3L956.1 145.9L957.9 145.5L960 145L961.2 144.7L962.4 144.4L963.8 144L965.2 143.6L966.6 143.2L968.1 142.8L969.6 142.4L971.2 141.9L972.8 141.4L974.4 141L976.1 140.5L977.8 140L979.4 139.6L981.1 139.1L982.8 138.6L984.5 138.2L986.1 137.7L987.8 137.3L989.4 136.9L991 136.5L992.5 136.1L994.1 135.8L995.6 135.4L997.2 135L998.8 134.6L1000.4 134.2L1002.1 133.8L1003.7 133.4L1005.3 133L1006.9 132.6L1008.6 132.3L1010.1 131.9L1011.7 131.6L1013.3 131.3L1014.8 131L1016.3 130.7L1017.7 130.4L1019.1 130.2L1020.5 130L1021.8 129.8L1023 129.7L1025 129.6L1026.8 129.6L1028.5 129.8L1030.1 130.1L1031.5 130.4L1032.9 130.8L1034.3 131.1L1035.7 131.4L1037.1 131.6L1038.6 131.7L1040.2 131.6L1042 131.4L1043.3 131.1L1044.7 130.7L1046.2 130.3L1047.6 129.7L1049.1 129.1L1050.7 128.5L1052.2 127.8L1053.8 127.1L1055.4 126.4L1057 125.7L1058.5 125L1060.1 124.3L1061.6 123.6L1063.2 122.9L1064.6 122.3L1066.1 121.7L1067.5 121.2L1069.2 120.6L1070.9 120L1072.5 119.4L1074.2 118.9L1075.9 118.3L1077.5 117.8L1079.1 117.3L1080.7 116.8L1082.2 116.4L1083.7 116L1085.1 115.7L1086.5 115.5L1087.8 115.3L1089 115.2L1091 115.2L1092.7 115.5L1094.3 115.9L1095.8 116.5L1097.1 117.2L1098.4 118L1099.7 118.8L1101 119.6L1102.6 120.7L1104.1 121.8L1105.4 123.1L1106.8 124.5L1108.3 126.1L1110 128.1L1111.4 129.9L1113 132L1114.6 134.2L1116.3 136.6L1118 139L1119.7 141.2L1121.4 143.3L1123 145.1L1124.5 146.6L1126 147.9L1127.4 149L1128.8 150L1130.2 150.9L1131.7 151.8L1133.3 152.7L1135 153.6L1136.4 154.3L1137.8 155L1139.2 155.7L1140.8 156.4L1142.3 157.1L1143.9 157.7L1145.5 158.4L1147.2 159L1148.8 159.5L1150.4 160L1152 160.4L1153.5 160.7L1155 161L1156.5 161.2L1158 161.4L1159.6 161.5L1161.1 161.6L1162.7 161.7L1164.2 161.8L1165.7 161.9L1167.2 161.9L1168.6 162L1170 162.1L1171.7 162.2L1173.4 162.3L1175.2 162.4L1176.9 162.4L1178.6 162.5L1180.2 162.5L1181.7 162.5L1183 162.6L1184.1 162.6L1185 162.6L1185 163.2Z" fill="url(#gb3)"/><line x1="700.1" y1="162.6" x2="1273.6" y2="162.6" stroke="#231815" stroke-width="1.4"/><path d="M730 181.1L730 180.5L730.8 180.5L731.5 180.5L732.6 180.4L734.2 180.4L736.6 180.2L740 180L741 179.9L742.1 179.9L743.3 179.8L744.6 179.7L746 179.7L747.4 179.6L748.9 179.5L750.4 179.4L752 179.4L753.6 179.3L755.3 179.2L757 179.1L758.7 179L760.4 178.9L762.1 178.8L763.9 178.6L765.6 178.5L767.3 178.4L769 178.2L770.7 178.1L772.3 177.9L774 177.8L775.5 177.6L777 177.4L778.5 177.2L780.1 177L781.7 176.7L783.2 176.4L784.7 176.1L786.2 175.7L787.7 175.4L789.1 175L790.6 174.7L792 174.3L793.4 173.9L794.8 173.5L796.2 173.1L797.7 172.8L799.1 172.4L800.6 172L802.1 171.6L803.5 171.3L805.1 170.9L806.6 170.6L808.2 170.3L809.8 170L811.5 169.7L812.9 169.5L814.3 169.3L815.8 169.1L817.3 168.8L818.9 168.6L820.4 168.4L822 168.2L823.6 168L825.3 167.8L826.9 167.7L828.5 167.5L830.2 167.3L831.8 167.1L833.5 166.9L835.1 166.8L836.8 166.6L838.4 166.5L840 166.4L841.5 166.2L843.1 166.1L844.6 166L846.1 165.9L847.5 165.8L848.9 165.8L850.2 165.7L851.5 165.6L852.8 165.6L854.8 165.6L856.7 165.6L858.6 165.8L860.3 165.9L862 166.1L863.6 166.3L865.2 166.6L866.7 166.8L868.2 167.1L869.6 167.3L870.9 167.6L872.3 167.8L873.6 167.9L874.9 168L876.2 168L877.5 168L879.3 167.8L881 167.6L882.6 167.3L884.1 166.9L885.6 166.5L887 166L888.3 165.4L889.7 164.9L891.1 164.3L892.5 163.7L894 163.1L895.5 162.5L896.9 161.8L898.4 161L899.8 160.2L901.2 159.4L902.7 158.5L904.1 157.7L905.6 156.9L907.2 156.2L908.8 155.5L910.5 154.9L911.9 154.5L913.4 154L914.9 153.6L916.4 153.2L918 152.8L919.7 152.4L921.3 152.1L922.9 151.8L924.5 151.5L926.1 151.2L927.7 151L929.2 150.9L930.6 150.8L932 150.7L933.8 150.7L935.5 150.9L937.2 151.1L938.7 151.4L940.2 151.8L941.8 152.2L943.3 152.7L944.8 153.1L946.4 153.6L948 154L949.6 154.4L951.2 154.8L952.9 155.3L954.6 155.8L956.4 156.3L958.1 156.8L959.7 157.2L961.3 157.7L962.8 158.1L964.2 158.4L965.5 158.6L967.6 158.9L969.1 159.1L970.4 159L971.9 158.7L974 158.2L975.2 157.8L976.6 157.4L978 156.8L979.6 156.2L981.2 155.6L982.8 154.9L984.5 154.2L986.1 153.5L987.8 152.9L989.4 152.3L991 151.8L992.5 151.3L994.1 150.9L995.6 150.4L997.2 150L998.7 149.6L1000.3 149.2L1001.8 148.9L1003.4 148.6L1004.9 148.4L1006.5 148.1L1008 148L1009.5 147.9L1011.1 147.9L1012.6 147.9L1014.2 147.9L1015.7 148L1017.3 148.1L1018.8 148.3L1020.4 148.5L1021.9 148.7L1023.5 148.9L1025 149.2L1026.5 149.5L1028 149.9L1029.4 150.2L1030.8 150.7L1032.2 151.1L1033.7 151.6L1035.2 152.1L1036.8 152.6L1038.4 153.2L1040.1 153.7L1042 154.3L1043.3 154.7L1044.6 155.1L1046 155.5L1047.4 155.9L1048.9 156.3L1050.4 156.8L1051.9 157.2L1053.4 157.7L1055 158.2L1056.6 158.6L1058.2 159.1L1059.7 159.6L1061.3 160.1L1062.9 160.6L1064.4 161L1066 161.5L1067.5 162L1069 162.5L1070.5 163L1072 163.5L1073.5 164L1075 164.5L1076.5 165L1078 165.5L1079.5 166L1081 166.6L1082.5 167.1L1084 167.6L1085.5 168.1L1087 168.6L1088.5 169.1L1090 169.6L1091.5 170L1093 170.5L1094.5 171L1096 171.4L1097.5 171.9L1099 172.3L1100.5 172.8L1102 173.2L1103.5 173.6L1105 174.1L1106.5 174.5L1108 174.9L1109.5 175.3L1111 175.7L1112.5 176L1114 176.4L1115.5 176.7L1117 177L1118.5 177.3L1120 177.6L1121.6 177.8L1123.1 178L1124.7 178.2L1126.3 178.4L1127.9 178.6L1129.5 178.8L1131.1 178.9L1132.6 179.1L1134.2 179.2L1135.7 179.3L1137.2 179.4L1138.7 179.5L1140.1 179.6L1141.4 179.7L1142.7 179.8L1144 179.9L1146.1 180L1148.1 180.2L1150 180.2L1151.9 180.3L1153.6 180.4L1155.2 180.4L1156.7 180.4L1158 180.5L1159.1 180.5L1160 180.5L1160 181.1Z" fill="url(#gb4)"/><line x1="700.1" y1="180.5" x2="1273.6" y2="180.5" stroke="#231815" stroke-width="1.4"/><text x="699.5" y="110" text-anchor="start" fill="#231815" style="font-family:'Liberation Sans','Noto Sans CJK SC',sans-serif;font-size:16.5px" >A5</text><text x="699.5" y="126.2" text-anchor="start" fill="#231815" style="font-family:'Liberation Sans','Noto Sans CJK SC',sans-serif;font-size:16.5px" >A3</text><text x="699.5" y="143" text-anchor="start" fill="#231815" style="font-family:'Liberation Sans','Noto Sans CJK SC',sans-serif;font-size:16.5px" >A17</text><text x="699.5" y="161.1" text-anchor="start" fill="#231815" style="font-family:'Liberation Sans','Noto Sans CJK SC',sans-serif;font-size:16.5px" >A8</text><text x="699.5" y="179" text-anchor="start" fill="#231815" style="font-family:'Liberation Sans','Noto Sans CJK SC',sans-serif;font-size:16.5px" >A6</text><text x="739.7" y="200" text-anchor="middle" fill="#333" style="font-family:'Liberation Sans','Noto Sans CJK SC',sans-serif;font-size:12px;font-weight:bold" >1.5</text><text x="834.3" y="200" text-anchor="middle" fill="#333" style="font-family:'Liberation Sans','Noto Sans CJK SC',sans-serif;font-size:12px;font-weight:bold" >2.0</text><text x="928.9" y="200" text-anchor="middle" fill="#333" style="font-family:'Liberation Sans','Noto Sans CJK SC',sans-serif;font-size:12px;font-weight:bold" >2.5</text><text x="1023.5" y="200" text-anchor="middle" fill="#333" style="font-family:'Liberation Sans','Noto Sans CJK SC',sans-serif;font-size:12px;font-weight:bold" >3.0</text><text x="1118.1" y="200" text-anchor="middle" fill="#333" style="font-family:'Liberation Sans','Noto Sans CJK SC',sans-serif;font-size:12px;font-weight:bold" >3.5</text><text x="1212.7" y="200" text-anchor="middle" fill="#333" style="font-family:'Liberation Sans','Noto Sans CJK SC',sans-serif;font-size:12px;font-weight:bold" >4.0</text><text x="975.2" y="47.5" text-anchor="middle" fill="#000" style="font-family:'Liberation Sans','Noto Sans CJK SC',sans-serif;font-size:23.7px" >Top 5 Head groups distribution</text><text x="958.5" y="231" text-anchor="middle" fill="#000" style="font-family:'Liberation Sans','Noto Sans CJK SC',sans-serif;font-size:23.8px" >Predicted mTP</text><text x="0" y="0" text-anchor="middle" transform="translate(663.6 122.3) rotate(-90)" style="font-family:'Liberation Sans','Noto Sans CJK SC',sans-serif;font-size:24.6px" fill="#231815">Density</text><path d="M825 348.2L825 347.6L826 347.6L827.4 347.6L829 347.6L830.8 347.6L832.6 347.5L834.5 347.4L836.3 347.3L838 347.1L839.5 346.8L841.1 346.4L842.6 345.9L844 345.4L845.5 344.9L847 344.4L848.5 344L850 343.6L851.5 343.3L853 342.9L854.4 342.6L855.9 342.3L857.4 342L859 341.8L860.7 341.7L862.5 341.6L863.9 341.6L865.4 341.7L866.9 341.8L868.5 341.9L870.1 342L871.8 342.2L873.4 342.4L875.1 342.6L876.8 342.8L878.4 343L880 343.1L881.6 343.2L883.1 343.4L884.6 343.6L886.2 343.8L887.7 343.9L889.2 344.1L890.8 344.2L892.4 344.4L894 344.5L895.7 344.6L897.5 344.6L898.8 344.6L900.2 344.6L901.6 344.6L902.9 344.5L904.4 344.5L905.8 344.4L907.2 344.4L908.7 344.3L910.2 344.2L911.8 344.1L913.3 344L914.9 343.9L916.6 343.8L918.3 343.7L920 343.6L921.3 343.5L922.7 343.4L924.2 343.4L925.7 343.3L927.2 343.2L928.8 343.1L930.3 343L931.9 342.9L933.5 342.8L935.2 342.7L936.8 342.6L938.4 342.5L939.9 342.4L941.5 342.3L943 342.2L944.5 342.1L946 342L947.4 341.8L948.7 341.7L950 341.6L951.9 341.4L953.7 341.2L955.4 341L957.1 340.8L958.6 340.6L960.2 340.4L961.7 340.2L963.1 340L964.5 339.7L965.9 339.5L967.3 339.2L968.7 338.9L970 338.6L971.6 338.1L973.1 337.6L974.5 337.1L975.7 336.5L977 335.9L978.3 335.3L979.7 334.7L981.2 334.2L983 333.7L985 333.3L986.2 333.1L987.6 332.9L989 332.8L990.4 332.6L991.9 332.5L993.5 332.4L995.1 332.3L996.7 332.2L998.4 332.1L1000.1 332.1L1001.8 332L1003.4 331.9L1005.1 331.8L1006.8 331.7L1008.4 331.6L1010 331.5L1011.5 331.3L1013 331.2L1014.6 331L1016.3 330.8L1017.9 330.7L1019.5 330.5L1021.1 330.3L1022.8 330.1L1024.3 329.9L1025.9 329.7L1027.5 329.5L1029 329.2L1030.5 329L1031.9 328.8L1033.4 328.5L1034.8 328.3L1036.2 328L1037.5 327.7L1039.3 327.3L1041 326.8L1042.6 326.3L1044.1 325.7L1045.5 325.2L1047 324.6L1048.4 324.1L1049.9 323.5L1051.5 322.9L1053.2 322.3L1055 321.8L1056.4 321.4L1057.8 321L1059.4 320.6L1061 320.1L1062.6 319.6L1064.3 319.2L1066 318.7L1067.7 318.3L1069.4 317.8L1071 317.4L1072.6 317L1074.2 316.7L1075.7 316.4L1077.1 316.1L1078.3 315.9L1079.5 315.8L1081.8 315.7L1083.6 315.9L1085.2 316.3L1086.5 316.8L1087.7 317.4L1088.8 318L1090 318.6L1091.5 319.7L1092.4 321L1093.9 322.3L1097 323.5L1098.1 323.8L1099.2 324L1100.6 324.2L1102 324.5L1103.5 324.7L1105.2 325L1106.8 325.2L1108.6 325.5L1110.3 325.7L1112.1 325.9L1113.9 326.1L1115.7 326.4L1117.4 326.6L1119.1 326.8L1120.7 327L1122.2 327.3L1123.7 327.5L1125 327.7L1127 328L1128.7 328.3L1130.3 328.6L1131.8 328.8L1133.3 329.1L1134.7 329.3L1136.1 329.6L1137.5 329.9L1139 330.3L1140.7 330.7L1142.5 331.2L1143.8 331.6L1145.2 332L1146.6 332.5L1148.1 333L1149.5 333.5L1151 334L1152.5 334.5L1154.1 335.1L1155.7 335.7L1157.2 336.2L1158.9 336.8L1160.5 337.3L1162.1 337.9L1163.7 338.4L1165.4 338.8L1167 339.3L1168.5 339.7L1170 340.1L1171.5 340.5L1173.1 340.8L1174.7 341.2L1176.3 341.6L1178 341.9L1179.6 342.3L1181.2 342.6L1182.8 343L1184.5 343.3L1186.1 343.6L1187.6 343.9L1189.2 344.2L1190.7 344.5L1192.2 344.7L1193.6 345L1195 345.2L1196.7 345.5L1198.5 345.7L1200.2 345.9L1201.9 346.1L1203.5 346.3L1205.1 346.5L1206.7 346.6L1208.2 346.7L1209.7 346.8L1211.1 346.9L1212.4 347L1213.7 347.1L1214.9 347.2L1216 347.3L1218.3 347.5L1220.2 347.5L1221.8 347.6L1223.1 347.6L1224.2 347.6L1225 347.6L1225 348.2Z" fill="url(#gc0)"/><line x1="704.3" y1="347.6" x2="1276.2" y2="347.6" stroke="#231815" stroke-width="1.4"/><path d="M815 365.9L815 365.3L816 365.3L817.5 365.2L819.2 365.2L821.1 365.1L823 365L824.9 364.9L826.6 364.6L828 364.3L830.2 363.3L831.9 362L833.4 360.6L835 359.3L836.5 358.1L837.9 356.9L839.3 355.9L841.2 355.4L842.5 355.4L843.9 355.5L845.3 355.8L846.9 356.2L848.5 356.6L850.2 357L852 357.3L853.4 357.5L854.7 357.8L856.1 358.1L857.5 358.4L858.9 358.7L860.5 358.9L862.2 359.1L864 359.2L866 359.2L867.2 359.2L868.5 359.1L869.9 359L871.4 358.9L872.9 358.8L874.4 358.6L876 358.5L877.6 358.3L879.2 358.1L880.8 357.9L882.4 357.7L884 357.5L885.6 357.3L887.1 357.1L888.6 357L890 356.8L891.6 356.6L893.2 356.5L894.6 356.3L895.9 356.2L897.3 356.1L898.6 355.9L900 355.8L901.4 355.6L902.9 355.4L904.5 355.2L906.3 354.9L908.3 354.6L910.5 354.2L911.7 354L912.9 353.8L914.2 353.5L915.6 353.2L917 352.9L918.4 352.6L919.9 352.3L921.4 352L922.9 351.7L924.5 351.3L926.1 351L927.7 350.7L929.3 350.3L931 350L932.6 349.6L934.3 349.3L935.9 348.9L937.6 348.6L939.2 348.3L940.8 347.9L942.4 347.6L944 347.3L945.5 347L947.1 346.8L948.5 346.5L950 346.3L951.6 346.1L953.2 345.8L954.8 345.6L956.4 345.4L957.9 345.2L959.5 345.1L961 344.9L962.5 344.8L964 344.6L965.5 344.5L967 344.3L968.5 344.2L970 344.1L971.5 344L973 343.8L974.5 343.7L976 343.6L977.5 343.5L979 343.4L980.5 343.2L982 343.1L983.5 342.9L985 342.8L986.5 342.6L988.1 342.5L989.7 342.3L991.3 342.2L992.9 342L994.6 341.8L996.2 341.6L997.9 341.5L999.5 341.3L1001.2 341.1L1002.8 341L1004.4 340.8L1006 340.6L1007.6 340.5L1009.1 340.3L1010.6 340.2L1012.1 340L1013.6 339.9L1015 339.7L1016.3 339.6L1017.6 339.5L1018.8 339.4L1020 339.3L1022.2 339.1L1024.2 338.9L1025.8 338.7L1027.4 338.6L1028.7 338.4L1030.1 338.3L1031.4 338.3L1032.7 338.2L1034.1 338.3L1035.7 338.4L1037.5 338.6L1038.9 338.8L1040.3 339L1041.8 339.3L1043.3 339.6L1044.9 339.9L1046.5 340.3L1048.1 340.7L1049.8 341.1L1051.4 341.5L1053 341.9L1054.6 342.4L1056.2 342.8L1057.7 343.2L1059.2 343.7L1060.6 344.1L1062 344.5L1063.8 345.1L1065.5 345.8L1067 346.5L1068.4 347.2L1069.8 348L1071.2 348.7L1072.7 349.4L1074.2 350L1075.8 350.6L1077.5 351.1L1079.5 351.5L1080.8 351.7L1082.2 351.8L1083.7 351.9L1085.2 352L1086.8 352L1088.4 352.1L1090.1 352L1091.8 352L1093.5 352L1095.2 352L1096.9 351.9L1098.6 351.9L1100.2 351.9L1101.8 351.9L1103.3 351.9L1104.8 352L1106.2 352.1L1107.5 352.2L1109.5 352.5L1111.3 352.8L1112.9 353.2L1114.5 353.6L1116 354L1117.4 354.5L1118.8 355L1120.3 355.4L1121.7 355.9L1123.3 356.4L1125 356.8L1126.4 357.1L1127.8 357.5L1129.2 357.8L1130.6 358.1L1132.1 358.5L1133.6 358.8L1135.1 359.1L1136.6 359.4L1138.1 359.8L1139.6 360.1L1141.2 360.4L1142.8 360.7L1144.4 361L1146 361.3L1147.5 361.6L1149 361.8L1150.6 362.1L1152.2 362.3L1153.9 362.6L1155.6 362.8L1157.3 363.1L1159 363.3L1160.6 363.5L1162.3 363.8L1163.8 364L1165.3 364.2L1166.8 364.3L1168.1 364.5L1169.4 364.7L1170.5 364.8L1173.1 365.1L1175.1 365.2L1176.8 365.3L1178.1 365.3L1179.1 365.3L1180 365.3L1180 365.9Z" fill="url(#gc1)"/><line x1="704.3" y1="365.3" x2="1276.2" y2="365.3" stroke="#231815" stroke-width="1.4"/><path d="M780 383.5L780 382.9L780.9 382.8L782 382.8L783.2 382.7L784.7 382.6L786.2 382.5L787.9 382.4L789.7 382.2L791.4 381.8L793.2 381.4L795 380.9L796.4 380.4L797.8 379.8L799.3 379.1L800.8 378.3L802.3 377.5L803.9 376.6L805.5 375.8L807.1 374.9L808.7 374L810.3 373.2L811.9 372.4L813.4 371.6L815 370.9L816.6 370.2L818.1 369.6L819.7 369L821.3 368.3L822.9 367.7L824.5 367.1L826.1 366.6L827.7 366L829.2 365.5L830.7 365L832.2 364.6L833.6 364.2L835 363.9L836.7 363.5L838.4 363.3L840 363.1L841.6 362.9L843.1 362.8L844.5 362.8L846 362.8L847.3 362.8L848.7 362.8L850 362.9L851.7 363.1L853.2 363.4L854.6 363.8L855.9 364.3L857.4 364.7L859 365.1L861 365.3L862.3 365.4L863.8 365.3L865.3 365.2L866.9 365.1L868.6 365L870.3 364.8L872 364.7L873.7 364.7L875.4 364.7L877 364.8L878.6 365L880 365.3L881.8 366.1L883.4 367.1L884.9 368.4L886.4 369.9L887.9 371.3L889.3 372.7L890.8 373.9L892.4 374.7L894 375.2L895.3 375.3L896.6 375.1L897.9 374.7L899.1 374.2L900.4 373.5L901.7 372.8L903.2 372L904.7 371.3L906.5 370.6L908.4 369.9L910.5 369.4L911.7 369.2L912.9 369L914.3 368.7L915.7 368.5L917.2 368.3L918.8 368.1L920.3 367.9L922 367.6L923.6 367.4L925.3 367.2L927 367L928.7 366.8L930.4 366.7L932 366.5L933.7 366.3L935.2 366.1L936.8 366L938.3 365.8L939.7 365.7L941.1 365.5L942.3 365.4L943.5 365.3L945.5 365.1L947.2 365L948.5 364.9L949.6 364.9L950.7 364.9L951.7 364.9L952.8 364.9L954.1 364.9L955.6 364.8L957.6 364.7L960 364.5L961.1 364.4L962.3 364.3L963.6 364.2L964.9 364.1L966.4 363.9L967.8 363.8L969.4 363.6L971 363.5L972.6 363.3L974.3 363.2L976 363L977.7 362.8L979.4 362.7L981.2 362.5L982.9 362.3L984.7 362.2L986.4 362L988.1 361.8L989.8 361.6L991.4 361.5L993 361.3L994.6 361.1L996.1 361L997.5 360.8L998.9 360.7L1000.2 360.6L1001.4 360.4L1002.5 360.3L1005 360L1007.1 359.7L1008.8 359.3L1010.3 359L1011.6 358.7L1012.7 358.4L1013.9 358.2L1015.1 358L1016.5 357.9L1018.1 357.8L1020 357.8L1021.3 357.8L1022.7 357.9L1024.1 358L1025.6 358.1L1027.1 358.3L1028.7 358.4L1030.3 358.6L1031.9 358.8L1033.6 359L1035.2 359.2L1036.9 359.5L1038.5 359.7L1040.2 360L1041.8 360.2L1043.4 360.5L1045 360.8L1046.5 361L1048 361.3L1049.6 361.6L1051.2 361.9L1052.7 362.3L1054.1 362.7L1055.6 363.1L1057 363.5L1058.4 363.9L1059.8 364.3L1061.2 364.7L1062.7 365.1L1064.2 365.5L1065.7 365.9L1067.3 366.3L1069 366.7L1070.7 367L1072.5 367.3L1073.8 367.5L1075.2 367.7L1076.6 367.9L1078.1 368L1079.6 368.2L1081.1 368.3L1082.7 368.5L1084.3 368.6L1085.9 368.8L1087.5 368.9L1089.2 369L1090.8 369.2L1092.5 369.3L1094.1 369.4L1095.7 369.6L1097.3 369.7L1098.9 369.8L1100.4 370L1101.9 370.1L1103.4 370.3L1104.8 370.4L1106.2 370.6L1107.5 370.8L1109.3 371.1L1111 371.4L1112.7 371.7L1114.3 372L1115.8 372.3L1117.3 372.6L1118.8 372.9L1120.2 373.2L1121.6 373.6L1123 373.9L1124.4 374.2L1125.9 374.6L1127.3 374.9L1128.8 375.3L1130.4 375.6L1132 376L1133.5 376.3L1135.1 376.7L1136.7 377.1L1138.3 377.4L1140 377.8L1141.7 378.2L1143.5 378.6L1145.2 379L1146.9 379.4L1148.6 379.8L1150.3 380.2L1151.9 380.6L1153.4 380.9L1154.9 381.3L1156.3 381.6L1157.7 381.8L1158.9 382.1L1160 382.3L1162.8 382.7L1165 382.9L1166.8 382.9L1168.1 382.9L1169.1 382.9L1170 382.9L1170 383.5Z" fill="url(#gc2)"/><line x1="704.3" y1="382.9" x2="1276.2" y2="382.9" stroke="#231815" stroke-width="1.4"/><path d="M735 401L735 400.4L735.9 400.4L737.2 400.4L738.6 400.3L740.3 400.3L742 400.2L743.8 400.1L745.5 399.9L747 399.7L748.7 399.6L750.3 399.4L752 399.2L753.8 399L755.5 398.6L757.1 398.1L758.7 397.4L760.4 396.4L762.1 395L763.8 393.5L765.5 392L767 390.4L768.5 388.9L770 387.6L771.8 386.1L773.2 384.7L774.7 383.4L776.3 382.2L778.5 381L779.7 380.4L781 379.9L782.4 379.4L783.9 378.9L785.5 378.4L787 377.9L788.7 377.4L790.3 376.9L791.9 376.3L793.5 375.8L795 375.2L796.5 374.6L798 373.9L799.5 373.2L801 372.5L802.5 371.8L804 371.1L805.5 370.4L807 369.7L808.5 369L810 368.4L811.5 367.8L813 367.2L814.5 366.7L816 366.1L817.6 365.6L819.1 365.1L820.6 364.6L822.1 364.2L823.6 363.7L825.1 363.3L826.6 362.9L828 362.5L829.6 362.1L831.2 361.6L832.7 361.2L834.3 360.8L835.8 360.4L837.3 360.1L838.8 359.8L840.3 359.6L841.7 359.5L843 359.5L844.8 359.7L846.6 360.1L848.2 360.6L849.8 361.3L851.4 362L852.9 362.8L854.4 363.6L856 364.6L857.4 365.7L858.7 366.9L860.2 368.1L862 369.2L864.3 370.2L865.5 370.6L866.8 370.9L868.2 371.3L869.7 371.6L871.3 371.9L873 372.2L874.6 372.5L876.3 372.7L878 373L879.7 373.3L881.3 373.5L882.9 373.8L884.4 374.1L885.8 374.4L887.5 374.8L889.1 375.1L890.7 375.4L892.2 375.8L893.6 376.1L895.1 376.4L896.5 376.8L897.9 377.1L899.4 377.6L900.8 378L902.3 378.5L903.8 379L905.2 379.6L906.6 380.3L908 380.9L909.3 381.6L910.7 382.3L912.2 383L913.7 383.7L915.3 384.5L917 385.2L918.8 385.9L920.1 386.4L921.6 387L923 387.5L924.6 388.1L926.2 388.7L927.8 389.3L929.5 389.9L931.1 390.5L932.8 391.1L934.5 391.7L936.1 392.2L937.7 392.7L939.3 393.1L940.7 393.6L942.2 393.9L943.5 394.2L945.3 394.5L947.1 394.7L948.8 394.8L950.5 394.8L952.1 394.8L953.6 394.7L955 394.6L956.4 394.5L957.7 394.4L958.9 394.3L960 394.2L962 394.1L963.5 393.8L964.7 393.6L966 393.5L967.5 393.5L968.8 393.6L970.2 393.8L971.6 394.1L973.1 394.4L974.7 394.7L976.3 395.1L978 395.6L979.4 396L981 396.5L982.6 397.1L984.3 397.7L986 398.3L987.6 398.8L989.2 399.3L990.7 399.8L992 400.1L994.1 400.4L996 400.4L997.7 400.4L999 400.4L1000 400.4L1000 401Z" fill="url(#gc3)"/><line x1="704.3" y1="400.4" x2="1276.2" y2="400.4" stroke="#231815" stroke-width="1.4"/><path d="M735 416.2L735 415.6L736 415.6L737.3 415.6L738.8 415.6L740.5 415.6L742.2 415.6L743.9 415.6L745.5 415.1L747.2 414.3L748.8 413.3L750.4 412.1L752 410.7L753.7 409.1L755.4 407.4L757 405.6L758.6 403.5L760.3 401.2L761.9 398.9L763.6 396.7L765.3 394.8L767 393.3L768.7 392.3L770.4 391.8L772.1 391.5L773.8 391.3L775.5 391.2L777 391.1L778.5 390.8L780.2 390.4L781.7 390.1L783 389.7L784.7 388.9L786.8 387.6L788 386.7L789.3 385.5L790.7 384.2L792.2 382.7L793.7 381.2L795.3 379.6L797 378.1L798.6 376.7L800.2 375.4L801.8 374.3L803.3 373.5L804.8 372.9L806.3 372.5L807.9 372.3L809.4 372.2L811 372.2L812.5 372.2L814 372.3L815.5 372.4L817 372.5L818.4 372.5L819.8 372.4L821.6 372.1L823.4 371.7L825.2 371.3L826.9 370.9L828.6 370.5L830.1 370.2L831.6 370.1L833 370.2L834.9 370.8L836.4 371.7L837.8 372.9L839.3 374.4L841.2 376L842.6 377.2L844.1 378.5L845.7 380L847.4 381.6L849.1 383.1L850.9 384.5L852.6 385.7L854.4 386.7L856 387.3L857.7 387.8L859.4 388.1L861.1 388.4L862.8 388.5L864.5 388.7L866.2 388.8L867.8 389L869.3 389.2L871.1 389.5L872.8 389.7L874.4 390L875.9 390.2L877.5 390.6L879.1 391L880.8 391.7L882.3 392.5L883.7 393.4L885.1 394.4L886.6 395.5L888.1 396.6L889.8 397.8L891.8 398.9L894 399.9L895.2 400.4L896.6 400.9L898.1 401.4L899.6 402L901.2 402.5L902.8 403L904.5 403.5L906.2 404.1L907.9 404.6L909.6 405.1L911.3 405.5L912.9 406L914.5 406.4L916 406.7L917.5 407.1L918.8 407.4L920.6 407.8L922.4 408.1L924.1 408.3L925.8 408.6L927.3 408.7L928.8 408.8L930.3 408.9L931.6 409L932.9 409L934.1 409L935.3 409L937.5 408.8L939.2 408.4L940.6 408L942 407.6L943.5 407.4L945.2 407.5L946.8 407.7L948.5 408L950.1 408.5L951.8 409L953.5 409.7L955.2 410.6L956.9 411.5L958.5 412.4L960 413.1L961.6 413.8L963 414.4L964.3 414.9L966 415.3L967.4 415.5L969.1 415.6L970.9 415.6L972.6 415.6L974 415.6L975 415.6L975 416.2Z" fill="url(#gc4)"/><line x1="704.3" y1="415.6" x2="1276.2" y2="415.6" stroke="#231815" stroke-width="1.4"/><text x="704" y="345.8" text-anchor="start" fill="#231815" style="font-family:'Liberation Sans','Noto Sans CJK SC',sans-serif;font-size:16.8px" >2I3A</text><text x="704" y="363.5" text-anchor="start" fill="#231815" style="font-family:'Liberation Sans','Noto Sans CJK SC',sans-serif;font-size:16.8px" >2C3A</text><text x="704" y="381.1" text-anchor="start" fill="#231815" style="font-family:'Liberation Sans','Noto Sans CJK SC',sans-serif;font-size:16.8px" >2A3A</text><text x="704" y="398.6" text-anchor="start" fill="#231815" style="font-family:'Liberation Sans','Noto Sans CJK SC',sans-serif;font-size:16.8px" >2E3B</text><text x="704" y="413.8" text-anchor="start" fill="#231815" style="font-family:'Liberation Sans','Noto Sans CJK SC',sans-serif;font-size:16.8px" >2H3B</text><text x="713.3" y="435.5" text-anchor="middle" fill="#333" style="font-family:'Liberation Sans','Noto Sans CJK SC',sans-serif;font-size:12px;font-weight:bold" >1.0</text><text x="797.5" y="435.5" text-anchor="middle" fill="#333" style="font-family:'Liberation Sans','Noto Sans CJK SC',sans-serif;font-size:12px;font-weight:bold" >1.5</text><text x="881.7" y="435.5" text-anchor="middle" fill="#333" style="font-family:'Liberation Sans','Noto Sans CJK SC',sans-serif;font-size:12px;font-weight:bold" >2.0</text><text x="965.9" y="435.5" text-anchor="middle" fill="#333" style="font-family:'Liberation Sans','Noto Sans CJK SC',sans-serif;font-size:12px;font-weight:bold" >2.5</text><text x="1050.1" y="435.5" text-anchor="middle" fill="#333" style="font-family:'Liberation Sans','Noto Sans CJK SC',sans-serif;font-size:12px;font-weight:bold" >3.0</text><text x="1134.3" y="435.5" text-anchor="middle" fill="#333" style="font-family:'Liberation Sans','Noto Sans CJK SC',sans-serif;font-size:12px;font-weight:bold" >3.5</text><text x="1218.5" y="435.5" text-anchor="middle" fill="#333" style="font-family:'Liberation Sans','Noto Sans CJK SC',sans-serif;font-size:12px;font-weight:bold" >4.0</text><text x="998.5" y="292.5" text-anchor="middle" fill="#000" style="font-family:'Liberation Sans','Noto Sans CJK SC',sans-serif;font-size:23.7px" >Top 3 and bottom 2 tail combinations distribution</text><text x="989.7" y="469.5" text-anchor="middle" fill="#000" style="font-family:'Liberation Sans','Noto Sans CJK SC',sans-serif;font-size:23.8px" >Predicted mTP</text><text x="0" y="0" text-anchor="middle" transform="translate(660.6 367.4) rotate(-90)" style="font-family:'Liberation Sans','Noto Sans CJK SC',sans-serif;font-size:24.4px" fill="#231815">Density</text><rect x="1385.2" y="393.9" width="20.8" height="24.9" fill="#aa84b0"/><rect x="1416.7" y="266.2" width="20.8" height="152.6" fill="#a6a9c9"/><rect x="1448.1" y="113.7" width="20.8" height="305.1" fill="#9ac2cc"/><rect x="1479.6" y="217.5" width="20.8" height="201.3" fill="#90d8cb"/><rect x="1511" y="188" width="20.8" height="230.8" fill="#c5e8b0"/><rect x="1542.5" y="206" width="20.8" height="212.8" fill="#cbadcb"/><rect x="1574" y="221.4" width="20.8" height="197.4" fill="#aa84b0"/><rect x="1605.4" y="258" width="20.8" height="160.8" fill="#a6a9c9"/><rect x="1636.9" y="97" width="20.8" height="321.8" fill="#9ac2cc"/><rect x="1668.3" y="340.3" width="20.8" height="78.5" fill="#90d8cb"/><rect x="1699.8" y="188" width="20.8" height="230.8" fill="#c5e8b0"/><rect x="1731.3" y="201.4" width="20.8" height="217.4" fill="#cbadcb"/><rect x="1762.7" y="189.8" width="20.8" height="229" fill="#aa84b0"/><rect x="1794.2" y="153.9" width="20.8" height="264.9" fill="#a6a9c9"/><rect x="1825.6" y="225.2" width="20.8" height="193.6" fill="#9ac2cc"/><rect x="1857.1" y="329.1" width="20.8" height="89.7" fill="#90d8cb"/><rect x="1888.6" y="329.1" width="20.8" height="89.7" fill="#c5e8b0"/><rect x="1920" y="307.5" width="20.8" height="111.3" fill="#aa84b0"/><line x1="1376" y1="114.4" x2="1899" y2="114.4" stroke="#000" stroke-width="1.1" stroke-dasharray="3.2,2"/><line x1="1376" y1="266.5" x2="1952" y2="266.5" stroke="#000" stroke-width="1.1" stroke-dasharray="3.2,2"/><text x="1918.5" y="121" text-anchor="start" fill="#000" style="font-family:'Liberation Sans','Noto Sans CJK SC',sans-serif;font-size:18px" >ALC-0315</text><text x="1957" y="271.5" text-anchor="start" fill="#000" style="font-family:'Liberation Sans','Noto Sans CJK SC',sans-serif;font-size:18px" >MC3</text><line x1="1389.6" y1="394" x2="1401.6" y2="394" stroke="#000" stroke-width="2.2"/><circle cx="1389.4" cy="394" r="4.2" fill="#000"/><circle cx="1401.8" cy="394" r="4.2" fill="#000"/><path d="M1427.1 253.8V284.7M1420.1 253.8h14M1420.1 284.7h14" stroke="#000" stroke-width="2.2" fill="none"/><circle cx="1427.1" cy="256.6" r="4.2" fill="#000"/><circle cx="1427.1" cy="278.5" r="4.2" fill="#000"/><path d="M1458.5 106.5V119.7M1451.5 106.5h14M1451.5 119.7h14" stroke="#000" stroke-width="2.2" fill="none"/><circle cx="1458.5" cy="109.3" r="4.2" fill="#000"/><circle cx="1458.5" cy="117.6" r="4.2" fill="#000"/><path d="M1490 215V220M1483 215h14M1483 220h14" stroke="#000" stroke-width="2.2" fill="none"/><circle cx="1484.2" cy="218.7" r="4.2" fill="#000"/><circle cx="1496.6" cy="215.8" r="4.2" fill="#000"/><path d="M1521.4 182.8V191M1514.4 182.8h14M1514.4 191h14" stroke="#000" stroke-width="2.2" fill="none"/><circle cx="1515.1" cy="189.8" r="4.2" fill="#000"/><circle cx="1527.5" cy="183.6" r="4.2" fill="#000"/><path d="M1552.9 193.1V224M1545.9 193.1h14M1545.9 224h14" stroke="#000" stroke-width="2.2" fill="none"/><circle cx="1552.9" cy="197.2" r="4.2" fill="#000"/><circle cx="1552.9" cy="217.4" r="4.2" fill="#000"/><path d="M1584.4 219.5V225M1577.4 219.5h14M1577.4 225h14" stroke="#000" stroke-width="2.2" fill="none"/><circle cx="1577.8" cy="224" r="4.2" fill="#000"/><circle cx="1590.2" cy="219.9" r="4.2" fill="#000"/><path d="M1615.8 248.8V270.3M1608.8 248.8h14M1608.8 270.3h14" stroke="#000" stroke-width="2.2" fill="none"/><circle cx="1615.8" cy="250.9" r="4.2" fill="#000"/><circle cx="1615.8" cy="266.1" r="4.2" fill="#000"/><line x1="1641.3" y1="97" x2="1653.3" y2="97" stroke="#000" stroke-width="2.2"/><circle cx="1641.1" cy="97" r="4.2" fill="#000"/><circle cx="1653.5" cy="97" r="4.2" fill="#000"/><path d="M1678.7 331.3V351.5M1671.7 331.3h14M1671.7 351.5h14" stroke="#000" stroke-width="2.2" fill="none"/><circle cx="1678.7" cy="334.2" r="4.2" fill="#000"/><circle cx="1678.7" cy="346.6" r="4.2" fill="#000"/><path d="M1710.2 178.7V197.2M1703.2 178.7h14M1703.2 197.2h14" stroke="#000" stroke-width="2.2" fill="none"/><circle cx="1710.2" cy="180.7" r="4.2" fill="#000"/><circle cx="1710.2" cy="193.1" r="4.2" fill="#000"/><path d="M1741.7 186.5V225.7M1734.7 186.5h14M1734.7 225.7h14" stroke="#000" stroke-width="2.2" fill="none"/><circle cx="1741.7" cy="189.8" r="4.2" fill="#000"/><circle cx="1741.7" cy="215.4" r="4.2" fill="#000"/><path d="M1773.1 176.6V211.3M1766.1 176.6h14M1766.1 211.3h14" stroke="#000" stroke-width="2.2" fill="none"/><circle cx="1773.1" cy="179.5" r="4.2" fill="#000"/><circle cx="1773.1" cy="203" r="4.2" fill="#000"/><path d="M1804.6 143.2V170.4M1797.6 143.2h14M1797.6 170.4h14" stroke="#000" stroke-width="2.2" fill="none"/><circle cx="1804.6" cy="146.5" r="4.2" fill="#000"/><circle cx="1804.6" cy="164.2" r="4.2" fill="#000"/><path d="M1836 218.7V234M1829 218.7h14M1829 234h14" stroke="#000" stroke-width="2.2" fill="none"/><circle cx="1836" cy="220.7" r="4.2" fill="#000"/><circle cx="1836" cy="231" r="4.2" fill="#000"/><path d="M1867.5 312.3V359M1860.5 312.3h14M1860.5 359h14" stroke="#000" stroke-width="2.2" fill="none"/><circle cx="1867.5" cy="315.6" r="4.2" fill="#000"/><circle cx="1867.5" cy="346.6" r="4.2" fill="#000"/><path d="M1899 319V342.5M1892 319h14M1892 342.5h14" stroke="#000" stroke-width="2.2" fill="none"/><circle cx="1899" cy="321" r="4.2" fill="#000"/><circle cx="1899" cy="337.5" r="4.2" fill="#000"/><path d="M1930.4 293.8V330.1M1923.4 293.8h14M1923.4 330.1h14" stroke="#000" stroke-width="2.2" fill="none"/><circle cx="1930.4" cy="296.3" r="4.2" fill="#000"/><circle cx="1930.4" cy="321.8" r="4.2" fill="#000"/><path d="M1375.1 34.3V418.8H1952.6" stroke="#000" stroke-width="2.3" fill="none"/><text x="1355" y="424.8" text-anchor="end" fill="#000" style="font-family:'Liberation Sans','Noto Sans CJK SC',sans-serif;font-size:16.5px" >0</text><text x="1355" y="296.6" text-anchor="end" fill="#000" style="font-family:'Liberation Sans','Noto Sans CJK SC',sans-serif;font-size:16.5px" >5</text><text x="1355" y="168.4" text-anchor="end" fill="#000" style="font-family:'Liberation Sans','Noto Sans CJK SC',sans-serif;font-size:16.5px" >10</text><text x="1355" y="40.2" text-anchor="end" fill="#000" style="font-family:'Liberation Sans','Noto Sans CJK SC',sans-serif;font-size:16.5px" >15</text><path d="M1359.5 418.8H1375.1M1359.5 290.6H1375.1M1359.5 162.4H1375.1M1359.5 34.2H1375.1M1395.6 418.8V425.5M1427.1 418.8V425.5M1458.5 418.8V425.5M1490 418.8V425.5M1521.4 418.8V425.5M1552.9 418.8V425.5M1584.4 418.8V425.5M1615.8 418.8V425.5M1647.3 418.8V425.5M1678.7 418.8V425.5M1710.2 418.8V425.5M1741.7 418.8V425.5M1773.1 418.8V425.5M1804.6 418.8V425.5M1836 418.8V425.5M1867.5 418.8V425.5M1899 418.8V425.5M1930.4 418.8V425.5" stroke="#000" stroke-width="2.2" fill="none"/><text x="0" y="0" text-anchor="end" transform="translate(1403.1 439) rotate(-45)" style="font-family:'Liberation Sans','Noto Sans CJK SC',sans-serif;font-size:19px">Untreated</text><text x="0" y="0" text-anchor="end" transform="translate(1434.6 439) rotate(-45)" style="font-family:'Liberation Sans','Noto Sans CJK SC',sans-serif;font-size:19px">MC3</text><text x="0" y="0" text-anchor="end" transform="translate(1466 439) rotate(-45)" style="font-family:'Liberation Sans','Noto Sans CJK SC',sans-serif;font-size:19px">ALC-0315</text><text x="0" y="0" text-anchor="end" transform="translate(1497.5 439) rotate(-45)" style="font-family:'Liberation Sans','Noto Sans CJK SC',sans-serif;font-size:19px">R1</text><text x="0" y="0" text-anchor="end" transform="translate(1528.9 439) rotate(-45)" style="font-family:'Liberation Sans','Noto Sans CJK SC',sans-serif;font-size:19px">R2</text><text x="0" y="0" text-anchor="end" transform="translate(1560.4 439) rotate(-45)" style="font-family:'Liberation Sans','Noto Sans CJK SC',sans-serif;font-size:19px">R3</text><text x="0" y="0" text-anchor="end" transform="translate(1591.9 439) rotate(-45)" style="font-family:'Liberation Sans','Noto Sans CJK SC',sans-serif;font-size:19px">R4</text><text x="0" y="0" text-anchor="end" transform="translate(1623.3 439) rotate(-45)" style="font-family:'Liberation Sans','Noto Sans CJK SC',sans-serif;font-size:19px">R5</text><text x="0" y="0" text-anchor="end" transform="translate(1654.8 439) rotate(-45)" style="font-family:'Liberation Sans','Noto Sans CJK SC',sans-serif;font-size:19px">R6</text><text x="0" y="0" text-anchor="end" transform="translate(1686.2 439) rotate(-45)" style="font-family:'Liberation Sans','Noto Sans CJK SC',sans-serif;font-size:19px">R7</text><text x="0" y="0" text-anchor="end" transform="translate(1717.7 439) rotate(-45)" style="font-family:'Liberation Sans','Noto Sans CJK SC',sans-serif;font-size:19px">R8</text><text x="0" y="0" text-anchor="end" transform="translate(1749.2 439) rotate(-45)" style="font-family:'Liberation Sans','Noto Sans CJK SC',sans-serif;font-size:19px">R9</text><text x="0" y="0" text-anchor="end" transform="translate(1780.6 439) rotate(-45)" style="font-family:'Liberation Sans','Noto Sans CJK SC',sans-serif;font-size:19px">R10</text><text x="0" y="0" text-anchor="end" transform="translate(1812.1 439) rotate(-45)" style="font-family:'Liberation Sans','Noto Sans CJK SC',sans-serif;font-size:19px">R11</text><text x="0" y="0" text-anchor="end" transform="translate(1843.5 439) rotate(-45)" style="font-family:'Liberation Sans','Noto Sans CJK SC',sans-serif;font-size:19px">R12</text><text x="0" y="0" text-anchor="end" transform="translate(1875 439) rotate(-45)" style="font-family:'Liberation Sans','Noto Sans CJK SC',sans-serif;font-size:19px">R13</text><text x="0" y="0" text-anchor="end" transform="translate(1906.5 439) rotate(-45)" style="font-family:'Liberation Sans','Noto Sans CJK SC',sans-serif;font-size:19px">R14</text><text x="0" y="0" text-anchor="end" transform="translate(1937.9 439) rotate(-45)" style="font-family:'Liberation Sans','Noto Sans CJK SC',sans-serif;font-size:19px">R15</text><text x="0" y="0" text-anchor="middle" transform="translate(1328.8 244.4) rotate(-90)" style="font-family:'Liberation Sans','Noto Sans CJK SC',sans-serif;font-size:22px">mTP</text><rect x="126.8" y="939" width="42.3" height="178.7" fill="#ad88b5" stroke="#000" stroke-width="2"/><rect x="190.7" y="861.1" width="42.4" height="256.6" fill="#a8aacb" stroke="#000" stroke-width="2"/><rect x="254.7" y="808.1" width="42.6" height="309.6" fill="#9ac4cd" stroke="#000" stroke-width="2"/><rect x="360.7" y="735.4" width="42.3" height="382.3" fill="#ad88b5" stroke="#000" stroke-width="2"/><rect x="424.6" y="763.7" width="42.7" height="354" fill="#a8aacb" stroke="#000" stroke-width="2"/><rect x="488.9" y="823.4" width="42.3" height="294.3" fill="#9ac4cd" stroke="#000" stroke-width="2"/><path d="M148.1 930.4V948.6M136.6 930.4h23M136.6 948.6h23" stroke="#000" stroke-width="2.6" fill="none"/><path d="M211.4 829.4V891.5M199.9 829.4h23M199.9 891.5h23" stroke="#000" stroke-width="2.6" fill="none"/><path d="M275.6 793.6V825.1M264.1 793.6h23M264.1 825.1h23" stroke="#000" stroke-width="2.6" fill="none"/><path d="M381.9 718.9V751.3M370.4 718.9h23M370.4 751.3h23" stroke="#000" stroke-width="2.6" fill="none"/><path d="M445.8 754.2V772.3M434.3 754.2h23M434.3 772.3h23" stroke="#000" stroke-width="2.6" fill="none"/><path d="M509.5 809.7V834.6M498 809.7h23M498 834.6h23" stroke="#000" stroke-width="2.6" fill="none"/><path d="M143.9 919h8.4v8.4h-8.4zM126.6 936.3h8.4v8.4h-8.4zM160.6 930.5h8.4v8.4h-8.4zM143.9 936.3h8.4v8.4h-8.4zM126.6 946.4h8.4v8.4h-8.4zM160.6 941.5h8.4v8.4h-8.4zM207.2 819.9h8.4v8.4h-8.4zM198.2 832.5h8.4v8.4h-8.4zM216.3 835.3h8.4v8.4h-8.4zM198.2 875.6h8.4v8.4h-8.4zM216.3 883h8.4v8.4h-8.4zM207.2 891.4h8.4v8.4h-8.4zM280.3 783.1h8.4v8.4h-8.4zM262.6 790h8.4v8.4h-8.4zM280.3 805.2h8.4v8.4h-8.4zM262.6 808.3h8.4v8.4h-8.4zM262.6 819.9h8.4v8.4h-8.4zM280.3 818.8h8.4v8.4h-8.4z" fill="#000"/><circle cx="381.9" cy="706.6" r="4.6" fill="#000"/><circle cx="364.9" cy="734.3" r="4.6" fill="#000"/><circle cx="381.9" cy="731.3" r="4.6" fill="#000"/><circle cx="398.9" cy="738.8" r="4.6" fill="#000"/><circle cx="381.9" cy="744" r="4.6" fill="#000"/><circle cx="381.9" cy="755.8" r="4.6" fill="#000"/><circle cx="445.8" cy="748.5" r="4.6" fill="#000"/><circle cx="429" cy="759.2" r="4.6" fill="#000"/><circle cx="462.4" cy="759.9" r="4.6" fill="#000"/><circle cx="445.8" cy="767.1" r="4.6" fill="#000"/><circle cx="429" cy="773.9" r="4.6" fill="#000"/><circle cx="462.4" cy="771.2" r="4.6" fill="#000"/><circle cx="509.5" cy="803.4" r="4.6" fill="#000"/><circle cx="493" cy="821.5" r="4.6" fill="#000"/><circle cx="526.2" cy="825.6" r="4.6" fill="#000"/><circle cx="509.5" cy="817" r="4.6" fill="#000"/><circle cx="509.5" cy="829.4" r="4.6" fill="#000"/><circle cx="509.5" cy="839.6" r="4.6" fill="#000"/><path d="M104.2 670.1V1117.7H552.2" stroke="#000" stroke-width="3.2" fill="none"/><text x="81.5" y="1128.7" text-anchor="end" fill="#000" style="font-family:'Liberation Sans','Noto Sans CJK SC',sans-serif;font-size:30.5px" >0</text><text x="81.5" y="1016.8" text-anchor="end" fill="#000" style="font-family:'Liberation Sans','Noto Sans CJK SC',sans-serif;font-size:30.5px" >3</text><text x="81.5" y="904.9" text-anchor="end" fill="#000" style="font-family:'Liberation Sans','Noto Sans CJK SC',sans-serif;font-size:30.5px" >6</text><text x="81.5" y="793" text-anchor="end" fill="#000" style="font-family:'Liberation Sans','Noto Sans CJK SC',sans-serif;font-size:30.5px" >9</text><text x="81.5" y="681.1" text-anchor="end" fill="#000" style="font-family:'Liberation Sans','Noto Sans CJK SC',sans-serif;font-size:30.5px" >12</text><path d="M87.3 1117.7H104.2M87.3 1005.8H104.2M87.3 893.9H104.2M87.3 782H104.2M87.3 670.1H104.2M147.9 1117.7V1135M211.9 1117.7V1135M276 1117.7V1135M381.9 1117.7V1135M446 1117.7V1135M510.1 1117.7V1135" stroke="#000" stroke-width="3" fill="none"/><text x="147.9" y="1161.8" text-anchor="middle" fill="#000" style="font-family:'Liberation Sans','Noto Sans CJK SC',sans-serif;font-size:30.5px" >H9</text><text x="211.9" y="1161.8" text-anchor="middle" fill="#000" style="font-family:'Liberation Sans','Noto Sans CJK SC',sans-serif;font-size:30.5px" >MC3</text><text x="276" y="1161.8" text-anchor="middle" fill="#000" style="font-family:'Liberation Sans','Noto Sans CJK SC',sans-serif;font-size:30.5px" >R6</text><text x="381.9" y="1161.8" text-anchor="middle" fill="#000" style="font-family:'Liberation Sans','Noto Sans CJK SC',sans-serif;font-size:30.5px" >H9</text><text x="446" y="1161.8" text-anchor="middle" fill="#000" style="font-family:'Liberation Sans','Noto Sans CJK SC',sans-serif;font-size:30.5px" >MC3</text><text x="510.1" y="1161.8" text-anchor="middle" fill="#000" style="font-family:'Liberation Sans','Noto Sans CJK SC',sans-serif;font-size:30.5px" >R6</text><path d="M118.7 1181.6H298.8M352.6 1181.6H532.6M135.7 743.7H284.4M378.5 669H528.5" stroke="#000" stroke-width="2.8" stroke-linecap="round" fill="none"/><text x="209.2" y="1219.5" text-anchor="middle" fill="#231815" style="font-family:'Liberation Sans','Noto Sans CJK SC',sans-serif;font-size:30.5px" >RAW 264.7</text><text x="439.2" y="1220" text-anchor="middle" fill="#231815" style="font-family:'Liberation Sans','Noto Sans CJK SC',sans-serif;font-size:30.5px" >HeLa</text><text x="216.5" y="690.5" text-anchor="middle" fill="#000" style="font-family:'Liberation Sans','Noto Sans CJK SC',sans-serif;font-size:23.5px" >P＜0.0001</text><text x="455" y="612.4" text-anchor="middle" fill="#000" style="font-family:'Liberation Sans','Noto Sans CJK SC',sans-serif;font-size:23.5px" >P＜0.0001</text><text x="210" y="744.5" text-anchor="middle" fill="#000" style="font-family:'Liberation Sans','Noto Sans CJK SC',sans-serif;font-size:48px;font-weight:bold" >****</text><text x="448.7" y="667" text-anchor="middle" fill="#000" style="font-family:'Liberation Sans','Noto Sans CJK SC',sans-serif;font-size:48px;font-weight:bold" >****</text><text x="0" y="0" text-anchor="middle" transform="translate(25.3 905.4) rotate(-90)" style="font-family:'Liberation Sans','Noto Sans CJK SC',sans-serif;font-size:29.5px">mTP</text><rect x="666.2" y="594.3" width="150.4" height="150.4" fill="#000"/><rect x="819.5" y="594.3" width="150.4" height="150.4" fill="#000"/><rect x="974.2" y="594.3" width="150.4" height="150.4" fill="#000"/><rect x="1128.9" y="594.3" width="150.4" height="150.4" fill="#000"/><g transform="translate(666.2 594.3)" clip-path="url(#pc)"><use href="#b0"/></g><g transform="translate(819.5 594.3)" clip-path="url(#pc)"><use href="#g0"/><use href="#h0"/></g><g transform="translate(974.2 594.3)" clip-path="url(#pc)"><use href="#g0"/><use href="#b0"/></g><g transform="translate(1128.9 594.3)" clip-path="url(#pc)"><g transform="scale(2.0860) translate(0 -7.3)"><use href="#cg0"/><use href="#cb0"/></g></g><g transform="translate(974.2 594.3)" stroke="#fff" stroke-width="1.5" fill="none" stroke-dasharray="4.6,2.6" clip-path="url(#pc)"><rect x="0.8" y="7.3" width="71.3" height="72.1"/><path d="M72.1 7.3L154.7 0M72.1 79.4L154.7 150.4"/></g><text x="670.7" y="736.6" fill="#fff" style="font-family:'Liberation Sans','Noto Sans CJK SC',sans-serif;font-size:6.8px;font-weight:bold">20 µm</text><rect x="673.2" y="739.6" width="15" height="1.6" fill="#fff"/><text x="824" y="736.6" fill="#fff" style="font-family:'Liberation Sans','Noto Sans CJK SC',sans-serif;font-size:6.8px;font-weight:bold">20 µm</text><rect x="826.5" y="739.6" width="15" height="1.6" fill="#fff"/><text x="978.7" y="736.6" fill="#fff" style="font-family:'Liberation Sans','Noto Sans CJK SC',sans-serif;font-size:6.8px;font-weight:bold">20 µm</text><rect x="981.2" y="739.6" width="15" height="1.6" fill="#fff"/><rect x="628.8" y="595.8" width="30.6" height="148.9" fill="#fff" stroke="#3a302c" stroke-width="1.8"/><text x="0" y="0" text-anchor="middle" transform="translate(650.8 670.5) rotate(-90)" style="font-family:'Liberation Sans','Noto Sans CJK SC',sans-serif;font-size:18.2px">R6 LNPs</text><rect x="666.2" y="747.4" width="150.4" height="150.4" fill="#000"/><rect x="819.5" y="747.4" width="150.4" height="150.4" fill="#000"/><rect x="974.2" y="747.4" width="150.4" height="150.4" fill="#000"/><rect x="1128.9" y="747.4" width="150.4" height="150.4" fill="#000"/><g transform="translate(666.2 747.4)" clip-path="url(#pc)"><use href="#b1"/></g><g transform="translate(819.5 747.4)" clip-path="url(#pc)"><use href="#g1"/><use href="#h1"/></g><g transform="translate(974.2 747.4)" clip-path="url(#pc)"><use href="#g1"/><use href="#b1"/></g><g transform="translate(1128.9 747.4)" clip-path="url(#pc)"><g transform="scale(2.0860) translate(-22.5 -35.7)"><use href="#cg1"/><use href="#cb1"/></g></g><g transform="translate(974.2 747.4)" stroke="#fff" stroke-width="1.5" fill="none" stroke-dasharray="4.6,2.6" clip-path="url(#pc)"><rect x="23.3" y="35.7" width="71.3" height="72.1"/><path d="M94.6 35.7L154.7 0M94.6 107.8L154.7 150.4"/></g><text x="794.7" y="889.7" fill="#fff" style="font-family:'Liberation Sans','Noto Sans CJK SC',sans-serif;font-size:6.8px;font-weight:bold">20 µm</text><rect x="797.2" y="892.7" width="15" height="1.6" fill="#fff"/><text x="948" y="889.7" fill="#fff" style="font-family:'Liberation Sans','Noto Sans CJK SC',sans-serif;font-size:6.8px;font-weight:bold">20 µm</text><rect x="950.5" y="892.7" width="15" height="1.6" fill="#fff"/><text x="1102.7" y="889.7" fill="#fff" style="font-family:'Liberation Sans','Noto Sans CJK SC',sans-serif;font-size:6.8px;font-weight:bold">20 µm</text><rect x="1105.2" y="892.7" width="15" height="1.6" fill="#fff"/><rect x="628.8" y="748.9" width="30.6" height="148.9" fill="#fff" stroke="#3a302c" stroke-width="1.8"/><text x="0" y="0" text-anchor="middle" transform="translate(650.8 823.6) rotate(-90)" style="font-family:'Liberation Sans','Noto Sans CJK SC',sans-serif;font-size:18.2px">ALC-0315 LNPs</text><rect x="666.2" y="901" width="150.4" height="150.4" fill="#000"/><rect x="819.5" y="901" width="150.4" height="150.4" fill="#000"/><rect x="974.2" y="901" width="150.4" height="150.4" fill="#000"/><rect x="1128.9" y="901" width="150.4" height="150.4" fill="#000"/><g transform="translate(666.2 901)" clip-path="url(#pc)"><use href="#b2"/></g><g transform="translate(819.5 901)" clip-path="url(#pc)"><use href="#g2"/><use href="#h2"/></g><g transform="translate(974.2 901)" clip-path="url(#pc)"><use href="#g2"/><use href="#b2"/></g><g transform="translate(1128.9 901)" clip-path="url(#pc)"><g transform="scale(2.0860) translate(-32.6 -34)"><use href="#cg2"/><use href="#cb2"/></g></g><g transform="translate(974.2 901)" stroke="#fff" stroke-width="1.5" fill="none" stroke-dasharray="4.6,2.6" clip-path="url(#pc)"><rect x="33.4" y="34" width="71.3" height="72.2"/><path d="M104.7 34L154.7 0M104.7 106.2L154.7 150.4"/></g><text x="794.7" y="1043.3" fill="#fff" style="font-family:'Liberation Sans','Noto Sans CJK SC',sans-serif;font-size:6.8px;font-weight:bold">20 µm</text><rect x="797.2" y="1046.3" width="15" height="1.6" fill="#fff"/><text x="948" y="1043.3" fill="#fff" style="font-family:'Liberation Sans','Noto Sans CJK SC',sans-serif;font-size:6.8px;font-weight:bold">20 µm</text><rect x="950.5" y="1046.3" width="15" height="1.6" fill="#fff"/><text x="1102.7" y="1043.3" fill="#fff" style="font-family:'Liberation Sans','Noto Sans CJK SC',sans-serif;font-size:6.8px;font-weight:bold">20 µm</text><rect x="1105.2" y="1046.3" width="15" height="1.6" fill="#fff"/><rect x="628.8" y="902.5" width="30.6" height="148.9" fill="#fff" stroke="#3a302c" stroke-width="1.8"/><text x="0" y="0" text-anchor="middle" transform="translate(650.8 977.2) rotate(-90)" style="font-family:'Liberation Sans','Noto Sans CJK SC',sans-serif;font-size:18.2px">MC3 LNPs</text><rect x="666.2" y="1054.4" width="150.4" height="150.4" fill="#000"/><rect x="819.5" y="1054.4" width="150.4" height="150.4" fill="#000"/><rect x="974.2" y="1054.4" width="150.4" height="150.4" fill="#000"/><rect x="1128.9" y="1054.4" width="150.4" height="150.4" fill="#000"/><g transform="translate(666.2 1054.4)" clip-path="url(#pc)"><use href="#b3"/></g><g transform="translate(819.5 1054.4)" clip-path="url(#pc)"><use href="#g3"/><use href="#h3"/></g><g transform="translate(974.2 1054.4)" clip-path="url(#pc)"><use href="#g3"/><use href="#b3"/></g><g transform="translate(1128.9 1054.4)" clip-path="url(#pc)"><g transform="scale(2.0860) translate(-51.9 -13.2)"><use href="#cg3"/><use href="#cb3"/></g></g><g transform="translate(974.2 1054.4)" stroke="#fff" stroke-width="1.5" fill="none" stroke-dasharray="4.6,2.6" clip-path="url(#pc)"><rect x="52.7" y="13.2" width="71.3" height="72.1"/><path d="M124 13.2L154.7 0M124 85.3L154.7 150.4"/></g><text x="794.7" y="1196.7" fill="#fff" style="font-family:'Liberation Sans','Noto Sans CJK SC',sans-serif;font-size:6.8px;font-weight:bold">20 µm</text><rect x="797.2" y="1199.7" width="15" height="1.6" fill="#fff"/><text x="948" y="1196.7" fill="#fff" style="font-family:'Liberation Sans','Noto Sans CJK SC',sans-serif;font-size:6.8px;font-weight:bold">20 µm</text><rect x="950.5" y="1199.7" width="15" height="1.6" fill="#fff"/><text x="1102.7" y="1196.7" fill="#fff" style="font-family:'Liberation Sans','Noto Sans CJK SC',sans-serif;font-size:6.8px;font-weight:bold">20 µm</text><rect x="1105.2" y="1199.7" width="15" height="1.6" fill="#fff"/><rect x="628.8" y="1055.9" width="30.6" height="148.9" fill="#fff" stroke="#3a302c" stroke-width="1.8"/><text x="0" y="0" text-anchor="middle" transform="translate(650.8 1130.6) rotate(-90)" style="font-family:'Liberation Sans','Noto Sans CJK SC',sans-serif;font-size:18.2px">H9 LNPs</text><rect x="667.1" y="562.2" width="149.2" height="27.8" fill="#fff" stroke="#3a302c" stroke-width="1.8"/><text x="741.7" y="584" text-anchor="middle" fill="#1d3f9e" style="font-family:'Liberation Sans','Noto Sans CJK SC',sans-serif;font-size:17.5px" >DAPI</text><rect x="821.1" y="562.2" width="149.2" height="27.8" fill="#fff" stroke="#3a302c" stroke-width="1.8"/><text x="895.7" y="584" text-anchor="middle" fill="#1a9a3c" style="font-family:'Liberation Sans','Noto Sans CJK SC',sans-serif;font-size:17.5px" >GFP</text><rect x="974.1" y="562.2" width="149.2" height="27.8" fill="#fff" stroke="#3a302c" stroke-width="1.8"/><text x="1048.7" y="584" text-anchor="middle" fill="#87309a" style="font-family:'Liberation Sans','Noto Sans CJK SC',sans-serif;font-size:17.5px" >Merged</text><rect x="1127.6" y="562.2" width="149.2" height="27.8" fill="#fff" stroke="#3a302c" stroke-width="1.8"/><text x="1202.2" y="584" text-anchor="middle" fill="#ee701c" style="font-family:'Liberation Sans','Noto Sans CJK SC',sans-serif;font-size:17.5px" >Cropped</text><path d="M1371.8 686.7 1373.8 686.7 1375.8 686.7 1377.8 686.7 1379.8 686.7 1381.8 686.7 1383.8 686.7 1385.8 686.7 1387.8 686.7 1389.8 686.7 1391.8 686.7 1393.8 686.7 1395.8 686.7 1397.8 686.7 1399.8 686.7 1401.8 686.7 1403.8 686.7 1405.8 686.7 1407.8 686.7 1409.8 686.7 1411.8 686.7 1413.8 686.7 1415.8 686.7 1417.8 686.7 1419.8 686.7 1421.8 686.7 1423.8 686.7 1425.8 686.7 1427.8 686.7 1429.8 686.7 1431.8 686.7 1433.8 686.7 1435.8 686.7 1437.8 686.7 1439.8 686.7 1441.8 686.7 1443.8 686.7 1445.8 686.7 1447.8 686.7 1449.8 686.7 1451.8 686.7 1453.8 686.7 1455.8 686.5 1457.8 685.1 1459.8 682.5 1461.8 683.5 1463.8 683.2 1465.8 682.8 1467.8 684.6 1469.8 683.1 1471.8 682.6 1473.8 681.8 1475.8 685 1477.8 684.1 1479.8 685 1481.8 681.7 1483.8 682.2 1485.8 685.2 1487.8 680.8 1489.8 680.9 1491.8 682.4 1493.8 682.5 1495.8 684.7 1497.8 685.3 1499.8 682.9 1501.8 685.1 1503.8 684.5 1505.8 684.2 1507.8 685.2 1509.8 683.2 1511.8 683.3 1513.8 681.4 1515.8 682.9 1517.8 682.3 1519.8 683 1521.8 682.2 1523.8 683.1 1525.8 684 1527.8 680.6 1529.8 680.6 1531.8 681.3 1533.8 681.9 1535.8 683.6 1537.8 683.7 1539.8 683 1541.8 683.8 1543.8 679.9 1545.8 681.4 1547.8 678.6 1549.8 680.7 1551.8 677.1 1553.8 677.4 1555.8 681.4 1557.8 679.3 1559.8 673.8 1561.8 675.7 1563.8 671.1 1565.8 674.3 1567.8 675.8 1569.8 670.5 1571.8 668.2 1573.8 671.4 1575.8 672 1577.8 668.5 1579.8 660.5 1581.8 660.2 1583.8 663.9 1585.8 660.5 1587.8 659.6 1589.8 657.7 1591.8 648.6 1593.8 651.9 1595.8 646 1597.8 644.3 1599.8 643.9 1601.8 636.2 1603.8 639 1605.8 633.2 1607.8 638 1609.8 635.2 1611.8 637.1 1613.8 636.6 1615.8 629.4 1617.8 630.2 1619.8 634 1621.8 627.9 1623.8 634.2 1625.8 634 1627.8 631.2 1629.8 634.6 1631.8 641.1 1633.8 632.4 1635.8 638.6 1637.8 637.2 1639.8 631.6 1641.8 635.7 1643.8 640 1645.8 646 1647.8 649.9 1649.8 647.7 1651.8 652.5 1653.8 651 1655.8 654.9 1657.8 655.8 1659.8 652.6 1661.8 658.3 1663.8 658.9 1665.8 657.6 1667.8 665.3 1669.8 666.8 1671.8 660.9 1673.8 662.7 1675.8 668.9 1677.8 670.4 1679.8 666.6 1681.8 665.8 1683.8 672.8 1685.8 667.5 1687.8 669 1689.8 671.9 1691.8 674.1 1693.8 676.8 1695.8 677.6 1697.8 671.5 1699.8 677 1701.8 674.2 1703.8 677.6 1705.8 674.2 1707.8 676.1 1709.8 678.5 1711.8 679.6 1713.8 676.6 1715.8 681.1 1717.8 680.9 1719.8 679.9 1721.8 679.2 1723.8 681.3 1725.8 683.7 1727.8 681.6 1729.8 685.3 1731.8 686.4 1733.8 685.5 1735.8 685 1737.8 686.7 1739.8 686.5 1741.8 685.7 1743.8 684.9 1745.8 686.7 1747.8 685.8 1749.8 683.6 1751.8 683.3 1753.8 684.6 1755.8 684.5 1757.8 685 1759.8 686.7 1761.8 686.7 1763.8 686.7 1765.8 683.8 1767.8 684.6 1769.8 683.6 1771.8 686.7 1773.8 685 1775.8 685.6 1777.8 684.6 1779.8 686.3 1781.8 683.6 1783.8 686.7 1785.8 685.5 1787.8 684.7 1789.8 684.1 1791.8 685 1793.8 685.3 1795.8 685.2 1797.8 686.5 1799.8 686.7 1801.8 686.7 1803.8 686.7 1805.8 686.7 1807.8 686.7 1809.8 686.7 1811.8 686.7 1813.8 686.7 1815.8 686.7 1817.8 686.7 1819.8 686.7 1821.8 686.7 1823.8 686.7 1825.8 686.7 1827.8 686.7 1829.8 686.7 1831.8 686.7 1833.8 686.7 1835.8 686.7 1837.8 686.7 1839.8 686.7 1841.8 686.7 1843.8 686.7 1845.8 686.7 1847.8 686.7 1849.8 686.7 1851.8 686.7 1853.8 686.7 1855.8 686.7 1857.8 686.7 1859.8 686.7 1861.8 686.7 1863.8 686.7 1865.8 686.7 1867.8 686.7 1869.8 686.7 1871.8 686.7 1873.8 686.7 1875.8 686.7 1877.8 686.7 1879.8 686.7 1881.8 686.7 1883.8 686.7 1885.8 686.7 1887.8 686.7 1889.8 686.7 1891.8 686.7 1893.8 686.7 1895.8 686.7 1897.8 686.7 1899.8 686.7 1901.8 686.7 1903.8 686.7 1905.8 686.7 1907.8 686.7 1909.8 686.7 1911.8 686.7 1913.8 686.7 1915.8 686.7 1917.8 686.7 1919.8 686.7 1921.8 686.7 1923.8 686.7 1925.8 686.7 1927.8 686.7 1929.8 686.7 1931.8 686.7 1933.8 686.7 1935.8 686.7 1937.8 686.7 1939.8 686.7 1941.8 686.7 1943.8 686.7 1945.8 686.7 1947.8 686.7 1949.8 686.7 1951.8 686.7 1953.8 686.7 1955.8 686.7 1957.8 686.7 1959.8 686.7 1961.8 686.7 1963.8 686.7 1965.8 686.7 1967.8 686.7 1969.8 686.7 1971.8 686.7 1973.8 686.7 1975.8 686.7 1977.8 686.7L1978.8 686.7L1371.8 686.7Z" fill="#a4a6cd"/><path d="M1371.8 686.7 1373.8 686.7 1375.8 686.7 1377.8 686.7 1379.8 686.7 1381.8 686.7 1383.8 686.7 1385.8 686.7 1387.8 686.7 1389.8 686.7 1391.8 686.7 1393.8 686.7 1395.8 686.7 1397.8 686.7 1399.8 686.7 1401.8 686.7 1403.8 686.7 1405.8 686.7 1407.8 686.7 1409.8 686.7 1411.8 686.7 1413.8 686.7 1415.8 686.7 1417.8 686.7 1419.8 686.7 1421.8 686.7 1423.8 686.7 1425.8 686.7 1427.8 686.7 1429.8 686.7 1431.8 686.7 1433.8 686.7 1435.8 686.7 1437.8 686.7 1439.8 686.7 1441.8 686.7 1443.8 686.7 1445.8 686.7 1447.8 686.7 1449.8 686.7 1451.8 686.7 1453.8 686.7 1455.8 686.5 1457.8 685.1 1459.8 682.5 1461.8 683.5 1463.8 683.2 1465.8 682.8 1467.8 684.6 1469.8 683.1 1471.8 682.6 1473.8 681.8 1475.8 685 1477.8 684.1 1479.8 685 1481.8 681.7 1483.8 682.2 1485.8 685.2 1487.8 680.8 1489.8 680.9 1491.8 682.4 1493.8 682.5 1495.8 684.7 1497.8 685.3 1499.8 682.9 1501.8 685.1 1503.8 684.5 1505.8 684.2 1507.8 685.2 1509.8 683.2 1511.8 683.3 1513.8 681.4 1515.8 682.9 1517.8 682.3 1519.8 683 1521.8 682.2 1523.8 683.1 1525.8 684 1527.8 680.6 1529.8 680.6 1531.8 681.3 1533.8 681.9 1535.8 683.6 1537.8 683.7 1539.8 683 1541.8 683.8 1543.8 679.9 1545.8 681.4 1547.8 678.6 1549.8 680.7 1551.8 677.1 1553.8 677.4 1555.8 681.4 1557.8 679.3 1559.8 673.8 1561.8 675.7 1563.8 671.1 1565.8 674.3 1567.8 675.8 1569.8 670.5 1571.8 668.2 1573.8 671.4 1575.8 672 1577.8 668.5 1579.8 660.5 1581.8 660.2 1583.8 663.9 1585.8 660.5 1587.8 659.6 1589.8 657.7 1591.8 648.6 1593.8 651.9 1595.8 646 1597.8 644.3 1599.8 643.9 1601.8 636.2 1603.8 639 1605.8 633.2 1607.8 638 1609.8 635.2 1611.8 637.1 1613.8 636.6 1615.8 629.4 1617.8 630.2 1619.8 634 1621.8 627.9 1623.8 634.2 1625.8 634 1627.8 631.2 1629.8 634.6 1631.8 641.1 1633.8 632.4 1635.8 638.6 1637.8 637.2 1639.8 631.6 1641.8 635.7 1643.8 640 1645.8 646 1647.8 649.9 1649.8 647.7 1651.8 652.5 1653.8 651 1655.8 654.9 1657.8 655.8 1659.8 652.6 1661.8 658.3 1663.8 658.9 1665.8 657.6 1667.8 665.3 1669.8 666.8 1671.8 660.9 1673.8 662.7 1675.8 668.9 1677.8 670.4 1679.8 666.6 1681.8 665.8 1683.8 672.8 1685.8 667.5 1687.8 669 1689.8 671.9 1691.8 674.1 1693.8 676.8 1695.8 677.6 1697.8 671.5 1699.8 677 1701.8 674.2 1703.8 677.6 1705.8 674.2 1707.8 676.1 1709.8 678.5 1711.8 679.6 1713.8 676.6 1715.8 681.1 1717.8 680.9 1719.8 679.9 1721.8 679.2 1723.8 681.3 1725.8 683.7 1727.8 681.6 1729.8 685.3 1731.8 686.4 1733.8 685.5 1735.8 685 1737.8 686.7 1739.8 686.5 1741.8 685.7 1743.8 684.9 1745.8 686.7 1747.8 685.8 1749.8 683.6 1751.8 683.3 1753.8 684.6 1755.8 684.5 1757.8 685 1759.8 686.7 1761.8 686.7 1763.8 686.7 1765.8 683.8 1767.8 684.6 1769.8 683.6 1771.8 686.7 1773.8 685 1775.8 685.6 1777.8 684.6 1779.8 686.3 1781.8 683.6 1783.8 686.7 1785.8 685.5 1787.8 684.7 1789.8 684.1 1791.8 685 1793.8 685.3 1795.8 685.2 1797.8 686.5 1799.8 686.7 1801.8 686.7 1803.8 686.7 1805.8 686.7 1807.8 686.7 1809.8 686.7 1811.8 686.7 1813.8 686.7 1815.8 686.7 1817.8 686.7 1819.8 686.7 1821.8 686.7 1823.8 686.7 1825.8 686.7 1827.8 686.7 1829.8 686.7 1831.8 686.7 1833.8 686.7 1835.8 686.7 1837.8 686.7 1839.8 686.7 1841.8 686.7 1843.8 686.7 1845.8 686.7 1847.8 686.7 1849.8 686.7 1851.8 686.7 1853.8 686.7 1855.8 686.7 1857.8 686.7 1859.8 686.7 1861.8 686.7 1863.8 686.7 1865.8 686.7 1867.8 686.7 1869.8 686.7 1871.8 686.7 1873.8 686.7 1875.8 686.7 1877.8 686.7 1879.8 686.7 1881.8 686.7 1883.8 686.7 1885.8 686.7 1887.8 686.7 1889.8 686.7 1891.8 686.7 1893.8 686.7 1895.8 686.7 1897.8 686.7 1899.8 686.7 1901.8 686.7 1903.8 686.7 1905.8 686.7 1907.8 686.7 1909.8 686.7 1911.8 686.7 1913.8 686.7 1915.8 686.7 1917.8 686.7 1919.8 686.7 1921.8 686.7 1923.8 686.7 1925.8 686.7 1927.8 686.7 1929.8 686.7 1931.8 686.7 1933.8 686.7 1935.8 686.7 1937.8 686.7 1939.8 686.7 1941.8 686.7 1943.8 686.7 1945.8 686.7 1947.8 686.7 1949.8 686.7 1951.8 686.7 1953.8 686.7 1955.8 686.7 1957.8 686.7 1959.8 686.7 1961.8 686.7 1963.8 686.7 1965.8 686.7 1967.8 686.7 1969.8 686.7 1971.8 686.7 1973.8 686.7 1975.8 686.7 1977.8 686.7" fill="none" stroke="#7b2a8c" stroke-width="3.6" stroke-linejoin="round"/><path d="M1371.8 807.7 1373.8 807.7 1375.8 807.7 1377.8 807.7 1379.8 807.7 1381.8 807.7 1383.8 807.7 1385.8 807.7 1387.8 807.7 1389.8 807.7 1391.8 807.7 1393.8 807.7 1395.8 807.7 1397.8 807.7 1399.8 807.7 1401.8 807.7 1403.8 807.7 1405.8 807.7 1407.8 807.7 1409.8 807.7 1411.8 807.7 1413.8 807.7 1415.8 807.7 1417.8 807.7 1419.8 807.7 1421.8 807.7 1423.8 807.7 1425.8 807.7 1427.8 807.7 1429.8 807.7 1431.8 807.7 1433.8 807.7 1435.8 807.7 1437.8 807.7 1439.8 807.7 1441.8 807.7 1443.8 807.7 1445.8 807.7 1447.8 807.7 1449.8 807.7 1451.8 807.7 1453.8 807.4 1455.8 806 1457.8 805.3 1459.8 806.8 1461.8 806.8 1463.8 805.1 1465.8 805.5 1467.8 803.1 1469.8 803.6 1471.8 804 1473.8 804.2 1475.8 803.7 1477.8 806.1 1479.8 804.7 1481.8 806 1483.8 802.5 1485.8 806.4 1487.8 802.9 1489.8 806.3 1491.8 803.5 1493.8 805.1 1495.8 804.8 1497.8 802.8 1499.8 806.5 1501.8 806.3 1503.8 802.4 1505.8 804.3 1507.8 806.2 1509.8 802 1511.8 802.2 1513.8 806.1 1515.8 804.6 1517.8 805.9 1519.8 805.1 1521.8 803.7 1523.8 805.8 1525.8 803.3 1527.8 806.3 1529.8 805.7 1531.8 802.7 1533.8 804.6 1535.8 804.5 1537.8 803.7 1539.8 804.3 1541.8 804.7 1543.8 806.3 1545.8 803.1 1547.8 801.9 1549.8 801.1 1551.8 801 1553.8 801.1 1555.8 800.1 1557.8 797.3 1559.8 796.5 1561.8 799.3 1563.8 797.7 1565.8 796 1567.8 794.1 1569.8 790.9 1571.8 791.4 1573.8 793.5 1575.8 784.5 1577.8 786.1 1579.8 783.3 1581.8 784.1 1583.8 780.7 1585.8 779.6 1587.8 774.5 1589.8 779.2 1591.8 773.2 1593.8 774.3 1595.8 767.2 1597.8 770.9 1599.8 766.4 1601.8 763.4 1603.8 758.4 1605.8 761.9 1607.8 756.7 1609.8 757.5 1611.8 755.3 1613.8 752 1615.8 744.4 1617.8 745.6 1619.8 738.7 1621.8 747 1623.8 741.2 1625.8 747.4 1627.8 750.2 1629.8 746.6 1631.8 746.6 1633.8 756.4 1635.8 755.5 1637.8 752.9 1639.8 759.3 1641.8 762.8 1643.8 767.4 1645.8 769.7 1647.8 767.1 1649.8 766.5 1651.8 769.2 1653.8 776.5 1655.8 783.7 1657.8 783.5 1659.8 780 1661.8 780.4 1663.8 782.9 1665.8 787.5 1667.8 785.6 1669.8 787.1 1671.8 787.3 1673.8 791.9 1675.8 787.7 1677.8 789.8 1679.8 796 1681.8 795.2 1683.8 791.1 1685.8 795.8 1687.8 791.1 1689.8 794.5 1691.8 793.5 1693.8 793.7 1695.8 797.4 1697.8 797.4 1699.8 798.2 1701.8 795.9 1703.8 796.5 1705.8 800.7 1707.8 796.7 1709.8 800.1 1711.8 801.8 1713.8 801.3 1715.8 798.9 1717.8 801.7 1719.8 801.8 1721.8 800.9 1723.8 801.2 1725.8 802.7 1727.8 804.8 1729.8 804.4 1731.8 803.1 1733.8 803.7 1735.8 804.8 1737.8 805.9 1739.8 806 1741.8 804.5 1743.8 805.4 1745.8 807.7 1747.8 805 1749.8 804.3 1751.8 804.9 1753.8 804.6 1755.8 804.7 1757.8 806.4 1759.8 805.5 1761.8 807.2 1763.8 807.7 1765.8 807.5 1767.8 807.7 1769.8 805.5 1771.8 806.5 1773.8 807.2 1775.8 807.5 1777.8 807.6 1779.8 807.7 1781.8 807.7 1783.8 807.7 1785.8 807.7 1787.8 807.7 1789.8 807.7 1791.8 807.7 1793.8 807.7 1795.8 807.7 1797.8 807.7 1799.8 807.7 1801.8 807.7 1803.8 807.7 1805.8 807.7 1807.8 807.7 1809.8 807.7 1811.8 807.7 1813.8 807.7 1815.8 807.7 1817.8 807.7 1819.8 807.7 1821.8 807.7 1823.8 807.7 1825.8 807.7 1827.8 807.7 1829.8 807.7 1831.8 807.7 1833.8 807.7 1835.8 807.7 1837.8 807.7 1839.8 807.7 1841.8 807.7 1843.8 807.7 1845.8 807.7 1847.8 807.7 1849.8 807.7 1851.8 807.7 1853.8 807.7 1855.8 807.7 1857.8 807.7 1859.8 807.7 1861.8 807.7 1863.8 807.7 1865.8 807.7 1867.8 807.7 1869.8 807.7 1871.8 807.7 1873.8 807.7 1875.8 807.7 1877.8 807.7 1879.8 807.7 1881.8 807.7 1883.8 807.7 1885.8 807.7 1887.8 807.7 1889.8 807.7 1891.8 807.7 1893.8 807.7 1895.8 807.7 1897.8 807.7 1899.8 807.7 1901.8 807.7 1903.8 807.7 1905.8 807.7 1907.8 807.7 1909.8 807.7 1911.8 807.7 1913.8 807.7 1915.8 807.7 1917.8 807.7 1919.8 807.7 1921.8 807.7 1923.8 807.7 1925.8 807.7 1927.8 807.7 1929.8 807.7 1931.8 807.7 1933.8 807.7 1935.8 807.7 1937.8 807.7 1939.8 807.7 1941.8 807.7 1943.8 807.7 1945.8 807.7 1947.8 807.7 1949.8 807.7 1951.8 807.7 1953.8 807.7 1955.8 807.7 1957.8 807.7 1959.8 807.7 1961.8 807.7 1963.8 807.7 1965.8 807.7 1967.8 807.7 1969.8 807.7 1971.8 807.7 1973.8 807.7 1975.8 807.7 1977.8 807.7L1978.8 807.7L1371.8 807.7Z" fill="#e0c0dc"/><path d="M1371.8 807.7 1373.8 807.7 1375.8 807.7 1377.8 807.7 1379.8 807.7 1381.8 807.7 1383.8 807.7 1385.8 807.7 1387.8 807.7 1389.8 807.7 1391.8 807.7 1393.8 807.7 1395.8 807.7 1397.8 807.7 1399.8 807.7 1401.8 807.7 1403.8 807.7 1405.8 807.7 1407.8 807.7 1409.8 807.7 1411.8 807.7 1413.8 807.7 1415.8 807.7 1417.8 807.7 1419.8 807.7 1421.8 807.7 1423.8 807.7 1425.8 807.7 1427.8 807.7 1429.8 807.7 1431.8 807.7 1433.8 807.7 1435.8 807.7 1437.8 807.7 1439.8 807.7 1441.8 807.7 1443.8 807.7 1445.8 807.7 1447.8 807.7 1449.8 807.7 1451.8 807.7 1453.8 807.4 1455.8 806 1457.8 805.3 1459.8 806.8 1461.8 806.8 1463.8 805.1 1465.8 805.5 1467.8 803.1 1469.8 803.6 1471.8 804 1473.8 804.2 1475.8 803.7 1477.8 806.1 1479.8 804.7 1481.8 806 1483.8 802.5 1485.8 806.4 1487.8 802.9 1489.8 806.3 1491.8 803.5 1493.8 805.1 1495.8 804.8 1497.8 802.8 1499.8 806.5 1501.8 806.3 1503.8 802.4 1505.8 804.3 1507.8 806.2 1509.8 802 1511.8 802.2 1513.8 806.1 1515.8 804.6 1517.8 805.9 1519.8 805.1 1521.8 803.7 1523.8 805.8 1525.8 803.3 1527.8 806.3 1529.8 805.7 1531.8 802.7 1533.8 804.6 1535.8 804.5 1537.8 803.7 1539.8 804.3 1541.8 804.7 1543.8 806.3 1545.8 803.1 1547.8 801.9 1549.8 801.1 1551.8 801 1553.8 801.1 1555.8 800.1 1557.8 797.3 1559.8 796.5 1561.8 799.3 1563.8 797.7 1565.8 796 1567.8 794.1 1569.8 790.9 1571.8 791.4 1573.8 793.5 1575.8 784.5 1577.8 786.1 1579.8 783.3 1581.8 784.1 1583.8 780.7 1585.8 779.6 1587.8 774.5 1589.8 779.2 1591.8 773.2 1593.8 774.3 1595.8 767.2 1597.8 770.9 1599.8 766.4 1601.8 763.4 1603.8 758.4 1605.8 761.9 1607.8 756.7 1609.8 757.5 1611.8 755.3 1613.8 752 1615.8 744.4 1617.8 745.6 1619.8 738.7 1621.8 747 1623.8 741.2 1625.8 747.4 1627.8 750.2 1629.8 746.6 1631.8 746.6 1633.8 756.4 1635.8 755.5 1637.8 752.9 1639.8 759.3 1641.8 762.8 1643.8 767.4 1645.8 769.7 1647.8 767.1 1649.8 766.5 1651.8 769.2 1653.8 776.5 1655.8 783.7 1657.8 783.5 1659.8 780 1661.8 780.4 1663.8 782.9 1665.8 787.5 1667.8 785.6 1669.8 787.1 1671.8 787.3 1673.8 791.9 1675.8 787.7 1677.8 789.8 1679.8 796 1681.8 795.2 1683.8 791.1 1685.8 795.8 1687.8 791.1 1689.8 794.5 1691.8 793.5 1693.8 793.7 1695.8 797.4 1697.8 797.4 1699.8 798.2 1701.8 795.9 1703.8 796.5 1705.8 800.7 1707.8 796.7 1709.8 800.1 1711.8 801.8 1713.8 801.3 1715.8 798.9 1717.8 801.7 1719.8 801.8 1721.8 800.9 1723.8 801.2 1725.8 802.7 1727.8 804.8 1729.8 804.4 1731.8 803.1 1733.8 803.7 1735.8 804.8 1737.8 805.9 1739.8 806 1741.8 804.5 1743.8 805.4 1745.8 807.7 1747.8 805 1749.8 804.3 1751.8 804.9 1753.8 804.6 1755.8 804.7 1757.8 806.4 1759.8 805.5 1761.8 807.2 1763.8 807.7 1765.8 807.5 1767.8 807.7 1769.8 805.5 1771.8 806.5 1773.8 807.2 1775.8 807.5 1777.8 807.6 1779.8 807.7 1781.8 807.7 1783.8 807.7 1785.8 807.7 1787.8 807.7 1789.8 807.7 1791.8 807.7 1793.8 807.7 1795.8 807.7 1797.8 807.7 1799.8 807.7 1801.8 807.7 1803.8 807.7 1805.8 807.7 1807.8 807.7 1809.8 807.7 1811.8 807.7 1813.8 807.7 1815.8 807.7 1817.8 807.7 1819.8 807.7 1821.8 807.7 1823.8 807.7 1825.8 807.7 1827.8 807.7 1829.8 807.7 1831.8 807.7 1833.8 807.7 1835.8 807.7 1837.8 807.7 1839.8 807.7 1841.8 807.7 1843.8 807.7 1845.8 807.7 1847.8 807.7 1849.8 807.7 1851.8 807.7 1853.8 807.7 1855.8 807.7 1857.8 807.7 1859.8 807.7 1861.8 807.7 1863.8 807.7 1865.8 807.7 1867.8 807.7 1869.8 807.7 1871.8 807.7 1873.8 807.7 1875.8 807.7 1877.8 807.7 1879.8 807.7 1881.8 807.7 1883.8 807.7 1885.8 807.7 1887.8 807.7 1889.8 807.7 1891.8 807.7 1893.8 807.7 1895.8 807.7 1897.8 807.7 1899.8 807.7 1901.8 807.7 1903.8 807.7 1905.8 807.7 1907.8 807.7 1909.8 807.7 1911.8 807.7 1913.8 807.7 1915.8 807.7 1917.8 807.7 1919.8 807.7 1921.8 807.7 1923.8 807.7 1925.8 807.7 1927.8 807.7 1929.8 807.7 1931.8 807.7 1933.8 807.7 1935.8 807.7 1937.8 807.7 1939.8 807.7 1941.8 807.7 1943.8 807.7 1945.8 807.7 1947.8 807.7 1949.8 807.7 1951.8 807.7 1953.8 807.7 1955.8 807.7 1957.8 807.7 1959.8 807.7 1961.8 807.7 1963.8 807.7 1965.8 807.7 1967.8 807.7 1969.8 807.7 1971.8 807.7 1973.8 807.7 1975.8 807.7 1977.8 807.7" fill="none" stroke="#c8102e" stroke-width="2.3" stroke-linejoin="round"/><path d="M1371.8 928.1 1373.8 928.1 1375.8 928.1 1377.8 928.1 1379.8 928.1 1381.8 928.1 1383.8 928.1 1385.8 928.1 1387.8 928.1 1389.8 928.1 1391.8 928.1 1393.8 928.1 1395.8 928.1 1397.8 928.1 1399.8 928.1 1401.8 928.1 1403.8 928.1 1405.8 928.1 1407.8 928.1 1409.8 928.1 1411.8 928.1 1413.8 928.1 1415.8 928.1 1417.8 928.1 1419.8 928.1 1421.8 928.1 1423.8 928.1 1425.8 928.1 1427.8 928.1 1429.8 928.1 1431.8 928.1 1433.8 928.1 1435.8 928.1 1437.8 928 1439.8 927.9 1441.8 928.1 1443.8 927 1445.8 926.9 1447.8 926.2 1449.8 928.1 1451.8 928.1 1453.8 928.1 1455.8 928 1457.8 926 1459.8 928.1 1461.8 926.5 1463.8 927.5 1465.8 927.1 1467.8 926.4 1469.8 924.4 1471.8 925 1473.8 927.1 1475.8 925.6 1477.8 926.4 1479.8 923.7 1481.8 924.2 1483.8 924.4 1485.8 924.6 1487.8 925.2 1489.8 924.7 1491.8 925.5 1493.8 927.7 1495.8 925.1 1497.8 925.9 1499.8 924.2 1501.8 924.4 1503.8 924.4 1505.8 924.1 1507.8 923.2 1509.8 923 1511.8 923.3 1513.8 919 1515.8 918.3 1517.8 916.1 1519.8 915.9 1521.8 915 1523.8 911.8 1525.8 914.6 1527.8 908.5 1529.8 908.4 1531.8 908.6 1533.8 906.4 1535.8 901.5 1537.8 899.8 1539.8 894 1541.8 890 1543.8 889.3 1545.8 889 1547.8 883.5 1549.8 882.4 1551.8 876.4 1553.8 870.8 1555.8 866.5 1557.8 866.5 1559.8 860 1561.8 856.4 1563.8 860.1 1565.8 856.3 1567.8 853.5 1569.8 861.5 1571.8 861.2 1573.8 856.2 1575.8 856.4 1577.8 859.5 1579.8 866.3 1581.8 867 1583.8 865.9 1585.8 868.5 1587.8 871.7 1589.8 879.3 1591.8 876.3 1593.8 882.8 1595.8 882.4 1597.8 889.7 1599.8 885.2 1601.8 890.8 1603.8 892.3 1605.8 899.1 1607.8 898.2 1609.8 901 1611.8 903.4 1613.8 907.9 1615.8 906.3 1617.8 911 1619.8 912.8 1621.8 915.1 1623.8 912.6 1625.8 917.3 1627.8 917.3 1629.8 919 1631.8 916.2 1633.8 917.6 1635.8 918.5 1637.8 922.1 1639.8 920.6 1641.8 921.9 1643.8 923.9 1645.8 925.1 1647.8 920.5 1649.8 924.7 1651.8 923.9 1653.8 924 1655.8 922.6 1657.8 925 1659.8 923.2 1661.8 923.8 1663.8 921.6 1665.8 925.5 1667.8 924 1669.8 923.4 1671.8 921.5 1673.8 923.7 1675.8 924.1 1677.8 923.4 1679.8 925.3 1681.8 926.6 1683.8 924.8 1685.8 923.3 1687.8 924.2 1689.8 926.4 1691.8 924.8 1693.8 924.3 1695.8 926.8 1697.8 925.6 1699.8 926.6 1701.8 927.1 1703.8 927.1 1705.8 927.5 1707.8 927.1 1709.8 928.1 1711.8 927.1 1713.8 928.1 1715.8 926 1717.8 926.6 1719.8 928.1 1721.8 926.2 1723.8 928.1 1725.8 927.4 1727.8 927.2 1729.8 928.1 1731.8 928.1 1733.8 927.9 1735.8 928.1 1737.8 926.5 1739.8 927.8 1741.8 927.9 1743.8 927.9 1745.8 928 1747.8 928 1749.8 928.1 1751.8 928.1 1753.8 928.1 1755.8 928.1 1757.8 928.1 1759.8 928.1 1761.8 928.1 1763.8 928.1 1765.8 928.1 1767.8 928.1 1769.8 928.1 1771.8 928.1 1773.8 928.1 1775.8 928.1 1777.8 928.1 1779.8 928.1 1781.8 928.1 1783.8 928.1 1785.8 928.1 1787.8 928.1 1789.8 928.1 1791.8 928.1 1793.8 928.1 1795.8 928.1 1797.8 928.1 1799.8 928.1 1801.8 928.1 1803.8 928.1 1805.8 928.1 1807.8 928.1 1809.8 928.1 1811.8 928.1 1813.8 928.1 1815.8 928.1 1817.8 928.1 1819.8 928.1 1821.8 928.1 1823.8 928.1 1825.8 928.1 1827.8 928.1 1829.8 928.1 1831.8 928.1 1833.8 928.1 1835.8 928.1 1837.8 928.1 1839.8 928.1 1841.8 928.1 1843.8 928.1 1845.8 928.1 1847.8 928.1 1849.8 928.1 1851.8 928.1 1853.8 928.1 1855.8 928.1 1857.8 928.1 1859.8 928.1 1861.8 928.1 1863.8 928.1 1865.8 928.1 1867.8 928.1 1869.8 928.1 1871.8 928.1 1873.8 928.1 1875.8 928.1 1877.8 928.1 1879.8 928.1 1881.8 928.1 1883.8 928.1 1885.8 928.1 1887.8 928.1 1889.8 928.1 1891.8 928.1 1893.8 928.1 1895.8 928.1 1897.8 928.1 1899.8 928.1 1901.8 928.1 1903.8 928.1 1905.8 928.1 1907.8 928.1 1909.8 928.1 1911.8 928.1 1913.8 928.1 1915.8 928.1 1917.8 928.1 1919.8 928.1 1921.8 928.1 1923.8 928.1 1925.8 928.1 1927.8 928.1 1929.8 928.1 1931.8 928.1 1933.8 928.1 1935.8 928.1 1937.8 928.1 1939.8 928.1 1941.8 928.1 1943.8 928.1 1945.8 928.1 1947.8 928.1 1949.8 928.1 1951.8 928.1 1953.8 928.1 1955.8 928.1 1957.8 928.1 1959.8 928.1 1961.8 928.1 1963.8 928.1 1965.8 928.1 1967.8 928.1 1969.8 928.1 1971.8 928.1 1973.8 928.1 1975.8 928.1 1977.8 928.1L1978.8 928.1L1371.8 928.1Z" fill="#fcecea"/><path d="M1371.8 928.1 1373.8 928.1 1375.8 928.1 1377.8 928.1 1379.8 928.1 1381.8 928.1 1383.8 928.1 1385.8 928.1 1387.8 928.1 1389.8 928.1 1391.8 928.1 1393.8 928.1 1395.8 928.1 1397.8 928.1 1399.8 928.1 1401.8 928.1 1403.8 928.1 1405.8 928.1 1407.8 928.1 1409.8 928.1 1411.8 928.1 1413.8 928.1 1415.8 928.1 1417.8 928.1 1419.8 928.1 1421.8 928.1 1423.8 928.1 1425.8 928.1 1427.8 928.1 1429.8 928.1 1431.8 928.1 1433.8 928.1 1435.8 928.1 1437.8 928 1439.8 927.9 1441.8 928.1 1443.8 927 1445.8 926.9 1447.8 926.2 1449.8 928.1 1451.8 928.1 1453.8 928.1 1455.8 928 1457.8 926 1459.8 928.1 1461.8 926.5 1463.8 927.5 1465.8 927.1 1467.8 926.4 1469.8 924.4 1471.8 925 1473.8 927.1 1475.8 925.6 1477.8 926.4 1479.8 923.7 1481.8 924.2 1483.8 924.4 1485.8 924.6 1487.8 925.2 1489.8 924.7 1491.8 925.5 1493.8 927.7 1495.8 925.1 1497.8 925.9 1499.8 924.2 1501.8 924.4 1503.8 924.4 1505.8 924.1 1507.8 923.2 1509.8 923 1511.8 923.3 1513.8 919 1515.8 918.3 1517.8 916.1 1519.8 915.9 1521.8 915 1523.8 911.8 1525.8 914.6 1527.8 908.5 1529.8 908.4 1531.8 908.6 1533.8 906.4 1535.8 901.5 1537.8 899.8 1539.8 894 1541.8 890 1543.8 889.3 1545.8 889 1547.8 883.5 1549.8 882.4 1551.8 876.4 1553.8 870.8 1555.8 866.5 1557.8 866.5 1559.8 860 1561.8 856.4 1563.8 860.1 1565.8 856.3 1567.8 853.5 1569.8 861.5 1571.8 861.2 1573.8 856.2 1575.8 856.4 1577.8 859.5 1579.8 866.3 1581.8 867 1583.8 865.9 1585.8 868.5 1587.8 871.7 1589.8 879.3 1591.8 876.3 1593.8 882.8 1595.8 882.4 1597.8 889.7 1599.8 885.2 1601.8 890.8 1603.8 892.3 1605.8 899.1 1607.8 898.2 1609.8 901 1611.8 903.4 1613.8 907.9 1615.8 906.3 1617.8 911 1619.8 912.8 1621.8 915.1 1623.8 912.6 1625.8 917.3 1627.8 917.3 1629.8 919 1631.8 916.2 1633.8 917.6 1635.8 918.5 1637.8 922.1 1639.8 920.6 1641.8 921.9 1643.8 923.9 1645.8 925.1 1647.8 920.5 1649.8 924.7 1651.8 923.9 1653.8 924 1655.8 922.6 1657.8 925 1659.8 923.2 1661.8 923.8 1663.8 921.6 1665.8 925.5 1667.8 924 1669.8 923.4 1671.8 921.5 1673.8 923.7 1675.8 924.1 1677.8 923.4 1679.8 925.3 1681.8 926.6 1683.8 924.8 1685.8 923.3 1687.8 924.2 1689.8 926.4 1691.8 924.8 1693.8 924.3 1695.8 926.8 1697.8 925.6 1699.8 926.6 1701.8 927.1 1703.8 927.1 1705.8 927.5 1707.8 927.1 1709.8 928.1 1711.8 927.1 1713.8 928.1 1715.8 926 1717.8 926.6 1719.8 928.1 1721.8 926.2 1723.8 928.1 1725.8 927.4 1727.8 927.2 1729.8 928.1 1731.8 928.1 1733.8 927.9 1735.8 928.1 1737.8 926.5 1739.8 927.8 1741.8 927.9 1743.8 927.9 1745.8 928 1747.8 928 1749.8 928.1 1751.8 928.1 1753.8 928.1 1755.8 928.1 1757.8 928.1 1759.8 928.1 1761.8 928.1 1763.8 928.1 1765.8 928.1 1767.8 928.1 1769.8 928.1 1771.8 928.1 1773.8 928.1 1775.8 928.1 1777.8 928.1 1779.8 928.1 1781.8 928.1 1783.8 928.1 1785.8 928.1 1787.8 928.1 1789.8 928.1 1791.8 928.1 1793.8 928.1 1795.8 928.1 1797.8 928.1 1799.8 928.1 1801.8 928.1 1803.8 928.1 1805.8 928.1 1807.8 928.1 1809.8 928.1 1811.8 928.1 1813.8 928.1 1815.8 928.1 1817.8 928.1 1819.8 928.1 1821.8 928.1 1823.8 928.1 1825.8 928.1 1827.8 928.1 1829.8 928.1 1831.8 928.1 1833.8 928.1 1835.8 928.1 1837.8 928.1 1839.8 928.1 1841.8 928.1 1843.8 928.1 1845.8 928.1 1847.8 928.1 1849.8 928.1 1851.8 928.1 1853.8 928.1 1855.8 928.1 1857.8 928.1 1859.8 928.1 1861.8 928.1 1863.8 928.1 1865.8 928.1 1867.8 928.1 1869.8 928.1 1871.8 928.1 1873.8 928.1 1875.8 928.1 1877.8 928.1 1879.8 928.1 1881.8 928.1 1883.8 928.1 1885.8 928.1 1887.8 928.1 1889.8 928.1 1891.8 928.1 1893.8 928.1 1895.8 928.1 1897.8 928.1 1899.8 928.1 1901.8 928.1 1903.8 928.1 1905.8 928.1 1907.8 928.1 1909.8 928.1 1911.8 928.1 1913.8 928.1 1915.8 928.1 1917.8 928.1 1919.8 928.1 1921.8 928.1 1923.8 928.1 1925.8 928.1 1927.8 928.1 1929.8 928.1 1931.8 928.1 1933.8 928.1 1935.8 928.1 1937.8 928.1 1939.8 928.1 1941.8 928.1 1943.8 928.1 1945.8 928.1 1947.8 928.1 1949.8 928.1 1951.8 928.1 1953.8 928.1 1955.8 928.1 1957.8 928.1 1959.8 928.1 1961.8 928.1 1963.8 928.1 1965.8 928.1 1967.8 928.1 1969.8 928.1 1971.8 928.1 1973.8 928.1 1975.8 928.1 1977.8 928.1" fill="none" stroke="#ee9512" stroke-width="2.3" stroke-linejoin="round"/><path d="M1371.8 1049.3 1373.8 1049.3 1375.8 1049.3 1377.8 1049.3 1379.8 1049.3 1381.8 1049.3 1383.8 1049.3 1385.8 1049.3 1387.8 1049.3 1389.8 1049.3 1391.8 1049.3 1393.8 1049.3 1395.8 1049.3 1397.8 1049.3 1399.8 1049.3 1401.8 1049.3 1403.8 1049.3 1405.8 1049.3 1407.8 1049.3 1409.8 1049.3 1411.8 1049.3 1413.8 1049.3 1415.8 1049.3 1417.8 1049.3 1419.8 1049.3 1421.8 1049.3 1423.8 1049.3 1425.8 1049.3 1427.8 1049.3 1429.8 1049.3 1431.8 1049.3 1433.8 1049.3 1435.8 1049.3 1437.8 1049.3 1439.8 1049.3 1441.8 1049.3 1443.8 1049.3 1445.8 1049.3 1447.8 1049.3 1449.8 1049.3 1451.8 1049.3 1453.8 1049 1455.8 1049.3 1457.8 1047.3 1459.8 1047 1461.8 1045.3 1463.8 1047.5 1465.8 1047.1 1467.8 1044.5 1469.8 1044.3 1471.8 1045.4 1473.8 1043.3 1475.8 1044.8 1477.8 1043.3 1479.8 1046.5 1481.8 1046.2 1483.8 1043.4 1485.8 1045.9 1487.8 1046.3 1489.8 1044 1491.8 1044.7 1493.8 1046.8 1495.8 1045.1 1497.8 1044.6 1499.8 1046.8 1501.8 1044.6 1503.8 1046.9 1505.8 1046 1507.8 1047.1 1509.8 1046.6 1511.8 1043.2 1513.8 1045.7 1515.8 1043.2 1517.8 1045.6 1519.8 1044.7 1521.8 1042.8 1523.8 1042.9 1525.8 1045 1527.8 1042 1529.8 1041 1531.8 1042.5 1533.8 1041.6 1535.8 1035.3 1537.8 1036.1 1539.8 1036.9 1541.8 1031 1543.8 1028.2 1545.8 1018.6 1547.8 1016.3 1549.8 1015.3 1551.8 1006.8 1553.8 1010.4 1555.8 1006.3 1557.8 1006 1559.8 996.6 1561.8 997.8 1563.8 990.4 1565.8 990 1567.8 982.8 1569.8 978 1571.8 976.3 1573.8 974 1575.8 970.7 1577.8 968.9 1579.8 966.6 1581.8 969.8 1583.8 965.6 1585.8 969.2 1587.8 965.6 1589.8 966.7 1591.8 975.8 1593.8 976.1 1595.8 971 1597.8 971.9 1599.8 981.6 1601.8 980.8 1603.8 983.8 1605.8 992.1 1607.8 996.1 1609.8 997.6 1611.8 998 1613.8 1008.4 1615.8 1012.7 1617.8 1018.3 1619.8 1019.3 1621.8 1025.3 1623.8 1031.7 1625.8 1034.5 1627.8 1038.6 1629.8 1038.4 1631.8 1036 1633.8 1040.2 1635.8 1043 1637.8 1040.4 1639.8 1044.1 1641.8 1045.4 1643.8 1047.1 1645.8 1047.3 1647.8 1047.3 1649.8 1047.4 1651.8 1045 1653.8 1047.6 1655.8 1047.9 1657.8 1046.7 1659.8 1045.7 1661.8 1048.3 1663.8 1046.7 1665.8 1048.4 1667.8 1047.9 1669.8 1047.9 1671.8 1046.6 1673.8 1047.3 1675.8 1048.2 1677.8 1047 1679.8 1048.7 1681.8 1048.6 1683.8 1046.5 1685.8 1048.1 1687.8 1047.2 1689.8 1048.9 1691.8 1046.7 1693.8 1047.8 1695.8 1049.1 1697.8 1046.7 1699.8 1048.3 1701.8 1048.8 1703.8 1049.1 1705.8 1049.3 1707.8 1049.3 1709.8 1047.5 1711.8 1049.3 1713.8 1049.1 1715.8 1048.4 1717.8 1048.1 1719.8 1048.7 1721.8 1047.2 1723.8 1049.1 1725.8 1048.7 1727.8 1048.5 1729.8 1049.3 1731.8 1049.3 1733.8 1049.3 1735.8 1047.5 1737.8 1049.3 1739.8 1047.7 1741.8 1049.3 1743.8 1047.8 1745.8 1047.7 1747.8 1048.8 1749.8 1046.7 1751.8 1047.7 1753.8 1048.1 1755.8 1049.3 1757.8 1048.6 1759.8 1049.1 1761.8 1048.5 1763.8 1046.9 1765.8 1047.3 1767.8 1049.3 1769.8 1048.2 1771.8 1047.4 1773.8 1048.8 1775.8 1049.1 1777.8 1049.2 1779.8 1049.3 1781.8 1049.3 1783.8 1049.3 1785.8 1049.3 1787.8 1049.3 1789.8 1049.3 1791.8 1049.3 1793.8 1049.3 1795.8 1049.3 1797.8 1049.3 1799.8 1049.3 1801.8 1049.3 1803.8 1049.3 1805.8 1049.3 1807.8 1049.3 1809.8 1049.3 1811.8 1049.3 1813.8 1049.3 1815.8 1049.3 1817.8 1049.3 1819.8 1049.3 1821.8 1049.3 1823.8 1049.3 1825.8 1049.3 1827.8 1049.3 1829.8 1049.3 1831.8 1049.3 1833.8 1049.3 1835.8 1049.3 1837.8 1049.3 1839.8 1049.3 1841.8 1049.3 1843.8 1049.3 1845.8 1049.3 1847.8 1049.3 1849.8 1049.3 1851.8 1049.3 1853.8 1049.3 1855.8 1049.3 1857.8 1049.3 1859.8 1049.3 1861.8 1049.3 1863.8 1049.3 1865.8 1049.3 1867.8 1049.3 1869.8 1049.3 1871.8 1049.3 1873.8 1049.3 1875.8 1049.3 1877.8 1049.3 1879.8 1049.3 1881.8 1049.3 1883.8 1049.3 1885.8 1049.3 1887.8 1049.3 1889.8 1049.3 1891.8 1049.3 1893.8 1049.3 1895.8 1049.3 1897.8 1049.3 1899.8 1049.3 1901.8 1049.3 1903.8 1049.3 1905.8 1049.3 1907.8 1049.3 1909.8 1049.3 1911.8 1049.3 1913.8 1049.3 1915.8 1049.3 1917.8 1049.3 1919.8 1049.3 1921.8 1049.3 1923.8 1049.3 1925.8 1049.3 1927.8 1049.3 1929.8 1049.3 1931.8 1049.3 1933.8 1049.3 1935.8 1049.3 1937.8 1049.3 1939.8 1049.3 1941.8 1049.3 1943.8 1049.3 1945.8 1049.3 1947.8 1049.3 1949.8 1049.3 1951.8 1049.3 1953.8 1049.3 1955.8 1049.3 1957.8 1049.3 1959.8 1049.3 1961.8 1049.3 1963.8 1049.3 1965.8 1049.3 1967.8 1049.3 1969.8 1049.3 1971.8 1049.3 1973.8 1049.3 1975.8 1049.3 1977.8 1049.3L1978.8 1049.3L1371.8 1049.3Z" fill="#ecf6fc"/><path d="M1371.8 1049.3 1373.8 1049.3 1375.8 1049.3 1377.8 1049.3 1379.8 1049.3 1381.8 1049.3 1383.8 1049.3 1385.8 1049.3 1387.8 1049.3 1389.8 1049.3 1391.8 1049.3 1393.8 1049.3 1395.8 1049.3 1397.8 1049.3 1399.8 1049.3 1401.8 1049.3 1403.8 1049.3 1405.8 1049.3 1407.8 1049.3 1409.8 1049.3 1411.8 1049.3 1413.8 1049.3 1415.8 1049.3 1417.8 1049.3 1419.8 1049.3 1421.8 1049.3 1423.8 1049.3 1425.8 1049.3 1427.8 1049.3 1429.8 1049.3 1431.8 1049.3 1433.8 1049.3 1435.8 1049.3 1437.8 1049.3 1439.8 1049.3 1441.8 1049.3 1443.8 1049.3 1445.8 1049.3 1447.8 1049.3 1449.8 1049.3 1451.8 1049.3 1453.8 1049 1455.8 1049.3 1457.8 1047.3 1459.8 1047 1461.8 1045.3 1463.8 1047.5 1465.8 1047.1 1467.8 1044.5 1469.8 1044.3 1471.8 1045.4 1473.8 1043.3 1475.8 1044.8 1477.8 1043.3 1479.8 1046.5 1481.8 1046.2 1483.8 1043.4 1485.8 1045.9 1487.8 1046.3 1489.8 1044 1491.8 1044.7 1493.8 1046.8 1495.8 1045.1 1497.8 1044.6 1499.8 1046.8 1501.8 1044.6 1503.8 1046.9 1505.8 1046 1507.8 1047.1 1509.8 1046.6 1511.8 1043.2 1513.8 1045.7 1515.8 1043.2 1517.8 1045.6 1519.8 1044.7 1521.8 1042.8 1523.8 1042.9 1525.8 1045 1527.8 1042 1529.8 1041 1531.8 1042.5 1533.8 1041.6 1535.8 1035.3 1537.8 1036.1 1539.8 1036.9 1541.8 1031 1543.8 1028.2 1545.8 1018.6 1547.8 1016.3 1549.8 1015.3 1551.8 1006.8 1553.8 1010.4 1555.8 1006.3 1557.8 1006 1559.8 996.6 1561.8 997.8 1563.8 990.4 1565.8 990 1567.8 982.8 1569.8 978 1571.8 976.3 1573.8 974 1575.8 970.7 1577.8 968.9 1579.8 966.6 1581.8 969.8 1583.8 965.6 1585.8 969.2 1587.8 965.6 1589.8 966.7 1591.8 975.8 1593.8 976.1 1595.8 971 1597.8 971.9 1599.8 981.6 1601.8 980.8 1603.8 983.8 1605.8 992.1 1607.8 996.1 1609.8 997.6 1611.8 998 1613.8 1008.4 1615.8 1012.7 1617.8 1018.3 1619.8 1019.3 1621.8 1025.3 1623.8 1031.7 1625.8 1034.5 1627.8 1038.6 1629.8 1038.4 1631.8 1036 1633.8 1040.2 1635.8 1043 1637.8 1040.4 1639.8 1044.1 1641.8 1045.4 1643.8 1047.1 1645.8 1047.3 1647.8 1047.3 1649.8 1047.4 1651.8 1045 1653.8 1047.6 1655.8 1047.9 1657.8 1046.7 1659.8 1045.7 1661.8 1048.3 1663.8 1046.7 1665.8 1048.4 1667.8 1047.9 1669.8 1047.9 1671.8 1046.6 1673.8 1047.3 1675.8 1048.2 1677.8 1047 1679.8 1048.7 1681.8 1048.6 1683.8 1046.5 1685.8 1048.1 1687.8 1047.2 1689.8 1048.9 1691.8 1046.7 1693.8 1047.8 1695.8 1049.1 1697.8 1046.7 1699.8 1048.3 1701.8 1048.8 1703.8 1049.1 1705.8 1049.3 1707.8 1049.3 1709.8 1047.5 1711.8 1049.3 1713.8 1049.1 1715.8 1048.4 1717.8 1048.1 1719.8 1048.7 1721.8 1047.2 1723.8 1049.1 1725.8 1048.7 1727.8 1048.5 1729.8 1049.3 1731.8 1049.3 1733.8 1049.3 1735.8 1047.5 1737.8 1049.3 1739.8 1047.7 1741.8 1049.3 1743.8 1047.8 1745.8 1047.7 1747.8 1048.8 1749.8 1046.7 1751.8 1047.7 1753.8 1048.1 1755.8 1049.3 1757.8 1048.6 1759.8 1049.1 1761.8 1048.5 1763.8 1046.9 1765.8 1047.3 1767.8 1049.3 1769.8 1048.2 1771.8 1047.4 1773.8 1048.8 1775.8 1049.1 1777.8 1049.2 1779.8 1049.3 1781.8 1049.3 1783.8 1049.3 1785.8 1049.3 1787.8 1049.3 1789.8 1049.3 1791.8 1049.3 1793.8 1049.3 1795.8 1049.3 1797.8 1049.3 1799.8 1049.3 1801.8 1049.3 1803.8 1049.3 1805.8 1049.3 1807.8 1049.3 1809.8 1049.3 1811.8 1049.3 1813.8 1049.3 1815.8 1049.3 1817.8 1049.3 1819.8 1049.3 1821.8 1049.3 1823.8 1049.3 1825.8 1049.3 1827.8 1049.3 1829.8 1049.3 1831.8 1049.3 1833.8 1049.3 1835.8 1049.3 1837.8 1049.3 1839.8 1049.3 1841.8 1049.3 1843.8 1049.3 1845.8 1049.3 1847.8 1049.3 1849.8 1049.3 1851.8 1049.3 1853.8 1049.3 1855.8 1049.3 1857.8 1049.3 1859.8 1049.3 1861.8 1049.3 1863.8 1049.3 1865.8 1049.3 1867.8 1049.3 1869.8 1049.3 1871.8 1049.3 1873.8 1049.3 1875.8 1049.3 1877.8 1049.3 1879.8 1049.3 1881.8 1049.3 1883.8 1049.3 1885.8 1049.3 1887.8 1049.3 1889.8 1049.3 1891.8 1049.3 1893.8 1049.3 1895.8 1049.3 1897.8 1049.3 1899.8 1049.3 1901.8 1049.3 1903.8 1049.3 1905.8 1049.3 1907.8 1049.3 1909.8 1049.3 1911.8 1049.3 1913.8 1049.3 1915.8 1049.3 1917.8 1049.3 1919.8 1049.3 1921.8 1049.3 1923.8 1049.3 1925.8 1049.3 1927.8 1049.3 1929.8 1049.3 1931.8 1049.3 1933.8 1049.3 1935.8 1049.3 1937.8 1049.3 1939.8 1049.3 1941.8 1049.3 1943.8 1049.3 1945.8 1049.3 1947.8 1049.3 1949.8 1049.3 1951.8 1049.3 1953.8 1049.3 1955.8 1049.3 1957.8 1049.3 1959.8 1049.3 1961.8 1049.3 1963.8 1049.3 1965.8 1049.3 1967.8 1049.3 1969.8 1049.3 1971.8 1049.3 1973.8 1049.3 1975.8 1049.3 1977.8 1049.3" fill="none" stroke="#1cc6f2" stroke-width="2.6" stroke-linejoin="round"/><path d="M1495 1170.5 1502.7 1170.5 1508.3 1166.5 1512 1167.5 1517.4 1162 1523 1154.6 1527.6 1144.4 1529.8 1134.2 1534.4 1126.3 1538.9 1109.3 1541.7 1092.3 1544.6 1086.6 1548.5 1070.2 1550 1071.5 1552.5 1060.6 1555.3 1053.2 1558.2 1064.6 1560.4 1053.2 1563.8 1057.8 1567.2 1069.7 1570.6 1075.3 1572.9 1085.5 1575.2 1103.6 1579.7 1111.6 1582 1126.3 1586.5 1134.2 1589.9 1147.8 1595.5 1153.5 1600.1 1161.4 1604 1166.5 1608 1168.2 1613.7 1167.7 1621.6 1170.5 1640 1170.5Z" fill="#d9d7d3" stroke="#231815" stroke-width="1.5" stroke-linejoin="round"/><rect x="1371.8" y="563.3" width="607" height="607.2" fill="none" stroke="#000" stroke-width="2"/><path d="M1397.8 1170.5V1187.5M1402.5 1170.5V1178.5M1408.8 1170.5V1178.5M1413.6 1170.5V1178.5M1418.3 1170.5V1178.5M1427.7 1170.5V1182.5M1435.6 1170.5V1178.5M1443.5 1170.5V1178.5M1451.4 1170.5V1178.5M1457.7 1170.5V1187.5M1460.8 1170.5V1178.5M1464 1170.5V1178.5M1468.7 1170.5V1187.5M1471.8 1170.5V1178.5M1476.6 1170.5V1187.5M1486 1170.5V1178.5M1493.9 1170.5V1178.5M1500.2 1170.5V1178.5M1508.5 1170.5V1187.5M1515.9 1170.5V1178.5M1522.2 1170.5V1178.5M1528.5 1170.5V1178.5M1533.3 1170.5V1178.5M1539.8 1170.5V1187.5M1577.7 1170.5V1178.5M1599.4 1170.5V1178.5M1613.6 1170.5V1178.5M1625.5 1170.5V1187.5M1634 1170.5V1178.5M1641.9 1170.5V1178.5M1648.2 1170.5V1178.5M1652.9 1170.5V1178.5M1657.7 1170.5V1187.5M1688.5 1170.5V1178.5M1706.5 1170.5V1178.5M1719.3 1170.5V1178.5M1729.2 1170.5V1182.5M1737.3 1170.5V1178.5M1744.2 1170.5V1178.5M1750.1 1170.5V1178.5M1755.3 1170.5V1178.5M1760 1170.5V1187.5M1789.4 1170.5V1178.5M1806.6 1170.5V1178.5M1818.8 1170.5V1178.5M1828.3 1170.5V1182.5M1836 1170.5V1178.5M1842.6 1170.5V1178.5M1848.2 1170.5V1178.5M1853.2 1170.5V1178.5M1857.7 1170.5V1187.5M1886.9 1170.5V1178.5M1904 1170.5V1178.5M1916.1 1170.5V1178.5M1925.5 1170.5V1182.5M1933.2 1170.5V1178.5M1939.7 1170.5V1178.5M1945.3 1170.5V1178.5M1950.3 1170.5V1178.5M1954.7 1170.5V1187.5" stroke="#000" stroke-width="2.6" fill="none"/><text x="1477" y="1229" text-anchor="middle" fill="#000" style="font-family:'Liberation Serif',serif;font-size:26.5px" >0</text><text x="1652" y="1229" text-anchor="start" fill="#000" style="font-family:'Liberation Serif',serif;font-size:26.5px" >10</text><text x="1685.2" y="1210" text-anchor="start" fill="#000" style="font-family:'Liberation Serif',serif;font-size:26.5px" >4</text><text x="1753.3" y="1229" text-anchor="start" fill="#000" style="font-family:'Liberation Serif',serif;font-size:26.5px" >10</text><text x="1787.6" y="1210" text-anchor="start" fill="#000" style="font-family:'Liberation Serif',serif;font-size:26.5px" >5</text><text x="1851.6" y="1229" text-anchor="start" fill="#000" style="font-family:'Liberation Serif',serif;font-size:26.5px" >10</text><text x="1883.7" y="1210" text-anchor="start" fill="#000" style="font-family:'Liberation Serif',serif;font-size:26.5px" >6</text><text x="1927.2" y="1229" text-anchor="start" fill="#000" style="font-family:'Liberation Serif',serif;font-size:26.5px" >10</text><text x="1962.2" y="1210" text-anchor="start" fill="#000" style="font-family:'Liberation Serif',serif;font-size:26.5px" >7</text><text x="1883" y="627" text-anchor="middle" fill="#000" style="font-family:'Liberation Sans','Noto Sans CJK SC',sans-serif;font-size:26px" >R6 LNPs</text><text x="1875.6" y="654" text-anchor="middle" fill="#000" style="font-family:'Liberation Sans','Noto Sans CJK SC',sans-serif;font-size:26px" >51.0%</text><text x="1867" y="755.7" text-anchor="middle" fill="#000" style="font-family:'Liberation Sans','Noto Sans CJK SC',sans-serif;font-size:26px" >ALC-0315</text><text x="1872.7" y="784.2" text-anchor="middle" fill="#000" style="font-family:'Liberation Sans','Noto Sans CJK SC',sans-serif;font-size:26px" >48.1%</text><text x="1867.5" y="879.7" text-anchor="middle" fill="#000" style="font-family:'Liberation Sans','Noto Sans CJK SC',sans-serif;font-size:26px" >MC3</text><text x="1869" y="904.3" text-anchor="middle" fill="#000" style="font-family:'Liberation Sans','Noto Sans CJK SC',sans-serif;font-size:26px" >9.80%</text><text x="1864" y="995.7" text-anchor="middle" fill="#000" style="font-family:'Liberation Sans','Noto Sans CJK SC',sans-serif;font-size:26px" >H9</text><text x="1872.7" y="1022.5" text-anchor="middle" fill="#000" style="font-family:'Liberation Sans','Noto Sans CJK SC',sans-serif;font-size:26px" >6.76%</text><text x="1865" y="1130" text-anchor="middle" fill="#000" style="font-family:'Liberation Sans','Noto Sans CJK SC',sans-serif;font-size:26px" >Cnotrol</text><text x="1869" y="1158.5" text-anchor="middle" fill="#000" style="font-family:'Liberation Sans','Noto Sans CJK SC',sans-serif;font-size:26px" >0.14%</text></svg></body></html>
